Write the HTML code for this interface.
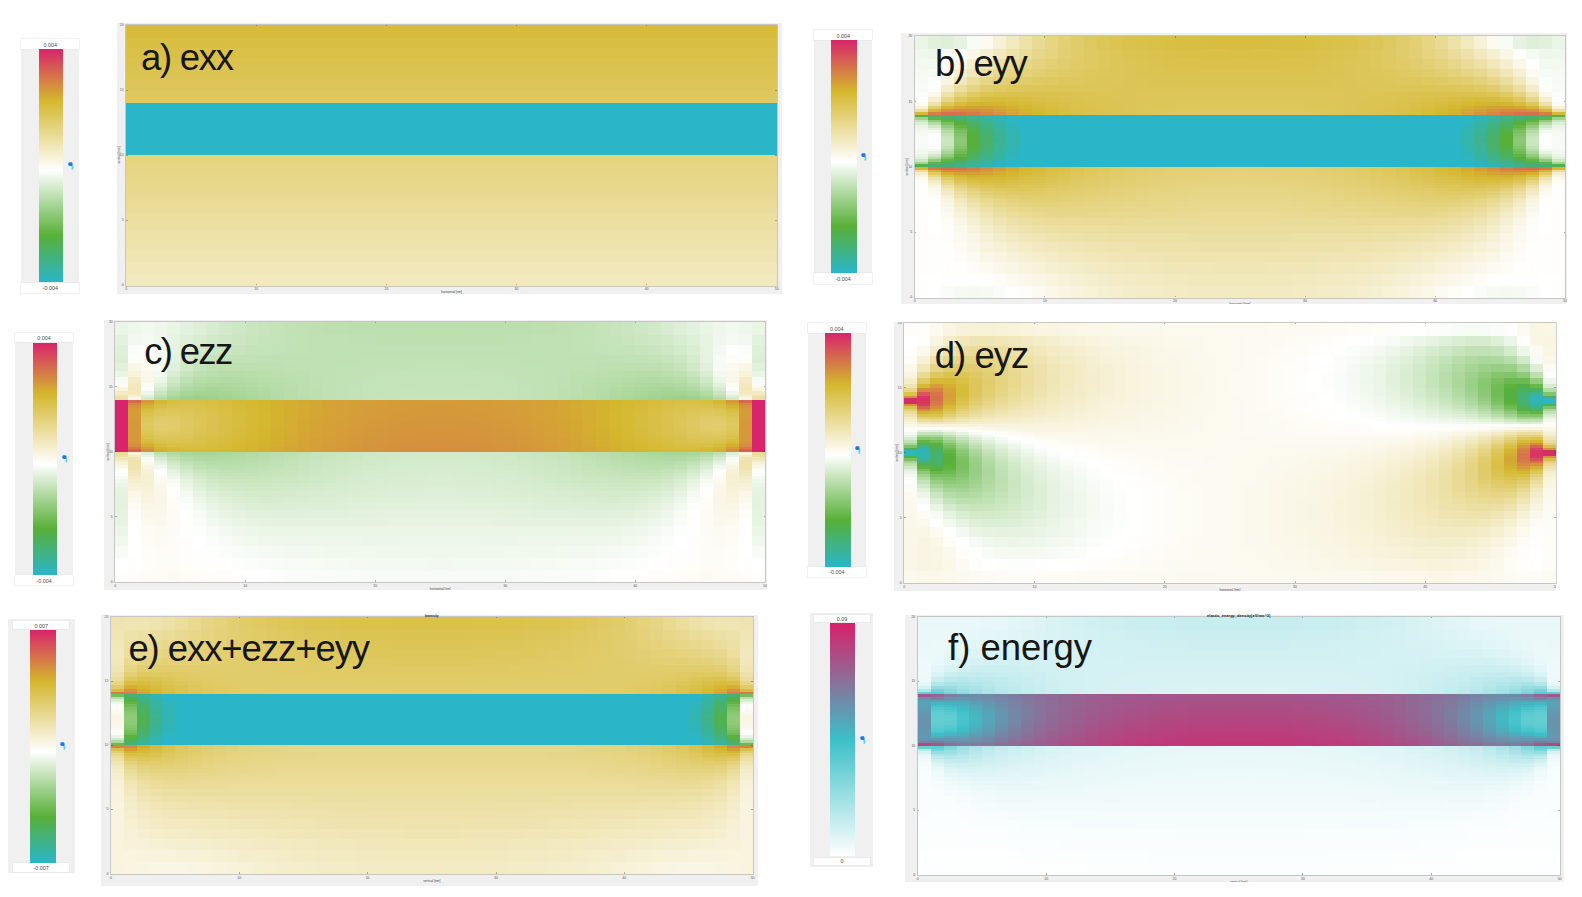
<!DOCTYPE html><html><head><meta charset="utf-8"><title>strain maps</title><style>
html,body{margin:0;padding:0;background:#fff}
body{width:1582px;height:897px;position:relative;overflow:hidden;font-family:"Liberation Sans", sans-serif}
div,i,b,span,svg{position:absolute;display:block}
.fr{background:#f0f0f0}
.plot{overflow:hidden;box-shadow:0 0 0 1px rgba(140,140,132,.42)}
.plot u{position:absolute;display:block;left:-2px;top:0;width:calc(100% + 4px);height:100%;filter:blur(.45px)}
.plot i{top:0;height:100%}
.cbp{background:#f0f0f0}
.cbx{background:#fff;box-shadow:0 0 0 .5px #e4e4e4;text-align:center;font-size:5.4px;color:#4a4a4a;padding-top:.8px;box-sizing:border-box}
.arr{overflow:visible;filter:blur(.35px)}
.tw{overflow:hidden}
.tk{font-size:3.5px;line-height:6px;width:10px;text-align:center;color:#555}
.tx{font-size:3.2px;color:#444}
.tt{font-size:4.2px;line-height:6px;font-weight:bold;text-align:center;color:#222}
.tky{width:10px;text-align:right}
.tv{transform:rotate(-90deg)}
.tm{background:rgba(60,60,60,.4)}
.lb{color:#161616;white-space:nowrap}

</style></head><body>
<div class="cbp" style="left:21.2px;top:39.3px;width:58.2px;height:254.1px"></div><div class="cbx" style="left:21.2px;top:39.3px;width:58.2px;height:10.0px;line-height:10.0px">0.004</div><div class="cbx" style="left:21.2px;top:282.5px;width:58.2px;height:10.9px;line-height:10.9px">-0.004</div><div class="cbs" style="left:38.9px;top:49.4px;width:24.3px;height:232.9px;background:linear-gradient(#d8246c 0%,#d4b72d 22%,#fff 52.2%,#58b038 80%,#2ab5c9 100%)"></div><svg class="arr" style="left:67.6px;top:162.2px" width="6" height="8" viewBox="0 0 6 8"><path d="M3.3 3 Q5.3 4.4 4.3 6.9" stroke="#62d0ec" stroke-width="1.7" fill="none" stroke-linecap="round"/><rect x=".3" y=".3" width="4.2" height="3.7" rx="1.4" fill="#1a78ea"/></svg>
<div class="cbp" style="left:814.0px;top:30.0px;width:58.4px;height:253.7px"></div><div class="cbx" style="left:814.0px;top:30.0px;width:58.4px;height:10.3px;line-height:10.3px">0.004</div><div class="cbx" style="left:814.0px;top:273.4px;width:58.4px;height:10.3px;line-height:10.3px">-0.004</div><div class="cbs" style="left:831.2px;top:40.3px;width:25.6px;height:233.1px;background:linear-gradient(#d8246c 0%,#d4b72d 22%,#fff 52.2%,#58b038 80%,#2ab5c9 100%)"></div><svg class="arr" style="left:861.0px;top:152.5px" width="6" height="8" viewBox="0 0 6 8"><path d="M3.3 3 Q5.3 4.4 4.3 6.9" stroke="#62d0ec" stroke-width="1.7" fill="none" stroke-linecap="round"/><rect x=".3" y=".3" width="4.2" height="3.7" rx="1.4" fill="#1a78ea"/></svg>
<div class="cbp" style="left:15.0px;top:333.1px;width:58.0px;height:252.2px"></div><div class="cbx" style="left:15.0px;top:333.1px;width:58.0px;height:9.4px;line-height:9.4px">0.004</div><div class="cbx" style="left:15.0px;top:575.3px;width:58.0px;height:10.0px;line-height:10.0px">-0.004</div><div class="cbs" style="left:32.5px;top:342.5px;width:24.6px;height:232.8px;background:linear-gradient(#d8246c 0%,#d4b72d 22%,#fff 52.2%,#58b038 80%,#2ab5c9 100%)"></div><svg class="arr" style="left:61.6px;top:455.0px" width="6" height="8" viewBox="0 0 6 8"><path d="M3.3 3 Q5.3 4.4 4.3 6.9" stroke="#62d0ec" stroke-width="1.7" fill="none" stroke-linecap="round"/><rect x=".3" y=".3" width="4.2" height="3.7" rx="1.4" fill="#1a78ea"/></svg>
<div class="cbp" style="left:807.5px;top:323.1px;width:58.7px;height:253.8px"></div><div class="cbx" style="left:807.5px;top:323.1px;width:58.7px;height:10.3px;line-height:10.3px">0.004</div><div class="cbx" style="left:807.5px;top:566.6px;width:58.7px;height:10.3px;line-height:10.3px">-0.004</div><div class="cbs" style="left:825.0px;top:333.4px;width:25.6px;height:233.2px;background:linear-gradient(#d8246c 0%,#d4b72d 22%,#fff 52.2%,#58b038 80%,#2ab5c9 100%)"></div><svg class="arr" style="left:854.7px;top:445.6px" width="6" height="8" viewBox="0 0 6 8"><path d="M3.3 3 Q5.3 4.4 4.3 6.9" stroke="#62d0ec" stroke-width="1.7" fill="none" stroke-linecap="round"/><rect x=".3" y=".3" width="4.2" height="3.7" rx="1.4" fill="#1a78ea"/></svg>
<div class="cbp" style="left:7.8px;top:619.0px;width:67.2px;height:254.4px"></div><div class="cbx" style="left:13.1px;top:621.2px;width:56.2px;height:8.1px;line-height:8.1px">0.007</div><div class="cbx" style="left:13.1px;top:863.4px;width:56.2px;height:8.5px;line-height:8.5px">-0.007</div><div class="cbs" style="left:30.0px;top:629.5px;width:25.6px;height:233.0px;background:linear-gradient(#d8246c 0%,#d4b72d 22%,#fff 52.2%,#58b038 80%,#2ab5c9 100%)"></div><svg class="arr" style="left:59.7px;top:742.1px" width="6" height="8" viewBox="0 0 6 8"><path d="M3.3 3 Q5.3 4.4 4.3 6.9" stroke="#62d0ec" stroke-width="1.7" fill="none" stroke-linecap="round"/><rect x=".3" y=".3" width="4.2" height="3.7" rx="1.4" fill="#1a78ea"/></svg>
<div class="cbp" style="left:810.1px;top:613.3px;width:63.0px;height:253.6px"></div><div class="cbx" style="left:813.7px;top:614.9px;width:56.8px;height:7.6px;line-height:7.6px">0.09</div><div class="cbx" style="left:813.7px;top:857.5px;width:56.8px;height:7.8px;line-height:7.8px">0</div><div class="cbs" style="left:830.3px;top:623.4px;width:24.9px;height:232.6px;background:linear-gradient(#d8206a 0%,#3cc0c8 50%,#fff 100%)"></div><svg class="arr" style="left:860.0px;top:735.6px" width="6" height="8" viewBox="0 0 6 8"><path d="M3.3 3 Q5.3 4.4 4.3 6.9" stroke="#62d0ec" stroke-width="1.7" fill="none" stroke-linecap="round"/><rect x=".3" y=".3" width="4.2" height="3.7" rx="1.4" fill="#1a78ea"/></svg>
<div class="fr" style="left:117.0px;top:22.6px;width:664.9px;height:271.2px"></div>
<div class="fr" style="left:901.4px;top:33.2px;width:666.1px;height:270.4px"></div>
<div class="fr" style="left:104.3px;top:319.6px;width:662.6px;height:270.9px"></div>
<div class="fr" style="left:893.8px;top:322.0px;width:662.7px;height:268.7px"></div>
<div class="fr" style="left:101.1px;top:614.9px;width:656.9px;height:270.9px"></div>
<div class="fr" style="left:904.9px;top:614.9px;width:659.3px;height:267.1px"></div>
<div class="plot" style="left:126px;top:24.9px;width:651px;height:260.8px"><u><i style="left:0px;width:15px;background:linear-gradient(#d7bc3c 5.02%,#d8be42 0 8.88%,#d9c047 0 12.54%,#dac24c 0 15.8%,#dbc350 0 18.71%,#dcc454 0 21.22%,#ddc557 0 23.33%,#ddc659 0 25.08%,#dec75c 0 26.64%,#dec85e 0 27.99%,#dec85f 0 29%,#dfc961 0 30%,#2ab5c9 0 50%,#e5d37e 0 51%,#e5d37f 0 52%,#e5d480 0 53%,#e5d482 0 54%,#e6d583 0 55.01%,#e6d585 0 56.01%,#e6d686 0 57.06%,#e7d687 0 58.16%,#e7d789 0 59.31%,#e7d78b 0 60.56%,#e8d88c 0 61.91%,#e8d88e 0 63.41%,#e8d991 0 65.12%,#e9da93 0 67.12%,#eadb96 0 69.47%,#eadc9a 0 72.17%,#ebde9e 0 75.23%,#ecdfa2 0 78.63%,#ede1a7 0 82.33%,#eee3ac 0 86.34%,#efe5b2 0 90.69%,#f1e7b8 0 95.35%,#f2e9bf 0)"></i><i style="left:15px;width:13px;background:linear-gradient(#d7bc3c 5.02%,#d8be42 0 8.88%,#d9c047 0 12.54%,#dac24c 0 15.8%,#dbc350 0 18.71%,#dcc454 0 21.22%,#ddc557 0 23.33%,#ddc659 0 25.08%,#dec75c 0 26.64%,#dec85e 0 27.99%,#dec85f 0 29%,#dfc961 0 30%,#2ab5c9 0 50%,#e5d37e 0 51%,#e5d37f 0 52%,#e5d480 0 53%,#e5d482 0 54%,#e6d583 0 55.01%,#e6d585 0 56.01%,#e6d686 0 57.06%,#e7d687 0 58.16%,#e7d789 0 59.31%,#e7d78b 0 60.56%,#e8d88c 0 61.91%,#e8d88e 0 63.41%,#e8d991 0 65.12%,#e9da93 0 67.12%,#eadb96 0 69.47%,#eadc9a 0 72.17%,#ebde9e 0 75.23%,#ecdfa2 0 78.63%,#ede1a7 0 82.33%,#eee3ac 0 86.34%,#efe5b2 0 90.69%,#f1e7b8 0 95.35%,#f2e9bf 0)"></i><i style="left:28px;width:13px;background:linear-gradient(#d7bc3c 5.02%,#d8be42 0 8.88%,#d9c047 0 12.54%,#dac24c 0 15.8%,#dbc350 0 18.71%,#dcc454 0 21.22%,#ddc557 0 23.33%,#ddc659 0 25.08%,#dec75c 0 26.64%,#dec85e 0 27.99%,#dec85f 0 29%,#dfc961 0 30%,#2ab5c9 0 50%,#e5d37e 0 51%,#e5d37f 0 52%,#e5d480 0 53%,#e5d482 0 54%,#e6d583 0 55.01%,#e6d585 0 56.01%,#e6d686 0 57.06%,#e7d687 0 58.16%,#e7d789 0 59.31%,#e7d78b 0 60.56%,#e8d88c 0 61.91%,#e8d88e 0 63.41%,#e8d991 0 65.12%,#e9da93 0 67.12%,#eadb96 0 69.47%,#eadc9a 0 72.17%,#ebde9e 0 75.23%,#ecdfa2 0 78.63%,#ede1a7 0 82.33%,#eee3ac 0 86.34%,#efe5b2 0 90.69%,#f1e7b8 0 95.35%,#f2e9bf 0)"></i><i style="left:41px;width:13px;background:linear-gradient(#d7bc3c 5.02%,#d8be42 0 8.88%,#d9c047 0 12.54%,#dac24c 0 15.8%,#dbc350 0 18.71%,#dcc454 0 21.22%,#ddc557 0 23.33%,#ddc659 0 25.08%,#dec75c 0 26.64%,#dec85e 0 27.99%,#dec85f 0 29%,#dfc961 0 30%,#2ab5c9 0 50%,#e5d37e 0 51%,#e5d37f 0 52%,#e5d480 0 53%,#e5d482 0 54%,#e6d583 0 55.01%,#e6d585 0 56.01%,#e6d686 0 57.06%,#e7d687 0 58.16%,#e7d789 0 59.31%,#e7d78b 0 60.56%,#e8d88c 0 61.91%,#e8d88e 0 63.41%,#e8d991 0 65.12%,#e9da93 0 67.12%,#eadb96 0 69.47%,#eadc9a 0 72.17%,#ebde9e 0 75.23%,#ecdfa2 0 78.63%,#ede1a7 0 82.33%,#eee3ac 0 86.34%,#efe5b2 0 90.69%,#f1e7b8 0 95.35%,#f2e9bf 0)"></i><i style="left:54px;width:13px;background:linear-gradient(#d7bc3c 5.02%,#d8be42 0 8.88%,#d9c047 0 12.54%,#dac24c 0 15.8%,#dbc350 0 18.71%,#dcc454 0 21.22%,#ddc557 0 23.33%,#ddc659 0 25.08%,#dec75c 0 26.64%,#dec85e 0 27.99%,#dec85f 0 29%,#dfc961 0 30%,#2ab5c9 0 50%,#e5d37e 0 51%,#e5d37f 0 52%,#e5d480 0 53%,#e5d482 0 54%,#e6d583 0 55.01%,#e6d585 0 56.01%,#e6d686 0 57.06%,#e7d687 0 58.16%,#e7d789 0 59.31%,#e7d78b 0 60.56%,#e8d88c 0 61.91%,#e8d88e 0 63.41%,#e8d991 0 65.12%,#e9da93 0 67.12%,#eadb96 0 69.47%,#eadc9a 0 72.17%,#ebde9e 0 75.23%,#ecdfa2 0 78.63%,#ede1a7 0 82.33%,#eee3ac 0 86.34%,#efe5b2 0 90.69%,#f1e7b8 0 95.35%,#f2e9bf 0)"></i><i style="left:67px;width:13px;background:linear-gradient(#d7bc3c 5.02%,#d8be42 0 8.88%,#d9c047 0 12.54%,#dac24c 0 15.8%,#dbc350 0 18.71%,#dcc454 0 21.22%,#ddc557 0 23.33%,#ddc659 0 25.08%,#dec75c 0 26.64%,#dec85e 0 27.99%,#dec85f 0 29%,#dfc961 0 30%,#2ab5c9 0 50%,#e5d37e 0 51%,#e5d37f 0 52%,#e5d480 0 53%,#e5d482 0 54%,#e6d583 0 55.01%,#e6d585 0 56.01%,#e6d686 0 57.06%,#e7d687 0 58.16%,#e7d789 0 59.31%,#e7d78b 0 60.56%,#e8d88c 0 61.91%,#e8d88e 0 63.41%,#e8d991 0 65.12%,#e9da93 0 67.12%,#eadb96 0 69.47%,#eadc9a 0 72.17%,#ebde9e 0 75.23%,#ecdfa2 0 78.63%,#ede1a7 0 82.33%,#eee3ac 0 86.34%,#efe5b2 0 90.69%,#f1e7b8 0 95.35%,#f2e9bf 0)"></i><i style="left:80px;width:13px;background:linear-gradient(#d7bc3c 5.02%,#d8be42 0 8.88%,#d9c047 0 12.54%,#dac24c 0 15.8%,#dbc350 0 18.71%,#dcc454 0 21.22%,#ddc557 0 23.33%,#ddc659 0 25.08%,#dec75c 0 26.64%,#dec85e 0 27.99%,#dec85f 0 29%,#dfc961 0 30%,#2ab5c9 0 50%,#e5d37e 0 51%,#e5d37f 0 52%,#e5d480 0 53%,#e5d482 0 54%,#e6d583 0 55.01%,#e6d585 0 56.01%,#e6d686 0 57.06%,#e7d687 0 58.16%,#e7d789 0 59.31%,#e7d78b 0 60.56%,#e8d88c 0 61.91%,#e8d88e 0 63.41%,#e8d991 0 65.12%,#e9da93 0 67.12%,#eadb96 0 69.47%,#eadc9a 0 72.17%,#ebde9e 0 75.23%,#ecdfa2 0 78.63%,#ede1a7 0 82.33%,#eee3ac 0 86.34%,#efe5b2 0 90.69%,#f1e7b8 0 95.35%,#f2e9bf 0)"></i><i style="left:93px;width:13px;background:linear-gradient(#d7bc3c 5.02%,#d8be42 0 8.88%,#d9c047 0 12.54%,#dac24c 0 15.8%,#dbc350 0 18.71%,#dcc454 0 21.22%,#ddc557 0 23.33%,#ddc659 0 25.08%,#dec75c 0 26.64%,#dec85e 0 27.99%,#dec85f 0 29%,#dfc961 0 30%,#2ab5c9 0 50%,#e5d37e 0 51%,#e5d37f 0 52%,#e5d480 0 53%,#e5d482 0 54%,#e6d583 0 55.01%,#e6d585 0 56.01%,#e6d686 0 57.06%,#e7d687 0 58.16%,#e7d789 0 59.31%,#e7d78b 0 60.56%,#e8d88c 0 61.91%,#e8d88e 0 63.41%,#e8d991 0 65.12%,#e9da93 0 67.12%,#eadb96 0 69.47%,#eadc9a 0 72.17%,#ebde9e 0 75.23%,#ecdfa2 0 78.63%,#ede1a7 0 82.33%,#eee3ac 0 86.34%,#efe5b2 0 90.69%,#f1e7b8 0 95.35%,#f2e9bf 0)"></i><i style="left:106px;width:13px;background:linear-gradient(#d7bc3c 5.02%,#d8be42 0 8.88%,#d9c047 0 12.54%,#dac24c 0 15.8%,#dbc350 0 18.71%,#dcc454 0 21.22%,#ddc557 0 23.33%,#ddc659 0 25.08%,#dec75c 0 26.64%,#dec85e 0 27.99%,#dec85f 0 29%,#dfc961 0 30%,#2ab5c9 0 50%,#e5d37e 0 51%,#e5d37f 0 52%,#e5d480 0 53%,#e5d482 0 54%,#e6d583 0 55.01%,#e6d585 0 56.01%,#e6d686 0 57.06%,#e7d687 0 58.16%,#e7d789 0 59.31%,#e7d78b 0 60.56%,#e8d88c 0 61.91%,#e8d88e 0 63.41%,#e8d991 0 65.12%,#e9da93 0 67.12%,#eadb96 0 69.47%,#eadc9a 0 72.17%,#ebde9e 0 75.23%,#ecdfa2 0 78.63%,#ede1a7 0 82.33%,#eee3ac 0 86.34%,#efe5b2 0 90.69%,#f1e7b8 0 95.35%,#f2e9bf 0)"></i><i style="left:119px;width:13px;background:linear-gradient(#d7bc3c 5.02%,#d8be42 0 8.88%,#d9c047 0 12.54%,#dac24c 0 15.8%,#dbc350 0 18.71%,#dcc454 0 21.22%,#ddc557 0 23.33%,#ddc659 0 25.08%,#dec75c 0 26.64%,#dec85e 0 27.99%,#dec85f 0 29%,#dfc961 0 30%,#2ab5c9 0 50%,#e5d37e 0 51%,#e5d37f 0 52%,#e5d480 0 53%,#e5d482 0 54%,#e6d583 0 55.01%,#e6d585 0 56.01%,#e6d686 0 57.06%,#e7d687 0 58.16%,#e7d789 0 59.31%,#e7d78b 0 60.56%,#e8d88c 0 61.91%,#e8d88e 0 63.41%,#e8d991 0 65.12%,#e9da93 0 67.12%,#eadb96 0 69.47%,#eadc9a 0 72.17%,#ebde9e 0 75.23%,#ecdfa2 0 78.63%,#ede1a7 0 82.33%,#eee3ac 0 86.34%,#efe5b2 0 90.69%,#f1e7b8 0 95.35%,#f2e9bf 0)"></i><i style="left:132px;width:13px;background:linear-gradient(#d7bc3c 5.02%,#d8be42 0 8.88%,#d9c047 0 12.54%,#dac24c 0 15.8%,#dbc350 0 18.71%,#dcc454 0 21.22%,#ddc557 0 23.33%,#ddc659 0 25.08%,#dec75c 0 26.64%,#dec85e 0 27.99%,#dec85f 0 29%,#dfc961 0 30%,#2ab5c9 0 50%,#e5d37e 0 51%,#e5d37f 0 52%,#e5d480 0 53%,#e5d482 0 54%,#e6d583 0 55.01%,#e6d585 0 56.01%,#e6d686 0 57.06%,#e7d687 0 58.16%,#e7d789 0 59.31%,#e7d78b 0 60.56%,#e8d88c 0 61.91%,#e8d88e 0 63.41%,#e8d991 0 65.12%,#e9da93 0 67.12%,#eadb96 0 69.47%,#eadc9a 0 72.17%,#ebde9e 0 75.23%,#ecdfa2 0 78.63%,#ede1a7 0 82.33%,#eee3ac 0 86.34%,#efe5b2 0 90.69%,#f1e7b8 0 95.35%,#f2e9bf 0)"></i><i style="left:145px;width:13px;background:linear-gradient(#d7bc3c 5.02%,#d8be42 0 8.88%,#d9c047 0 12.54%,#dac24c 0 15.8%,#dbc350 0 18.71%,#dcc454 0 21.22%,#ddc557 0 23.33%,#ddc659 0 25.08%,#dec75c 0 26.64%,#dec85e 0 27.99%,#dec85f 0 29%,#dfc961 0 30%,#2ab5c9 0 50%,#e5d37e 0 51%,#e5d37f 0 52%,#e5d480 0 53%,#e5d482 0 54%,#e6d583 0 55.01%,#e6d585 0 56.01%,#e6d686 0 57.06%,#e7d687 0 58.16%,#e7d789 0 59.31%,#e7d78b 0 60.56%,#e8d88c 0 61.91%,#e8d88e 0 63.41%,#e8d991 0 65.12%,#e9da93 0 67.12%,#eadb96 0 69.47%,#eadc9a 0 72.17%,#ebde9e 0 75.23%,#ecdfa2 0 78.63%,#ede1a7 0 82.33%,#eee3ac 0 86.34%,#efe5b2 0 90.69%,#f1e7b8 0 95.35%,#f2e9bf 0)"></i><i style="left:158px;width:13px;background:linear-gradient(#d7bc3c 5.02%,#d8be42 0 8.88%,#d9c047 0 12.54%,#dac24c 0 15.8%,#dbc350 0 18.71%,#dcc454 0 21.22%,#ddc557 0 23.33%,#ddc659 0 25.08%,#dec75c 0 26.64%,#dec85e 0 27.99%,#dec85f 0 29%,#dfc961 0 30%,#2ab5c9 0 50%,#e5d37e 0 51%,#e5d37f 0 52%,#e5d480 0 53%,#e5d482 0 54%,#e6d583 0 55.01%,#e6d585 0 56.01%,#e6d686 0 57.06%,#e7d687 0 58.16%,#e7d789 0 59.31%,#e7d78b 0 60.56%,#e8d88c 0 61.91%,#e8d88e 0 63.41%,#e8d991 0 65.12%,#e9da93 0 67.12%,#eadb96 0 69.47%,#eadc9a 0 72.17%,#ebde9e 0 75.23%,#ecdfa2 0 78.63%,#ede1a7 0 82.33%,#eee3ac 0 86.34%,#efe5b2 0 90.69%,#f1e7b8 0 95.35%,#f2e9bf 0)"></i><i style="left:171px;width:13px;background:linear-gradient(#d7bc3c 5.02%,#d8be42 0 8.88%,#d9c047 0 12.54%,#dac24c 0 15.8%,#dbc350 0 18.71%,#dcc454 0 21.22%,#ddc557 0 23.33%,#ddc659 0 25.08%,#dec75c 0 26.64%,#dec85e 0 27.99%,#dec85f 0 29%,#dfc961 0 30%,#2ab5c9 0 50%,#e5d37e 0 51%,#e5d37f 0 52%,#e5d480 0 53%,#e5d482 0 54%,#e6d583 0 55.01%,#e6d585 0 56.01%,#e6d686 0 57.06%,#e7d687 0 58.16%,#e7d789 0 59.31%,#e7d78b 0 60.56%,#e8d88c 0 61.91%,#e8d88e 0 63.41%,#e8d991 0 65.12%,#e9da93 0 67.12%,#eadb96 0 69.47%,#eadc9a 0 72.17%,#ebde9e 0 75.23%,#ecdfa2 0 78.63%,#ede1a7 0 82.33%,#eee3ac 0 86.34%,#efe5b2 0 90.69%,#f1e7b8 0 95.35%,#f2e9bf 0)"></i><i style="left:184px;width:13px;background:linear-gradient(#d7bc3c 5.02%,#d8be42 0 8.88%,#d9c047 0 12.54%,#dac24c 0 15.8%,#dbc350 0 18.71%,#dcc454 0 21.22%,#ddc557 0 23.33%,#ddc659 0 25.08%,#dec75c 0 26.64%,#dec85e 0 27.99%,#dec85f 0 29%,#dfc961 0 30%,#2ab5c9 0 50%,#e5d37e 0 51%,#e5d37f 0 52%,#e5d480 0 53%,#e5d482 0 54%,#e6d583 0 55.01%,#e6d585 0 56.01%,#e6d686 0 57.06%,#e7d687 0 58.16%,#e7d789 0 59.31%,#e7d78b 0 60.56%,#e8d88c 0 61.91%,#e8d88e 0 63.41%,#e8d991 0 65.12%,#e9da93 0 67.12%,#eadb96 0 69.47%,#eadc9a 0 72.17%,#ebde9e 0 75.23%,#ecdfa2 0 78.63%,#ede1a7 0 82.33%,#eee3ac 0 86.34%,#efe5b2 0 90.69%,#f1e7b8 0 95.35%,#f2e9bf 0)"></i><i style="left:197px;width:13px;background:linear-gradient(#d7bc3c 5.02%,#d8be42 0 8.88%,#d9c047 0 12.54%,#dac24c 0 15.8%,#dbc350 0 18.71%,#dcc454 0 21.22%,#ddc557 0 23.33%,#ddc659 0 25.08%,#dec75c 0 26.64%,#dec85e 0 27.99%,#dec85f 0 29%,#dfc961 0 30%,#2ab5c9 0 50%,#e5d37e 0 51%,#e5d37f 0 52%,#e5d480 0 53%,#e5d482 0 54%,#e6d583 0 55.01%,#e6d585 0 56.01%,#e6d686 0 57.06%,#e7d687 0 58.16%,#e7d789 0 59.31%,#e7d78b 0 60.56%,#e8d88c 0 61.91%,#e8d88e 0 63.41%,#e8d991 0 65.12%,#e9da93 0 67.12%,#eadb96 0 69.47%,#eadc9a 0 72.17%,#ebde9e 0 75.23%,#ecdfa2 0 78.63%,#ede1a7 0 82.33%,#eee3ac 0 86.34%,#efe5b2 0 90.69%,#f1e7b8 0 95.35%,#f2e9bf 0)"></i><i style="left:210px;width:13px;background:linear-gradient(#d7bc3c 5.02%,#d8be42 0 8.88%,#d9c047 0 12.54%,#dac24c 0 15.8%,#dbc350 0 18.71%,#dcc454 0 21.22%,#ddc557 0 23.33%,#ddc659 0 25.08%,#dec75c 0 26.64%,#dec85e 0 27.99%,#dec85f 0 29%,#dfc961 0 30%,#2ab5c9 0 50%,#e5d37e 0 51%,#e5d37f 0 52%,#e5d480 0 53%,#e5d482 0 54%,#e6d583 0 55.01%,#e6d585 0 56.01%,#e6d686 0 57.06%,#e7d687 0 58.16%,#e7d789 0 59.31%,#e7d78b 0 60.56%,#e8d88c 0 61.91%,#e8d88e 0 63.41%,#e8d991 0 65.12%,#e9da93 0 67.12%,#eadb96 0 69.47%,#eadc9a 0 72.17%,#ebde9e 0 75.23%,#ecdfa2 0 78.63%,#ede1a7 0 82.33%,#eee3ac 0 86.34%,#efe5b2 0 90.69%,#f1e7b8 0 95.35%,#f2e9bf 0)"></i><i style="left:223px;width:13px;background:linear-gradient(#d7bc3c 5.02%,#d8be42 0 8.88%,#d9c047 0 12.54%,#dac24c 0 15.8%,#dbc350 0 18.71%,#dcc454 0 21.22%,#ddc557 0 23.33%,#ddc659 0 25.08%,#dec75c 0 26.64%,#dec85e 0 27.99%,#dec85f 0 29%,#dfc961 0 30%,#2ab5c9 0 50%,#e5d37e 0 51%,#e5d37f 0 52%,#e5d480 0 53%,#e5d482 0 54%,#e6d583 0 55.01%,#e6d585 0 56.01%,#e6d686 0 57.06%,#e7d687 0 58.16%,#e7d789 0 59.31%,#e7d78b 0 60.56%,#e8d88c 0 61.91%,#e8d88e 0 63.41%,#e8d991 0 65.12%,#e9da93 0 67.12%,#eadb96 0 69.47%,#eadc9a 0 72.17%,#ebde9e 0 75.23%,#ecdfa2 0 78.63%,#ede1a7 0 82.33%,#eee3ac 0 86.34%,#efe5b2 0 90.69%,#f1e7b8 0 95.35%,#f2e9bf 0)"></i><i style="left:236px;width:13px;background:linear-gradient(#d7bc3c 5.02%,#d8be42 0 8.88%,#d9c047 0 12.54%,#dac24c 0 15.8%,#dbc350 0 18.71%,#dcc454 0 21.22%,#ddc557 0 23.33%,#ddc659 0 25.08%,#dec75c 0 26.64%,#dec85e 0 27.99%,#dec85f 0 29%,#dfc961 0 30%,#2ab5c9 0 50%,#e5d37e 0 51%,#e5d37f 0 52%,#e5d480 0 53%,#e5d482 0 54%,#e6d583 0 55.01%,#e6d585 0 56.01%,#e6d686 0 57.06%,#e7d687 0 58.16%,#e7d789 0 59.31%,#e7d78b 0 60.56%,#e8d88c 0 61.91%,#e8d88e 0 63.41%,#e8d991 0 65.12%,#e9da93 0 67.12%,#eadb96 0 69.47%,#eadc9a 0 72.17%,#ebde9e 0 75.23%,#ecdfa2 0 78.63%,#ede1a7 0 82.33%,#eee3ac 0 86.34%,#efe5b2 0 90.69%,#f1e7b8 0 95.35%,#f2e9bf 0)"></i><i style="left:249px;width:13px;background:linear-gradient(#d7bc3c 5.02%,#d8be42 0 8.88%,#d9c047 0 12.54%,#dac24c 0 15.8%,#dbc350 0 18.71%,#dcc454 0 21.22%,#ddc557 0 23.33%,#ddc659 0 25.08%,#dec75c 0 26.64%,#dec85e 0 27.99%,#dec85f 0 29%,#dfc961 0 30%,#2ab5c9 0 50%,#e5d37e 0 51%,#e5d37f 0 52%,#e5d480 0 53%,#e5d482 0 54%,#e6d583 0 55.01%,#e6d585 0 56.01%,#e6d686 0 57.06%,#e7d687 0 58.16%,#e7d789 0 59.31%,#e7d78b 0 60.56%,#e8d88c 0 61.91%,#e8d88e 0 63.41%,#e8d991 0 65.12%,#e9da93 0 67.12%,#eadb96 0 69.47%,#eadc9a 0 72.17%,#ebde9e 0 75.23%,#ecdfa2 0 78.63%,#ede1a7 0 82.33%,#eee3ac 0 86.34%,#efe5b2 0 90.69%,#f1e7b8 0 95.35%,#f2e9bf 0)"></i><i style="left:262px;width:13px;background:linear-gradient(#d7bc3c 5.02%,#d8be42 0 8.88%,#d9c047 0 12.54%,#dac24c 0 15.8%,#dbc350 0 18.71%,#dcc454 0 21.22%,#ddc557 0 23.33%,#ddc659 0 25.08%,#dec75c 0 26.64%,#dec85e 0 27.99%,#dec85f 0 29%,#dfc961 0 30%,#2ab5c9 0 50%,#e5d37e 0 51%,#e5d37f 0 52%,#e5d480 0 53%,#e5d482 0 54%,#e6d583 0 55.01%,#e6d585 0 56.01%,#e6d686 0 57.06%,#e7d687 0 58.16%,#e7d789 0 59.31%,#e7d78b 0 60.56%,#e8d88c 0 61.91%,#e8d88e 0 63.41%,#e8d991 0 65.12%,#e9da93 0 67.12%,#eadb96 0 69.47%,#eadc9a 0 72.17%,#ebde9e 0 75.23%,#ecdfa2 0 78.63%,#ede1a7 0 82.33%,#eee3ac 0 86.34%,#efe5b2 0 90.69%,#f1e7b8 0 95.35%,#f2e9bf 0)"></i><i style="left:275px;width:13px;background:linear-gradient(#d7bc3c 5.02%,#d8be42 0 8.88%,#d9c047 0 12.54%,#dac24c 0 15.8%,#dbc350 0 18.71%,#dcc454 0 21.22%,#ddc557 0 23.33%,#ddc659 0 25.08%,#dec75c 0 26.64%,#dec85e 0 27.99%,#dec85f 0 29%,#dfc961 0 30%,#2ab5c9 0 50%,#e5d37e 0 51%,#e5d37f 0 52%,#e5d480 0 53%,#e5d482 0 54%,#e6d583 0 55.01%,#e6d585 0 56.01%,#e6d686 0 57.06%,#e7d687 0 58.16%,#e7d789 0 59.31%,#e7d78b 0 60.56%,#e8d88c 0 61.91%,#e8d88e 0 63.41%,#e8d991 0 65.12%,#e9da93 0 67.12%,#eadb96 0 69.47%,#eadc9a 0 72.17%,#ebde9e 0 75.23%,#ecdfa2 0 78.63%,#ede1a7 0 82.33%,#eee3ac 0 86.34%,#efe5b2 0 90.69%,#f1e7b8 0 95.35%,#f2e9bf 0)"></i><i style="left:288px;width:13px;background:linear-gradient(#d7bc3c 5.02%,#d8be42 0 8.88%,#d9c047 0 12.54%,#dac24c 0 15.8%,#dbc350 0 18.71%,#dcc454 0 21.22%,#ddc557 0 23.33%,#ddc659 0 25.08%,#dec75c 0 26.64%,#dec85e 0 27.99%,#dec85f 0 29%,#dfc961 0 30%,#2ab5c9 0 50%,#e5d37e 0 51%,#e5d37f 0 52%,#e5d480 0 53%,#e5d482 0 54%,#e6d583 0 55.01%,#e6d585 0 56.01%,#e6d686 0 57.06%,#e7d687 0 58.16%,#e7d789 0 59.31%,#e7d78b 0 60.56%,#e8d88c 0 61.91%,#e8d88e 0 63.41%,#e8d991 0 65.12%,#e9da93 0 67.12%,#eadb96 0 69.47%,#eadc9a 0 72.17%,#ebde9e 0 75.23%,#ecdfa2 0 78.63%,#ede1a7 0 82.33%,#eee3ac 0 86.34%,#efe5b2 0 90.69%,#f1e7b8 0 95.35%,#f2e9bf 0)"></i><i style="left:301px;width:13px;background:linear-gradient(#d7bc3c 5.02%,#d8be42 0 8.88%,#d9c047 0 12.54%,#dac24c 0 15.8%,#dbc350 0 18.71%,#dcc454 0 21.22%,#ddc557 0 23.33%,#ddc659 0 25.08%,#dec75c 0 26.64%,#dec85e 0 27.99%,#dec85f 0 29%,#dfc961 0 30%,#2ab5c9 0 50%,#e5d37e 0 51%,#e5d37f 0 52%,#e5d480 0 53%,#e5d482 0 54%,#e6d583 0 55.01%,#e6d585 0 56.01%,#e6d686 0 57.06%,#e7d687 0 58.16%,#e7d789 0 59.31%,#e7d78b 0 60.56%,#e8d88c 0 61.91%,#e8d88e 0 63.41%,#e8d991 0 65.12%,#e9da93 0 67.12%,#eadb96 0 69.47%,#eadc9a 0 72.17%,#ebde9e 0 75.23%,#ecdfa2 0 78.63%,#ede1a7 0 82.33%,#eee3ac 0 86.34%,#efe5b2 0 90.69%,#f1e7b8 0 95.35%,#f2e9bf 0)"></i><i style="left:314px;width:14px;background:linear-gradient(#d7bc3c 5.02%,#d8be42 0 8.88%,#d9c047 0 12.54%,#dac24c 0 15.8%,#dbc350 0 18.71%,#dcc454 0 21.22%,#ddc557 0 23.33%,#ddc659 0 25.08%,#dec75c 0 26.64%,#dec85e 0 27.99%,#dec85f 0 29%,#dfc961 0 30%,#2ab5c9 0 50%,#e5d37e 0 51%,#e5d37f 0 52%,#e5d480 0 53%,#e5d482 0 54%,#e6d583 0 55.01%,#e6d585 0 56.01%,#e6d686 0 57.06%,#e7d687 0 58.16%,#e7d789 0 59.31%,#e7d78b 0 60.56%,#e8d88c 0 61.91%,#e8d88e 0 63.41%,#e8d991 0 65.12%,#e9da93 0 67.12%,#eadb96 0 69.47%,#eadc9a 0 72.17%,#ebde9e 0 75.23%,#ecdfa2 0 78.63%,#ede1a7 0 82.33%,#eee3ac 0 86.34%,#efe5b2 0 90.69%,#f1e7b8 0 95.35%,#f2e9bf 0)"></i><i style="left:328px;width:13px;background:linear-gradient(#d7bc3c 5.02%,#d8be42 0 8.88%,#d9c047 0 12.54%,#dac24c 0 15.8%,#dbc350 0 18.71%,#dcc454 0 21.22%,#ddc557 0 23.33%,#ddc659 0 25.08%,#dec75c 0 26.64%,#dec85e 0 27.99%,#dec85f 0 29%,#dfc961 0 30%,#2ab5c9 0 50%,#e5d37e 0 51%,#e5d37f 0 52%,#e5d480 0 53%,#e5d482 0 54%,#e6d583 0 55.01%,#e6d585 0 56.01%,#e6d686 0 57.06%,#e7d687 0 58.16%,#e7d789 0 59.31%,#e7d78b 0 60.56%,#e8d88c 0 61.91%,#e8d88e 0 63.41%,#e8d991 0 65.12%,#e9da93 0 67.12%,#eadb96 0 69.47%,#eadc9a 0 72.17%,#ebde9e 0 75.23%,#ecdfa2 0 78.63%,#ede1a7 0 82.33%,#eee3ac 0 86.34%,#efe5b2 0 90.69%,#f1e7b8 0 95.35%,#f2e9bf 0)"></i><i style="left:341px;width:13px;background:linear-gradient(#d7bc3c 5.02%,#d8be42 0 8.88%,#d9c047 0 12.54%,#dac24c 0 15.8%,#dbc350 0 18.71%,#dcc454 0 21.22%,#ddc557 0 23.33%,#ddc659 0 25.08%,#dec75c 0 26.64%,#dec85e 0 27.99%,#dec85f 0 29%,#dfc961 0 30%,#2ab5c9 0 50%,#e5d37e 0 51%,#e5d37f 0 52%,#e5d480 0 53%,#e5d482 0 54%,#e6d583 0 55.01%,#e6d585 0 56.01%,#e6d686 0 57.06%,#e7d687 0 58.16%,#e7d789 0 59.31%,#e7d78b 0 60.56%,#e8d88c 0 61.91%,#e8d88e 0 63.41%,#e8d991 0 65.12%,#e9da93 0 67.12%,#eadb96 0 69.47%,#eadc9a 0 72.17%,#ebde9e 0 75.23%,#ecdfa2 0 78.63%,#ede1a7 0 82.33%,#eee3ac 0 86.34%,#efe5b2 0 90.69%,#f1e7b8 0 95.35%,#f2e9bf 0)"></i><i style="left:354px;width:13px;background:linear-gradient(#d7bc3c 5.02%,#d8be42 0 8.88%,#d9c047 0 12.54%,#dac24c 0 15.8%,#dbc350 0 18.71%,#dcc454 0 21.22%,#ddc557 0 23.33%,#ddc659 0 25.08%,#dec75c 0 26.64%,#dec85e 0 27.99%,#dec85f 0 29%,#dfc961 0 30%,#2ab5c9 0 50%,#e5d37e 0 51%,#e5d37f 0 52%,#e5d480 0 53%,#e5d482 0 54%,#e6d583 0 55.01%,#e6d585 0 56.01%,#e6d686 0 57.06%,#e7d687 0 58.16%,#e7d789 0 59.31%,#e7d78b 0 60.56%,#e8d88c 0 61.91%,#e8d88e 0 63.41%,#e8d991 0 65.12%,#e9da93 0 67.12%,#eadb96 0 69.47%,#eadc9a 0 72.17%,#ebde9e 0 75.23%,#ecdfa2 0 78.63%,#ede1a7 0 82.33%,#eee3ac 0 86.34%,#efe5b2 0 90.69%,#f1e7b8 0 95.35%,#f2e9bf 0)"></i><i style="left:367px;width:13px;background:linear-gradient(#d7bc3c 5.02%,#d8be42 0 8.88%,#d9c047 0 12.54%,#dac24c 0 15.8%,#dbc350 0 18.71%,#dcc454 0 21.22%,#ddc557 0 23.33%,#ddc659 0 25.08%,#dec75c 0 26.64%,#dec85e 0 27.99%,#dec85f 0 29%,#dfc961 0 30%,#2ab5c9 0 50%,#e5d37e 0 51%,#e5d37f 0 52%,#e5d480 0 53%,#e5d482 0 54%,#e6d583 0 55.01%,#e6d585 0 56.01%,#e6d686 0 57.06%,#e7d687 0 58.16%,#e7d789 0 59.31%,#e7d78b 0 60.56%,#e8d88c 0 61.91%,#e8d88e 0 63.41%,#e8d991 0 65.12%,#e9da93 0 67.12%,#eadb96 0 69.47%,#eadc9a 0 72.17%,#ebde9e 0 75.23%,#ecdfa2 0 78.63%,#ede1a7 0 82.33%,#eee3ac 0 86.34%,#efe5b2 0 90.69%,#f1e7b8 0 95.35%,#f2e9bf 0)"></i><i style="left:380px;width:13px;background:linear-gradient(#d7bc3c 5.02%,#d8be42 0 8.88%,#d9c047 0 12.54%,#dac24c 0 15.8%,#dbc350 0 18.71%,#dcc454 0 21.22%,#ddc557 0 23.33%,#ddc659 0 25.08%,#dec75c 0 26.64%,#dec85e 0 27.99%,#dec85f 0 29%,#dfc961 0 30%,#2ab5c9 0 50%,#e5d37e 0 51%,#e5d37f 0 52%,#e5d480 0 53%,#e5d482 0 54%,#e6d583 0 55.01%,#e6d585 0 56.01%,#e6d686 0 57.06%,#e7d687 0 58.16%,#e7d789 0 59.31%,#e7d78b 0 60.56%,#e8d88c 0 61.91%,#e8d88e 0 63.41%,#e8d991 0 65.12%,#e9da93 0 67.12%,#eadb96 0 69.47%,#eadc9a 0 72.17%,#ebde9e 0 75.23%,#ecdfa2 0 78.63%,#ede1a7 0 82.33%,#eee3ac 0 86.34%,#efe5b2 0 90.69%,#f1e7b8 0 95.35%,#f2e9bf 0)"></i><i style="left:393px;width:13px;background:linear-gradient(#d7bc3c 5.02%,#d8be42 0 8.88%,#d9c047 0 12.54%,#dac24c 0 15.8%,#dbc350 0 18.71%,#dcc454 0 21.22%,#ddc557 0 23.33%,#ddc659 0 25.08%,#dec75c 0 26.64%,#dec85e 0 27.99%,#dec85f 0 29%,#dfc961 0 30%,#2ab5c9 0 50%,#e5d37e 0 51%,#e5d37f 0 52%,#e5d480 0 53%,#e5d482 0 54%,#e6d583 0 55.01%,#e6d585 0 56.01%,#e6d686 0 57.06%,#e7d687 0 58.16%,#e7d789 0 59.31%,#e7d78b 0 60.56%,#e8d88c 0 61.91%,#e8d88e 0 63.41%,#e8d991 0 65.12%,#e9da93 0 67.12%,#eadb96 0 69.47%,#eadc9a 0 72.17%,#ebde9e 0 75.23%,#ecdfa2 0 78.63%,#ede1a7 0 82.33%,#eee3ac 0 86.34%,#efe5b2 0 90.69%,#f1e7b8 0 95.35%,#f2e9bf 0)"></i><i style="left:406px;width:13px;background:linear-gradient(#d7bc3c 5.02%,#d8be42 0 8.88%,#d9c047 0 12.54%,#dac24c 0 15.8%,#dbc350 0 18.71%,#dcc454 0 21.22%,#ddc557 0 23.33%,#ddc659 0 25.08%,#dec75c 0 26.64%,#dec85e 0 27.99%,#dec85f 0 29%,#dfc961 0 30%,#2ab5c9 0 50%,#e5d37e 0 51%,#e5d37f 0 52%,#e5d480 0 53%,#e5d482 0 54%,#e6d583 0 55.01%,#e6d585 0 56.01%,#e6d686 0 57.06%,#e7d687 0 58.16%,#e7d789 0 59.31%,#e7d78b 0 60.56%,#e8d88c 0 61.91%,#e8d88e 0 63.41%,#e8d991 0 65.12%,#e9da93 0 67.12%,#eadb96 0 69.47%,#eadc9a 0 72.17%,#ebde9e 0 75.23%,#ecdfa2 0 78.63%,#ede1a7 0 82.33%,#eee3ac 0 86.34%,#efe5b2 0 90.69%,#f1e7b8 0 95.35%,#f2e9bf 0)"></i><i style="left:419px;width:13px;background:linear-gradient(#d7bc3c 5.02%,#d8be42 0 8.88%,#d9c047 0 12.54%,#dac24c 0 15.8%,#dbc350 0 18.71%,#dcc454 0 21.22%,#ddc557 0 23.33%,#ddc659 0 25.08%,#dec75c 0 26.64%,#dec85e 0 27.99%,#dec85f 0 29%,#dfc961 0 30%,#2ab5c9 0 50%,#e5d37e 0 51%,#e5d37f 0 52%,#e5d480 0 53%,#e5d482 0 54%,#e6d583 0 55.01%,#e6d585 0 56.01%,#e6d686 0 57.06%,#e7d687 0 58.16%,#e7d789 0 59.31%,#e7d78b 0 60.56%,#e8d88c 0 61.91%,#e8d88e 0 63.41%,#e8d991 0 65.12%,#e9da93 0 67.12%,#eadb96 0 69.47%,#eadc9a 0 72.17%,#ebde9e 0 75.23%,#ecdfa2 0 78.63%,#ede1a7 0 82.33%,#eee3ac 0 86.34%,#efe5b2 0 90.69%,#f1e7b8 0 95.35%,#f2e9bf 0)"></i><i style="left:432px;width:13px;background:linear-gradient(#d7bc3c 5.02%,#d8be42 0 8.88%,#d9c047 0 12.54%,#dac24c 0 15.8%,#dbc350 0 18.71%,#dcc454 0 21.22%,#ddc557 0 23.33%,#ddc659 0 25.08%,#dec75c 0 26.64%,#dec85e 0 27.99%,#dec85f 0 29%,#dfc961 0 30%,#2ab5c9 0 50%,#e5d37e 0 51%,#e5d37f 0 52%,#e5d480 0 53%,#e5d482 0 54%,#e6d583 0 55.01%,#e6d585 0 56.01%,#e6d686 0 57.06%,#e7d687 0 58.16%,#e7d789 0 59.31%,#e7d78b 0 60.56%,#e8d88c 0 61.91%,#e8d88e 0 63.41%,#e8d991 0 65.12%,#e9da93 0 67.12%,#eadb96 0 69.47%,#eadc9a 0 72.17%,#ebde9e 0 75.23%,#ecdfa2 0 78.63%,#ede1a7 0 82.33%,#eee3ac 0 86.34%,#efe5b2 0 90.69%,#f1e7b8 0 95.35%,#f2e9bf 0)"></i><i style="left:445px;width:13px;background:linear-gradient(#d7bc3c 5.02%,#d8be42 0 8.88%,#d9c047 0 12.54%,#dac24c 0 15.8%,#dbc350 0 18.71%,#dcc454 0 21.22%,#ddc557 0 23.33%,#ddc659 0 25.08%,#dec75c 0 26.64%,#dec85e 0 27.99%,#dec85f 0 29%,#dfc961 0 30%,#2ab5c9 0 50%,#e5d37e 0 51%,#e5d37f 0 52%,#e5d480 0 53%,#e5d482 0 54%,#e6d583 0 55.01%,#e6d585 0 56.01%,#e6d686 0 57.06%,#e7d687 0 58.16%,#e7d789 0 59.31%,#e7d78b 0 60.56%,#e8d88c 0 61.91%,#e8d88e 0 63.41%,#e8d991 0 65.12%,#e9da93 0 67.12%,#eadb96 0 69.47%,#eadc9a 0 72.17%,#ebde9e 0 75.23%,#ecdfa2 0 78.63%,#ede1a7 0 82.33%,#eee3ac 0 86.34%,#efe5b2 0 90.69%,#f1e7b8 0 95.35%,#f2e9bf 0)"></i><i style="left:458px;width:13px;background:linear-gradient(#d7bc3c 5.02%,#d8be42 0 8.88%,#d9c047 0 12.54%,#dac24c 0 15.8%,#dbc350 0 18.71%,#dcc454 0 21.22%,#ddc557 0 23.33%,#ddc659 0 25.08%,#dec75c 0 26.64%,#dec85e 0 27.99%,#dec85f 0 29%,#dfc961 0 30%,#2ab5c9 0 50%,#e5d37e 0 51%,#e5d37f 0 52%,#e5d480 0 53%,#e5d482 0 54%,#e6d583 0 55.01%,#e6d585 0 56.01%,#e6d686 0 57.06%,#e7d687 0 58.16%,#e7d789 0 59.31%,#e7d78b 0 60.56%,#e8d88c 0 61.91%,#e8d88e 0 63.41%,#e8d991 0 65.12%,#e9da93 0 67.12%,#eadb96 0 69.47%,#eadc9a 0 72.17%,#ebde9e 0 75.23%,#ecdfa2 0 78.63%,#ede1a7 0 82.33%,#eee3ac 0 86.34%,#efe5b2 0 90.69%,#f1e7b8 0 95.35%,#f2e9bf 0)"></i><i style="left:471px;width:13px;background:linear-gradient(#d7bc3c 5.02%,#d8be42 0 8.88%,#d9c047 0 12.54%,#dac24c 0 15.8%,#dbc350 0 18.71%,#dcc454 0 21.22%,#ddc557 0 23.33%,#ddc659 0 25.08%,#dec75c 0 26.64%,#dec85e 0 27.99%,#dec85f 0 29%,#dfc961 0 30%,#2ab5c9 0 50%,#e5d37e 0 51%,#e5d37f 0 52%,#e5d480 0 53%,#e5d482 0 54%,#e6d583 0 55.01%,#e6d585 0 56.01%,#e6d686 0 57.06%,#e7d687 0 58.16%,#e7d789 0 59.31%,#e7d78b 0 60.56%,#e8d88c 0 61.91%,#e8d88e 0 63.41%,#e8d991 0 65.12%,#e9da93 0 67.12%,#eadb96 0 69.47%,#eadc9a 0 72.17%,#ebde9e 0 75.23%,#ecdfa2 0 78.63%,#ede1a7 0 82.33%,#eee3ac 0 86.34%,#efe5b2 0 90.69%,#f1e7b8 0 95.35%,#f2e9bf 0)"></i><i style="left:484px;width:13px;background:linear-gradient(#d7bc3c 5.02%,#d8be42 0 8.88%,#d9c047 0 12.54%,#dac24c 0 15.8%,#dbc350 0 18.71%,#dcc454 0 21.22%,#ddc557 0 23.33%,#ddc659 0 25.08%,#dec75c 0 26.64%,#dec85e 0 27.99%,#dec85f 0 29%,#dfc961 0 30%,#2ab5c9 0 50%,#e5d37e 0 51%,#e5d37f 0 52%,#e5d480 0 53%,#e5d482 0 54%,#e6d583 0 55.01%,#e6d585 0 56.01%,#e6d686 0 57.06%,#e7d687 0 58.16%,#e7d789 0 59.31%,#e7d78b 0 60.56%,#e8d88c 0 61.91%,#e8d88e 0 63.41%,#e8d991 0 65.12%,#e9da93 0 67.12%,#eadb96 0 69.47%,#eadc9a 0 72.17%,#ebde9e 0 75.23%,#ecdfa2 0 78.63%,#ede1a7 0 82.33%,#eee3ac 0 86.34%,#efe5b2 0 90.69%,#f1e7b8 0 95.35%,#f2e9bf 0)"></i><i style="left:497px;width:13px;background:linear-gradient(#d7bc3c 5.02%,#d8be42 0 8.88%,#d9c047 0 12.54%,#dac24c 0 15.8%,#dbc350 0 18.71%,#dcc454 0 21.22%,#ddc557 0 23.33%,#ddc659 0 25.08%,#dec75c 0 26.64%,#dec85e 0 27.99%,#dec85f 0 29%,#dfc961 0 30%,#2ab5c9 0 50%,#e5d37e 0 51%,#e5d37f 0 52%,#e5d480 0 53%,#e5d482 0 54%,#e6d583 0 55.01%,#e6d585 0 56.01%,#e6d686 0 57.06%,#e7d687 0 58.16%,#e7d789 0 59.31%,#e7d78b 0 60.56%,#e8d88c 0 61.91%,#e8d88e 0 63.41%,#e8d991 0 65.12%,#e9da93 0 67.12%,#eadb96 0 69.47%,#eadc9a 0 72.17%,#ebde9e 0 75.23%,#ecdfa2 0 78.63%,#ede1a7 0 82.33%,#eee3ac 0 86.34%,#efe5b2 0 90.69%,#f1e7b8 0 95.35%,#f2e9bf 0)"></i><i style="left:510px;width:13px;background:linear-gradient(#d7bc3c 5.02%,#d8be42 0 8.88%,#d9c047 0 12.54%,#dac24c 0 15.8%,#dbc350 0 18.71%,#dcc454 0 21.22%,#ddc557 0 23.33%,#ddc659 0 25.08%,#dec75c 0 26.64%,#dec85e 0 27.99%,#dec85f 0 29%,#dfc961 0 30%,#2ab5c9 0 50%,#e5d37e 0 51%,#e5d37f 0 52%,#e5d480 0 53%,#e5d482 0 54%,#e6d583 0 55.01%,#e6d585 0 56.01%,#e6d686 0 57.06%,#e7d687 0 58.16%,#e7d789 0 59.31%,#e7d78b 0 60.56%,#e8d88c 0 61.91%,#e8d88e 0 63.41%,#e8d991 0 65.12%,#e9da93 0 67.12%,#eadb96 0 69.47%,#eadc9a 0 72.17%,#ebde9e 0 75.23%,#ecdfa2 0 78.63%,#ede1a7 0 82.33%,#eee3ac 0 86.34%,#efe5b2 0 90.69%,#f1e7b8 0 95.35%,#f2e9bf 0)"></i><i style="left:523px;width:13px;background:linear-gradient(#d7bc3c 5.02%,#d8be42 0 8.88%,#d9c047 0 12.54%,#dac24c 0 15.8%,#dbc350 0 18.71%,#dcc454 0 21.22%,#ddc557 0 23.33%,#ddc659 0 25.08%,#dec75c 0 26.64%,#dec85e 0 27.99%,#dec85f 0 29%,#dfc961 0 30%,#2ab5c9 0 50%,#e5d37e 0 51%,#e5d37f 0 52%,#e5d480 0 53%,#e5d482 0 54%,#e6d583 0 55.01%,#e6d585 0 56.01%,#e6d686 0 57.06%,#e7d687 0 58.16%,#e7d789 0 59.31%,#e7d78b 0 60.56%,#e8d88c 0 61.91%,#e8d88e 0 63.41%,#e8d991 0 65.12%,#e9da93 0 67.12%,#eadb96 0 69.47%,#eadc9a 0 72.17%,#ebde9e 0 75.23%,#ecdfa2 0 78.63%,#ede1a7 0 82.33%,#eee3ac 0 86.34%,#efe5b2 0 90.69%,#f1e7b8 0 95.35%,#f2e9bf 0)"></i><i style="left:536px;width:13px;background:linear-gradient(#d7bc3c 5.02%,#d8be42 0 8.88%,#d9c047 0 12.54%,#dac24c 0 15.8%,#dbc350 0 18.71%,#dcc454 0 21.22%,#ddc557 0 23.33%,#ddc659 0 25.08%,#dec75c 0 26.64%,#dec85e 0 27.99%,#dec85f 0 29%,#dfc961 0 30%,#2ab5c9 0 50%,#e5d37e 0 51%,#e5d37f 0 52%,#e5d480 0 53%,#e5d482 0 54%,#e6d583 0 55.01%,#e6d585 0 56.01%,#e6d686 0 57.06%,#e7d687 0 58.16%,#e7d789 0 59.31%,#e7d78b 0 60.56%,#e8d88c 0 61.91%,#e8d88e 0 63.41%,#e8d991 0 65.12%,#e9da93 0 67.12%,#eadb96 0 69.47%,#eadc9a 0 72.17%,#ebde9e 0 75.23%,#ecdfa2 0 78.63%,#ede1a7 0 82.33%,#eee3ac 0 86.34%,#efe5b2 0 90.69%,#f1e7b8 0 95.35%,#f2e9bf 0)"></i><i style="left:549px;width:13px;background:linear-gradient(#d7bc3c 5.02%,#d8be42 0 8.88%,#d9c047 0 12.54%,#dac24c 0 15.8%,#dbc350 0 18.71%,#dcc454 0 21.22%,#ddc557 0 23.33%,#ddc659 0 25.08%,#dec75c 0 26.64%,#dec85e 0 27.99%,#dec85f 0 29%,#dfc961 0 30%,#2ab5c9 0 50%,#e5d37e 0 51%,#e5d37f 0 52%,#e5d480 0 53%,#e5d482 0 54%,#e6d583 0 55.01%,#e6d585 0 56.01%,#e6d686 0 57.06%,#e7d687 0 58.16%,#e7d789 0 59.31%,#e7d78b 0 60.56%,#e8d88c 0 61.91%,#e8d88e 0 63.41%,#e8d991 0 65.12%,#e9da93 0 67.12%,#eadb96 0 69.47%,#eadc9a 0 72.17%,#ebde9e 0 75.23%,#ecdfa2 0 78.63%,#ede1a7 0 82.33%,#eee3ac 0 86.34%,#efe5b2 0 90.69%,#f1e7b8 0 95.35%,#f2e9bf 0)"></i><i style="left:562px;width:13px;background:linear-gradient(#d7bc3c 5.02%,#d8be42 0 8.88%,#d9c047 0 12.54%,#dac24c 0 15.8%,#dbc350 0 18.71%,#dcc454 0 21.22%,#ddc557 0 23.33%,#ddc659 0 25.08%,#dec75c 0 26.64%,#dec85e 0 27.99%,#dec85f 0 29%,#dfc961 0 30%,#2ab5c9 0 50%,#e5d37e 0 51%,#e5d37f 0 52%,#e5d480 0 53%,#e5d482 0 54%,#e6d583 0 55.01%,#e6d585 0 56.01%,#e6d686 0 57.06%,#e7d687 0 58.16%,#e7d789 0 59.31%,#e7d78b 0 60.56%,#e8d88c 0 61.91%,#e8d88e 0 63.41%,#e8d991 0 65.12%,#e9da93 0 67.12%,#eadb96 0 69.47%,#eadc9a 0 72.17%,#ebde9e 0 75.23%,#ecdfa2 0 78.63%,#ede1a7 0 82.33%,#eee3ac 0 86.34%,#efe5b2 0 90.69%,#f1e7b8 0 95.35%,#f2e9bf 0)"></i><i style="left:575px;width:13px;background:linear-gradient(#d7bc3c 5.02%,#d8be42 0 8.88%,#d9c047 0 12.54%,#dac24c 0 15.8%,#dbc350 0 18.71%,#dcc454 0 21.22%,#ddc557 0 23.33%,#ddc659 0 25.08%,#dec75c 0 26.64%,#dec85e 0 27.99%,#dec85f 0 29%,#dfc961 0 30%,#2ab5c9 0 50%,#e5d37e 0 51%,#e5d37f 0 52%,#e5d480 0 53%,#e5d482 0 54%,#e6d583 0 55.01%,#e6d585 0 56.01%,#e6d686 0 57.06%,#e7d687 0 58.16%,#e7d789 0 59.31%,#e7d78b 0 60.56%,#e8d88c 0 61.91%,#e8d88e 0 63.41%,#e8d991 0 65.12%,#e9da93 0 67.12%,#eadb96 0 69.47%,#eadc9a 0 72.17%,#ebde9e 0 75.23%,#ecdfa2 0 78.63%,#ede1a7 0 82.33%,#eee3ac 0 86.34%,#efe5b2 0 90.69%,#f1e7b8 0 95.35%,#f2e9bf 0)"></i><i style="left:588px;width:13px;background:linear-gradient(#d7bc3c 5.02%,#d8be42 0 8.88%,#d9c047 0 12.54%,#dac24c 0 15.8%,#dbc350 0 18.71%,#dcc454 0 21.22%,#ddc557 0 23.33%,#ddc659 0 25.08%,#dec75c 0 26.64%,#dec85e 0 27.99%,#dec85f 0 29%,#dfc961 0 30%,#2ab5c9 0 50%,#e5d37e 0 51%,#e5d37f 0 52%,#e5d480 0 53%,#e5d482 0 54%,#e6d583 0 55.01%,#e6d585 0 56.01%,#e6d686 0 57.06%,#e7d687 0 58.16%,#e7d789 0 59.31%,#e7d78b 0 60.56%,#e8d88c 0 61.91%,#e8d88e 0 63.41%,#e8d991 0 65.12%,#e9da93 0 67.12%,#eadb96 0 69.47%,#eadc9a 0 72.17%,#ebde9e 0 75.23%,#ecdfa2 0 78.63%,#ede1a7 0 82.33%,#eee3ac 0 86.34%,#efe5b2 0 90.69%,#f1e7b8 0 95.35%,#f2e9bf 0)"></i><i style="left:601px;width:13px;background:linear-gradient(#d7bc3c 5.02%,#d8be42 0 8.88%,#d9c047 0 12.54%,#dac24c 0 15.8%,#dbc350 0 18.71%,#dcc454 0 21.22%,#ddc557 0 23.33%,#ddc659 0 25.08%,#dec75c 0 26.64%,#dec85e 0 27.99%,#dec85f 0 29%,#dfc961 0 30%,#2ab5c9 0 50%,#e5d37e 0 51%,#e5d37f 0 52%,#e5d480 0 53%,#e5d482 0 54%,#e6d583 0 55.01%,#e6d585 0 56.01%,#e6d686 0 57.06%,#e7d687 0 58.16%,#e7d789 0 59.31%,#e7d78b 0 60.56%,#e8d88c 0 61.91%,#e8d88e 0 63.41%,#e8d991 0 65.12%,#e9da93 0 67.12%,#eadb96 0 69.47%,#eadc9a 0 72.17%,#ebde9e 0 75.23%,#ecdfa2 0 78.63%,#ede1a7 0 82.33%,#eee3ac 0 86.34%,#efe5b2 0 90.69%,#f1e7b8 0 95.35%,#f2e9bf 0)"></i><i style="left:614px;width:13px;background:linear-gradient(#d7bc3c 5.02%,#d8be42 0 8.88%,#d9c047 0 12.54%,#dac24c 0 15.8%,#dbc350 0 18.71%,#dcc454 0 21.22%,#ddc557 0 23.33%,#ddc659 0 25.08%,#dec75c 0 26.64%,#dec85e 0 27.99%,#dec85f 0 29%,#dfc961 0 30%,#2ab5c9 0 50%,#e5d37e 0 51%,#e5d37f 0 52%,#e5d480 0 53%,#e5d482 0 54%,#e6d583 0 55.01%,#e6d585 0 56.01%,#e6d686 0 57.06%,#e7d687 0 58.16%,#e7d789 0 59.31%,#e7d78b 0 60.56%,#e8d88c 0 61.91%,#e8d88e 0 63.41%,#e8d991 0 65.12%,#e9da93 0 67.12%,#eadb96 0 69.47%,#eadc9a 0 72.17%,#ebde9e 0 75.23%,#ecdfa2 0 78.63%,#ede1a7 0 82.33%,#eee3ac 0 86.34%,#efe5b2 0 90.69%,#f1e7b8 0 95.35%,#f2e9bf 0)"></i><i style="left:627px;width:13px;background:linear-gradient(#d7bc3c 5.02%,#d8be42 0 8.88%,#d9c047 0 12.54%,#dac24c 0 15.8%,#dbc350 0 18.71%,#dcc454 0 21.22%,#ddc557 0 23.33%,#ddc659 0 25.08%,#dec75c 0 26.64%,#dec85e 0 27.99%,#dec85f 0 29%,#dfc961 0 30%,#2ab5c9 0 50%,#e5d37e 0 51%,#e5d37f 0 52%,#e5d480 0 53%,#e5d482 0 54%,#e6d583 0 55.01%,#e6d585 0 56.01%,#e6d686 0 57.06%,#e7d687 0 58.16%,#e7d789 0 59.31%,#e7d78b 0 60.56%,#e8d88c 0 61.91%,#e8d88e 0 63.41%,#e8d991 0 65.12%,#e9da93 0 67.12%,#eadb96 0 69.47%,#eadc9a 0 72.17%,#ebde9e 0 75.23%,#ecdfa2 0 78.63%,#ede1a7 0 82.33%,#eee3ac 0 86.34%,#efe5b2 0 90.69%,#f1e7b8 0 95.35%,#f2e9bf 0)"></i><i style="left:640px;width:15px;background:linear-gradient(#d7bc3c 5.02%,#d8be42 0 8.88%,#d9c047 0 12.54%,#dac24c 0 15.8%,#dbc350 0 18.71%,#dcc454 0 21.22%,#ddc557 0 23.33%,#ddc659 0 25.08%,#dec75c 0 26.64%,#dec85e 0 27.99%,#dec85f 0 29%,#dfc961 0 30%,#2ab5c9 0 50%,#e5d37e 0 51%,#e5d37f 0 52%,#e5d480 0 53%,#e5d482 0 54%,#e6d583 0 55.01%,#e6d585 0 56.01%,#e6d686 0 57.06%,#e7d687 0 58.16%,#e7d789 0 59.31%,#e7d78b 0 60.56%,#e8d88c 0 61.91%,#e8d88e 0 63.41%,#e8d991 0 65.12%,#e9da93 0 67.12%,#eadb96 0 69.47%,#eadc9a 0 72.17%,#ebde9e 0 75.23%,#ecdfa2 0 78.63%,#ede1a7 0 82.33%,#eee3ac 0 86.34%,#efe5b2 0 90.69%,#f1e7b8 0 95.35%,#f2e9bf 0)"></i></u></div>
<div class="plot" style="left:915px;top:36.4px;width:650px;height:261.3px"><u><i style="left:0px;width:15px;background:linear-gradient(#e9f5e5 5.02%,#eff8ec 0 8.88%,#f3f9f1 0 12.54%,#f5faf3 0 15.8%,#f7fbf5 0 18.71%,#f8fcf7 0 21.22%,#fbfdfa 0 23.33%,#fffffe 0 25.08%,#fcfaf1 0 26.64%,#f7f1d6 0 27.99%,#ecdfa3 0 29%,#d6ba35 0 30%,#50b152 0 31%,#a0d28e 0 32%,#c9e6bf 0 33%,#deefd7 0 34%,#e9f4e5 0 35%,#eff7ec 0 36%,#f3f9f0 0 37%,#f5faf3 0 38%,#f6fbf5 0 39%,#f7fbf5 0 40%,#f7fbf6 0 41%,#f7fbf5 0 42%,#f6fbf4 0 43%,#f4faf2 0 44%,#f1f8ee 0 45%,#ebf5e7 0 46%,#e0f1db 0 47%,#cce7c3 0 48%,#a4d492 0 49%,#51b14e 0 50%,#d5b830 0 51%,#ebdd9d 0 52%,#f5edcc 0 53%,#f9f5e3 0 54%,#fcf9ef 0 55.01%,#fdfcf5 0 56.01%,#fefdf9 0 57.06%,#fefefb 0 58.16%,#fefefc 0 63.41%,#fefefb 0 65.12%,#fefdfa 0 69.47%,#fefdf9 0 86.34%,#fefdfa 0 90.69%,#fefefb 0)"></i><i style="left:15px;width:13px;background:linear-gradient(#e1f1dc 5.02%,#eef7eb 0 8.88%,#f3f9f1 0 12.54%,#f6fbf5 0 15.8%,#fbfdfa 0 18.71%,#fefdfa 0 21.22%,#fbf8e9 0 23.33%,#f5efcf 0 25.08%,#ede1a7 0 26.64%,#e2ce70 0 27.99%,#d5b830 0 29%,#d67f45 0 30%,#47b26f 0 31%,#5fb340 0 32%,#8fca7a 0 33%,#b5dca6 0 34%,#d0e9c7 0 35%,#e3f2de 0 36%,#f1f8ee 0 37%,#fafdf9 0 38%,#fffffe 0 39%,#fefefb 0 41%,#fffffe 0 42%,#fbfdfa 0 43%,#f2f9ef 0 44%,#e5f3e0 0 45%,#d2e9c9 0 46%,#b7dda9 0 47%,#92cb7d 0 48%,#62b544 0 49%,#48b26b 0 50%,#d67b47 0 51%,#d4b52e 0 52%,#dfca63 0 53%,#e8d88e 0 54%,#eee3ae 0 55.01%,#f3ebc5 0 56.01%,#f7f1d6 0 57.06%,#f9f5e3 0 58.16%,#fbf8ec 0 59.31%,#fcfbf3 0 60.56%,#fdfcf8 0 61.91%,#fefefb 0 63.41%,#fffefd 0 65.12%,#fffffe 0 67.12%,#fff 0 69.47%,#fffffe 0 75.23%,#fffefd 0 78.63%,#fefefc 0 90.69%,#fffffe 0 95.35%,#fefffe 0)"></i><i style="left:28px;width:13px;background:linear-gradient(#dff0d9 5.02%,#f5faf3 0 8.88%,#fffffe 0 12.54%,#fcfaf2 0 15.8%,#f9f5e2 0 18.71%,#f4edcb 0 21.22%,#eee3ad 0 23.33%,#e6d687 0 25.08%,#dec75c 0 26.64%,#d4b72e 0 27.99%,#d5913d 0 29%,#d66f4c 0 30%,#44b276 0 31%,#50b152 0 32%,#5fb340 0 33%,#7ac061 0 34%,#92cb7d 0 35%,#a6d594 0 36%,#b5dca7 0 37%,#c0e1b4 0 38%,#c8e5bd 0 39%,#cbe7c1 0 40%,#cbe7c2 0 41%,#c8e5bd 0 42%,#c1e1b5 0 43%,#b5dca7 0 44%,#a6d595 0 45%,#93cc7e 0 46%,#7bc162 0 47%,#60b442 0 48%,#50b151 0 49%,#45b275 0 50%,#d66e4c 0 51%,#d58f3e 0 52%,#d4b030 0 53%,#d9c047 0 54%,#dfca65 0 55.01%,#e5d37f 0 56.01%,#e9db95 0 57.06%,#ede2a9 0 58.16%,#f1e7ba 0 59.31%,#f4ecc8 0 60.56%,#f6f0d4 0 61.91%,#f8f4de 0 63.41%,#faf6e6 0 65.12%,#fbf9ed 0 67.12%,#fcfbf2 0 69.47%,#fdfcf6 0 72.17%,#fefdf9 0 75.23%,#fefdfa 0 78.63%,#fefefb 0 82.33%,#fefefc 0 86.34%,#fffefd 0 90.69%,#fefefe 0 95.35%,#f9fcf8 0)"></i><i style="left:41px;width:13px;background:linear-gradient(#e7f3e2 5.02%,#fefefb 0 8.88%,#faf7e7 0 12.54%,#f6f0d3 0 15.8%,#f1e8bc 0 18.71%,#ebde9f 0 21.22%,#e5d37e 0 23.33%,#dec75c 0 25.08%,#d7bb3a 0 26.64%,#d5a435 0 27.99%,#d58941 0 29%,#d6714b 0 30%,#40b384 0 31%,#48b26c 0 32%,#4fb155 0 33%,#56b03f 0 34%,#62b543 0 35%,#6fbb54 0 36%,#7ac061 0 37%,#83c46b 0 38%,#89c772 0 39%,#8cc875 0 41%,#89c772 0 42%,#83c46b 0 43%,#7ac061 0 44%,#6fbb53 0 45%,#61b443 0 46%,#56b040 0 47%,#4fb155 0 48%,#47b26c 0 49%,#40b385 0 50%,#d6724b 0 51%,#d58941 0 52%,#d5a037 0 53%,#d4b72d 0 54%,#d8be43 0 55.01%,#ddc658 0 56.01%,#e1cc6b 0 57.06%,#e5d37e 0 58.16%,#e8d98f 0 59.31%,#ebde9f 0 60.56%,#eee3ae 0 61.91%,#f1e8bb 0 63.41%,#f4ecc8 0 65.12%,#f6f0d3 0 67.12%,#f8f3dd 0 69.47%,#faf6e5 0 72.17%,#fbf8ec 0 75.23%,#fcfaf0 0 78.63%,#fdfbf4 0 82.33%,#fdfcf8 0 86.34%,#fefefb 0 90.69%,#fdfefd 0 95.35%,#f5faf3 0)"></i><i style="left:54px;width:13px;background:linear-gradient(#f7fbf5 5.02%,#faf7e7 0 8.88%,#f5efcf 0 12.54%,#f0e6b7 0 15.8%,#ebdd9d 0 18.71%,#e5d481 0 21.22%,#dfca63 0 23.33%,#d9c047 0 25.08%,#d4b62d 0 26.64%,#d59f37 0 27.99%,#d58b40 0 29%,#d67b47 0 30%,#3ab397 0 31%,#3fb386 0 32%,#44b276 0 33%,#49b268 0 34%,#4db15b 0 35%,#50b150 0 36%,#53b147 0 37%,#56b040 0 38%,#57b03b 0 39%,#58b039 0 41%,#57b03c 0 42%,#55b041 0 43%,#53b148 0 44%,#50b151 0 45%,#4cb15c 0 46%,#48b26a 0 47%,#44b278 0 48%,#3fb388 0 49%,#39b399 0 50%,#d67d46 0 51%,#d58e3f 0 52%,#d59f37 0 53%,#d4af30 0 54%,#d6ba36 0 55.01%,#d9c046 0 56.01%,#dcc556 0 57.06%,#e0ca65 0 58.16%,#e3d074 0 59.31%,#e6d583 0 60.56%,#e9da92 0 61.91%,#ebdea0 0 63.41%,#eee3ad 0 65.12%,#f1e7ba 0 67.12%,#f3ecc7 0 69.47%,#f6f0d2 0 72.17%,#f8f3dc 0 75.23%,#f9f6e4 0 78.63%,#fbf8eb 0 82.33%,#fcfaf1 0 86.34%,#fdfcf7 0 90.69%,#fff 0 95.35%,#f4faf1 0)"></i><i style="left:67px;width:13px;background:linear-gradient(#fcfaf0 5.02%,#f6f0d2 0 8.88%,#f1e7ba 0 12.54%,#ecdfa1 0 15.8%,#e7d688 0 18.71%,#e1cd6e 0 21.22%,#dcc555 0 23.33%,#d7bd3e 0 25.08%,#d4b42e 0 26.64%,#d5a236 0 27.99%,#d5943c 0 29%,#d58841 0 30%,#34b4aa 0 31%,#37b49f 0 32%,#3bb394 0 33%,#3eb38a 0 34%,#41b381 0 35%,#43b279 0 36%,#45b273 0 37%,#47b26e 0 38%,#48b26b 0 39%,#48b26a 0 41%,#48b26c 0 42%,#46b26f 0 43%,#45b274 0 44%,#43b27b 0 45%,#40b383 0 46%,#3db38c 0 47%,#3ab397 0 48%,#36b4a2 0 49%,#33b4ae 0 50%,#d58c40 0 51%,#d5983a 0 52%,#d5a435 0 53%,#d4b030 0 54%,#d5b933 0 55.01%,#d8bd40 0 56.01%,#dac24c 0 57.06%,#ddc659 0 58.16%,#e0ca66 0 59.31%,#e2cf73 0 60.56%,#e5d37f 0 61.91%,#e8d88c 0 63.41%,#eadc99 0 65.12%,#ede1a7 0 67.12%,#f0e5b4 0 69.47%,#f2eac1 0 72.17%,#f5eecd 0 75.23%,#f7f1d7 0 78.63%,#f9f4e0 0 82.33%,#faf7e9 0 86.34%,#fcfaf1 0 90.69%,#fefefc 0 95.35%,#f5faf3 0)"></i><i style="left:80px;width:13px;background:linear-gradient(#f7f1d7 5.02%,#f2e9be 0 8.88%,#ede1a7 0 12.54%,#e8d990 0 15.8%,#e4d179 0 18.71%,#dfca63 0 21.22%,#dbc24e 0 23.33%,#d7bc3c 0 25.08%,#d4b62d 0 26.64%,#d4a933 0 27.99%,#d59f37 0 29%,#d5963b 0 30%,#2eb5bd 0 31%,#31b4b4 0 32%,#33b4ad 0 33%,#35b4a6 0 34%,#37b49f 0 35%,#39b39a 0 36%,#3ab396 0 37%,#3bb393 0 38%,#3cb391 0 39%,#3cb390 0 41%,#3cb391 0 42%,#3bb394 0 43%,#3ab398 0 44%,#38b39c 0 45%,#36b4a2 0 46%,#34b4a9 0 47%,#32b4b0 0 48%,#2fb4b8 0 49%,#2cb5c1 0 50%,#d59a39 0 51%,#d5a435 0 52%,#d4ad31 0 53%,#d4b62d 0 54%,#d6ba36 0 55.01%,#d8bd40 0 56.01%,#dac14a 0 57.06%,#dcc454 0 58.16%,#dec85f 0 59.31%,#e0cc6a 0 60.56%,#e3d075 0 61.91%,#e5d480 0 63.41%,#e7d88c 0 65.12%,#eadc99 0 67.12%,#ede0a6 0 69.47%,#efe5b3 0 72.17%,#f2e9c0 0 75.23%,#f4edcc 0 78.63%,#f7f1d6 0 82.33%,#f9f5e1 0 86.34%,#fbf8eb 0 90.69%,#fdfcf7 0 95.35%,#f9fcf8 0)"></i><i style="left:93px;width:13px;background:linear-gradient(#f2e9be 5.02%,#eee2ab 0 8.88%,#eadc98 0 12.54%,#e6d584 0 15.8%,#e2ce70 0 18.71%,#dec75d 0 21.22%,#dac24c 0 23.33%,#d7bd3e 0 25.08%,#d5b932 0 26.64%,#d4b12f 0 27.99%,#d4a933 0 29%,#d5a336 0 30%,#2ab5c9 0 31%,#2bb5c7 0 32%,#2cb5c2 0 33%,#2eb5bd 0 34%,#2fb4b8 0 35%,#31b4b5 0 36%,#31b4b2 0 37%,#32b4af 0 38%,#33b4ae 0 39%,#33b4ad 0 40%,#33b4ae 0 41%,#32b4af 0 42%,#32b4b1 0 43%,#31b4b4 0 44%,#30b4b7 0 45%,#2eb5bb 0 46%,#2db5c0 0 47%,#2bb5c6 0 48%,#2ab5c9 0 50%,#d4a933 0 51%,#d4af30 0 52%,#d4b72d 0 53%,#d5b934 0 54%,#d7bc3c 0 55.01%,#d9bf44 0 56.01%,#dac24c 0 57.06%,#dcc454 0 58.16%,#dec75d 0 59.31%,#e0ca66 0 60.56%,#e2ce6f 0 61.91%,#e4d179 0 63.41%,#e6d584 0 65.12%,#e8d98f 0 67.12%,#ebdd9c 0 69.47%,#ede1a9 0 72.17%,#f0e6b5 0 75.23%,#f2eac2 0 78.63%,#f5eece 0 82.33%,#f7f2d9 0 86.34%,#faf6e5 0 90.69%,#fcfaf1 0 95.35%,#fefffe 0)"></i><i style="left:106px;width:13px;background:linear-gradient(#ede1a8 5.02%,#eadc9a 0 8.88%,#e7d78a 0 12.54%,#e4d17a 0 15.8%,#e0cc69 0 18.71%,#ddc65a 0 21.22%,#dac24c 0 23.33%,#d8be41 0 25.08%,#d6bb38 0 26.64%,#d5b830 0 27.99%,#d4b42e 0 29%,#d4af30 0 30%,#2ab5c9 0 36%,#2ab5c8 0 37%,#2bb5c6 0 38%,#2bb5c5 0 40%,#2bb5c6 0 41%,#2bb5c7 0 42%,#2ab5c8 0 43%,#2ab5c9 0 50%,#d4b52e 0 51%,#d5b831 0 52%,#d6ba37 0 53%,#d7bc3d 0 54%,#d8bf43 0 55.01%,#dac149 0 56.01%,#dbc350 0 57.06%,#ddc557 0 58.16%,#dec85e 0 59.31%,#e0ca65 0 60.56%,#e1cd6d 0 61.91%,#e3d076 0 63.41%,#e5d37f 0 65.12%,#e7d78a 0 67.12%,#e9db95 0 69.47%,#ecdfa1 0 72.17%,#eee3ae 0 75.23%,#f1e7ba 0 78.63%,#f3ecc6 0 82.33%,#f6f0d2 0 86.34%,#f8f4de 0 90.69%,#fbf8eb 0 95.35%,#fefdf8 0)"></i><i style="left:119px;width:13px;background:linear-gradient(#e9da94 5.02%,#e7d78b 0 8.88%,#e5d37f 0 12.54%,#e2cf72 0 15.8%,#dfca65 0 18.71%,#ddc658 0 21.22%,#dbc24e 0 23.33%,#d9bf45 0 25.08%,#d7bd3e 0 26.64%,#d6bb38 0 27.99%,#d5b933 0 29%,#d4b82f 0 30%,#2ab5c9 0 50%,#d6bb37 0 51%,#d7bc3c 0 52%,#d8be40 0 53%,#d9bf45 0 54%,#dac14a 0 55.01%,#dbc350 0 56.01%,#dcc555 0 57.06%,#ddc75b 0 58.16%,#dfc961 0 59.31%,#e0cb67 0 60.56%,#e1cd6e 0 61.91%,#e3d075 0 63.41%,#e4d37d 0 65.12%,#e6d687 0 67.12%,#e8d991 0 69.47%,#ebdd9c 0 72.17%,#ede1a8 0 75.23%,#f0e5b4 0 78.63%,#f2e9c0 0 82.33%,#f5eecc 0 86.34%,#f7f2d8 0 90.69%,#faf6e5 0 95.35%,#fcfaf1 0)"></i><i style="left:132px;width:13px;background:linear-gradient(#e6d583 5.02%,#e5d37e 0 8.88%,#e3d075 0 12.54%,#e1cc6b 0 15.8%,#dfc961 0 18.71%,#ddc658 0 21.22%,#dbc350 0 23.33%,#dac149 0 25.08%,#d9bf43 0 26.64%,#d8bd3f 0 27.99%,#d7bc3b 0 29%,#d6bb39 0 30%,#2ab5c9 0 50%,#d8be42 0 51%,#d9bf46 0 52%,#dac149 0 53%,#dbc24d 0 54%,#dbc452 0 55.01%,#dcc556 0 56.01%,#ddc75a 0 57.06%,#dec85f 0 58.16%,#dfca64 0 59.31%,#e0cc6a 0 60.56%,#e2ce70 0 61.91%,#e3d076 0 63.41%,#e4d27d 0 65.12%,#e6d585 0 67.12%,#e8d88f 0 69.47%,#eadc99 0 72.17%,#ece0a4 0 75.23%,#efe4b0 0 78.63%,#f1e8bb 0 82.33%,#f4ecc7 0 86.34%,#f6f0d3 0 90.69%,#f8f4df 0 95.35%,#fbf8ea 0)"></i><i style="left:145px;width:13px;background:linear-gradient(#e3d075 5.02%,#e2cf73 0 8.88%,#e1cd6d 0 12.54%,#e0cb66 0 15.8%,#dec85e 0 18.71%,#ddc657 0 21.22%,#dbc351 0 23.33%,#dac24c 0 25.08%,#dac048 0 26.64%,#d9bf45 0 27.99%,#d8be42 0 29%,#d8be40 0 30%,#2ab5c9 0 50%,#dac14b 0 51%,#dbc24e 0 52%,#dbc452 0 53%,#dcc555 0 54%,#ddc658 0 55.01%,#dec75c 0 56.01%,#dec860 0 57.06%,#dfca64 0 58.16%,#e0cb68 0 59.31%,#e1cd6d 0 60.56%,#e2cf72 0 61.91%,#e3d178 0 63.41%,#e5d37e 0 65.12%,#e6d585 0 67.12%,#e8d88e 0 69.47%,#eadb97 0 72.17%,#ecdfa1 0 75.23%,#eee3ac 0 78.63%,#f0e6b7 0 82.33%,#f3eac3 0 86.34%,#f5eece 0 90.69%,#f7f2d9 0 95.35%,#f9f5e3 0)"></i><i style="left:158px;width:13px;background:linear-gradient(#e0cc6a 8.88%,#e0cb66 0 12.54%,#dfc962 0 15.8%,#dec75c 0 18.71%,#ddc557 0 21.22%,#dcc453 0 23.33%,#dbc34f 0 25.08%,#dac24c 0 26.64%,#dac14a 0 27.99%,#dac048 0 29%,#d9c047 0 30%,#2ab5c9 0 50%,#dcc453 0 51%,#dcc556 0 52%,#ddc659 0 53%,#dec75c 0 54%,#dec85f 0 55.01%,#dfc962 0 56.01%,#dfca65 0 57.06%,#e0cb69 0 58.16%,#e1cd6c 0 59.31%,#e2ce70 0 60.56%,#e3d075 0 61.91%,#e4d17a 0 63.41%,#e5d37f 0 65.12%,#e6d586 0 67.12%,#e8d88d 0 69.47%,#eadb96 0 72.17%,#ebde9f 0 75.23%,#eee2aa 0 78.63%,#f0e5b4 0 82.33%,#f2e9bf 0 86.34%,#f4edc9 0 90.69%,#f6f0d4 0 95.35%,#f8f3dd 0)"></i><i style="left:171px;width:13px;background:linear-gradient(#dec960 5.02%,#dfc962 0 8.88%,#dfc961 0 12.54%,#dec85e 0 15.8%,#ddc75a 0 18.71%,#ddc557 0 21.22%,#dcc454 0 23.33%,#dbc451 0 25.08%,#dbc350 0 26.64%,#dbc24e 0 27.99%,#dbc24d 0 29%,#dac24c 0 30%,#2ab5c9 0 50%,#ddc75a 0 51%,#dec75d 0 52%,#dec85f 0 53%,#dfc962 0 54%,#dfca64 0 55.01%,#e0cb67 0 56.01%,#e0cc6a 0 57.06%,#e1cd6d 0 58.16%,#e2ce70 0 59.31%,#e3cf74 0 60.56%,#e3d178 0 61.91%,#e4d27c 0 63.41%,#e5d481 0 65.12%,#e6d687 0 67.12%,#e8d88e 0 69.47%,#e9db96 0 72.17%,#ebde9e 0 75.23%,#ede1a8 0 78.63%,#efe4b2 0 82.33%,#f1e8bc 0 86.34%,#f3ebc6 0 90.69%,#f5efcf 0 95.35%,#f7f1d7 0)"></i><i style="left:184px;width:13px;background:linear-gradient(#ddc659 5.02%,#dec75c 0 12.54%,#ddc75b 0 15.8%,#ddc659 0 18.71%,#ddc557 0 21.22%,#dcc555 0 23.33%,#dcc453 0 25.08%,#dcc452 0 26.64%,#dbc351 0 29%,#dbc350 0 30%,#2ab5c9 0 50%,#dec960 0 51%,#dfc962 0 52%,#dfca64 0 53%,#e0cb67 0 54%,#e0cc69 0 55.01%,#e1cc6c 0 56.01%,#e1cd6e 0 57.06%,#e2ce71 0 58.16%,#e3cf74 0 59.31%,#e3d077 0 60.56%,#e4d27b 0 61.91%,#e5d37f 0 63.41%,#e6d583 0 65.12%,#e7d688 0 67.12%,#e8d88f 0 69.47%,#e9db96 0 72.17%,#ebde9e 0 75.23%,#ede1a6 0 78.63%,#efe4b0 0 82.33%,#f1e7b9 0 86.34%,#f3eac2 0 90.69%,#f4edcb 0 95.35%,#f6f0d3 0)"></i><i style="left:197px;width:13px;background:linear-gradient(#dcc452 5.02%,#ddc557 0 8.88%,#ddc658 0 15.8%,#ddc657 0 18.71%,#dcc556 0 23.33%,#dcc555 0 25.08%,#dcc454 0 30%,#2ab5c9 0 50%,#e0ca65 0 51%,#e0cb67 0 52%,#e0cc69 0 53%,#e1cc6b 0 54%,#e1cd6d 0 55.01%,#e2ce70 0 56.01%,#e2cf72 0 57.06%,#e3cf74 0 58.16%,#e3d077 0 59.31%,#e4d17a 0 60.56%,#e4d27d 0 61.91%,#e5d481 0 63.41%,#e6d585 0 65.12%,#e7d78a 0 67.12%,#e8d98f 0 69.47%,#e9db96 0 72.17%,#ebde9d 0 75.23%,#ede0a5 0 78.63%,#eee3ae 0 82.33%,#f0e6b7 0 86.34%,#f2e9bf 0 90.69%,#f4ecc8 0 95.35%,#f5efcf 0)"></i><i style="left:210px;width:13px;background:linear-gradient(#dbc24d 5.02%,#dcc452 0 8.88%,#dcc555 0 12.54%,#dcc556 0 30%,#2ab5c9 0 50%,#e0cc69 0 51%,#e1cc6b 0 52%,#e1cd6d 0 53%,#e2ce6f 0 54%,#e2ce71 0 55.01%,#e2cf73 0 56.01%,#e3d075 0 57.06%,#e3d177 0 58.16%,#e4d17a 0 59.31%,#e4d27d 0 60.56%,#e5d380 0 61.91%,#e6d483 0 63.41%,#e6d687 0 65.12%,#e7d78b 0 67.12%,#e8d990 0 69.47%,#eadb96 0 72.17%,#ebdd9d 0 75.23%,#ede0a5 0 78.63%,#eee3ad 0 82.33%,#f0e6b5 0 86.34%,#f1e8bd 0 90.69%,#f3ebc5 0 95.35%,#f4edcc 0)"></i><i style="left:223px;width:13px;background:linear-gradient(#dac14a 5.02%,#dbc34f 0 8.88%,#dcc452 0 12.54%,#dcc454 0 15.8%,#dcc555 0 18.71%,#dcc556 0 21.22%,#ddc557 0 25.08%,#ddc657 0 26.64%,#ddc658 0 29%,#ddc659 0 30%,#2ab5c9 0 50%,#e1cd6d 0 51%,#e1ce6f 0 52%,#e2ce70 0 53%,#e2cf72 0 54%,#e3cf74 0 55.01%,#e3d076 0 56.01%,#e3d178 0 57.06%,#e4d17a 0 58.16%,#e4d27c 0 59.31%,#e5d37f 0 60.56%,#e5d482 0 61.91%,#e6d585 0 63.41%,#e7d688 0 65.12%,#e7d88c 0 67.12%,#e8d991 0 69.47%,#eadb97 0 72.17%,#ebdd9d 0 75.23%,#ece0a4 0 78.63%,#eee2ac 0 82.33%,#f0e5b3 0 86.34%,#f1e8bb 0 90.69%,#f3eac3 0 95.35%,#f4ecc9 0)"></i><i style="left:236px;width:13px;background:linear-gradient(#d9c047 5.02%,#dac24c 0 8.88%,#dbc350 0 12.54%,#dcc452 0 15.8%,#dcc454 0 18.71%,#dcc556 0 21.22%,#ddc557 0 23.33%,#ddc658 0 26.64%,#ddc659 0 27.99%,#ddc65a 0 29%,#ddc75a 0 30%,#2ab5c9 0 50%,#e2ce70 0 51%,#e2ce71 0 52%,#e2cf73 0 53%,#e3d075 0 54%,#e3d077 0 55.01%,#e3d178 0 56.01%,#e4d17a 0 57.06%,#e4d27c 0 58.16%,#e5d37e 0 59.31%,#e5d481 0 60.56%,#e6d583 0 61.91%,#e6d686 0 63.41%,#e7d789 0 65.12%,#e8d88d 0 67.12%,#e9da92 0 69.47%,#eadb97 0 72.17%,#ebdd9d 0 75.23%,#ece0a4 0 78.63%,#eee2ab 0 82.33%,#efe5b2 0 86.34%,#f1e7b9 0 90.69%,#f2eac1 0 95.35%,#f4ecc7 0)"></i><i style="left:249px;width:13px;background:linear-gradient(#d9bf44 5.02%,#dac14a 0 8.88%,#dbc24e 0 12.54%,#dbc351 0 15.8%,#dcc454 0 18.71%,#dcc555 0 21.22%,#ddc557 0 23.33%,#ddc658 0 25.08%,#ddc659 0 26.64%,#ddc65a 0 27.99%,#ddc75b 0 29%,#dec75c 0 30%,#2ab5c9 0 50%,#e2cf72 0 51%,#e2cf74 0 52%,#e3d075 0 53%,#e3d077 0 54%,#e3d179 0 55.01%,#e4d27a 0 56.01%,#e4d27c 0 57.06%,#e5d37e 0 58.16%,#e5d380 0 59.31%,#e5d482 0 60.56%,#e6d585 0 61.91%,#e7d687 0 63.41%,#e7d78b 0 65.12%,#e8d88e 0 67.12%,#e9da92 0 69.47%,#eadb97 0 72.17%,#ebdd9d 0 75.23%,#ece0a3 0 78.63%,#eee2aa 0 82.33%,#efe4b1 0 86.34%,#f0e7b8 0 90.69%,#f2e9bf 0 95.35%,#f3ebc5 0)"></i><i style="left:262px;width:13px;background:linear-gradient(#d8be42 5.02%,#dac049 0 8.88%,#dbc24d 0 12.54%,#dbc350 0 15.8%,#dcc453 0 18.71%,#dcc555 0 21.22%,#ddc557 0 23.33%,#ddc659 0 25.08%,#ddc65a 0 26.64%,#ddc75b 0 27.99%,#dec75c 0 29%,#dec75d 0 30%,#2ab5c9 0 50%,#e3cf74 0 51%,#e3d076 0 52%,#e3d077 0 53%,#e4d179 0 54%,#e4d27a 0 55.01%,#e4d27c 0 56.01%,#e5d37e 0 57.06%,#e5d380 0 58.16%,#e5d481 0 59.31%,#e6d584 0 60.56%,#e6d586 0 61.91%,#e7d689 0 63.41%,#e7d78b 0 65.12%,#e8d98f 0 67.12%,#e9da93 0 69.47%,#eadc98 0 72.17%,#ebdd9d 0 75.23%,#ece0a3 0 78.63%,#eee2aa 0 82.33%,#efe4b0 0 86.34%,#f0e6b7 0 90.69%,#f2e9be 0 95.35%,#f3ebc4 0)"></i><i style="left:275px;width:13px;background:linear-gradient(#d8be41 5.02%,#d9c047 0 8.88%,#dac24c 0 12.54%,#dbc350 0 15.8%,#dcc453 0 18.71%,#dcc555 0 21.22%,#ddc557 0 23.33%,#ddc659 0 25.08%,#ddc75a 0 26.64%,#dec75b 0 27.99%,#dec75d 0 29%,#dec85d 0 30%,#2ab5c9 0 50%,#e3d075 0 51%,#e3d077 0 52%,#e3d178 0 53%,#e4d17a 0 54%,#e4d27c 0 55.01%,#e4d27d 0 56.01%,#e5d37f 0 57.06%,#e5d481 0 58.16%,#e6d483 0 59.31%,#e6d585 0 60.56%,#e6d687 0 61.91%,#e7d789 0 63.41%,#e7d88c 0 65.12%,#e8d98f 0 67.12%,#e9da93 0 69.47%,#eadc98 0 72.17%,#ebdd9d 0 75.23%,#ecdfa3 0 78.63%,#ede2a9 0 82.33%,#efe4b0 0 86.34%,#f0e6b6 0 90.69%,#f1e8bd 0 95.35%,#f3eac3 0)"></i><i style="left:288px;width:13px;background:linear-gradient(#d8be40 5.02%,#d9c046 0 8.88%,#dac14b 0 12.54%,#dbc34f 0 15.8%,#dcc452 0 18.71%,#dcc555 0 21.22%,#ddc557 0 23.33%,#ddc659 0 25.08%,#ddc75b 0 26.64%,#dec75c 0 27.99%,#dec75d 0 29%,#dec85e 0 30%,#2ab5c9 0 50%,#e3d076 0 51%,#e3d178 0 52%,#e4d179 0 53%,#e4d27b 0 54%,#e4d27d 0 55.01%,#e5d37e 0 56.01%,#e5d380 0 57.06%,#e5d481 0 58.16%,#e6d583 0 59.31%,#e6d585 0 60.56%,#e7d688 0 61.91%,#e7d78a 0 63.41%,#e8d88d 0 65.12%,#e8d990 0 67.12%,#e9da94 0 69.47%,#eadc98 0 72.17%,#ebdd9d 0 75.23%,#ecdfa3 0 78.63%,#ede1a9 0 82.33%,#efe4af 0 86.34%,#f0e6b6 0 90.69%,#f1e8bc 0 95.35%,#f3eac2 0)"></i><i style="left:301px;width:13px;background:linear-gradient(#d8bd3f 5.02%,#d9c046 0 8.88%,#dac14b 0 12.54%,#dbc34f 0 15.8%,#dcc452 0 18.71%,#dcc555 0 21.22%,#ddc557 0 23.33%,#ddc659 0 25.08%,#ddc75b 0 26.64%,#dec75c 0 27.99%,#dec85d 0 29%,#dec85e 0 30%,#2ab5c9 0 50%,#e3d077 0 51%,#e3d179 0 52%,#e4d17a 0 53%,#e4d27c 0 54%,#e4d27d 0 55.01%,#e5d37f 0 56.01%,#e5d480 0 57.06%,#e5d482 0 58.16%,#e6d584 0 59.31%,#e6d586 0 60.56%,#e7d688 0 61.91%,#e7d78a 0 63.41%,#e8d88d 0 65.12%,#e8d990 0 67.12%,#e9da94 0 69.47%,#eadc98 0 72.17%,#ebde9d 0 75.23%,#ecdfa3 0 78.63%,#ede1a9 0 82.33%,#efe4af 0 86.34%,#f0e6b5 0 90.69%,#f1e8bc 0 95.35%,#f2eac2 0)"></i><i style="left:314px;width:13px;background:linear-gradient(#d8bd3f 5.02%,#d9bf46 0 8.88%,#dac14b 0 12.54%,#dbc34f 0 15.8%,#dcc452 0 18.71%,#dcc555 0 21.22%,#ddc557 0 23.33%,#ddc659 0 25.08%,#ddc75b 0 26.64%,#dec75c 0 27.99%,#dec85d 0 29%,#dec85e 0 30%,#2ab5c9 0 50%,#e3d177 0 51%,#e4d179 0 52%,#e4d27a 0 53%,#e4d27c 0 54%,#e4d37d 0 55.01%,#e5d37f 0 56.01%,#e5d481 0 57.06%,#e5d482 0 58.16%,#e6d584 0 59.31%,#e6d686 0 60.56%,#e7d688 0 61.91%,#e7d78b 0 63.41%,#e8d88d 0 65.12%,#e8d990 0 67.12%,#e9da94 0 69.47%,#eadc98 0 72.17%,#ebde9d 0 75.23%,#ecdfa3 0 78.63%,#ede1a9 0 82.33%,#efe4af 0 86.34%,#f0e6b5 0 90.69%,#f1e8bb 0 95.35%,#f2eac1 0)"></i><i style="left:327px;width:13px;background:linear-gradient(#d8bd3f 5.02%,#d9bf46 0 8.88%,#dac14b 0 12.54%,#dbc34f 0 15.8%,#dcc452 0 18.71%,#dcc555 0 21.22%,#ddc557 0 23.33%,#ddc659 0 25.08%,#ddc75b 0 26.64%,#dec75c 0 27.99%,#dec85d 0 29%,#dec85e 0 30%,#2ab5c9 0 50%,#e3d177 0 51%,#e4d179 0 52%,#e4d27a 0 53%,#e4d27c 0 54%,#e4d37d 0 55.01%,#e5d37f 0 56.01%,#e5d481 0 57.06%,#e5d482 0 58.16%,#e6d584 0 59.31%,#e6d686 0 60.56%,#e7d688 0 61.91%,#e7d78b 0 63.41%,#e8d88d 0 65.12%,#e8d990 0 67.12%,#e9da94 0 69.47%,#eadc98 0 72.17%,#ebde9d 0 75.23%,#ecdfa3 0 78.63%,#ede1a9 0 82.33%,#efe4af 0 86.34%,#f0e6b5 0 90.69%,#f1e8bb 0 95.35%,#f2eac1 0)"></i><i style="left:340px;width:13px;background:linear-gradient(#d8bd3f 5.02%,#d9c046 0 8.88%,#dac14b 0 12.54%,#dbc34f 0 15.8%,#dcc452 0 18.71%,#dcc555 0 21.22%,#ddc557 0 23.33%,#ddc659 0 25.08%,#ddc75b 0 26.64%,#dec75c 0 27.99%,#dec85d 0 29%,#dec85e 0 30%,#2ab5c9 0 50%,#e3d077 0 51%,#e3d179 0 52%,#e4d17a 0 53%,#e4d27c 0 54%,#e4d27d 0 55.01%,#e5d37f 0 56.01%,#e5d480 0 57.06%,#e5d482 0 58.16%,#e6d584 0 59.31%,#e6d586 0 60.56%,#e7d688 0 61.91%,#e7d78a 0 63.41%,#e8d88d 0 65.12%,#e8d990 0 67.12%,#e9da94 0 69.47%,#eadc98 0 72.17%,#ebde9d 0 75.23%,#ecdfa3 0 78.63%,#ede1a9 0 82.33%,#efe4af 0 86.34%,#f0e6b5 0 90.69%,#f1e8bc 0 95.35%,#f2eac2 0)"></i><i style="left:353px;width:13px;background:linear-gradient(#d8be40 5.02%,#d9c046 0 8.88%,#dac14b 0 12.54%,#dbc34f 0 15.8%,#dcc452 0 18.71%,#dcc555 0 21.22%,#ddc557 0 23.33%,#ddc659 0 25.08%,#ddc75b 0 26.64%,#dec75c 0 27.99%,#dec75d 0 29%,#dec85e 0 30%,#2ab5c9 0 50%,#e3d076 0 51%,#e3d178 0 52%,#e4d179 0 53%,#e4d27b 0 54%,#e4d27d 0 55.01%,#e5d37e 0 56.01%,#e5d380 0 57.06%,#e5d481 0 58.16%,#e6d583 0 59.31%,#e6d585 0 60.56%,#e7d688 0 61.91%,#e7d78a 0 63.41%,#e8d88d 0 65.12%,#e8d990 0 67.12%,#e9da94 0 69.47%,#eadc98 0 72.17%,#ebdd9d 0 75.23%,#ecdfa3 0 78.63%,#ede1a9 0 82.33%,#efe4af 0 86.34%,#f0e6b6 0 90.69%,#f1e8bc 0 95.35%,#f3eac2 0)"></i><i style="left:366px;width:13px;background:linear-gradient(#d8be41 5.02%,#d9c047 0 8.88%,#dac24c 0 12.54%,#dbc350 0 15.8%,#dcc453 0 18.71%,#dcc555 0 21.22%,#ddc557 0 23.33%,#ddc659 0 25.08%,#ddc75a 0 26.64%,#dec75b 0 27.99%,#dec75d 0 29%,#dec85d 0 30%,#2ab5c9 0 50%,#e3d075 0 51%,#e3d077 0 52%,#e3d178 0 53%,#e4d17a 0 54%,#e4d27c 0 55.01%,#e4d27d 0 56.01%,#e5d37f 0 57.06%,#e5d481 0 58.16%,#e6d483 0 59.31%,#e6d585 0 60.56%,#e6d687 0 61.91%,#e7d789 0 63.41%,#e7d88c 0 65.12%,#e8d98f 0 67.12%,#e9da93 0 69.47%,#eadc98 0 72.17%,#ebdd9d 0 75.23%,#ecdfa3 0 78.63%,#ede2a9 0 82.33%,#efe4b0 0 86.34%,#f0e6b6 0 90.69%,#f1e8bd 0 95.35%,#f3eac3 0)"></i><i style="left:379px;width:13px;background:linear-gradient(#d8be42 5.02%,#dac049 0 8.88%,#dbc24d 0 12.54%,#dbc350 0 15.8%,#dcc453 0 18.71%,#dcc555 0 21.22%,#ddc557 0 23.33%,#ddc659 0 25.08%,#ddc65a 0 26.64%,#ddc75b 0 27.99%,#dec75c 0 29%,#dec75d 0 30%,#2ab5c9 0 50%,#e3cf74 0 51%,#e3d076 0 52%,#e3d077 0 53%,#e4d179 0 54%,#e4d27a 0 55.01%,#e4d27c 0 56.01%,#e5d37e 0 57.06%,#e5d380 0 58.16%,#e5d481 0 59.31%,#e6d584 0 60.56%,#e6d586 0 61.91%,#e7d689 0 63.41%,#e7d78b 0 65.12%,#e8d98f 0 67.12%,#e9da93 0 69.47%,#eadc98 0 72.17%,#ebdd9d 0 75.23%,#ece0a3 0 78.63%,#eee2aa 0 82.33%,#efe4b0 0 86.34%,#f0e6b7 0 90.69%,#f2e9be 0 95.35%,#f3ebc4 0)"></i><i style="left:392px;width:13px;background:linear-gradient(#d9bf44 5.02%,#dac14a 0 8.88%,#dbc24e 0 12.54%,#dbc351 0 15.8%,#dcc454 0 18.71%,#dcc555 0 21.22%,#ddc557 0 23.33%,#ddc658 0 25.08%,#ddc659 0 26.64%,#ddc65a 0 27.99%,#ddc75b 0 29%,#dec75c 0 30%,#2ab5c9 0 50%,#e2cf72 0 51%,#e2cf74 0 52%,#e3d075 0 53%,#e3d077 0 54%,#e3d179 0 55.01%,#e4d27a 0 56.01%,#e4d27c 0 57.06%,#e5d37e 0 58.16%,#e5d380 0 59.31%,#e5d482 0 60.56%,#e6d585 0 61.91%,#e7d687 0 63.41%,#e7d78b 0 65.12%,#e8d88e 0 67.12%,#e9da92 0 69.47%,#eadb97 0 72.17%,#ebdd9d 0 75.23%,#ece0a3 0 78.63%,#eee2aa 0 82.33%,#efe4b1 0 86.34%,#f0e7b8 0 90.69%,#f2e9bf 0 95.35%,#f3ebc5 0)"></i><i style="left:405px;width:13px;background:linear-gradient(#d9c047 5.02%,#dac24c 0 8.88%,#dbc350 0 12.54%,#dcc452 0 15.8%,#dcc454 0 18.71%,#dcc556 0 21.22%,#ddc557 0 23.33%,#ddc658 0 26.64%,#ddc659 0 27.99%,#ddc65a 0 29%,#ddc75a 0 30%,#2ab5c9 0 50%,#e2ce70 0 51%,#e2ce71 0 52%,#e2cf73 0 53%,#e3d075 0 54%,#e3d077 0 55.01%,#e3d178 0 56.01%,#e4d17a 0 57.06%,#e4d27c 0 58.16%,#e5d37e 0 59.31%,#e5d481 0 60.56%,#e6d583 0 61.91%,#e6d686 0 63.41%,#e7d789 0 65.12%,#e8d88d 0 67.12%,#e9da92 0 69.47%,#eadb97 0 72.17%,#ebdd9d 0 75.23%,#ece0a4 0 78.63%,#eee2ab 0 82.33%,#efe5b2 0 86.34%,#f1e7b9 0 90.69%,#f2eac1 0 95.35%,#f4ecc7 0)"></i><i style="left:418px;width:13px;background:linear-gradient(#dac14a 5.02%,#dbc34f 0 8.88%,#dcc452 0 12.54%,#dcc454 0 15.8%,#dcc555 0 18.71%,#dcc556 0 21.22%,#ddc557 0 25.08%,#ddc657 0 26.64%,#ddc658 0 29%,#ddc659 0 30%,#2ab5c9 0 50%,#e1cd6d 0 51%,#e1ce6f 0 52%,#e2ce70 0 53%,#e2cf72 0 54%,#e3cf74 0 55.01%,#e3d076 0 56.01%,#e3d178 0 57.06%,#e4d17a 0 58.16%,#e4d27c 0 59.31%,#e5d37f 0 60.56%,#e5d482 0 61.91%,#e6d585 0 63.41%,#e7d688 0 65.12%,#e7d88c 0 67.12%,#e8d991 0 69.47%,#eadb97 0 72.17%,#ebdd9d 0 75.23%,#ece0a4 0 78.63%,#eee2ac 0 82.33%,#f0e5b3 0 86.34%,#f1e8bb 0 90.69%,#f3eac3 0 95.35%,#f4ecc9 0)"></i><i style="left:431px;width:13px;background:linear-gradient(#dbc24d 5.02%,#dcc452 0 8.88%,#dcc555 0 12.54%,#dcc556 0 30%,#2ab5c9 0 50%,#e0cc69 0 51%,#e1cc6b 0 52%,#e1cd6d 0 53%,#e2ce6f 0 54%,#e2ce71 0 55.01%,#e2cf73 0 56.01%,#e3d075 0 57.06%,#e3d177 0 58.16%,#e4d17a 0 59.31%,#e4d27d 0 60.56%,#e5d380 0 61.91%,#e6d483 0 63.41%,#e6d687 0 65.12%,#e7d78b 0 67.12%,#e8d990 0 69.47%,#eadb96 0 72.17%,#ebdd9d 0 75.23%,#ede0a5 0 78.63%,#eee3ad 0 82.33%,#f0e6b5 0 86.34%,#f1e8bd 0 90.69%,#f3ebc5 0 95.35%,#f4edcc 0)"></i><i style="left:444px;width:13px;background:linear-gradient(#dcc452 5.02%,#ddc557 0 8.88%,#ddc658 0 15.8%,#ddc657 0 18.71%,#dcc556 0 23.33%,#dcc555 0 25.08%,#dcc454 0 30%,#2ab5c9 0 50%,#e0ca65 0 51%,#e0cb67 0 52%,#e0cc69 0 53%,#e1cc6b 0 54%,#e1cd6d 0 55.01%,#e2ce70 0 56.01%,#e2cf72 0 57.06%,#e3cf74 0 58.16%,#e3d077 0 59.31%,#e4d17a 0 60.56%,#e4d27d 0 61.91%,#e5d481 0 63.41%,#e6d585 0 65.12%,#e7d78a 0 67.12%,#e8d98f 0 69.47%,#e9db96 0 72.17%,#ebde9d 0 75.23%,#ede0a5 0 78.63%,#eee3ae 0 82.33%,#f0e6b7 0 86.34%,#f2e9bf 0 90.69%,#f4ecc8 0 95.35%,#f5efcf 0)"></i><i style="left:457px;width:13px;background:linear-gradient(#ddc659 5.02%,#dec75c 0 12.54%,#ddc75b 0 15.8%,#ddc659 0 18.71%,#ddc557 0 21.22%,#dcc555 0 23.33%,#dcc453 0 25.08%,#dcc452 0 26.64%,#dbc351 0 29%,#dbc350 0 30%,#2ab5c9 0 50%,#dec960 0 51%,#dfc962 0 52%,#dfca64 0 53%,#e0cb67 0 54%,#e0cc69 0 55.01%,#e1cc6c 0 56.01%,#e1cd6e 0 57.06%,#e2ce71 0 58.16%,#e3cf74 0 59.31%,#e3d077 0 60.56%,#e4d27b 0 61.91%,#e5d37f 0 63.41%,#e6d583 0 65.12%,#e7d688 0 67.12%,#e8d88f 0 69.47%,#e9db96 0 72.17%,#ebde9e 0 75.23%,#ede1a6 0 78.63%,#efe4b0 0 82.33%,#f1e7b9 0 86.34%,#f3eac2 0 90.69%,#f4edcb 0 95.35%,#f6f0d3 0)"></i><i style="left:470px;width:13px;background:linear-gradient(#dec960 5.02%,#dfc962 0 8.88%,#dfc961 0 12.54%,#dec85e 0 15.8%,#ddc75a 0 18.71%,#ddc557 0 21.22%,#dcc454 0 23.33%,#dbc451 0 25.08%,#dbc350 0 26.64%,#dbc24e 0 27.99%,#dbc24d 0 29%,#dac24c 0 30%,#2ab5c9 0 50%,#ddc75a 0 51%,#dec75d 0 52%,#dec85f 0 53%,#dfc962 0 54%,#dfca64 0 55.01%,#e0cb67 0 56.01%,#e0cc6a 0 57.06%,#e1cd6d 0 58.16%,#e2ce70 0 59.31%,#e3cf74 0 60.56%,#e3d178 0 61.91%,#e4d27c 0 63.41%,#e5d481 0 65.12%,#e6d687 0 67.12%,#e8d88e 0 69.47%,#e9db96 0 72.17%,#ebde9e 0 75.23%,#ede1a8 0 78.63%,#efe4b2 0 82.33%,#f1e8bc 0 86.34%,#f3ebc6 0 90.69%,#f5efcf 0 95.35%,#f7f1d7 0)"></i><i style="left:483px;width:13px;background:linear-gradient(#e0cc6a 8.88%,#e0cb66 0 12.54%,#dfc962 0 15.8%,#dec75c 0 18.71%,#ddc557 0 21.22%,#dcc453 0 23.33%,#dbc34f 0 25.08%,#dac24c 0 26.64%,#dac14a 0 27.99%,#dac048 0 29%,#d9c047 0 30%,#2ab5c9 0 50%,#dcc453 0 51%,#dcc556 0 52%,#ddc659 0 53%,#dec75c 0 54%,#dec85f 0 55.01%,#dfc962 0 56.01%,#dfca65 0 57.06%,#e0cb69 0 58.16%,#e1cd6c 0 59.31%,#e2ce70 0 60.56%,#e3d075 0 61.91%,#e4d17a 0 63.41%,#e5d37f 0 65.12%,#e6d586 0 67.12%,#e8d88d 0 69.47%,#eadb96 0 72.17%,#ebde9f 0 75.23%,#eee2aa 0 78.63%,#f0e5b4 0 82.33%,#f2e9bf 0 86.34%,#f4edc9 0 90.69%,#f6f0d4 0 95.35%,#f8f3dd 0)"></i><i style="left:496px;width:13px;background:linear-gradient(#e3d075 5.02%,#e2cf73 0 8.88%,#e1cd6d 0 12.54%,#e0cb66 0 15.8%,#dec85e 0 18.71%,#ddc657 0 21.22%,#dbc351 0 23.33%,#dac24c 0 25.08%,#dac048 0 26.64%,#d9bf45 0 27.99%,#d8be42 0 29%,#d8be40 0 30%,#2ab5c9 0 50%,#dac14b 0 51%,#dbc24e 0 52%,#dbc452 0 53%,#dcc555 0 54%,#ddc658 0 55.01%,#dec75c 0 56.01%,#dec860 0 57.06%,#dfca64 0 58.16%,#e0cb68 0 59.31%,#e1cd6d 0 60.56%,#e2cf72 0 61.91%,#e3d178 0 63.41%,#e5d37e 0 65.12%,#e6d585 0 67.12%,#e8d88e 0 69.47%,#eadb97 0 72.17%,#ecdfa1 0 75.23%,#eee3ac 0 78.63%,#f0e6b7 0 82.33%,#f3eac3 0 86.34%,#f5eece 0 90.69%,#f7f2d9 0 95.35%,#f9f5e3 0)"></i><i style="left:509px;width:13px;background:linear-gradient(#e6d583 5.02%,#e5d37e 0 8.88%,#e3d075 0 12.54%,#e1cc6b 0 15.8%,#dfc961 0 18.71%,#ddc658 0 21.22%,#dbc350 0 23.33%,#dac149 0 25.08%,#d9bf43 0 26.64%,#d8bd3f 0 27.99%,#d7bc3b 0 29%,#d6bb39 0 30%,#2ab5c9 0 50%,#d8be42 0 51%,#d9bf46 0 52%,#dac149 0 53%,#dbc24d 0 54%,#dbc452 0 55.01%,#dcc556 0 56.01%,#ddc75a 0 57.06%,#dec85f 0 58.16%,#dfca64 0 59.31%,#e0cc6a 0 60.56%,#e2ce70 0 61.91%,#e3d076 0 63.41%,#e4d27d 0 65.12%,#e6d585 0 67.12%,#e8d88f 0 69.47%,#eadc99 0 72.17%,#ece0a4 0 75.23%,#efe4b0 0 78.63%,#f1e8bb 0 82.33%,#f4ecc7 0 86.34%,#f6f0d3 0 90.69%,#f8f4df 0 95.35%,#fbf8ea 0)"></i><i style="left:522px;width:13px;background:linear-gradient(#e9da94 5.02%,#e7d78b 0 8.88%,#e5d37f 0 12.54%,#e2cf72 0 15.8%,#dfca65 0 18.71%,#ddc658 0 21.22%,#dbc24e 0 23.33%,#d9bf45 0 25.08%,#d7bd3e 0 26.64%,#d6bb38 0 27.99%,#d5b933 0 29%,#d4b82f 0 30%,#2ab5c9 0 50%,#d6bb37 0 51%,#d7bc3c 0 52%,#d8be40 0 53%,#d9bf45 0 54%,#dac14a 0 55.01%,#dbc350 0 56.01%,#dcc555 0 57.06%,#ddc75b 0 58.16%,#dfc961 0 59.31%,#e0cb67 0 60.56%,#e1cd6e 0 61.91%,#e3d075 0 63.41%,#e4d37d 0 65.12%,#e6d687 0 67.12%,#e8d991 0 69.47%,#ebdd9c 0 72.17%,#ede1a8 0 75.23%,#f0e5b4 0 78.63%,#f2e9c0 0 82.33%,#f5eecc 0 86.34%,#f7f2d8 0 90.69%,#faf6e5 0 95.35%,#fcfaf1 0)"></i><i style="left:535px;width:13px;background:linear-gradient(#ede1a8 5.02%,#eadc9a 0 8.88%,#e7d78a 0 12.54%,#e4d17a 0 15.8%,#e0cc69 0 18.71%,#ddc65a 0 21.22%,#dac24c 0 23.33%,#d8be41 0 25.08%,#d6bb38 0 26.64%,#d5b830 0 27.99%,#d4b42e 0 29%,#d4af30 0 30%,#2ab5c9 0 36%,#2ab5c8 0 37%,#2bb5c6 0 38%,#2bb5c5 0 40%,#2bb5c6 0 41%,#2bb5c7 0 42%,#2ab5c8 0 43%,#2ab5c9 0 50%,#d4b52e 0 51%,#d5b831 0 52%,#d6ba37 0 53%,#d7bc3d 0 54%,#d8bf43 0 55.01%,#dac149 0 56.01%,#dbc350 0 57.06%,#ddc557 0 58.16%,#dec85e 0 59.31%,#e0ca65 0 60.56%,#e1cd6d 0 61.91%,#e3d076 0 63.41%,#e5d37f 0 65.12%,#e7d78a 0 67.12%,#e9db95 0 69.47%,#ecdfa1 0 72.17%,#eee3ae 0 75.23%,#f1e7ba 0 78.63%,#f3ecc6 0 82.33%,#f6f0d2 0 86.34%,#f8f4de 0 90.69%,#fbf8eb 0 95.35%,#fefdf8 0)"></i><i style="left:548px;width:13px;background:linear-gradient(#f2e9be 5.02%,#eee2ab 0 8.88%,#eadc98 0 12.54%,#e6d584 0 15.8%,#e2ce70 0 18.71%,#dec75d 0 21.22%,#dac24c 0 23.33%,#d7bd3e 0 25.08%,#d5b932 0 26.64%,#d4b12f 0 27.99%,#d4a933 0 29%,#d5a336 0 30%,#2ab5c9 0 31%,#2bb5c7 0 32%,#2cb5c2 0 33%,#2eb5bd 0 34%,#2fb4b8 0 35%,#31b4b5 0 36%,#31b4b2 0 37%,#32b4af 0 38%,#33b4ae 0 39%,#33b4ad 0 40%,#33b4ae 0 41%,#32b4af 0 42%,#32b4b1 0 43%,#31b4b4 0 44%,#30b4b7 0 45%,#2eb5bb 0 46%,#2db5c0 0 47%,#2bb5c6 0 48%,#2ab5c9 0 50%,#d4a933 0 51%,#d4af30 0 52%,#d4b72d 0 53%,#d5b934 0 54%,#d7bc3c 0 55.01%,#d9bf44 0 56.01%,#dac24c 0 57.06%,#dcc454 0 58.16%,#dec75d 0 59.31%,#e0ca66 0 60.56%,#e2ce6f 0 61.91%,#e4d179 0 63.41%,#e6d584 0 65.12%,#e8d98f 0 67.12%,#ebdd9c 0 69.47%,#ede1a9 0 72.17%,#f0e6b5 0 75.23%,#f2eac2 0 78.63%,#f5eece 0 82.33%,#f7f2d9 0 86.34%,#faf6e5 0 90.69%,#fcfaf1 0 95.35%,#fefffe 0)"></i><i style="left:561px;width:13px;background:linear-gradient(#f7f1d7 5.02%,#f2e9be 0 8.88%,#ede1a7 0 12.54%,#e8d990 0 15.8%,#e4d179 0 18.71%,#dfca63 0 21.22%,#dbc24e 0 23.33%,#d7bc3c 0 25.08%,#d4b62d 0 26.64%,#d4a933 0 27.99%,#d59f37 0 29%,#d5963b 0 30%,#2eb5bd 0 31%,#31b4b4 0 32%,#33b4ad 0 33%,#35b4a6 0 34%,#37b49f 0 35%,#39b39a 0 36%,#3ab396 0 37%,#3bb393 0 38%,#3cb391 0 39%,#3cb390 0 41%,#3cb391 0 42%,#3bb394 0 43%,#3ab398 0 44%,#38b39c 0 45%,#36b4a2 0 46%,#34b4a9 0 47%,#32b4b0 0 48%,#2fb4b8 0 49%,#2cb5c1 0 50%,#d59a39 0 51%,#d5a435 0 52%,#d4ad31 0 53%,#d4b62d 0 54%,#d6ba36 0 55.01%,#d8bd40 0 56.01%,#dac14a 0 57.06%,#dcc454 0 58.16%,#dec85f 0 59.31%,#e0cc6a 0 60.56%,#e3d075 0 61.91%,#e5d480 0 63.41%,#e7d88c 0 65.12%,#eadc99 0 67.12%,#ede0a6 0 69.47%,#efe5b3 0 72.17%,#f2e9c0 0 75.23%,#f4edcc 0 78.63%,#f7f1d6 0 82.33%,#f9f5e1 0 86.34%,#fbf8eb 0 90.69%,#fdfcf7 0 95.35%,#f9fcf8 0)"></i><i style="left:574px;width:13px;background:linear-gradient(#fcfaf0 5.02%,#f6f0d2 0 8.88%,#f1e7ba 0 12.54%,#ecdfa1 0 15.8%,#e7d688 0 18.71%,#e1cd6e 0 21.22%,#dcc555 0 23.33%,#d7bd3e 0 25.08%,#d4b42e 0 26.64%,#d5a236 0 27.99%,#d5943c 0 29%,#d58841 0 30%,#34b4aa 0 31%,#37b49f 0 32%,#3bb394 0 33%,#3eb38a 0 34%,#41b381 0 35%,#43b279 0 36%,#45b273 0 37%,#47b26e 0 38%,#48b26b 0 39%,#48b26a 0 41%,#48b26c 0 42%,#46b26f 0 43%,#45b274 0 44%,#43b27b 0 45%,#40b383 0 46%,#3db38c 0 47%,#3ab397 0 48%,#36b4a2 0 49%,#33b4ae 0 50%,#d58c40 0 51%,#d5983a 0 52%,#d5a435 0 53%,#d4b030 0 54%,#d5b933 0 55.01%,#d8bd40 0 56.01%,#dac24c 0 57.06%,#ddc659 0 58.16%,#e0ca66 0 59.31%,#e2cf73 0 60.56%,#e5d37f 0 61.91%,#e8d88c 0 63.41%,#eadc99 0 65.12%,#ede1a7 0 67.12%,#f0e5b4 0 69.47%,#f2eac1 0 72.17%,#f5eecd 0 75.23%,#f7f1d7 0 78.63%,#f9f4e0 0 82.33%,#faf7e9 0 86.34%,#fcfaf1 0 90.69%,#fefefc 0 95.35%,#f5faf3 0)"></i><i style="left:587px;width:13px;background:linear-gradient(#f7fbf5 5.02%,#faf7e7 0 8.88%,#f5efcf 0 12.54%,#f0e6b7 0 15.8%,#ebdd9d 0 18.71%,#e5d481 0 21.22%,#dfca63 0 23.33%,#d9c047 0 25.08%,#d4b62d 0 26.64%,#d59f37 0 27.99%,#d58b40 0 29%,#d67b47 0 30%,#3ab397 0 31%,#3fb386 0 32%,#44b276 0 33%,#49b268 0 34%,#4db15b 0 35%,#50b150 0 36%,#53b147 0 37%,#56b040 0 38%,#57b03b 0 39%,#58b039 0 41%,#57b03c 0 42%,#55b041 0 43%,#53b148 0 44%,#50b151 0 45%,#4cb15c 0 46%,#48b26a 0 47%,#44b278 0 48%,#3fb388 0 49%,#39b399 0 50%,#d67d46 0 51%,#d58e3f 0 52%,#d59f37 0 53%,#d4af30 0 54%,#d6ba36 0 55.01%,#d9c046 0 56.01%,#dcc556 0 57.06%,#e0ca65 0 58.16%,#e3d074 0 59.31%,#e6d583 0 60.56%,#e9da92 0 61.91%,#ebdea0 0 63.41%,#eee3ad 0 65.12%,#f1e7ba 0 67.12%,#f3ecc7 0 69.47%,#f6f0d2 0 72.17%,#f8f3dc 0 75.23%,#f9f6e4 0 78.63%,#fbf8eb 0 82.33%,#fcfaf1 0 86.34%,#fdfcf7 0 90.69%,#fff 0 95.35%,#f4faf1 0)"></i><i style="left:600px;width:13px;background:linear-gradient(#e7f3e2 5.02%,#fefefb 0 8.88%,#faf7e7 0 12.54%,#f6f0d3 0 15.8%,#f1e8bc 0 18.71%,#ebde9f 0 21.22%,#e5d37e 0 23.33%,#dec75c 0 25.08%,#d7bb3a 0 26.64%,#d5a435 0 27.99%,#d58941 0 29%,#d6714b 0 30%,#40b384 0 31%,#48b26c 0 32%,#4fb155 0 33%,#56b03f 0 34%,#62b543 0 35%,#6fbb54 0 36%,#7ac061 0 37%,#83c46b 0 38%,#89c772 0 39%,#8cc875 0 41%,#89c772 0 42%,#83c46b 0 43%,#7ac061 0 44%,#6fbb53 0 45%,#61b443 0 46%,#56b040 0 47%,#4fb155 0 48%,#47b26c 0 49%,#40b385 0 50%,#d6724b 0 51%,#d58941 0 52%,#d5a037 0 53%,#d4b72d 0 54%,#d8be43 0 55.01%,#ddc658 0 56.01%,#e1cc6b 0 57.06%,#e5d37e 0 58.16%,#e8d98f 0 59.31%,#ebde9f 0 60.56%,#eee3ae 0 61.91%,#f1e8bb 0 63.41%,#f4ecc8 0 65.12%,#f6f0d3 0 67.12%,#f8f3dd 0 69.47%,#faf6e5 0 72.17%,#fbf8ec 0 75.23%,#fcfaf0 0 78.63%,#fdfbf4 0 82.33%,#fdfcf8 0 86.34%,#fefefb 0 90.69%,#fdfefd 0 95.35%,#f5faf3 0)"></i><i style="left:613px;width:13px;background:linear-gradient(#dff0d9 5.02%,#f5faf3 0 8.88%,#fffffe 0 12.54%,#fcfaf2 0 15.8%,#f9f5e2 0 18.71%,#f4edcb 0 21.22%,#eee3ad 0 23.33%,#e6d687 0 25.08%,#dec75c 0 26.64%,#d4b72e 0 27.99%,#d5913d 0 29%,#d66f4c 0 30%,#44b276 0 31%,#50b152 0 32%,#5fb340 0 33%,#7ac061 0 34%,#92cb7d 0 35%,#a6d594 0 36%,#b5dca7 0 37%,#c0e1b4 0 38%,#c8e5bd 0 39%,#cbe7c1 0 40%,#cbe7c2 0 41%,#c8e5bd 0 42%,#c1e1b5 0 43%,#b5dca7 0 44%,#a6d595 0 45%,#93cc7e 0 46%,#7bc162 0 47%,#60b442 0 48%,#50b151 0 49%,#45b275 0 50%,#d66e4c 0 51%,#d58f3e 0 52%,#d4b030 0 53%,#d9c047 0 54%,#dfca65 0 55.01%,#e5d37f 0 56.01%,#e9db95 0 57.06%,#ede2a9 0 58.16%,#f1e7ba 0 59.31%,#f4ecc8 0 60.56%,#f6f0d4 0 61.91%,#f8f4de 0 63.41%,#faf6e6 0 65.12%,#fbf9ed 0 67.12%,#fcfbf2 0 69.47%,#fdfcf6 0 72.17%,#fefdf9 0 75.23%,#fefdfa 0 78.63%,#fefefb 0 82.33%,#fefefc 0 86.34%,#fffefd 0 90.69%,#fefefe 0 95.35%,#f9fcf8 0)"></i><i style="left:626px;width:13px;background:linear-gradient(#e1f1dc 5.02%,#eef7eb 0 8.88%,#f3f9f1 0 12.54%,#f6fbf5 0 15.8%,#fbfdfa 0 18.71%,#fefdfa 0 21.22%,#fbf8e9 0 23.33%,#f5efcf 0 25.08%,#ede1a7 0 26.64%,#e2ce70 0 27.99%,#d5b830 0 29%,#d67f45 0 30%,#47b26f 0 31%,#5fb340 0 32%,#8fca7a 0 33%,#b5dca6 0 34%,#d0e9c7 0 35%,#e3f2de 0 36%,#f1f8ee 0 37%,#fafdf9 0 38%,#fffffe 0 39%,#fefefb 0 41%,#fffffe 0 42%,#fbfdfa 0 43%,#f2f9ef 0 44%,#e5f3e0 0 45%,#d2e9c9 0 46%,#b7dda9 0 47%,#92cb7d 0 48%,#62b544 0 49%,#48b26b 0 50%,#d67b47 0 51%,#d4b52e 0 52%,#dfca63 0 53%,#e8d88e 0 54%,#eee3ae 0 55.01%,#f3ebc5 0 56.01%,#f7f1d6 0 57.06%,#f9f5e3 0 58.16%,#fbf8ec 0 59.31%,#fcfbf3 0 60.56%,#fdfcf8 0 61.91%,#fefefb 0 63.41%,#fffefd 0 65.12%,#fffffe 0 67.12%,#fff 0 69.47%,#fffffe 0 75.23%,#fffefd 0 78.63%,#fefefc 0 90.69%,#fffffe 0 95.35%,#fefffe 0)"></i><i style="left:639px;width:15px;background:linear-gradient(#e9f5e5 5.02%,#eff8ec 0 8.88%,#f3f9f1 0 12.54%,#f5faf3 0 15.8%,#f7fbf5 0 18.71%,#f8fcf7 0 21.22%,#fbfdfa 0 23.33%,#fffffe 0 25.08%,#fcfaf1 0 26.64%,#f7f1d6 0 27.99%,#ecdfa3 0 29%,#d6ba35 0 30%,#50b152 0 31%,#a0d28e 0 32%,#c9e6bf 0 33%,#deefd7 0 34%,#e9f4e5 0 35%,#eff7ec 0 36%,#f3f9f0 0 37%,#f5faf3 0 38%,#f6fbf5 0 39%,#f7fbf5 0 40%,#f7fbf6 0 41%,#f7fbf5 0 42%,#f6fbf4 0 43%,#f4faf2 0 44%,#f1f8ee 0 45%,#ebf5e7 0 46%,#e0f1db 0 47%,#cce7c3 0 48%,#a4d492 0 49%,#51b14e 0 50%,#d5b830 0 51%,#ebdd9d 0 52%,#f5edcc 0 53%,#f9f5e3 0 54%,#fcf9ef 0 55.01%,#fdfcf5 0 56.01%,#fefdf9 0 57.06%,#fefefb 0 58.16%,#fefefc 0 63.41%,#fefefb 0 65.12%,#fefdfa 0 69.47%,#fefdf9 0 86.34%,#fefdfa 0 90.69%,#fefefb 0)"></i></u></div>
<div class="plot" style="left:115px;top:321.7px;width:650px;height:260.8px"><u><i style="left:0px;width:15px;background:linear-gradient(#eaf5e6 5.02%,#e3f2de 0 8.88%,#dff0d8 0 12.54%,#deefd7 0 15.8%,#e2f1dc 0 18.71%,#eaf5e6 0 21.22%,#f7fbf6 0 23.33%,#fdfbf5 0 25.08%,#f8f4de 0 26.64%,#f3ebc4 0 27.99%,#efe3af 0 29%,#ecdfa3 0 30%,#d8246c 0 50%,#eadc99 0 51%,#ece0a5 0 52%,#f0e6b7 0 53%,#f4ecc8 0 54%,#f7f2d8 0 55.01%,#faf6e6 0 56.01%,#fcfaf1 0 57.06%,#fefefb 0 58.16%,#fbfdfa 0 59.31%,#f5faf3 0 60.56%,#f0f8ed 0 61.91%,#ebf6e7 0 63.41%,#e8f4e3 0 65.12%,#e5f3e0 0 67.12%,#e4f2df 0 69.47%,#e4f2de 0 72.17%,#e5f3e0 0 75.23%,#e8f4e3 0 78.63%,#ecf6e8 0 82.33%,#f1f8ee 0 86.34%,#f7fbf6 0 90.69%,#fefffe 0 95.35%,#fefefb 0)"></i><i style="left:15px;width:13px;background:linear-gradient(#eff8ed 5.02%,#f2f9f0 0 8.88%,#fafcf9 0 12.54%,#fefdf8 0 15.8%,#faf7e9 0 18.71%,#f7f2d8 0 21.22%,#f4ecc8 0 23.33%,#f2e8bd 0 25.08%,#f1e7b9 0 26.64%,#f2e9be 0 27.99%,#f5eece 0 29%,#faf7e9 0 30%,#d6684f 0 31%,#d58343 0 32%,#d5923d 0 33%,#d59a39 0 34%,#d59d38 0 36%,#d59c38 0 37%,#d59b39 0 38%,#d59a3a 0 39%,#d5993a 0 40%,#d5983a 0 42%,#d5993a 0 45%,#d5983a 0 46%,#d5943c 0 47%,#d58c40 0 48%,#d67b47 0 49%,#d66052 0 50%,#f9f4e0 0 51%,#f3ebc4 0 52%,#f0e5b5 0 53%,#eee3ae 0 54%,#eee3ac 0 55.01%,#efe3ae 0 56.01%,#efe5b3 0 57.06%,#f1e7b9 0 58.16%,#f2e9c0 0 59.31%,#f4ecc7 0 60.56%,#f5efcf 0 61.91%,#f7f1d7 0 63.41%,#f8f4df 0 65.12%,#faf7e7 0 67.12%,#fcf9ee 0 69.47%,#fdfbf5 0 72.17%,#fefdfa 0 75.23%,#fffffe 0 78.63%,#fefffe 0 86.34%,#fff 0 90.69%,#fefefc 0 95.35%,#fefdf9 0)"></i><i style="left:28px;width:13px;background:linear-gradient(#f2f9ef 5.02%,#f5faf3 0 8.88%,#fdfefd 0 12.54%,#fdfcf7 0 15.8%,#fcf9ee 0 18.71%,#fbf8e9 0 21.22%,#fbf8eb 0 23.33%,#fcfbf2 0 25.08%,#fefffe 0 26.64%,#eff7ec 0 27.99%,#e0f0da 0 29%,#d4eacb 0 30%,#d5993a 0 31%,#d4a734 0 32%,#d4b62e 0 33%,#d7bb3a 0 34%,#d9c046 0 35%,#dbc34f 0 36%,#dcc556 0 37%,#ddc75b 0 38%,#dec85e 0 39%,#dec85f 0 40%,#dec85e 0 41%,#dec75c 0 42%,#ddc658 0 43%,#dcc452 0 44%,#dac14a 0 45%,#d8be40 0 46%,#d5b933 0 47%,#d4ae31 0 48%,#d59e38 0 49%,#d58f3e 0 50%,#ddefd7 0 51%,#eaf5e6 0 52%,#f8fcf7 0 53%,#fefdf8 0 54%,#fbf9ec 0 55.01%,#f9f5e3 0 56.01%,#f8f3dc 0 57.06%,#f7f1d8 0 58.16%,#f6f1d5 0 59.31%,#f6f0d3 0 60.56%,#f6f0d4 0 61.91%,#f6f1d5 0 63.41%,#f7f2d8 0 65.12%,#f8f3db 0 67.12%,#f9f4e0 0 69.47%,#faf6e5 0 72.17%,#fbf8eb 0 75.23%,#fcfaef 0 78.63%,#fdfbf4 0 82.33%,#fdfcf7 0 86.34%,#fefdf8 0 95.35%,#fdfcf6 0)"></i><i style="left:41px;width:13px;background:linear-gradient(#eff7ec 5.02%,#eff8ec 0 8.88%,#f3f9f1 0 12.54%,#f6fbf5 0 18.71%,#f3f9f0 0 21.22%,#ebf6e7 0 23.33%,#e1f1db 0 25.08%,#d5ebcd 0 26.64%,#c9e6bf 0 27.99%,#bfe1b3 0 29%,#b5dca7 0 30%,#d5b830 0 31%,#d7bc3b 0 32%,#d9bf45 0 33%,#dbc24e 0 34%,#ddc557 0 35%,#dec85e 0 36%,#dfca64 0 37%,#e0cb68 0 38%,#e1cc6b 0 39%,#e1cd6c 0 40%,#e1cc6c 0 41%,#e0cc69 0 42%,#e0ca65 0 43%,#dec860 0 44%,#ddc659 0 45%,#dbc350 0 46%,#d9c046 0 47%,#d7bc3c 0 48%,#d5b831 0 49%,#d4af31 0 50%,#c1e1b5 0 51%,#cbe7c1 0 52%,#d5ebcd 0 53%,#dff0d9 0 54%,#e8f4e3 0 55.01%,#f0f8ed 0 56.01%,#f7fbf6 0 57.06%,#fefffe 0 58.16%,#fefdf9 0 59.31%,#fdfbf4 0 60.56%,#fcfaef 0 61.91%,#fbf8ec 0 63.41%,#fbf8e9 0 65.12%,#faf7e8 0 69.47%,#faf7e9 0 72.17%,#fbf8eb 0 75.23%,#fbf9ee 0 78.63%,#fcfaf1 0 82.33%,#fdfbf4 0 86.34%,#fdfcf6 0 90.69%,#fdfcf7 0 95.35%,#fdfcf5 0)"></i><i style="left:54px;width:13px;background:linear-gradient(#eaf5e6 5.02%,#e7f4e2 0 8.88%,#e6f3e1 0 12.54%,#e4f2df 0 15.8%,#e0f0da 0 18.71%,#d9edd2 0 21.22%,#d0e9c7 0 23.33%,#c7e4bc 0 25.08%,#bde0b0 0 26.64%,#b4dba5 0 27.99%,#acd89c 0 29%,#a5d493 0 30%,#d8bd3f 0 31%,#d9c047 0 32%,#dbc24e 0 33%,#dcc555 0 34%,#ddc75a 0 35%,#dec85f 0 36%,#dfca63 0 37%,#e0cb66 0 38%,#e0cb68 0 39%,#e0cb69 0 40%,#e0cb68 0 41%,#e0cb66 0 42%,#dfc963 0 43%,#dec85f 0 44%,#ddc659 0 45%,#dcc453 0 46%,#dac24c 0 47%,#d9bf44 0 48%,#d7bc3b 0 49%,#d5b932 0 50%,#b1daa2 0 51%,#b9deab 0 52%,#c1e2b5 0 53%,#c9e5be 0 54%,#d0e9c7 0 55.01%,#d7ecd0 0 56.01%,#deefd8 0 57.06%,#e4f2df 0 58.16%,#ebf5e7 0 59.31%,#f0f8ee 0 60.56%,#f6fbf4 0 61.91%,#fbfdfa 0 63.41%,#fff 0 65.12%,#fefefb 0 67.12%,#fdfcf7 0 69.47%,#fdfcf5 0 72.17%,#fdfbf4 0 78.63%,#fdfbf5 0 82.33%,#fdfcf6 0 86.34%,#fdfcf7 0 95.35%,#fdfbf4 0)"></i><i style="left:67px;width:13px;background:linear-gradient(#e3f2de 5.02%,#dff0d9 0 8.88%,#dbeed4 0 12.54%,#d7eccf 0 15.8%,#d0e9c7 0 18.71%,#c8e5be 0 21.22%,#c0e1b4 0 23.33%,#b8ddaa 0 25.08%,#b0daa1 0 26.64%,#a9d698 0 27.99%,#a3d391 0 29%,#9ed18b 0 30%,#d9bf45 0 31%,#dac14a 0 32%,#dbc34f 0 33%,#dcc454 0 34%,#ddc657 0 35%,#ddc75b 0 36%,#dec85d 0 37%,#dec85f 0 38%,#dec960 0 39%,#dfc960 0 40%,#dec860 0 41%,#dec85e 0 42%,#dec75c 0 43%,#ddc659 0 44%,#dcc555 0 45%,#dbc350 0 46%,#dac14b 0 47%,#d9bf45 0 48%,#d8bd3f 0 49%,#d6bb38 0 50%,#aad79a 0 51%,#b0daa1 0 52%,#b6dda8 0 53%,#bcdfb0 0 54%,#c2e2b7 0 55.01%,#c8e5be 0 56.01%,#cee8c5 0 57.06%,#d4ebcb 0 58.16%,#d9edd2 0 59.31%,#dff0d9 0 60.56%,#e4f2df 0 61.91%,#eaf5e5 0 63.41%,#eff7ec 0 65.12%,#f4faf1 0 67.12%,#f8fcf7 0 69.47%,#fcfefb 0 72.17%,#fff 0 75.23%,#fffefd 0 78.63%,#fefefb 0 82.33%,#fefdfb 0 86.34%,#fefdfa 0 90.69%,#fefdf9 0 95.35%,#fdfcf5 0)"></i><i style="left:80px;width:13px;background:linear-gradient(#ddefd7 5.02%,#d8edd1 0 8.88%,#d3eacb 0 12.54%,#cde7c3 0 15.8%,#c6e4bb 0 18.71%,#bfe1b2 0 21.22%,#b7dda9 0 23.33%,#b0daa1 0 25.08%,#aad79a 0 26.64%,#a5d493 0 27.99%,#a0d28e 0 29%,#9dd18a 0 30%,#d9bf45 0 31%,#dac048 0 32%,#dac24c 0 33%,#dbc34f 0 34%,#dcc452 0 35%,#dcc454 0 36%,#dcc556 0 37%,#ddc557 0 38%,#ddc657 0 40%,#ddc557 0 41%,#dcc556 0 42%,#dcc454 0 43%,#dbc351 0 44%,#dbc24e 0 45%,#dac14b 0 46%,#d9c047 0 47%,#d8be43 0 48%,#d7bd3e 0 49%,#d6bb39 0 50%,#a8d697 0 51%,#add89d 0 52%,#b1daa3 0 53%,#b6dda8 0 54%,#bbdfae 0 55.01%,#c0e1b4 0 56.01%,#c5e3b9 0 57.06%,#c9e6bf 0 58.16%,#cee8c5 0 59.31%,#d3eacb 0 60.56%,#d8edd1 0 61.91%,#ddefd7 0 63.41%,#e2f1dd 0 65.12%,#e8f4e3 0 67.12%,#edf6e9 0 69.47%,#f2f9ef 0 72.17%,#f6fbf4 0 75.23%,#f9fcf8 0 78.63%,#fcfefc 0 82.33%,#fefffe 0 86.34%,#fffefe 0 90.69%,#fefefb 0 95.35%,#fdfcf6 0)"></i><i style="left:93px;width:13px;background:linear-gradient(#d7ecd0 5.02%,#d3eaca 0 8.88%,#cde8c4 0 12.54%,#c7e5bc 0 15.8%,#c0e1b4 0 18.71%,#badeac 0 21.22%,#b3dba5 0 23.33%,#aed99e 0 25.08%,#a9d698 0 26.64%,#a5d493 0 27.99%,#a1d38f 0 29%,#9fd18c 0 30%,#d8be41 0 31%,#d9bf44 0 32%,#d9c047 0 33%,#dac149 0 34%,#dac14b 0 35%,#dac24c 0 36%,#dbc24d 0 37%,#dbc24e 0 41%,#dac24d 0 42%,#dac14b 0 43%,#dac149 0 44%,#d9c047 0 45%,#d9bf44 0 46%,#d8be41 0 47%,#d8bd3e 0 48%,#d7bc3b 0 49%,#d6ba37 0 50%,#a9d698 0 51%,#acd89d 0 52%,#b0daa1 0 53%,#b4dca6 0 54%,#b8ddaa 0 55.01%,#bcdfaf 0 56.01%,#c0e1b3 0 57.06%,#c4e3b8 0 58.16%,#c8e5bd 0 59.31%,#cce7c2 0 60.56%,#d1e9c8 0 61.91%,#d5ebcd 0 63.41%,#daedd3 0 65.12%,#dff0d9 0 67.12%,#e4f2df 0 69.47%,#e9f5e5 0 72.17%,#eef7eb 0 75.23%,#f3f9f1 0 78.63%,#f7fbf5 0 82.33%,#fafdf9 0 86.34%,#fdfefd 0 90.69%,#fffefd 0 95.35%,#fefdf8 0)"></i><i style="left:106px;width:13px;background:linear-gradient(#d2eac9 5.02%,#cee8c5 0 8.88%,#c9e6bf 0 12.54%,#c4e3b8 0 15.8%,#bee0b1 0 18.71%,#b8ddaa 0 21.22%,#b2dba4 0 23.33%,#aed99e 0 25.08%,#aad79a 0 26.64%,#a7d596 0 27.99%,#a4d493 0 29%,#a2d390 0 30%,#d7bc3d 0 31%,#d8bd3f 0 32%,#d8be40 0 33%,#d8be42 0 34%,#d9bf43 0 35%,#d9bf44 0 36%,#d9bf45 0 37%,#d9bf46 0 40%,#d9bf45 0 41%,#d9bf44 0 42%,#d9bf43 0 43%,#d8be42 0 44%,#d8bd40 0 45%,#d7bd3e 0 46%,#d7bc3b 0 47%,#d6bb39 0 48%,#d6ba36 0 49%,#d5b933 0 50%,#abd79b 0 51%,#aed99f 0 52%,#b1daa2 0 53%,#b4dca6 0 54%,#b7ddaa 0 55.01%,#badfad 0 56.01%,#bee0b1 0 57.06%,#c1e2b5 0 58.16%,#c5e3b9 0 59.31%,#c8e5be 0 60.56%,#cce7c2 0 61.91%,#d0e9c7 0 63.41%,#d5ebcc 0 65.12%,#d9edd2 0 67.12%,#def0d8 0 69.47%,#e4f2de 0 72.17%,#e9f4e5 0 75.23%,#eef7ea 0 78.63%,#f2f9f0 0 82.33%,#f7fbf5 0 86.34%,#fbfdfa 0 90.69%,#fff 0 95.35%,#fefdfa 0)"></i><i style="left:119px;width:13px;background:linear-gradient(#cde8c4 5.02%,#cbe6c1 0 8.88%,#c7e4bc 0 12.54%,#c2e2b6 0 15.8%,#bde0b0 0 18.71%,#b8ddaa 0 21.22%,#b3dba5 0 23.33%,#b0d9a0 0 25.08%,#add89d 0 26.64%,#aad79a 0 27.99%,#a8d697 0 29%,#a6d596 0 30%,#d6ba37 0 31%,#d6bb39 0 32%,#d7bb3a 0 33%,#d7bc3b 0 34%,#d7bc3c 0 35%,#d7bc3d 0 36%,#d7bd3d 0 37%,#d7bd3e 0 39%,#d7bd3d 0 40%,#d7bc3d 0 41%,#d7bc3c 0 42%,#d7bc3b 0 43%,#d7bb3a 0 44%,#d6bb39 0 45%,#d6ba37 0 46%,#d6ba35 0 47%,#d5b933 0 48%,#d5b831 0 49%,#d4b72e 0 50%,#afd99f 0 51%,#b1daa2 0 52%,#b3dba5 0 53%,#b6dca8 0 54%,#b9deab 0 55.01%,#bbdfae 0 56.01%,#bee0b1 0 57.06%,#c1e1b5 0 58.16%,#c4e3b8 0 59.31%,#c7e4bc 0 60.56%,#cae6c0 0 61.91%,#cee8c4 0 63.41%,#d2e9c9 0 65.12%,#d6ecce 0 67.12%,#dbeed4 0 69.47%,#e0f0da 0 72.17%,#e5f3e0 0 75.23%,#eaf5e6 0 78.63%,#eff7ec 0 82.33%,#f4faf2 0 86.34%,#f8fcf7 0 90.69%,#fdfefc 0 95.35%,#fefefc 0)"></i><i style="left:132px;width:13px;background:linear-gradient(#cae6bf 5.02%,#c8e5be 0 8.88%,#c5e3ba 0 12.54%,#c1e2b5 0 15.8%,#bce0b0 0 18.71%,#b8deab 0 21.22%,#b5dca7 0 23.33%,#b2dba3 0 25.08%,#b0d9a0 0 26.64%,#aed99e 0 27.99%,#acd89c 0 29%,#abd79b 0 30%,#d5b931 0 31%,#d5b933 0 32%,#d5b934 0 33%,#d6ba34 0 34%,#d6ba35 0 35%,#d6ba36 0 40%,#d6ba35 0 42%,#d5b934 0 43%,#d5b933 0 44%,#d5b932 0 45%,#d5b830 0 46%,#d4b82f 0 47%,#d4b72d 0 48%,#d4b52e 0 49%,#d4b42e 0 50%,#b3dba4 0 51%,#b5dca6 0 52%,#b7dda9 0 53%,#b9deab 0 54%,#bbdfae 0 55.01%,#bde0b0 0 56.01%,#bfe1b3 0 57.06%,#c1e2b6 0 58.16%,#c4e3b9 0 59.31%,#c7e4bc 0 60.56%,#cae6bf 0 61.91%,#cde7c3 0 63.41%,#d0e9c7 0 65.12%,#d4ebcc 0 67.12%,#d9edd1 0 69.47%,#ddefd7 0 72.17%,#e2f1dd 0 75.23%,#e8f4e3 0 78.63%,#edf6e9 0 82.33%,#f2f9ef 0 86.34%,#f6fbf5 0 90.69%,#fbfdfa 0 95.35%,#fffffe 0)"></i><i style="left:145px;width:13px;background:linear-gradient(#c7e4bc 5.02%,#c6e4bb 0 8.88%,#c3e3b8 0 12.54%,#c0e1b4 0 15.8%,#bde0b0 0 18.71%,#badeac 0 21.22%,#b7dda9 0 23.33%,#b5dca6 0 25.08%,#b3dba4 0 26.64%,#b1daa3 0 27.99%,#b0daa1 0 29%,#afd9a0 0 30%,#d4b62d 0 31%,#d4b72d 0 32%,#d4b72e 0 34%,#d4b82f 0 40%,#d4b72e 0 42%,#d4b72d 0 43%,#d4b62d 0 44%,#d4b52e 0 45%,#d4b42e 0 46%,#d4b32f 0 47%,#d4b22f 0 48%,#d4b030 0 49%,#d4af31 0 50%,#b7dda9 0 51%,#b8deab 0 52%,#badead 0 53%,#bcdfaf 0 54%,#bde0b1 0 55.01%,#bfe1b3 0 56.01%,#c1e2b5 0 57.06%,#c3e3b8 0 58.16%,#c5e4ba 0 59.31%,#c8e5bd 0 60.56%,#cae6c0 0 61.91%,#cde7c3 0 63.41%,#d0e9c7 0 65.12%,#d4eacb 0 67.12%,#d8ecd0 0 69.47%,#dcefd5 0 72.17%,#e1f1db 0 75.23%,#e6f3e1 0 78.63%,#ebf6e7 0 82.33%,#f0f8ed 0 86.34%,#f5faf3 0 90.69%,#fafcf9 0 95.35%,#fefffe 0)"></i><i style="left:158px;width:13px;background:linear-gradient(#c4e3b9 8.88%,#c2e2b7 0 12.54%,#c0e1b4 0 15.8%,#bee0b1 0 18.71%,#bbdfae 0 21.22%,#b9deac 0 23.33%,#b7ddaa 0 25.08%,#b6dca8 0 26.64%,#b5dca7 0 27.99%,#b4dca6 0 29%,#b3dba5 0 30%,#d4b12f 0 31%,#d4b22f 0 33%,#d4b32f 0 40%,#d4b22f 0 42%,#d4b12f 0 43%,#d4b130 0 44%,#d4b030 0 45%,#d4af31 0 46%,#d4ae31 0 47%,#d4ad31 0 48%,#d4ab32 0 49%,#d4aa33 0 50%,#bbdfae 0 51%,#bcdfaf 0 52%,#bde0b1 0 53%,#bfe1b3 0 54%,#c0e1b4 0 55.01%,#c2e2b6 0 56.01%,#c4e3b8 0 57.06%,#c5e4ba 0 58.16%,#c7e5bd 0 59.31%,#c9e6bf 0 60.56%,#cce7c2 0 61.91%,#cee8c5 0 63.41%,#d1e9c8 0 65.12%,#d4ebcc 0 67.12%,#d8ecd0 0 69.47%,#dceed5 0 72.17%,#e0f0da 0 75.23%,#e5f3e0 0 78.63%,#eaf5e6 0 82.33%,#eff7ec 0 86.34%,#f4faf2 0 90.69%,#f8fcf7 0 95.35%,#fdfefc 0)"></i><i style="left:171px;width:13px;background:linear-gradient(#c2e2b6 5.02%,#c2e2b7 0 8.88%,#c2e2b6 0 12.54%,#c0e1b4 0 15.8%,#bee0b2 0 18.71%,#bde0b0 0 21.22%,#bbdfae 0 23.33%,#badead 0 25.08%,#b9deab 0 26.64%,#b8ddab 0 27.99%,#b8ddaa 0 29%,#b7dda9 0 30%,#d4ad31 0 32%,#d4ae31 0 39%,#d4ad31 0 42%,#d4ac32 0 43%,#d4ab32 0 45%,#d4aa33 0 46%,#d4a933 0 47%,#d4a834 0 48%,#d4a734 0 49%,#d4a634 0 50%,#bfe1b2 0 51%,#c0e1b4 0 52%,#c1e2b5 0 53%,#c2e2b7 0 54%,#c4e3b8 0 55.01%,#c5e4ba 0 56.01%,#c6e4bb 0 57.06%,#c8e5bd 0 58.16%,#cae6bf 0 59.31%,#cbe7c1 0 60.56%,#cde7c4 0 61.91%,#cfe9c6 0 63.41%,#d2eac9 0 65.12%,#d5ebcd 0 67.12%,#d8edd1 0 69.47%,#dceed5 0 72.17%,#e0f0da 0 75.23%,#e5f3e0 0 78.63%,#e9f5e5 0 82.33%,#eef7eb 0 86.34%,#f3f9f1 0 90.69%,#f7fbf6 0 95.35%,#fbfdfb 0)"></i><i style="left:184px;width:13px;background:linear-gradient(#c0e1b4 5.02%,#c1e2b5 0 12.54%,#c0e1b4 0 15.8%,#bfe1b3 0 18.71%,#bee0b1 0 21.22%,#bde0b0 0 23.33%,#bcdfaf 0 25.08%,#bbdfae 0 27.99%,#bbdfad 0 29%,#badead 0 30%,#d4a933 0 31%,#d4aa33 0 37%,#d4a933 0 40%,#d4a833 0 42%,#d4a734 0 44%,#d4a634 0 45%,#d4a535 0 46%,#d5a435 0 48%,#d5a336 0 49%,#d5a236 0 50%,#c2e2b6 0 51%,#c3e3b8 0 52%,#c4e3b9 0 53%,#c5e4ba 0 54%,#c6e4bc 0 55.01%,#c8e5bd 0 56.01%,#c9e5bf 0 57.06%,#cae6c0 0 58.16%,#cce7c2 0 59.31%,#cde8c4 0 60.56%,#cfe8c6 0 61.91%,#d1e9c8 0 63.41%,#d3eacb 0 65.12%,#d6ecce 0 67.12%,#d9edd2 0 69.47%,#ddefd6 0 72.17%,#e0f1db 0 75.23%,#e5f3e0 0 78.63%,#e9f5e5 0 82.33%,#eef7ea 0 86.34%,#f2f9f0 0 90.69%,#f7fbf5 0 95.35%,#fafdf9 0)"></i><i style="left:197px;width:13px;background:linear-gradient(#bfe1b2 5.02%,#c0e1b4 0 8.88%,#c1e1b5 0 12.54%,#c0e1b4 0 18.71%,#bfe1b3 0 21.22%,#bee0b2 0 25.08%,#bee0b1 0 26.64%,#bde0b1 0 29%,#bde0b0 0 30%,#d4a634 0 37%,#d4a535 0 40%,#d5a435 0 42%,#d5a335 0 43%,#d5a336 0 44%,#d5a236 0 45%,#d5a136 0 46%,#d5a137 0 47%,#d5a037 0 48%,#d59f37 0 49%,#d59e38 0 50%,#c5e4ba 0 51%,#c6e4bb 0 52%,#c7e5bc 0 53%,#c8e5be 0 54%,#c9e6bf 0 55.01%,#cae6c0 0 56.01%,#cbe7c2 0 57.06%,#cde7c3 0 58.16%,#cee8c5 0 59.31%,#cfe8c6 0 60.56%,#d1e9c8 0 61.91%,#d3eaca 0 63.41%,#d5ebcd 0 65.12%,#d7ecd0 0 67.12%,#daeed3 0 69.47%,#ddefd7 0 72.17%,#e1f1db 0 75.23%,#e5f3e0 0 78.63%,#e9f5e5 0 82.33%,#edf7ea 0 86.34%,#f2f9ef 0 90.69%,#f6fbf4 0 95.35%,#f9fcf8 0)"></i><i style="left:210px;width:13px;background:linear-gradient(#bee0b1 5.02%,#c0e1b3 0 8.88%,#c0e1b4 0 23.33%,#c0e1b3 0 25.08%,#bfe1b3 0 30%,#d5a335 0 33%,#d5a336 0 36%,#d5a236 0 39%,#d5a136 0 41%,#d5a037 0 43%,#d59f37 0 45%,#d59e38 0 46%,#d59d38 0 47%,#d59c38 0 48%,#d59c39 0 49%,#d59b39 0 50%,#c8e5bd 0 51%,#c9e5be 0 52%,#cae6c0 0 53%,#cbe6c1 0 54%,#cce7c2 0 55.01%,#cde7c3 0 56.01%,#cee8c4 0 57.06%,#cfe8c6 0 58.16%,#d0e9c7 0 59.31%,#d1e9c9 0 60.56%,#d3eaca 0 61.91%,#d4ebcc 0 63.41%,#d6ecce 0 65.12%,#d8edd1 0 67.12%,#dbeed4 0 69.47%,#deefd8 0 72.17%,#e1f1dc 0 75.23%,#e5f3e0 0 78.63%,#e9f5e5 0 82.33%,#edf7ea 0 86.34%,#f1f9ef 0 90.69%,#f5faf3 0 95.35%,#f9fcf7 0)"></i><i style="left:223px;width:13px;background:linear-gradient(#bde0b0 5.02%,#bfe1b3 0 8.88%,#c0e1b4 0 12.54%,#c1e1b5 0 15.8%,#c1e2b5 0 29%,#c1e2b6 0 30%,#d5a136 0 32%,#d5a137 0 34%,#d5a037 0 37%,#d59f37 0 40%,#d59e38 0 42%,#d59d38 0 43%,#d59c38 0 44%,#d59c39 0 45%,#d59b39 0 46%,#d59a39 0 47%,#d59a3a 0 48%,#d5993a 0 49%,#d5983a 0 50%,#cae6c0 0 51%,#cbe7c1 0 52%,#cce7c2 0 53%,#cde7c3 0 54%,#cee8c4 0 55.01%,#cfe8c5 0 56.01%,#d0e9c7 0 57.06%,#d1e9c8 0 58.16%,#d2eac9 0 59.31%,#d3eacb 0 60.56%,#d4ebcc 0 61.91%,#d6ecce 0 63.41%,#d8ecd0 0 65.12%,#daedd3 0 67.12%,#dceed5 0 69.47%,#dff0d9 0 72.17%,#e2f1dc 0 75.23%,#e6f3e1 0 78.63%,#e9f5e5 0 82.33%,#edf7ea 0 86.34%,#f1f8ee 0 90.69%,#f5faf3 0 95.35%,#f8fcf7 0)"></i><i style="left:236px;width:13px;background:linear-gradient(#bcdfaf 5.02%,#bee0b2 0 8.88%,#c0e1b4 0 12.54%,#c1e1b5 0 15.8%,#c1e2b5 0 18.71%,#c2e2b6 0 25.08%,#c2e2b7 0 26.64%,#c3e2b7 0 27.99%,#c3e3b7 0 30%,#d59f37 0 33%,#d59e38 0 36%,#d59d38 0 39%,#d59c39 0 41%,#d59b39 0 43%,#d59a39 0 44%,#d5993a 0 46%,#d5983a 0 47%,#d5973b 0 48%,#d5963b 0 50%,#cce7c3 0 51%,#cde7c4 0 52%,#cee8c5 0 53%,#cfe8c6 0 54%,#d0e9c7 0 55.01%,#d1e9c8 0 56.01%,#d1e9c9 0 57.06%,#d2eaca 0 58.16%,#d3eacb 0 59.31%,#d5ebcc 0 60.56%,#d6ecce 0 61.91%,#d7ecd0 0 63.41%,#d9edd2 0 65.12%,#dbeed4 0 67.12%,#ddefd6 0 69.47%,#e0f0da 0 72.17%,#e3f2dd 0 75.23%,#e6f3e1 0 78.63%,#e9f5e5 0 82.33%,#edf7ea 0 86.34%,#f1f8ee 0 90.69%,#f4faf2 0 95.35%,#f8fbf6 0)"></i><i style="left:249px;width:13px;background:linear-gradient(#bcdfaf 5.02%,#bee0b2 0 8.88%,#c0e1b3 0 12.54%,#c1e2b5 0 15.8%,#c2e2b6 0 21.22%,#c3e2b7 0 23.33%,#c3e3b8 0 26.64%,#c4e3b8 0 27.99%,#c4e3b9 0 30%,#d59e38 0 31%,#d59d38 0 34%,#d59c38 0 35%,#d59c39 0 37%,#d59b39 0 39%,#d59a39 0 40%,#d59a3a 0 41%,#d5993a 0 43%,#d5983a 0 44%,#d5973b 0 46%,#d5963b 0 47%,#d5953b 0 48%,#d5943c 0 50%,#cee8c5 0 51%,#cfe8c6 0 52%,#d0e9c7 0 53%,#d0e9c8 0 54%,#d1e9c8 0 55.01%,#d2eac9 0 56.01%,#d3eaca 0 57.06%,#d4ebcc 0 58.16%,#d5ebcd 0 59.31%,#d6ecce 0 60.56%,#d7eccf 0 61.91%,#d8edd1 0 63.41%,#daedd3 0 65.12%,#dceed5 0 67.12%,#deefd7 0 69.47%,#e0f0da 0 72.17%,#e3f2de 0 75.23%,#e6f3e1 0 78.63%,#eaf5e5 0 82.33%,#edf6ea 0 86.34%,#f1f8ee 0 90.69%,#f4faf2 0 95.35%,#f7fbf6 0)"></i><i style="left:262px;width:13px;background:linear-gradient(#bbdfae 5.02%,#bee0b1 0 8.88%,#bfe1b3 0 12.54%,#c1e2b5 0 15.8%,#c2e2b6 0 18.71%,#c3e2b7 0 21.22%,#c3e3b8 0 23.33%,#c4e3b8 0 25.08%,#c4e3b9 0 26.64%,#c5e3b9 0 27.99%,#c5e4ba 0 30%,#d59c38 0 31%,#d59c39 0 33%,#d59b39 0 35%,#d59a39 0 37%,#d59a3a 0 38%,#d5993a 0 40%,#d5983a 0 41%,#d5973b 0 43%,#d5963b 0 45%,#d5953c 0 46%,#d5943c 0 48%,#d5933c 0 49%,#d5923d 0 50%,#d0e9c6 0 51%,#d0e9c7 0 52%,#d1e9c8 0 53%,#d2eac9 0 54%,#d3eaca 0 55.01%,#d3eacb 0 56.01%,#d4ebcc 0 57.06%,#d5ebcd 0 58.16%,#d6ecce 0 59.31%,#d7eccf 0 60.56%,#d8edd1 0 61.91%,#d9edd2 0 63.41%,#dbeed4 0 65.12%,#dcefd6 0 67.12%,#def0d8 0 69.47%,#e1f1db 0 72.17%,#e4f2de 0 75.23%,#e6f3e2 0 78.63%,#eaf5e6 0 82.33%,#edf6ea 0 86.34%,#f0f8ee 0 90.69%,#f4faf2 0 95.35%,#f7fbf5 0)"></i><i style="left:275px;width:13px;background:linear-gradient(#bbdfae 5.02%,#bee0b1 0 8.88%,#bfe1b3 0 12.54%,#c1e2b5 0 15.8%,#c2e2b6 0 18.71%,#c3e3b7 0 21.22%,#c4e3b8 0 23.33%,#c4e3b9 0 25.08%,#c5e3ba 0 26.64%,#c5e4ba 0 27.99%,#c6e4bb 0 30%,#d59c39 0 31%,#d59b39 0 33%,#d59a39 0 35%,#d5993a 0 37%,#d5983a 0 39%,#d5973b 0 41%,#d5963b 0 43%,#d5953c 0 44%,#d5943c 0 46%,#d5933c 0 47%,#d5923d 0 49%,#d5913d 0 50%,#d1e9c8 0 51%,#d1e9c9 0 52%,#d2eac9 0 53%,#d3eaca 0 54%,#d4eacb 0 55.01%,#d4ebcc 0 56.01%,#d5ebcd 0 57.06%,#d6ecce 0 58.16%,#d7eccf 0 59.31%,#d8ecd0 0 60.56%,#d9edd2 0 61.91%,#daeed3 0 63.41%,#dceed5 0 65.12%,#ddefd7 0 67.12%,#dff0d9 0 69.47%,#e1f1dc 0 72.17%,#e4f2df 0 75.23%,#e7f4e2 0 78.63%,#eaf5e6 0 82.33%,#edf6ea 0 86.34%,#f0f8ee 0 90.69%,#f4faf1 0 95.35%,#f7fbf5 0)"></i><i style="left:288px;width:13px;background:linear-gradient(#bbdfae 5.02%,#bde0b1 0 8.88%,#bfe1b3 0 12.54%,#c1e2b5 0 15.8%,#c2e2b6 0 18.71%,#c3e3b8 0 21.22%,#c4e3b9 0 23.33%,#c5e3ba 0 25.08%,#c5e4ba 0 26.64%,#c6e4bb 0 29%,#c7e4bc 0 30%,#d59b39 0 31%,#d59a39 0 33%,#d59a3a 0 34%,#d5993a 0 36%,#d5983a 0 38%,#d5973b 0 39%,#d5963b 0 41%,#d5953b 0 42%,#d5953c 0 43%,#d5943c 0 44%,#d5933c 0 46%,#d5923d 0 47%,#d5913d 0 49%,#d5903e 0 50%,#d1e9c9 0 51%,#d2eaca 0 52%,#d3eaca 0 53%,#d4eacb 0 54%,#d4ebcc 0 55.01%,#d5ebcd 0 56.01%,#d6ecce 0 57.06%,#d7eccf 0 58.16%,#d8ecd0 0 59.31%,#d8edd1 0 60.56%,#daedd2 0 61.91%,#dbeed4 0 63.41%,#dceed5 0 65.12%,#deefd7 0 67.12%,#dff0d9 0 69.47%,#e2f1dc 0 72.17%,#e4f2df 0 75.23%,#e7f4e2 0 78.63%,#eaf5e6 0 82.33%,#edf7ea 0 86.34%,#f0f8ed 0 90.69%,#f3faf1 0 95.35%,#f6fbf5 0)"></i><i style="left:301px;width:13px;background:linear-gradient(#bbdfad 5.02%,#bde0b1 0 8.88%,#bfe1b3 0 12.54%,#c1e2b5 0 15.8%,#c2e2b7 0 18.71%,#c3e3b8 0 21.22%,#c4e3b9 0 23.33%,#c5e4ba 0 25.08%,#c6e4bb 0 27.99%,#c7e4bc 0 29%,#c7e5bc 0 30%,#d59a39 0 32%,#d59a3a 0 33%,#d5993a 0 35%,#d5983a 0 37%,#d5973b 0 38%,#d5963b 0 40%,#d5953b 0 41%,#d5953c 0 42%,#d5943c 0 44%,#d5933c 0 45%,#d5923d 0 47%,#d5913d 0 48%,#d5903e 0 49%,#d58f3e 0 50%,#d2eac9 0 51%,#d3eaca 0 52%,#d3eacb 0 53%,#d4ebcc 0 54%,#d5ebcd 0 55.01%,#d5ebce 0 56.01%,#d6ecce 0 57.06%,#d7eccf 0 58.16%,#d8edd0 0 59.31%,#d9edd2 0 60.56%,#daedd3 0 61.91%,#dbeed4 0 63.41%,#dcefd6 0 65.12%,#deefd8 0 67.12%,#e0f0da 0 69.47%,#e2f1dc 0 72.17%,#e4f2df 0 75.23%,#e7f4e2 0 78.63%,#eaf5e6 0 82.33%,#edf7ea 0 86.34%,#f0f8ed 0 90.69%,#f3faf1 0 95.35%,#f6fbf5 0)"></i><i style="left:314px;width:13px;background:linear-gradient(#bbdfad 5.02%,#bde0b1 0 8.88%,#bfe1b3 0 12.54%,#c1e2b5 0 15.8%,#c2e2b7 0 18.71%,#c3e3b8 0 21.22%,#c4e3b9 0 23.33%,#c5e4ba 0 25.08%,#c6e4bb 0 27.99%,#c7e4bc 0 29%,#c7e5bd 0 30%,#d59a39 0 31%,#d59a3a 0 32%,#d5993a 0 34%,#d5983a 0 36%,#d5973b 0 38%,#d5963b 0 40%,#d5953c 0 41%,#d5943c 0 43%,#d5933c 0 44%,#d5933d 0 45%,#d5923d 0 46%,#d5913d 0 48%,#d5903e 0 49%,#d58f3e 0 50%,#d2eaca 0 51%,#d3eaca 0 52%,#d4eacb 0 53%,#d4ebcc 0 54%,#d5ebcd 0 55.01%,#d6ebce 0 56.01%,#d6eccf 0 57.06%,#d7ecd0 0 58.16%,#d8edd1 0 59.31%,#d9edd2 0 60.56%,#daeed3 0 61.91%,#dbeed4 0 63.41%,#ddefd6 0 65.12%,#deefd8 0 67.12%,#e0f0da 0 69.47%,#e2f1dc 0 72.17%,#e4f2df 0 75.23%,#e7f4e3 0 78.63%,#eaf5e6 0 82.33%,#edf7ea 0 86.34%,#f0f8ed 0 90.69%,#f3f9f1 0 95.35%,#f6fbf5 0)"></i><i style="left:327px;width:13px;background:linear-gradient(#bbdfad 5.02%,#bde0b1 0 8.88%,#bfe1b3 0 12.54%,#c1e2b5 0 15.8%,#c2e2b7 0 18.71%,#c3e3b8 0 21.22%,#c4e3b9 0 23.33%,#c5e4ba 0 25.08%,#c6e4bb 0 27.99%,#c7e4bc 0 29%,#c7e5bd 0 30%,#d59a39 0 31%,#d59a3a 0 32%,#d5993a 0 34%,#d5983a 0 36%,#d5973b 0 38%,#d5963b 0 40%,#d5953c 0 41%,#d5943c 0 43%,#d5933c 0 44%,#d5933d 0 45%,#d5923d 0 46%,#d5913d 0 48%,#d5903e 0 49%,#d58f3e 0 50%,#d2eaca 0 51%,#d3eaca 0 52%,#d4eacb 0 53%,#d4ebcc 0 54%,#d5ebcd 0 55.01%,#d6ebce 0 56.01%,#d6eccf 0 57.06%,#d7ecd0 0 58.16%,#d8edd1 0 59.31%,#d9edd2 0 60.56%,#daeed3 0 61.91%,#dbeed4 0 63.41%,#ddefd6 0 65.12%,#deefd8 0 67.12%,#e0f0da 0 69.47%,#e2f1dc 0 72.17%,#e4f2df 0 75.23%,#e7f4e3 0 78.63%,#eaf5e6 0 82.33%,#edf7ea 0 86.34%,#f0f8ed 0 90.69%,#f3f9f1 0 95.35%,#f6fbf5 0)"></i><i style="left:340px;width:13px;background:linear-gradient(#bbdfad 5.02%,#bde0b1 0 8.88%,#bfe1b3 0 12.54%,#c1e2b5 0 15.8%,#c2e2b7 0 18.71%,#c3e3b8 0 21.22%,#c4e3b9 0 23.33%,#c5e4ba 0 25.08%,#c6e4bb 0 27.99%,#c7e4bc 0 29%,#c7e5bc 0 30%,#d59a39 0 32%,#d59a3a 0 33%,#d5993a 0 35%,#d5983a 0 37%,#d5973b 0 38%,#d5963b 0 40%,#d5953b 0 41%,#d5953c 0 42%,#d5943c 0 44%,#d5933c 0 45%,#d5923d 0 47%,#d5913d 0 48%,#d5903e 0 49%,#d58f3e 0 50%,#d2eac9 0 51%,#d3eaca 0 52%,#d3eacb 0 53%,#d4ebcc 0 54%,#d5ebcd 0 55.01%,#d5ebce 0 56.01%,#d6ecce 0 57.06%,#d7eccf 0 58.16%,#d8edd0 0 59.31%,#d9edd2 0 60.56%,#daedd3 0 61.91%,#dbeed4 0 63.41%,#dcefd6 0 65.12%,#deefd8 0 67.12%,#e0f0da 0 69.47%,#e2f1dc 0 72.17%,#e4f2df 0 75.23%,#e7f4e2 0 78.63%,#eaf5e6 0 82.33%,#edf7ea 0 86.34%,#f0f8ed 0 90.69%,#f3faf1 0 95.35%,#f6fbf5 0)"></i><i style="left:353px;width:13px;background:linear-gradient(#bbdfae 5.02%,#bde0b1 0 8.88%,#bfe1b3 0 12.54%,#c1e2b5 0 15.8%,#c2e2b6 0 18.71%,#c3e3b8 0 21.22%,#c4e3b9 0 23.33%,#c5e3ba 0 25.08%,#c5e4ba 0 26.64%,#c6e4bb 0 29%,#c7e4bc 0 30%,#d59b39 0 31%,#d59a39 0 33%,#d59a3a 0 34%,#d5993a 0 36%,#d5983a 0 38%,#d5973b 0 39%,#d5963b 0 41%,#d5953b 0 42%,#d5953c 0 43%,#d5943c 0 44%,#d5933c 0 46%,#d5923d 0 47%,#d5913d 0 49%,#d5903e 0 50%,#d1e9c9 0 51%,#d2eaca 0 52%,#d3eaca 0 53%,#d4eacb 0 54%,#d4ebcc 0 55.01%,#d5ebcd 0 56.01%,#d6ecce 0 57.06%,#d7eccf 0 58.16%,#d8ecd0 0 59.31%,#d8edd1 0 60.56%,#daedd2 0 61.91%,#dbeed4 0 63.41%,#dceed5 0 65.12%,#deefd7 0 67.12%,#dff0d9 0 69.47%,#e2f1dc 0 72.17%,#e4f2df 0 75.23%,#e7f4e2 0 78.63%,#eaf5e6 0 82.33%,#edf7ea 0 86.34%,#f0f8ed 0 90.69%,#f3faf1 0 95.35%,#f6fbf5 0)"></i><i style="left:366px;width:13px;background:linear-gradient(#bbdfae 5.02%,#bee0b1 0 8.88%,#bfe1b3 0 12.54%,#c1e2b5 0 15.8%,#c2e2b6 0 18.71%,#c3e3b7 0 21.22%,#c4e3b8 0 23.33%,#c4e3b9 0 25.08%,#c5e3ba 0 26.64%,#c5e4ba 0 27.99%,#c6e4bb 0 30%,#d59c39 0 31%,#d59b39 0 33%,#d59a39 0 35%,#d5993a 0 37%,#d5983a 0 39%,#d5973b 0 41%,#d5963b 0 43%,#d5953c 0 44%,#d5943c 0 46%,#d5933c 0 47%,#d5923d 0 49%,#d5913d 0 50%,#d1e9c8 0 51%,#d1e9c9 0 52%,#d2eac9 0 53%,#d3eaca 0 54%,#d4eacb 0 55.01%,#d4ebcc 0 56.01%,#d5ebcd 0 57.06%,#d6ecce 0 58.16%,#d7eccf 0 59.31%,#d8ecd0 0 60.56%,#d9edd2 0 61.91%,#daeed3 0 63.41%,#dceed5 0 65.12%,#ddefd7 0 67.12%,#dff0d9 0 69.47%,#e1f1dc 0 72.17%,#e4f2df 0 75.23%,#e7f4e2 0 78.63%,#eaf5e6 0 82.33%,#edf6ea 0 86.34%,#f0f8ee 0 90.69%,#f4faf1 0 95.35%,#f7fbf5 0)"></i><i style="left:379px;width:13px;background:linear-gradient(#bbdfae 5.02%,#bee0b1 0 8.88%,#bfe1b3 0 12.54%,#c1e2b5 0 15.8%,#c2e2b6 0 18.71%,#c3e2b7 0 21.22%,#c3e3b8 0 23.33%,#c4e3b8 0 25.08%,#c4e3b9 0 26.64%,#c5e3b9 0 27.99%,#c5e4ba 0 30%,#d59c38 0 31%,#d59c39 0 33%,#d59b39 0 35%,#d59a39 0 37%,#d59a3a 0 38%,#d5993a 0 40%,#d5983a 0 41%,#d5973b 0 43%,#d5963b 0 45%,#d5953c 0 46%,#d5943c 0 48%,#d5933c 0 49%,#d5923d 0 50%,#d0e9c6 0 51%,#d0e9c7 0 52%,#d1e9c8 0 53%,#d2eac9 0 54%,#d3eaca 0 55.01%,#d3eacb 0 56.01%,#d4ebcc 0 57.06%,#d5ebcd 0 58.16%,#d6ecce 0 59.31%,#d7eccf 0 60.56%,#d8edd1 0 61.91%,#d9edd2 0 63.41%,#dbeed4 0 65.12%,#dcefd6 0 67.12%,#def0d8 0 69.47%,#e1f1db 0 72.17%,#e4f2de 0 75.23%,#e6f3e2 0 78.63%,#eaf5e6 0 82.33%,#edf6ea 0 86.34%,#f0f8ee 0 90.69%,#f4faf2 0 95.35%,#f7fbf5 0)"></i><i style="left:392px;width:13px;background:linear-gradient(#bcdfaf 5.02%,#bee0b2 0 8.88%,#c0e1b3 0 12.54%,#c1e2b5 0 15.8%,#c2e2b6 0 21.22%,#c3e2b7 0 23.33%,#c3e3b8 0 26.64%,#c4e3b8 0 27.99%,#c4e3b9 0 30%,#d59e38 0 31%,#d59d38 0 34%,#d59c38 0 35%,#d59c39 0 37%,#d59b39 0 39%,#d59a39 0 40%,#d59a3a 0 41%,#d5993a 0 43%,#d5983a 0 44%,#d5973b 0 46%,#d5963b 0 47%,#d5953b 0 48%,#d5943c 0 50%,#cee8c5 0 51%,#cfe8c6 0 52%,#d0e9c7 0 53%,#d0e9c8 0 54%,#d1e9c8 0 55.01%,#d2eac9 0 56.01%,#d3eaca 0 57.06%,#d4ebcc 0 58.16%,#d5ebcd 0 59.31%,#d6ecce 0 60.56%,#d7eccf 0 61.91%,#d8edd1 0 63.41%,#daedd3 0 65.12%,#dceed5 0 67.12%,#deefd7 0 69.47%,#e0f0da 0 72.17%,#e3f2de 0 75.23%,#e6f3e1 0 78.63%,#eaf5e5 0 82.33%,#edf6ea 0 86.34%,#f1f8ee 0 90.69%,#f4faf2 0 95.35%,#f7fbf6 0)"></i><i style="left:405px;width:13px;background:linear-gradient(#bcdfaf 5.02%,#bee0b2 0 8.88%,#c0e1b4 0 12.54%,#c1e1b5 0 15.8%,#c1e2b5 0 18.71%,#c2e2b6 0 25.08%,#c2e2b7 0 26.64%,#c3e2b7 0 27.99%,#c3e3b7 0 30%,#d59f37 0 33%,#d59e38 0 36%,#d59d38 0 39%,#d59c39 0 41%,#d59b39 0 43%,#d59a39 0 44%,#d5993a 0 46%,#d5983a 0 47%,#d5973b 0 48%,#d5963b 0 50%,#cce7c3 0 51%,#cde7c4 0 52%,#cee8c5 0 53%,#cfe8c6 0 54%,#d0e9c7 0 55.01%,#d1e9c8 0 56.01%,#d1e9c9 0 57.06%,#d2eaca 0 58.16%,#d3eacb 0 59.31%,#d5ebcc 0 60.56%,#d6ecce 0 61.91%,#d7ecd0 0 63.41%,#d9edd2 0 65.12%,#dbeed4 0 67.12%,#ddefd6 0 69.47%,#e0f0da 0 72.17%,#e3f2dd 0 75.23%,#e6f3e1 0 78.63%,#e9f5e5 0 82.33%,#edf7ea 0 86.34%,#f1f8ee 0 90.69%,#f4faf2 0 95.35%,#f8fbf6 0)"></i><i style="left:418px;width:13px;background:linear-gradient(#bde0b0 5.02%,#bfe1b3 0 8.88%,#c0e1b4 0 12.54%,#c1e1b5 0 15.8%,#c1e2b5 0 29%,#c1e2b6 0 30%,#d5a136 0 32%,#d5a137 0 34%,#d5a037 0 37%,#d59f37 0 40%,#d59e38 0 42%,#d59d38 0 43%,#d59c38 0 44%,#d59c39 0 45%,#d59b39 0 46%,#d59a39 0 47%,#d59a3a 0 48%,#d5993a 0 49%,#d5983a 0 50%,#cae6c0 0 51%,#cbe7c1 0 52%,#cce7c2 0 53%,#cde7c3 0 54%,#cee8c4 0 55.01%,#cfe8c5 0 56.01%,#d0e9c7 0 57.06%,#d1e9c8 0 58.16%,#d2eac9 0 59.31%,#d3eacb 0 60.56%,#d4ebcc 0 61.91%,#d6ecce 0 63.41%,#d8ecd0 0 65.12%,#daedd3 0 67.12%,#dceed5 0 69.47%,#dff0d9 0 72.17%,#e2f1dc 0 75.23%,#e6f3e1 0 78.63%,#e9f5e5 0 82.33%,#edf7ea 0 86.34%,#f1f8ee 0 90.69%,#f5faf3 0 95.35%,#f8fcf7 0)"></i><i style="left:431px;width:13px;background:linear-gradient(#bee0b1 5.02%,#c0e1b3 0 8.88%,#c0e1b4 0 23.33%,#c0e1b3 0 25.08%,#bfe1b3 0 30%,#d5a335 0 33%,#d5a336 0 36%,#d5a236 0 39%,#d5a136 0 41%,#d5a037 0 43%,#d59f37 0 45%,#d59e38 0 46%,#d59d38 0 47%,#d59c38 0 48%,#d59c39 0 49%,#d59b39 0 50%,#c8e5bd 0 51%,#c9e5be 0 52%,#cae6c0 0 53%,#cbe6c1 0 54%,#cce7c2 0 55.01%,#cde7c3 0 56.01%,#cee8c4 0 57.06%,#cfe8c6 0 58.16%,#d0e9c7 0 59.31%,#d1e9c9 0 60.56%,#d3eaca 0 61.91%,#d4ebcc 0 63.41%,#d6ecce 0 65.12%,#d8edd1 0 67.12%,#dbeed4 0 69.47%,#deefd8 0 72.17%,#e1f1dc 0 75.23%,#e5f3e0 0 78.63%,#e9f5e5 0 82.33%,#edf7ea 0 86.34%,#f1f9ef 0 90.69%,#f5faf3 0 95.35%,#f9fcf7 0)"></i><i style="left:444px;width:13px;background:linear-gradient(#bfe1b2 5.02%,#c0e1b4 0 8.88%,#c1e1b5 0 12.54%,#c0e1b4 0 18.71%,#bfe1b3 0 21.22%,#bee0b2 0 25.08%,#bee0b1 0 26.64%,#bde0b1 0 29%,#bde0b0 0 30%,#d4a634 0 37%,#d4a535 0 40%,#d5a435 0 42%,#d5a335 0 43%,#d5a336 0 44%,#d5a236 0 45%,#d5a136 0 46%,#d5a137 0 47%,#d5a037 0 48%,#d59f37 0 49%,#d59e38 0 50%,#c5e4ba 0 51%,#c6e4bb 0 52%,#c7e5bc 0 53%,#c8e5be 0 54%,#c9e6bf 0 55.01%,#cae6c0 0 56.01%,#cbe7c2 0 57.06%,#cde7c3 0 58.16%,#cee8c5 0 59.31%,#cfe8c6 0 60.56%,#d1e9c8 0 61.91%,#d3eaca 0 63.41%,#d5ebcd 0 65.12%,#d7ecd0 0 67.12%,#daeed3 0 69.47%,#ddefd7 0 72.17%,#e1f1db 0 75.23%,#e5f3e0 0 78.63%,#e9f5e5 0 82.33%,#edf7ea 0 86.34%,#f2f9ef 0 90.69%,#f6fbf4 0 95.35%,#f9fcf8 0)"></i><i style="left:457px;width:13px;background:linear-gradient(#c0e1b4 5.02%,#c1e2b5 0 12.54%,#c0e1b4 0 15.8%,#bfe1b3 0 18.71%,#bee0b1 0 21.22%,#bde0b0 0 23.33%,#bcdfaf 0 25.08%,#bbdfae 0 27.99%,#bbdfad 0 29%,#badead 0 30%,#d4a933 0 31%,#d4aa33 0 37%,#d4a933 0 40%,#d4a833 0 42%,#d4a734 0 44%,#d4a634 0 45%,#d4a535 0 46%,#d5a435 0 48%,#d5a336 0 49%,#d5a236 0 50%,#c2e2b6 0 51%,#c3e3b8 0 52%,#c4e3b9 0 53%,#c5e4ba 0 54%,#c6e4bc 0 55.01%,#c8e5bd 0 56.01%,#c9e5bf 0 57.06%,#cae6c0 0 58.16%,#cce7c2 0 59.31%,#cde8c4 0 60.56%,#cfe8c6 0 61.91%,#d1e9c8 0 63.41%,#d3eacb 0 65.12%,#d6ecce 0 67.12%,#d9edd2 0 69.47%,#ddefd6 0 72.17%,#e0f1db 0 75.23%,#e5f3e0 0 78.63%,#e9f5e5 0 82.33%,#eef7ea 0 86.34%,#f2f9f0 0 90.69%,#f7fbf5 0 95.35%,#fafdf9 0)"></i><i style="left:470px;width:13px;background:linear-gradient(#c2e2b6 5.02%,#c2e2b7 0 8.88%,#c2e2b6 0 12.54%,#c0e1b4 0 15.8%,#bee0b2 0 18.71%,#bde0b0 0 21.22%,#bbdfae 0 23.33%,#badead 0 25.08%,#b9deab 0 26.64%,#b8ddab 0 27.99%,#b8ddaa 0 29%,#b7dda9 0 30%,#d4ad31 0 32%,#d4ae31 0 39%,#d4ad31 0 42%,#d4ac32 0 43%,#d4ab32 0 45%,#d4aa33 0 46%,#d4a933 0 47%,#d4a834 0 48%,#d4a734 0 49%,#d4a634 0 50%,#bfe1b2 0 51%,#c0e1b4 0 52%,#c1e2b5 0 53%,#c2e2b7 0 54%,#c4e3b8 0 55.01%,#c5e4ba 0 56.01%,#c6e4bb 0 57.06%,#c8e5bd 0 58.16%,#cae6bf 0 59.31%,#cbe7c1 0 60.56%,#cde7c4 0 61.91%,#cfe9c6 0 63.41%,#d2eac9 0 65.12%,#d5ebcd 0 67.12%,#d8edd1 0 69.47%,#dceed5 0 72.17%,#e0f0da 0 75.23%,#e5f3e0 0 78.63%,#e9f5e5 0 82.33%,#eef7eb 0 86.34%,#f3f9f1 0 90.69%,#f7fbf6 0 95.35%,#fbfdfb 0)"></i><i style="left:483px;width:13px;background:linear-gradient(#c4e3b9 8.88%,#c2e2b7 0 12.54%,#c0e1b4 0 15.8%,#bee0b1 0 18.71%,#bbdfae 0 21.22%,#b9deac 0 23.33%,#b7ddaa 0 25.08%,#b6dca8 0 26.64%,#b5dca7 0 27.99%,#b4dca6 0 29%,#b3dba5 0 30%,#d4b12f 0 31%,#d4b22f 0 33%,#d4b32f 0 40%,#d4b22f 0 42%,#d4b12f 0 43%,#d4b130 0 44%,#d4b030 0 45%,#d4af31 0 46%,#d4ae31 0 47%,#d4ad31 0 48%,#d4ab32 0 49%,#d4aa33 0 50%,#bbdfae 0 51%,#bcdfaf 0 52%,#bde0b1 0 53%,#bfe1b3 0 54%,#c0e1b4 0 55.01%,#c2e2b6 0 56.01%,#c4e3b8 0 57.06%,#c5e4ba 0 58.16%,#c7e5bd 0 59.31%,#c9e6bf 0 60.56%,#cce7c2 0 61.91%,#cee8c5 0 63.41%,#d1e9c8 0 65.12%,#d4ebcc 0 67.12%,#d8ecd0 0 69.47%,#dceed5 0 72.17%,#e0f0da 0 75.23%,#e5f3e0 0 78.63%,#eaf5e6 0 82.33%,#eff7ec 0 86.34%,#f4faf2 0 90.69%,#f8fcf7 0 95.35%,#fdfefc 0)"></i><i style="left:496px;width:13px;background:linear-gradient(#c7e4bc 5.02%,#c6e4bb 0 8.88%,#c3e3b8 0 12.54%,#c0e1b4 0 15.8%,#bde0b0 0 18.71%,#badeac 0 21.22%,#b7dda9 0 23.33%,#b5dca6 0 25.08%,#b3dba4 0 26.64%,#b1daa3 0 27.99%,#b0daa1 0 29%,#afd9a0 0 30%,#d4b62d 0 31%,#d4b72d 0 32%,#d4b72e 0 34%,#d4b82f 0 40%,#d4b72e 0 42%,#d4b72d 0 43%,#d4b62d 0 44%,#d4b52e 0 45%,#d4b42e 0 46%,#d4b32f 0 47%,#d4b22f 0 48%,#d4b030 0 49%,#d4af31 0 50%,#b7dda9 0 51%,#b8deab 0 52%,#badead 0 53%,#bcdfaf 0 54%,#bde0b1 0 55.01%,#bfe1b3 0 56.01%,#c1e2b5 0 57.06%,#c3e3b8 0 58.16%,#c5e4ba 0 59.31%,#c8e5bd 0 60.56%,#cae6c0 0 61.91%,#cde7c3 0 63.41%,#d0e9c7 0 65.12%,#d4eacb 0 67.12%,#d8ecd0 0 69.47%,#dcefd5 0 72.17%,#e1f1db 0 75.23%,#e6f3e1 0 78.63%,#ebf6e7 0 82.33%,#f0f8ed 0 86.34%,#f5faf3 0 90.69%,#fafcf9 0 95.35%,#fefffe 0)"></i><i style="left:509px;width:13px;background:linear-gradient(#cae6bf 5.02%,#c8e5be 0 8.88%,#c5e3ba 0 12.54%,#c1e2b5 0 15.8%,#bce0b0 0 18.71%,#b8deab 0 21.22%,#b5dca7 0 23.33%,#b2dba3 0 25.08%,#b0d9a0 0 26.64%,#aed99e 0 27.99%,#acd89c 0 29%,#abd79b 0 30%,#d5b931 0 31%,#d5b933 0 32%,#d5b934 0 33%,#d6ba34 0 34%,#d6ba35 0 35%,#d6ba36 0 40%,#d6ba35 0 42%,#d5b934 0 43%,#d5b933 0 44%,#d5b932 0 45%,#d5b830 0 46%,#d4b82f 0 47%,#d4b72d 0 48%,#d4b52e 0 49%,#d4b42e 0 50%,#b3dba4 0 51%,#b5dca6 0 52%,#b7dda9 0 53%,#b9deab 0 54%,#bbdfae 0 55.01%,#bde0b0 0 56.01%,#bfe1b3 0 57.06%,#c1e2b6 0 58.16%,#c4e3b9 0 59.31%,#c7e4bc 0 60.56%,#cae6bf 0 61.91%,#cde7c3 0 63.41%,#d0e9c7 0 65.12%,#d4ebcc 0 67.12%,#d9edd1 0 69.47%,#ddefd7 0 72.17%,#e2f1dd 0 75.23%,#e8f4e3 0 78.63%,#edf6e9 0 82.33%,#f2f9ef 0 86.34%,#f6fbf5 0 90.69%,#fbfdfa 0 95.35%,#fffffe 0)"></i><i style="left:522px;width:13px;background:linear-gradient(#cde8c4 5.02%,#cbe6c1 0 8.88%,#c7e4bc 0 12.54%,#c2e2b6 0 15.8%,#bde0b0 0 18.71%,#b8ddaa 0 21.22%,#b3dba5 0 23.33%,#b0d9a0 0 25.08%,#add89d 0 26.64%,#aad79a 0 27.99%,#a8d697 0 29%,#a6d596 0 30%,#d6ba37 0 31%,#d6bb39 0 32%,#d7bb3a 0 33%,#d7bc3b 0 34%,#d7bc3c 0 35%,#d7bc3d 0 36%,#d7bd3d 0 37%,#d7bd3e 0 39%,#d7bd3d 0 40%,#d7bc3d 0 41%,#d7bc3c 0 42%,#d7bc3b 0 43%,#d7bb3a 0 44%,#d6bb39 0 45%,#d6ba37 0 46%,#d6ba35 0 47%,#d5b933 0 48%,#d5b831 0 49%,#d4b72e 0 50%,#afd99f 0 51%,#b1daa2 0 52%,#b3dba5 0 53%,#b6dca8 0 54%,#b9deab 0 55.01%,#bbdfae 0 56.01%,#bee0b1 0 57.06%,#c1e1b5 0 58.16%,#c4e3b8 0 59.31%,#c7e4bc 0 60.56%,#cae6c0 0 61.91%,#cee8c4 0 63.41%,#d2e9c9 0 65.12%,#d6ecce 0 67.12%,#dbeed4 0 69.47%,#e0f0da 0 72.17%,#e5f3e0 0 75.23%,#eaf5e6 0 78.63%,#eff7ec 0 82.33%,#f4faf2 0 86.34%,#f8fcf7 0 90.69%,#fdfefc 0 95.35%,#fefefc 0)"></i><i style="left:535px;width:13px;background:linear-gradient(#d2eac9 5.02%,#cee8c5 0 8.88%,#c9e6bf 0 12.54%,#c4e3b8 0 15.8%,#bee0b1 0 18.71%,#b8ddaa 0 21.22%,#b2dba4 0 23.33%,#aed99e 0 25.08%,#aad79a 0 26.64%,#a7d596 0 27.99%,#a4d493 0 29%,#a2d390 0 30%,#d7bc3d 0 31%,#d8bd3f 0 32%,#d8be40 0 33%,#d8be42 0 34%,#d9bf43 0 35%,#d9bf44 0 36%,#d9bf45 0 37%,#d9bf46 0 40%,#d9bf45 0 41%,#d9bf44 0 42%,#d9bf43 0 43%,#d8be42 0 44%,#d8bd40 0 45%,#d7bd3e 0 46%,#d7bc3b 0 47%,#d6bb39 0 48%,#d6ba36 0 49%,#d5b933 0 50%,#abd79b 0 51%,#aed99f 0 52%,#b1daa2 0 53%,#b4dca6 0 54%,#b7ddaa 0 55.01%,#badfad 0 56.01%,#bee0b1 0 57.06%,#c1e2b5 0 58.16%,#c5e3b9 0 59.31%,#c8e5be 0 60.56%,#cce7c2 0 61.91%,#d0e9c7 0 63.41%,#d5ebcc 0 65.12%,#d9edd2 0 67.12%,#def0d8 0 69.47%,#e4f2de 0 72.17%,#e9f4e5 0 75.23%,#eef7ea 0 78.63%,#f2f9f0 0 82.33%,#f7fbf5 0 86.34%,#fbfdfa 0 90.69%,#fff 0 95.35%,#fefdfa 0)"></i><i style="left:548px;width:13px;background:linear-gradient(#d7ecd0 5.02%,#d3eaca 0 8.88%,#cde8c4 0 12.54%,#c7e5bc 0 15.8%,#c0e1b4 0 18.71%,#badeac 0 21.22%,#b3dba5 0 23.33%,#aed99e 0 25.08%,#a9d698 0 26.64%,#a5d493 0 27.99%,#a1d38f 0 29%,#9fd18c 0 30%,#d8be41 0 31%,#d9bf44 0 32%,#d9c047 0 33%,#dac149 0 34%,#dac14b 0 35%,#dac24c 0 36%,#dbc24d 0 37%,#dbc24e 0 41%,#dac24d 0 42%,#dac14b 0 43%,#dac149 0 44%,#d9c047 0 45%,#d9bf44 0 46%,#d8be41 0 47%,#d8bd3e 0 48%,#d7bc3b 0 49%,#d6ba37 0 50%,#a9d698 0 51%,#acd89d 0 52%,#b0daa1 0 53%,#b4dca6 0 54%,#b8ddaa 0 55.01%,#bcdfaf 0 56.01%,#c0e1b3 0 57.06%,#c4e3b8 0 58.16%,#c8e5bd 0 59.31%,#cce7c2 0 60.56%,#d1e9c8 0 61.91%,#d5ebcd 0 63.41%,#daedd3 0 65.12%,#dff0d9 0 67.12%,#e4f2df 0 69.47%,#e9f5e5 0 72.17%,#eef7eb 0 75.23%,#f3f9f1 0 78.63%,#f7fbf5 0 82.33%,#fafdf9 0 86.34%,#fdfefd 0 90.69%,#fffefd 0 95.35%,#fefdf8 0)"></i><i style="left:561px;width:13px;background:linear-gradient(#ddefd7 5.02%,#d8edd1 0 8.88%,#d3eacb 0 12.54%,#cde7c3 0 15.8%,#c6e4bb 0 18.71%,#bfe1b2 0 21.22%,#b7dda9 0 23.33%,#b0daa1 0 25.08%,#aad79a 0 26.64%,#a5d493 0 27.99%,#a0d28e 0 29%,#9dd18a 0 30%,#d9bf45 0 31%,#dac048 0 32%,#dac24c 0 33%,#dbc34f 0 34%,#dcc452 0 35%,#dcc454 0 36%,#dcc556 0 37%,#ddc557 0 38%,#ddc657 0 40%,#ddc557 0 41%,#dcc556 0 42%,#dcc454 0 43%,#dbc351 0 44%,#dbc24e 0 45%,#dac14b 0 46%,#d9c047 0 47%,#d8be43 0 48%,#d7bd3e 0 49%,#d6bb39 0 50%,#a8d697 0 51%,#add89d 0 52%,#b1daa3 0 53%,#b6dda8 0 54%,#bbdfae 0 55.01%,#c0e1b4 0 56.01%,#c5e3b9 0 57.06%,#c9e6bf 0 58.16%,#cee8c5 0 59.31%,#d3eacb 0 60.56%,#d8edd1 0 61.91%,#ddefd7 0 63.41%,#e2f1dd 0 65.12%,#e8f4e3 0 67.12%,#edf6e9 0 69.47%,#f2f9ef 0 72.17%,#f6fbf4 0 75.23%,#f9fcf8 0 78.63%,#fcfefc 0 82.33%,#fefffe 0 86.34%,#fffefe 0 90.69%,#fefefb 0 95.35%,#fdfcf6 0)"></i><i style="left:574px;width:13px;background:linear-gradient(#e3f2de 5.02%,#dff0d9 0 8.88%,#dbeed4 0 12.54%,#d7eccf 0 15.8%,#d0e9c7 0 18.71%,#c8e5be 0 21.22%,#c0e1b4 0 23.33%,#b8ddaa 0 25.08%,#b0daa1 0 26.64%,#a9d698 0 27.99%,#a3d391 0 29%,#9ed18b 0 30%,#d9bf45 0 31%,#dac14a 0 32%,#dbc34f 0 33%,#dcc454 0 34%,#ddc657 0 35%,#ddc75b 0 36%,#dec85d 0 37%,#dec85f 0 38%,#dec960 0 39%,#dfc960 0 40%,#dec860 0 41%,#dec85e 0 42%,#dec75c 0 43%,#ddc659 0 44%,#dcc555 0 45%,#dbc350 0 46%,#dac14b 0 47%,#d9bf45 0 48%,#d8bd3f 0 49%,#d6bb38 0 50%,#aad79a 0 51%,#b0daa1 0 52%,#b6dda8 0 53%,#bcdfb0 0 54%,#c2e2b7 0 55.01%,#c8e5be 0 56.01%,#cee8c5 0 57.06%,#d4ebcb 0 58.16%,#d9edd2 0 59.31%,#dff0d9 0 60.56%,#e4f2df 0 61.91%,#eaf5e5 0 63.41%,#eff7ec 0 65.12%,#f4faf1 0 67.12%,#f8fcf7 0 69.47%,#fcfefb 0 72.17%,#fff 0 75.23%,#fffefd 0 78.63%,#fefefb 0 82.33%,#fefdfb 0 86.34%,#fefdfa 0 90.69%,#fefdf9 0 95.35%,#fdfcf5 0)"></i><i style="left:587px;width:13px;background:linear-gradient(#eaf5e6 5.02%,#e7f4e2 0 8.88%,#e6f3e1 0 12.54%,#e4f2df 0 15.8%,#e0f0da 0 18.71%,#d9edd2 0 21.22%,#d0e9c7 0 23.33%,#c7e4bc 0 25.08%,#bde0b0 0 26.64%,#b4dba5 0 27.99%,#acd89c 0 29%,#a5d493 0 30%,#d8bd3f 0 31%,#d9c047 0 32%,#dbc24e 0 33%,#dcc555 0 34%,#ddc75a 0 35%,#dec85f 0 36%,#dfca63 0 37%,#e0cb66 0 38%,#e0cb68 0 39%,#e0cb69 0 40%,#e0cb68 0 41%,#e0cb66 0 42%,#dfc963 0 43%,#dec85f 0 44%,#ddc659 0 45%,#dcc453 0 46%,#dac24c 0 47%,#d9bf44 0 48%,#d7bc3b 0 49%,#d5b932 0 50%,#b1daa2 0 51%,#b9deab 0 52%,#c1e2b5 0 53%,#c9e5be 0 54%,#d0e9c7 0 55.01%,#d7ecd0 0 56.01%,#deefd8 0 57.06%,#e4f2df 0 58.16%,#ebf5e7 0 59.31%,#f0f8ee 0 60.56%,#f6fbf4 0 61.91%,#fbfdfa 0 63.41%,#fff 0 65.12%,#fefefb 0 67.12%,#fdfcf7 0 69.47%,#fdfcf5 0 72.17%,#fdfbf4 0 78.63%,#fdfbf5 0 82.33%,#fdfcf6 0 86.34%,#fdfcf7 0 95.35%,#fdfbf4 0)"></i><i style="left:600px;width:13px;background:linear-gradient(#eff7ec 5.02%,#eff8ec 0 8.88%,#f3f9f1 0 12.54%,#f6fbf5 0 18.71%,#f3f9f0 0 21.22%,#ebf6e7 0 23.33%,#e1f1db 0 25.08%,#d5ebcd 0 26.64%,#c9e6bf 0 27.99%,#bfe1b3 0 29%,#b5dca7 0 30%,#d5b830 0 31%,#d7bc3b 0 32%,#d9bf45 0 33%,#dbc24e 0 34%,#ddc557 0 35%,#dec85e 0 36%,#dfca64 0 37%,#e0cb68 0 38%,#e1cc6b 0 39%,#e1cd6c 0 40%,#e1cc6c 0 41%,#e0cc69 0 42%,#e0ca65 0 43%,#dec860 0 44%,#ddc659 0 45%,#dbc350 0 46%,#d9c046 0 47%,#d7bc3c 0 48%,#d5b831 0 49%,#d4af31 0 50%,#c1e1b5 0 51%,#cbe7c1 0 52%,#d5ebcd 0 53%,#dff0d9 0 54%,#e8f4e3 0 55.01%,#f0f8ed 0 56.01%,#f7fbf6 0 57.06%,#fefffe 0 58.16%,#fefdf9 0 59.31%,#fdfbf4 0 60.56%,#fcfaef 0 61.91%,#fbf8ec 0 63.41%,#fbf8e9 0 65.12%,#faf7e8 0 69.47%,#faf7e9 0 72.17%,#fbf8eb 0 75.23%,#fbf9ee 0 78.63%,#fcfaf1 0 82.33%,#fdfbf4 0 86.34%,#fdfcf6 0 90.69%,#fdfcf7 0 95.35%,#fdfcf5 0)"></i><i style="left:613px;width:13px;background:linear-gradient(#f2f9ef 5.02%,#f5faf3 0 8.88%,#fdfefd 0 12.54%,#fdfcf7 0 15.8%,#fcf9ee 0 18.71%,#fbf8e9 0 21.22%,#fbf8eb 0 23.33%,#fcfbf2 0 25.08%,#fefffe 0 26.64%,#eff7ec 0 27.99%,#e0f0da 0 29%,#d4eacb 0 30%,#d5993a 0 31%,#d4a734 0 32%,#d4b62e 0 33%,#d7bb3a 0 34%,#d9c046 0 35%,#dbc34f 0 36%,#dcc556 0 37%,#ddc75b 0 38%,#dec85e 0 39%,#dec85f 0 40%,#dec85e 0 41%,#dec75c 0 42%,#ddc658 0 43%,#dcc452 0 44%,#dac14a 0 45%,#d8be40 0 46%,#d5b933 0 47%,#d4ae31 0 48%,#d59e38 0 49%,#d58f3e 0 50%,#ddefd7 0 51%,#eaf5e6 0 52%,#f8fcf7 0 53%,#fefdf8 0 54%,#fbf9ec 0 55.01%,#f9f5e3 0 56.01%,#f8f3dc 0 57.06%,#f7f1d8 0 58.16%,#f6f1d5 0 59.31%,#f6f0d3 0 60.56%,#f6f0d4 0 61.91%,#f6f1d5 0 63.41%,#f7f2d8 0 65.12%,#f8f3db 0 67.12%,#f9f4e0 0 69.47%,#faf6e5 0 72.17%,#fbf8eb 0 75.23%,#fcfaef 0 78.63%,#fdfbf4 0 82.33%,#fdfcf7 0 86.34%,#fefdf8 0 95.35%,#fdfcf6 0)"></i><i style="left:626px;width:13px;background:linear-gradient(#eff8ed 5.02%,#f2f9f0 0 8.88%,#fafcf9 0 12.54%,#fefdf8 0 15.8%,#faf7e9 0 18.71%,#f7f2d8 0 21.22%,#f4ecc8 0 23.33%,#f2e8bd 0 25.08%,#f1e7b9 0 26.64%,#f2e9be 0 27.99%,#f5eece 0 29%,#faf7e9 0 30%,#d6684f 0 31%,#d58343 0 32%,#d5923d 0 33%,#d59a39 0 34%,#d59d38 0 36%,#d59c38 0 37%,#d59b39 0 38%,#d59a3a 0 39%,#d5993a 0 40%,#d5983a 0 42%,#d5993a 0 45%,#d5983a 0 46%,#d5943c 0 47%,#d58c40 0 48%,#d67b47 0 49%,#d66052 0 50%,#f9f4e0 0 51%,#f3ebc4 0 52%,#f0e5b5 0 53%,#eee3ae 0 54%,#eee3ac 0 55.01%,#efe3ae 0 56.01%,#efe5b3 0 57.06%,#f1e7b9 0 58.16%,#f2e9c0 0 59.31%,#f4ecc7 0 60.56%,#f5efcf 0 61.91%,#f7f1d7 0 63.41%,#f8f4df 0 65.12%,#faf7e7 0 67.12%,#fcf9ee 0 69.47%,#fdfbf5 0 72.17%,#fefdfa 0 75.23%,#fffffe 0 78.63%,#fefffe 0 86.34%,#fff 0 90.69%,#fefefc 0 95.35%,#fefdf9 0)"></i><i style="left:639px;width:15px;background:linear-gradient(#eaf5e6 5.02%,#e3f2de 0 8.88%,#dff0d8 0 12.54%,#deefd7 0 15.8%,#e2f1dc 0 18.71%,#eaf5e6 0 21.22%,#f7fbf6 0 23.33%,#fdfbf5 0 25.08%,#f8f4de 0 26.64%,#f3ebc4 0 27.99%,#efe3af 0 29%,#ecdfa3 0 30%,#d8246c 0 50%,#eadc99 0 51%,#ece0a5 0 52%,#f0e6b7 0 53%,#f4ecc8 0 54%,#f7f2d8 0 55.01%,#faf6e6 0 56.01%,#fcfaf1 0 57.06%,#fefefb 0 58.16%,#fbfdfa 0 59.31%,#f5faf3 0 60.56%,#f0f8ed 0 61.91%,#ebf6e7 0 63.41%,#e8f4e3 0 65.12%,#e5f3e0 0 67.12%,#e4f2df 0 69.47%,#e4f2de 0 72.17%,#e5f3e0 0 75.23%,#e8f4e3 0 78.63%,#ecf6e8 0 82.33%,#f1f8ee 0 86.34%,#f7fbf6 0 90.69%,#fefffe 0 95.35%,#fefefb 0)"></i></u></div>
<div class="plot" style="left:904px;top:322.5px;width:652px;height:260.6px"><u><i style="left:0px;width:15px;background:linear-gradient(#fefdf9 5.02%,#fffffe 0 8.88%,#fefefb 0 12.54%,#fdfcf5 0 15.8%,#fbf8ec 0 18.71%,#f8f4df 0 21.22%,#f5eecd 0 23.33%,#efe5b2 0 25.08%,#e7d78b 0 26.64%,#dbc350 0 27.99%,#d58f3e 0 29%,#d82a6a 0 31%,#d5903e 0 32%,#dac149 0 33%,#e3d178 0 34%,#eadc99 0 35%,#efe4b1 0 36%,#f3ebc4 0 37%,#f6f0d2 0 38%,#f8f4de 0 39%,#fbf8e9 0 40%,#fdfbf4 0 41%,#fff 0 42%,#f4faf2 0 43%,#e8f4e3 0 44%,#d8ecd0 0 45%,#c3e2b7 0 46%,#a6d595 0 47%,#7dc265 0 48%,#50b153 0 49%,#2cb5c2 0 51%,#4fb154 0 52%,#7bc162 0 53%,#a3d391 0 54%,#bee0b1 0 55.01%,#d1e9c9 0 56.01%,#e0f0da 0 57.06%,#ebf6e7 0 58.16%,#f4faf1 0 59.31%,#fafdf9 0 60.56%,#fffffe 0 61.91%,#fefdfa 0 63.41%,#fdfcf6 0 65.12%,#fcfbf2 0 67.12%,#fcfaef 0 69.47%,#fbf9ed 0 72.17%,#fbf8eb 0 75.23%,#fbf8e9 0 78.63%,#faf7e8 0 82.33%,#faf7e7 0 90.69%,#faf7e9 0 95.35%,#fbf9ed 0)"></i><i style="left:15px;width:13px;background:linear-gradient(#fefefb 8.88%,#fbf9ed 0 12.54%,#f7f1d7 0 15.8%,#f1e7b8 0 18.71%,#e9da92 0 21.22%,#dfca64 0 23.33%,#d5b931 0 25.08%,#d58841 0 26.64%,#d75856 0 27.99%,#d73764 0 29%,#d83366 0 30%,#d83565 0 31%,#d74060 0 32%,#d66152 0 33%,#d58941 0 34%,#d4b12f 0 35%,#dbc350 0 36%,#e3d076 0 37%,#eadc9a 0 38%,#f1e8bc 0 39%,#f8f3dd 0 40%,#fffffe 0 41%,#e4f2de 0 42%,#c6e4bb 0 43%,#a7d596 0 44%,#86c66f 0 45%,#63b545 0 46%,#4eb158 0 47%,#40b384 0 48%,#34b4a8 0 49%,#31b4b4 0 50%,#30b4b8 0 51%,#31b4b4 0 52%,#3ab397 0 53%,#45b274 0 54%,#50b151 0 55.01%,#5fb340 0 56.01%,#77bf5d 0 57.06%,#8ec978 0 58.16%,#a2d390 0 59.31%,#b4dca6 0 60.56%,#c4e3b9 0 61.91%,#d3eaca 0 63.41%,#e0f0da 0 65.12%,#ecf6e9 0 67.12%,#f7fbf6 0 69.47%,#fffefd 0 72.17%,#fdfbf4 0 75.23%,#fbf9ec 0 78.63%,#faf7e6 0 82.33%,#f9f5e3 0 86.34%,#f9f5e1 0 90.69%,#f9f5e3 0 95.35%,#fbf8e9 0)"></i><i style="left:28px;width:13px;background:linear-gradient(#fcfaef 5.02%,#f9f5e2 0 8.88%,#f4edcb 0 12.54%,#eee2ab 0 15.8%,#e6d586 0 18.71%,#dec75d 0 21.22%,#d6ba35 0 23.33%,#d59d38 0 25.08%,#d58443 0 26.64%,#d67549 0 27.99%,#d6714b 0 30%,#d67749 0 31%,#d58244 0 32%,#d5913d 0 33%,#d4a535 0 34%,#d6ba35 0 35%,#dcc453 0 36%,#e2cf74 0 37%,#e9db95 0 38%,#f0e6b8 0 39%,#f7f2da 0 40%,#fffefd 0 41%,#e3f2dd 0 42%,#c5e4ba 0 43%,#a8d697 0 44%,#8cc875 0 45%,#71bc56 0 46%,#5ab13a 0 47%,#51b14d 0 48%,#4cb15d 0 49%,#48b26a 0 50%,#46b271 0 51%,#45b272 0 52%,#46b270 0 53%,#49b268 0 54%,#4db15b 0 55.01%,#52b14b 0 56.01%,#58b039 0 57.06%,#67b74a 0 58.16%,#78bf5e 0 59.31%,#88c772 0 60.56%,#99cf85 0 61.91%,#a9d699 0 63.41%,#badeac 0 65.12%,#cae6c0 0 67.12%,#daedd3 0 69.47%,#e9f5e5 0 72.17%,#f6fbf4 0 75.23%,#fefefc 0 78.63%,#fcfaf1 0 82.33%,#fbf8ea 0 86.34%,#faf6e5 0 90.69%,#f9f6e4 0 95.35%,#fbf8e9 0)"></i><i style="left:41px;width:13px;background:linear-gradient(#f9f5e2 5.02%,#f4edc9 0 8.88%,#eee3ae 0 12.54%,#e8d88e 0 15.8%,#e1cd6e 0 18.71%,#dbc34f 0 21.22%,#d6ba36 0 23.33%,#d4ae31 0 25.08%,#d5a435 0 26.64%,#d5a037 0 29%,#d5a435 0 30%,#d4ab32 0 31%,#d4b62e 0 32%,#d7bb3a 0 33%,#dac14b 0 34%,#dec85e 0 35%,#e3cf74 0 36%,#e7d88c 0 37%,#ede0a6 0 38%,#f2e9c0 0 39%,#f8f3dc 0 40%,#fdfcf7 0 41%,#eef7eb 0 42%,#d7eccf 0 43%,#c1e1b5 0 44%,#acd89c 0 45%,#98ce85 0 46%,#87c670 0 47%,#78bf5e 0 48%,#6bb94f 0 49%,#62b543 0 50%,#5bb13b 0 51%,#57b03a 0 52%,#57b03b 0 53%,#57b03a 0 54%,#59b13a 0 55.01%,#5eb33f 0 56.01%,#65b647 0 57.06%,#6dba51 0 58.16%,#77be5c 0 59.31%,#81c469 0 60.56%,#8dc977 0 61.91%,#9acf87 0 63.41%,#a8d697 0 65.12%,#b6dda8 0 67.12%,#c6e4bb 0 69.47%,#d6ebce 0 72.17%,#e5f3e0 0 75.23%,#f2f9f0 0 78.63%,#fefffe 0 82.33%,#fdfcf5 0 86.34%,#fbf9ee 0 90.69%,#fbf8ea 0 95.35%,#fbf8ec 0)"></i><i style="left:54px;width:13px;background:linear-gradient(#f7f2da 5.02%,#f1e7b9 0 8.88%,#ebdd9d 0 12.54%,#e5d482 0 15.8%,#e0cc69 0 18.71%,#dcc554 0 21.22%,#d9c046 0 23.33%,#d7bd3e 0 25.08%,#d7bc3a 0 26.64%,#d7bc3b 0 27.99%,#d8bd3f 0 29%,#d9bf45 0 30%,#dac24c 0 31%,#dcc556 0 32%,#dfc961 0 33%,#e1ce6f 0 34%,#e5d37e 0 35%,#e8d98f 0 36%,#ecdfa1 0 37%,#f0e5b4 0 38%,#f4ecc8 0 39%,#f8f3dd 0 40%,#fcfaf1 0 41%,#f9fcf8 0 42%,#e8f4e3 0 43%,#d7eccf 0 44%,#c7e5bd 0 45%,#b8deab 0 46%,#abd79b 0 47%,#9fd28d 0 48%,#95cd80 0 49%,#8cc976 0 50%,#85c56e 0 51%,#80c367 0 52%,#7cc163 0 53%,#7ac061 0 55.01%,#7bc162 0 56.01%,#7ec265 0 57.06%,#81c369 0 58.16%,#86c66f 0 59.31%,#8cc976 0 60.56%,#93cc7f 0 61.91%,#9cd089 0 63.41%,#a5d594 0 65.12%,#b1daa2 0 67.12%,#bde0b1 0 69.47%,#cbe7c1 0 72.17%,#d9edd2 0 75.23%,#e7f3e2 0 78.63%,#f3f9f0 0 82.33%,#fdfefd 0 86.34%,#fefdf8 0 90.69%,#fcfaf2 0 95.35%,#fcfaef 0)"></i><i style="left:67px;width:13px;background:linear-gradient(#f7f1d6 5.02%,#efe5b2 0 8.88%,#eadb97 0 12.54%,#e5d481 0 15.8%,#e1cd6e 0 18.71%,#dfc961 0 21.22%,#ddc65a 0 23.33%,#ddc557 0 25.08%,#ddc657 0 26.64%,#ddc75b 0 27.99%,#dec85f 0 29%,#dfca65 0 30%,#e1cd6c 0 31%,#e3cf74 0 32%,#e5d37e 0 33%,#e7d689 0 34%,#e9db95 0 35%,#ecdfa2 0 36%,#efe4b0 0 37%,#f2e9be 0 38%,#f5eecd 0 39%,#f8f3dd 0 40%,#fbf9ec 0 41%,#fefefc 0 42%,#f5faf3 0 43%,#e8f4e4 0 44%,#dceed5 0 45%,#d1e9c8 0 46%,#c6e4bb 0 47%,#bcdfb0 0 48%,#b4dba5 0 49%,#acd89c 0 50%,#a6d595 0 51%,#a0d28e 0 52%,#9cd089 0 53%,#99cf86 0 54%,#97ce84 0 55.01%,#97ce83 0 57.06%,#98ce84 0 58.16%,#9acf86 0 59.31%,#9cd08a 0 60.56%,#a0d28e 0 61.91%,#a5d594 0 63.41%,#acd89c 0 65.12%,#b4dba5 0 67.12%,#bde0b0 0 69.47%,#c8e5bd 0 72.17%,#d4eacb 0 75.23%,#dff0d9 0 78.63%,#ebf5e7 0 82.33%,#f5faf3 0 86.34%,#fefefd 0 90.69%,#fefdf9 0 95.35%,#fcfbf3 0)"></i><i style="left:80px;width:13px;background:linear-gradient(#f7f1d6 5.02%,#efe5b2 0 8.88%,#eadc99 0 12.54%,#e6d686 0 15.8%,#e4d179 0 18.71%,#e2ce71 0 21.22%,#e1cd6d 0 25.08%,#e2ce6f 0 26.64%,#e2cf73 0 27.99%,#e3d178 0 29%,#e4d37d 0 30%,#e6d583 0 31%,#e7d78b 0 32%,#e9da92 0 33%,#ebdd9b 0 34%,#ede0a5 0 35%,#efe4af 0 36%,#f1e7ba 0 37%,#f3ebc5 0 38%,#f5efd0 0 39%,#f8f3dc 0 40%,#faf7e8 0 41%,#fdfbf4 0 42%,#fffffe 0 43%,#f5faf3 0 44%,#ebf6e7 0 45%,#e2f1dd 0 46%,#daedd3 0 47%,#d2eac9 0 48%,#cbe6c1 0 49%,#c4e3b9 0 50%,#bfe1b2 0 51%,#badead 0 52%,#b6dca8 0 53%,#b2dba4 0 54%,#b0daa1 0 55.01%,#aed99e 0 56.01%,#add89d 0 57.06%,#acd89c 0 58.16%,#add89d 0 59.31%,#add89e 0 60.56%,#afd9a0 0 61.91%,#b2dba3 0 63.41%,#b6dca8 0 65.12%,#bbdfae 0 67.12%,#c1e2b5 0 69.47%,#c9e6bf 0 72.17%,#d2eaca 0 75.23%,#dcefd6 0 78.63%,#e6f3e1 0 82.33%,#f0f8ed 0 86.34%,#f8fcf7 0 90.69%,#fffffe 0 95.35%,#fdfbf5 0)"></i><i style="left:93px;width:13px;background:linear-gradient(#f7f2d8 5.02%,#f0e6b6 0 8.88%,#ebdea0 0 12.54%,#e8d990 0 15.8%,#e6d586 0 18.71%,#e5d480 0 21.22%,#e5d37f 0 23.33%,#e5d380 0 25.08%,#e6d483 0 26.64%,#e6d687 0 27.99%,#e7d78c 0 29%,#e8d990 0 30%,#e9db95 0 31%,#ebdd9b 0 32%,#ecdfa2 0 33%,#ede1a9 0 34%,#efe4b0 0 35%,#f1e7b8 0 36%,#f2eac1 0 37%,#f4edca 0 38%,#f6f0d3 0 39%,#f8f3dc 0 40%,#faf6e5 0 41%,#fcf9ee 0 42%,#fdfcf7 0 43%,#fefefe 0 44%,#f6fbf5 0 45%,#eff8ec 0 46%,#e8f4e4 0 47%,#e2f1dc 0 48%,#dceed5 0 49%,#d7eccf 0 50%,#d2eac9 0 51%,#cde7c4 0 52%,#c9e6bf 0 53%,#c6e4bb 0 54%,#c3e3b8 0 55.01%,#c1e2b5 0 56.01%,#bfe1b3 0 57.06%,#bee0b2 0 58.16%,#bde0b1 0 60.56%,#bee0b1 0 61.91%,#bfe1b2 0 63.41%,#c1e1b5 0 65.12%,#c4e3b8 0 67.12%,#c8e5bd 0 69.47%,#cde8c4 0 72.17%,#d4ebcc 0 75.23%,#dceed5 0 78.63%,#e4f2df 0 82.33%,#edf6e9 0 86.34%,#f5faf3 0 90.69%,#fefefd 0 95.35%,#fdfcf6 0)"></i><i style="left:106px;width:13px;background:linear-gradient(#f8f3db 5.02%,#f1e8bc 0 8.88%,#ede1a8 0 12.54%,#ebdd9b 0 15.8%,#e9da93 0 18.71%,#e8d98f 0 23.33%,#e8d991 0 25.08%,#e9da94 0 26.64%,#eadb97 0 27.99%,#ebdd9b 0 29%,#ebde9f 0 30%,#ece0a4 0 31%,#ede1a8 0 32%,#eee3ae 0 33%,#f0e5b3 0 34%,#f1e7ba 0 35%,#f2e9c0 0 36%,#f3ecc7 0 37%,#f5eece 0 38%,#f6f1d5 0 39%,#f8f3dc 0 40%,#f9f5e3 0 41%,#fbf8eb 0 42%,#fcfaf2 0 43%,#fefdf9 0 44%,#fefffe 0 45%,#f9fcf7 0 46%,#f3f9f1 0 47%,#eef7ea 0 48%,#e9f5e5 0 49%,#e4f2df 0 50%,#e0f0da 0 51%,#dceed5 0 52%,#d9edd1 0 53%,#d6ebce 0 54%,#d3eaca 0 55.01%,#d1e9c8 0 56.01%,#cfe8c5 0 57.06%,#cde7c3 0 58.16%,#cce7c2 0 59.31%,#cbe6c1 0 60.56%,#cae6c0 0 63.41%,#cbe6c1 0 65.12%,#cde7c3 0 67.12%,#cfe8c6 0 69.47%,#d3eacb 0 72.17%,#d8edd0 0 75.23%,#deefd8 0 78.63%,#e5f3e0 0 82.33%,#ecf6e8 0 86.34%,#f4faf2 0 90.69%,#fcfefc 0 95.35%,#fdfcf6 0)"></i><i style="left:119px;width:13px;background:linear-gradient(#f8f4de 5.02%,#f3eac3 0 8.88%,#efe5b2 0 12.54%,#ede1a6 0 15.8%,#ecdea0 0 18.71%,#ebdd9d 0 23.33%,#ebde9f 0 25.08%,#ecdfa2 0 26.64%,#ede0a5 0 27.99%,#ede1a8 0 29%,#eee2ab 0 30%,#efe4af 0 31%,#efe5b3 0 32%,#f0e6b7 0 33%,#f1e8bc 0 34%,#f2eac1 0 35%,#f3ebc6 0 36%,#f4edcb 0 37%,#f6efd1 0 38%,#f7f1d7 0 39%,#f8f3dc 0 40%,#f9f5e2 0 41%,#faf7e8 0 42%,#fbf9ee 0 43%,#fdfbf4 0 44%,#fefdf9 0 45%,#fff 0 46%,#fbfdfa 0 47%,#f6fbf5 0 48%,#f2f9f0 0 49%,#eef7eb 0 50%,#ebf5e7 0 51%,#e7f4e3 0 52%,#e4f2df 0 53%,#e2f1dc 0 54%,#dff0d9 0 55.01%,#ddefd6 0 56.01%,#dbeed4 0 57.06%,#d9edd2 0 58.16%,#d8ecd0 0 59.31%,#d6eccf 0 60.56%,#d5ebce 0 61.91%,#d5ebcd 0 67.12%,#d7eccf 0 69.47%,#d9edd2 0 72.17%,#ddefd6 0 75.23%,#e1f1db 0 78.63%,#e7f3e2 0 82.33%,#edf6e9 0 86.34%,#f4faf2 0 90.69%,#fcfefc 0 95.35%,#fdfcf6 0)"></i><i style="left:132px;width:13px;background:linear-gradient(#f9f5e1 5.02%,#f4edca 0 8.88%,#f1e8bb 0 12.54%,#efe4b1 0 15.8%,#eee2ac 0 18.71%,#eee2aa 0 23.33%,#eee2ab 0 25.08%,#eee3ae 0 26.64%,#efe4b0 0 27.99%,#efe5b3 0 29%,#f0e6b6 0 30%,#f1e7b9 0 31%,#f1e8bc 0 32%,#f2e9c0 0 33%,#f3ebc3 0 34%,#f4ecc7 0 35%,#f4edcb 0 36%,#f5efd0 0 37%,#f6f0d4 0 38%,#f7f2d9 0 39%,#f8f3dd 0 40%,#f9f5e2 0 41%,#faf7e7 0 42%,#fbf8eb 0 43%,#fcfaf0 0 44%,#fdfbf5 0 45%,#fefdf9 0 46%,#fffefd 0 47%,#fdfefc 0 48%,#f9fcf8 0 49%,#f6fbf4 0 50%,#f3f9f1 0 51%,#f0f8ed 0 52%,#edf7ea 0 53%,#ebf6e7 0 54%,#e9f4e4 0 55.01%,#e7f3e2 0 56.01%,#e5f3e0 0 57.06%,#e3f2de 0 58.16%,#e1f1dc 0 59.31%,#e0f0da 0 60.56%,#dff0d9 0 61.91%,#deefd8 0 63.41%,#deefd7 0 65.12%,#ddefd7 0 67.12%,#deefd8 0 69.47%,#dff0d9 0 72.17%,#e2f1dc 0 75.23%,#e5f3e0 0 78.63%,#e9f5e5 0 82.33%,#eff7ec 0 86.34%,#f5faf3 0 90.69%,#fdfefd 0 95.35%,#fdfcf6 0)"></i><i style="left:145px;width:13px;background:linear-gradient(#f9f5e3 5.02%,#f5efd0 0 8.88%,#f3ebc4 0 12.54%,#f1e8bb 0 15.8%,#f0e6b7 0 18.71%,#f0e6b5 0 23.33%,#f0e6b6 0 25.08%,#f0e7b8 0 26.64%,#f1e7ba 0 27.99%,#f1e8bd 0 29%,#f2e9bf 0 30%,#f2eac1 0 31%,#f3ebc4 0 32%,#f3ecc7 0 33%,#f4edca 0 34%,#f5eecd 0 35%,#f5efd0 0 36%,#f6f0d4 0 37%,#f7f1d7 0 38%,#f8f3db 0 39%,#f8f4df 0 40%,#f9f5e2 0 41%,#faf6e6 0 42%,#fbf8ea 0 43%,#fbf9ee 0 44%,#fcfaf1 0 45%,#fdfcf5 0 46%,#fefdf9 0 47%,#fefefc 0 48%,#fff 0 49%,#fcfefb 0 50%,#f9fcf8 0 51%,#f7fbf5 0 52%,#f4faf2 0 53%,#f2f9f0 0 54%,#f0f8ed 0 55.01%,#eef7eb 0 56.01%,#edf6e9 0 57.06%,#ebf6e7 0 58.16%,#e9f5e5 0 59.31%,#e8f4e4 0 60.56%,#e7f4e2 0 61.91%,#e6f3e1 0 63.41%,#e5f3e0 0 72.17%,#e7f4e2 0 75.23%,#e9f5e5 0 78.63%,#edf6e9 0 82.33%,#f1f9ef 0 86.34%,#f7fbf6 0 90.69%,#fefffe 0 95.35%,#fdfcf6 0)"></i><i style="left:158px;width:14px;background:linear-gradient(#faf6e6 5.02%,#f7f1d6 0 8.88%,#f4edcb 0 12.54%,#f3ebc4 0 15.8%,#f2e9c0 0 18.71%,#f2e9be 0 21.22%,#f2e9bf 0 25.08%,#f2eac1 0 26.64%,#f3eac3 0 27.99%,#f3ebc5 0 29%,#f3ecc6 0 30%,#f4ecc8 0 31%,#f4edca 0 32%,#f5eecd 0 33%,#f5efcf 0 34%,#f6efd2 0 35%,#f6f0d4 0 36%,#f7f1d7 0 37%,#f7f2da 0 38%,#f8f3dd 0 39%,#f9f4e0 0 40%,#f9f5e3 0 41%,#faf6e6 0 42%,#fbf8e9 0 43%,#fbf9ec 0 44%,#fcfaef 0 45%,#fcfbf2 0 46%,#fdfcf5 0 47%,#fefdf8 0 48%,#fefefb 0 49%,#fffffe 0 50%,#fefffe 0 51%,#fcfefb 0 52%,#fafdf9 0 53%,#f8fcf7 0 54%,#f6fbf4 0 55.01%,#f4faf2 0 56.01%,#f3f9f1 0 57.06%,#f1f9ef 0 58.16%,#f0f8ed 0 59.31%,#eff7ec 0 60.56%,#eef7ea 0 61.91%,#ecf6e9 0 63.41%,#ecf6e8 0 65.12%,#ebf5e7 0 72.17%,#ecf6e8 0 75.23%,#eef7ea 0 78.63%,#f0f8ee 0 82.33%,#f4faf2 0 86.34%,#f9fcf8 0 90.69%,#fffffe 0 95.35%,#fdfcf5 0)"></i><i style="left:172px;width:13px;background:linear-gradient(#faf7e7 5.02%,#f8f2da 0 8.88%,#f6efd2 0 12.54%,#f4edcc 0 15.8%,#f4ecc8 0 18.71%,#f4ecc7 0 21.22%,#f3ecc7 0 23.33%,#f4ecc8 0 25.08%,#f4ecc9 0 26.64%,#f4edca 0 27.99%,#f4edcc 0 29%,#f5eecd 0 30%,#f5eecf 0 31%,#f5efd0 0 32%,#f6f0d2 0 33%,#f6f0d4 0 34%,#f7f1d6 0 35%,#f7f2d8 0 36%,#f8f2db 0 37%,#f8f3dd 0 38%,#f8f4df 0 39%,#f9f5e2 0 40%,#f9f6e4 0 41%,#faf7e7 0 42%,#fbf7e9 0 43%,#fbf8ec 0 44%,#fcf9ee 0 45%,#fcfaf1 0 46%,#fdfbf3 0 47%,#fdfcf5 0 48%,#fefcf8 0 49%,#fefdfa 0 50%,#fefefc 0 51%,#fffffe 0 52%,#fefffe 0 53%,#fcfefc 0 54%,#fbfdfa 0 55.01%,#f9fcf8 0 56.01%,#f8fcf7 0 57.06%,#f7fbf5 0 58.16%,#f5faf4 0 59.31%,#f4faf2 0 60.56%,#f3f9f1 0 61.91%,#f2f9f0 0 63.41%,#f1f8ee 0 65.12%,#f0f8ee 0 67.12%,#f0f8ed 0 72.17%,#f0f8ee 0 75.23%,#f2f9ef 0 78.63%,#f4faf2 0 82.33%,#f7fbf6 0 86.34%,#fcfdfb 0 90.69%,#fefefc 0 95.35%,#fdfbf4 0)"></i><i style="left:185px;width:13px;background:linear-gradient(#fbf7e9 5.02%,#f8f4de 0 8.88%,#f7f1d7 0 12.54%,#f6f0d2 0 15.8%,#f5efcf 0 18.71%,#f5eece 0 25.08%,#f5efcf 0 26.64%,#f5efd1 0 27.99%,#f6efd2 0 29%,#f6f0d3 0 30%,#f6f0d4 0 31%,#f6f1d5 0 32%,#f7f1d7 0 33%,#f7f2d8 0 34%,#f7f2da 0 35%,#f8f3dc 0 36%,#f8f4de 0 37%,#f9f4df 0 38%,#f9f5e1 0 39%,#f9f6e3 0 40%,#faf6e5 0 41%,#faf7e7 0 42%,#fbf8e9 0 43%,#fbf8eb 0 44%,#fbf9ed 0 45%,#fcfaef 0 46%,#fcfaf1 0 47%,#fdfbf3 0 48%,#fdfcf5 0 49%,#fdfcf7 0 50%,#fefdf9 0 51%,#fefefb 0 52%,#fefefc 0 53%,#fffffe 0 55.01%,#fdfefd 0 56.01%,#fcfefc 0 57.06%,#fbfdfa 0 58.16%,#fafdf9 0 59.31%,#f9fcf8 0 60.56%,#f8fcf6 0 61.91%,#f7fbf5 0 63.41%,#f6fbf4 0 65.12%,#f5faf3 0 69.47%,#f4faf2 0 72.17%,#f5faf3 0 75.23%,#f6fbf4 0 78.63%,#f8fbf6 0 82.33%,#fafdf9 0 86.34%,#fefffe 0 90.69%,#fefdfa 0 95.35%,#fdfbf3 0)"></i><i style="left:198px;width:13px;background:linear-gradient(#fbf8ea 5.02%,#f9f5e2 0 8.88%,#f8f3dc 0 12.54%,#f7f2d8 0 15.8%,#f6f1d5 0 18.71%,#f6f0d4 0 25.08%,#f6f1d5 0 26.64%,#f7f1d6 0 27.99%,#f7f1d7 0 29%,#f7f2d8 0 30%,#f7f2d9 0 31%,#f7f2da 0 32%,#f8f3db 0 33%,#f8f3dc 0 34%,#f8f4dd 0 35%,#f8f4df 0 36%,#f9f4e0 0 37%,#f9f5e2 0 38%,#f9f6e3 0 39%,#faf6e5 0 40%,#faf7e7 0 41%,#faf7e8 0 42%,#fbf8ea 0 43%,#fbf8eb 0 44%,#fbf9ed 0 45%,#fcf9ef 0 46%,#fcfaf0 0 47%,#fcfbf2 0 48%,#fdfbf4 0 49%,#fdfcf5 0 50%,#fdfcf7 0 51%,#fefdf8 0 52%,#fefdfa 0 53%,#fefefb 0 54%,#fefefc 0 55.01%,#fffefd 0 56.01%,#fff 0 57.06%,#fefffe 0 58.16%,#fdfefd 0 59.31%,#fcfefc 0 60.56%,#fcfdfb 0 61.91%,#fbfdfa 0 63.41%,#fafdf9 0 65.12%,#f9fcf8 0 67.12%,#f9fcf7 0 69.47%,#f8fcf7 0 75.23%,#f9fcf8 0 78.63%,#fbfdfa 0 82.33%,#fdfefd 0 86.34%,#fffffe 0 90.69%,#fefdf9 0 95.35%,#fdfbf3 0)"></i><i style="left:211px;width:13px;background:linear-gradient(#fbf8ec 5.02%,#faf6e5 0 8.88%,#f9f4e0 0 12.54%,#f8f3dc 0 15.8%,#f8f2da 0 18.71%,#f7f2d9 0 25.08%,#f7f2da 0 26.64%,#f8f3db 0 29%,#f8f3dc 0 30%,#f8f3dd 0 31%,#f8f4de 0 32%,#f8f4df 0 33%,#f9f4df 0 34%,#f9f5e1 0 35%,#f9f5e2 0 36%,#f9f5e3 0 37%,#f9f6e4 0 38%,#faf6e5 0 39%,#faf7e6 0 40%,#faf7e8 0 41%,#fbf7e9 0 42%,#fbf8ea 0 43%,#fbf8ec 0 44%,#fbf9ed 0 45%,#fcf9ee 0 46%,#fcfaf0 0 47%,#fcfaf1 0 48%,#fcfbf2 0 49%,#fdfbf4 0 50%,#fdfcf5 0 51%,#fdfcf6 0 52%,#fdfcf7 0 53%,#fefdf8 0 54%,#fefdf9 0 55.01%,#fefdfb 0 56.01%,#fefefc 0 58.16%,#fffefd 0 59.31%,#fffffe 0 60.56%,#fff 0 61.91%,#fefffe 0 63.41%,#fdfefd 0 65.12%,#fdfefc 0 67.12%,#fcfefb 0 69.47%,#fcfdfb 0 72.17%,#fcfefb 0 75.23%,#fcfefc 0 78.63%,#fefefd 0 82.33%,#fffffe 0 86.34%,#fefefb 0 90.69%,#fdfcf7 0 95.35%,#fcfbf2 0)"></i><i style="left:224px;width:13px;background:linear-gradient(#fbf9ec 5.02%,#faf7e7 0 8.88%,#f9f5e3 0 12.54%,#f9f4e0 0 15.8%,#f8f4df 0 18.71%,#f8f4de 0 26.64%,#f8f4df 0 29%,#f9f4e0 0 31%,#f9f5e1 0 32%,#f9f5e2 0 34%,#f9f5e3 0 35%,#f9f6e4 0 36%,#faf6e5 0 37%,#faf6e6 0 38%,#faf7e7 0 39%,#faf7e8 0 40%,#faf7e9 0 41%,#fbf8ea 0 42%,#fbf8eb 0 43%,#fbf9ec 0 44%,#fbf9ed 0 45%,#fcf9ee 0 46%,#fcfaef 0 47%,#fcfaf0 0 48%,#fcfaf2 0 49%,#fcfbf3 0 50%,#fdfbf4 0 51%,#fdfbf5 0 52%,#fdfcf6 0 54%,#fdfcf7 0 55.01%,#fefdf8 0 56.01%,#fefdf9 0 57.06%,#fefdfa 0 58.16%,#fefefb 0 60.56%,#fefefc 0 61.91%,#fffefd 0 63.41%,#fffffe 0 67.12%,#fff 0 78.63%,#fffffe 0 82.33%,#fefefc 0 86.34%,#fefdf9 0 90.69%,#fdfcf6 0 95.35%,#fcfaf2 0)"></i><i style="left:237px;width:13px;background:linear-gradient(#fbf9ed 5.02%,#faf7e9 0 8.88%,#faf6e6 0 12.54%,#f9f6e4 0 15.8%,#f9f5e2 0 18.71%,#f9f5e1 0 25.08%,#f9f5e2 0 29%,#f9f5e3 0 31%,#f9f6e4 0 32%,#faf6e4 0 33%,#faf6e5 0 34%,#faf6e6 0 35%,#faf7e6 0 36%,#faf7e7 0 37%,#faf7e8 0 39%,#fbf8e9 0 40%,#fbf8ea 0 41%,#fbf8eb 0 42%,#fbf8ec 0 43%,#fbf9ed 0 44%,#fbf9ee 0 45%,#fcf9ee 0 46%,#fcfaef 0 47%,#fcfaf0 0 48%,#fcfaf1 0 49%,#fcfaf2 0 50%,#fcfbf3 0 51%,#fdfbf3 0 52%,#fdfbf4 0 53%,#fdfcf5 0 54%,#fdfcf6 0 56.01%,#fdfcf7 0 57.06%,#fefcf8 0 58.16%,#fefdf8 0 59.31%,#fefdf9 0 60.56%,#fefdfa 0 63.41%,#fefefb 0 67.12%,#fefefc 0 78.63%,#fefefb 0 82.33%,#fefdfa 0 86.34%,#fdfcf7 0 90.69%,#fdfbf5 0 95.35%,#fcfaf1 0)"></i><i style="left:250px;width:13px;background:linear-gradient(#fbf9ee 5.02%,#fbf8ea 0 8.88%,#faf7e8 0 12.54%,#faf7e6 0 15.8%,#faf6e5 0 21.22%,#faf6e4 0 25.08%,#faf6e5 0 30%,#faf6e6 0 31%,#faf7e6 0 32%,#faf7e7 0 34%,#faf7e8 0 36%,#faf7e9 0 37%,#fbf8e9 0 38%,#fbf8ea 0 39%,#fbf8eb 0 41%,#fbf8ec 0 42%,#fbf9ec 0 43%,#fbf9ed 0 44%,#fbf9ee 0 45%,#fcf9ee 0 46%,#fcfaef 0 47%,#fcfaf0 0 48%,#fcfaf1 0 50%,#fcfaf2 0 51%,#fcfbf2 0 52%,#fdfbf3 0 53%,#fdfbf4 0 55.01%,#fdfcf5 0 57.06%,#fdfcf6 0 59.31%,#fdfcf7 0 61.91%,#fefdf8 0 63.41%,#fefdf9 0 69.47%,#fefdfa 0 75.23%,#fefdf9 0 82.33%,#fdfcf8 0 86.34%,#fdfcf6 0 90.69%,#fdfbf4 0 95.35%,#fcfaf1 0)"></i><i style="left:263px;width:13px;background:linear-gradient(#fcf9ee 5.02%,#fbf8ec 0 8.88%,#fbf8ea 0 12.54%,#faf7e9 0 15.8%,#faf7e8 0 18.71%,#faf7e7 0 27.99%,#faf7e8 0 32%,#faf7e9 0 33%,#fbf7e9 0 34%,#fbf8e9 0 35%,#fbf8ea 0 37%,#fbf8eb 0 39%,#fbf8ec 0 40%,#fbf9ec 0 41%,#fbf9ed 0 43%,#fbf9ee 0 44%,#fcf9ee 0 45%,#fcf9ef 0 46%,#fcfaef 0 47%,#fcfaf0 0 49%,#fcfaf1 0 51%,#fcfaf2 0 52%,#fcfbf2 0 53%,#fcfbf3 0 54%,#fdfbf3 0 55.01%,#fdfbf4 0 58.16%,#fdfcf5 0 60.56%,#fdfcf6 0 65.12%,#fdfcf7 0 82.33%,#fdfcf6 0 86.34%,#fdfbf4 0 90.69%,#fcfbf3 0 95.35%,#fcfaf1 0)"></i><i style="left:276px;width:13px;background:linear-gradient(#fcf9ef 5.02%,#fbf9ed 0 8.88%,#fbf8eb 0 12.54%,#fbf8ea 0 18.71%,#fbf8e9 0 26.64%,#fbf8ea 0 32%,#fbf8eb 0 36%,#fbf8ec 0 38%,#fbf9ec 0 39%,#fbf9ed 0 42%,#fbf9ee 0 43%,#fcf9ee 0 45%,#fcf9ef 0 46%,#fcfaef 0 47%,#fcfaf0 0 50%,#fcfaf1 0 52%,#fcfaf2 0 54%,#fcfbf2 0 55.01%,#fcfbf3 0 56.01%,#fdfbf3 0 59.31%,#fdfbf4 0 63.41%,#fdfbf5 0 65.12%,#fdfcf5 0 82.33%,#fdfbf4 0 86.34%,#fdfbf3 0 90.69%,#fcfbf2 0 95.35%,#fcfaf0 0)"></i><i style="left:289px;width:13px;background:linear-gradient(#fcfaef 5.02%,#fbf9ee 0 8.88%,#fbf9ed 0 12.54%,#fbf9ec 0 15.8%,#fbf8ec 0 18.71%,#fbf8eb 0 27.99%,#fbf8ec 0 32%,#fbf9ec 0 35%,#fbf9ed 0 39%,#fbf9ee 0 41%,#fcf9ee 0 43%,#fcf9ef 0 45%,#fcfaef 0 47%,#fcfaf0 0 51%,#fcfaf1 0 55.01%,#fcfaf2 0 57.06%,#fcfbf2 0 60.56%,#fcfbf3 0 61.91%,#fdfbf3 0 67.12%,#fdfbf4 0 78.63%,#fdfbf3 0 82.33%,#fcfbf3 0 86.34%,#fcfbf2 0 90.69%,#fcfaf1 0 95.35%,#fcfaf0 0)"></i><i style="left:302px;width:13px;background:linear-gradient(#fcfaef 5.02%,#fcf9ef 0 8.88%,#fcf9ee 0 12.54%,#fbf9ee 0 15.8%,#fbf9ed 0 31%,#fbf9ee 0 35%,#fcf9ee 0 40%,#fcf9ef 0 43%,#fcfaef 0 47%,#fcfaf0 0 53%,#fcfaf1 0 61.91%,#fcfaf2 0 67.12%,#fcfbf2 0 78.63%,#fcfaf2 0 86.34%,#fcfaf1 0 95.35%,#fcfaf0 0)"></i><i style="left:315px;width:13px;background:linear-gradient(#fcfaf0 5.02%,#fcfaef 0 15.8%,#fcf9ef 0 31%,#fcfaef 0 44%,#fcfaf0 0)"></i><i style="left:328px;width:13px;background:linear-gradient(#fcfaf0 18.71%,#fcfaf1 0 27.99%,#fcfaf0 0 52%,#fcfaef 0 69.47%,#fcf9ef 0 75.23%,#fcfaef 0 95.35%,#fcfaf0 0)"></i><i style="left:341px;width:13px;background:linear-gradient(#fcfaf0 5.02%,#fcfaf1 0 12.54%,#fcfaf2 0 15.8%,#fcfbf2 0 32%,#fcfaf2 0 35%,#fcfaf1 0 43%,#fcfaf0 0 49%,#fcfaef 0 53%,#fcf9ef 0 56.01%,#fcf9ee 0 61.91%,#fbf9ee 0 67.12%,#fbf9ed 0 78.63%,#fbf9ee 0 86.34%,#fcf9ee 0 90.69%,#fcf9ef 0 95.35%,#fcfaef 0)"></i><i style="left:354px;width:13px;background:linear-gradient(#fcfaf0 5.02%,#fcfaf2 0 8.88%,#fcfbf3 0 12.54%,#fdfbf3 0 15.8%,#fdfbf4 0 31%,#fdfbf3 0 35%,#fcfbf3 0 37%,#fcfbf2 0 39%,#fcfaf2 0 41%,#fcfaf1 0 45%,#fcfaf0 0 49%,#fcfaef 0 51%,#fcf9ef 0 52%,#fcf9ee 0 55.01%,#fbf9ee 0 57.06%,#fbf9ed 0 61.91%,#fbf9ec 0 67.12%,#fbf8ec 0 78.63%,#fbf9ec 0 82.33%,#fbf9ed 0 90.69%,#fcf9ee 0 95.35%,#fcfaef 0)"></i><i style="left:367px;width:13px;background:linear-gradient(#fcfaf1 5.02%,#fcfbf3 0 8.88%,#fdfbf4 0 12.54%,#fdfcf5 0 15.8%,#fdfcf6 0 30%,#fdfcf5 0 33%,#fdfbf5 0 34%,#fdfbf4 0 37%,#fdfbf3 0 39%,#fcfbf3 0 40%,#fcfbf2 0 42%,#fcfaf2 0 43%,#fcfaf1 0 46%,#fcfaf0 0 48%,#fcfaef 0 50%,#fcf9ef 0 51%,#fcf9ee 0 52%,#fbf9ee 0 54%,#fbf9ed 0 57.06%,#fbf9ec 0 58.16%,#fbf8ec 0 60.56%,#fbf8eb 0 65.12%,#fbf8ea 0 78.63%,#fbf8eb 0 86.34%,#fbf9ec 0 90.69%,#fbf9ed 0 95.35%,#fcfaef 0)"></i><i style="left:380px;width:13px;background:linear-gradient(#fcfaf1 5.02%,#fdfbf4 0 8.88%,#fdfcf6 0 12.54%,#fdfcf7 0 15.8%,#fefdf8 0 29%,#fdfcf8 0 30%,#fdfcf7 0 33%,#fdfcf6 0 36%,#fdfcf5 0 37%,#fdfbf5 0 38%,#fdfbf4 0 40%,#fdfbf3 0 42%,#fcfbf2 0 43%,#fcfaf2 0 44%,#fcfaf1 0 46%,#fcfaf0 0 48%,#fcfaef 0 49%,#fcf9ef 0 50%,#fcf9ee 0 51%,#fbf9ee 0 52%,#fbf9ed 0 54%,#fbf9ec 0 55.01%,#fbf8ec 0 56.01%,#fbf8eb 0 59.31%,#fbf8ea 0 61.91%,#fbf8e9 0 63.41%,#faf7e9 0 67.12%,#faf7e8 0 78.63%,#faf7e9 0 82.33%,#fbf8ea 0 86.34%,#fbf8eb 0 90.69%,#fbf9ed 0 95.35%,#fcf9ef 0)"></i><i style="left:393px;width:13px;background:linear-gradient(#fcfaf2 5.02%,#fdfcf5 0 8.88%,#fdfcf7 0 12.54%,#fefdf9 0 15.8%,#fefdfa 0 18.71%,#fefefb 0 26.64%,#fefdfb 0 27.99%,#fefdfa 0 31%,#fefdf9 0 33%,#fefdf8 0 35%,#fdfcf7 0 37%,#fdfcf6 0 39%,#fdfcf5 0 40%,#fdfbf4 0 42%,#fdfbf3 0 43%,#fcfbf2 0 44%,#fcfaf2 0 45%,#fcfaf1 0 46%,#fcfaf0 0 48%,#fcf9ef 0 49%,#fcf9ee 0 50%,#fbf9ee 0 51%,#fbf9ed 0 52%,#fbf9ec 0 53%,#fbf8ec 0 54%,#fbf8eb 0 56.01%,#fbf8ea 0 57.06%,#fbf8e9 0 58.16%,#faf7e9 0 59.31%,#faf7e8 0 61.91%,#faf7e7 0 65.12%,#faf7e6 0 67.12%,#faf6e6 0 78.63%,#faf7e7 0 82.33%,#faf7e8 0 86.34%,#fbf8ea 0 90.69%,#fbf8ec 0 95.35%,#fcf9ee 0)"></i><i style="left:406px;width:13px;background:linear-gradient(#fcfbf2 5.02%,#fdfcf7 0 8.88%,#fefdfa 0 12.54%,#fefefc 0 15.8%,#fffefd 0 18.71%,#fffffe 0 26.64%,#fffefd 0 30%,#fefefc 0 32%,#fefefb 0 33%,#fefdfa 0 35%,#fefdf9 0 36%,#fefdf8 0 37%,#fefcf8 0 38%,#fdfcf7 0 39%,#fdfcf6 0 40%,#fdfcf5 0 41%,#fdfbf4 0 43%,#fcfbf3 0 44%,#fcfbf2 0 45%,#fcfaf1 0 46%,#fcfaf0 0 47%,#fcfaef 0 48%,#fcf9ee 0 49%,#fbf9ee 0 50%,#fbf9ed 0 51%,#fbf8ec 0 52%,#fbf8eb 0 53%,#fbf8ea 0 55.01%,#fbf7e9 0 56.01%,#faf7e8 0 58.16%,#faf7e7 0 59.31%,#faf7e6 0 60.56%,#faf6e6 0 61.91%,#faf6e5 0 65.12%,#f9f6e4 0 67.12%,#f9f6e3 0 69.47%,#f9f5e3 0 75.23%,#f9f6e4 0 78.63%,#faf6e4 0 82.33%,#faf6e6 0 86.34%,#faf7e8 0 90.69%,#fbf8eb 0 95.35%,#fcf9ee 0)"></i><i style="left:419px;width:13px;background:linear-gradient(#fdfbf3 5.02%,#fefdf8 0 8.88%,#fefefc 0 12.54%,#fff 0 15.8%,#fdfefd 0 18.71%,#fdfefc 0 25.08%,#fdfefd 0 27.99%,#fefefe 0 29%,#fefffe 0 30%,#fff 0 32%,#fffffe 0 33%,#fffefd 0 34%,#fefefc 0 35%,#fefefb 0 36%,#fefdfa 0 37%,#fefdf9 0 38%,#fefdf8 0 39%,#fdfcf7 0 40%,#fdfcf6 0 41%,#fdfcf5 0 42%,#fdfbf4 0 43%,#fdfbf3 0 44%,#fcfbf2 0 45%,#fcfaf1 0 46%,#fcfaf0 0 47%,#fcf9ef 0 48%,#fbf9ee 0 49%,#fbf9ed 0 50%,#fbf8ec 0 51%,#fbf8eb 0 52%,#fbf8ea 0 53%,#faf7e9 0 54%,#faf7e8 0 55.01%,#faf7e7 0 56.01%,#faf7e6 0 57.06%,#faf6e6 0 58.16%,#faf6e5 0 59.31%,#f9f6e4 0 60.56%,#f9f5e3 0 61.91%,#f9f5e2 0 65.12%,#f9f5e1 0 67.12%,#f9f5e0 0 69.47%,#f9f4e0 0 75.23%,#f9f5e1 0 78.63%,#f9f5e2 0 82.33%,#f9f6e4 0 86.34%,#faf6e6 0 90.69%,#fbf8ea 0 95.35%,#fbf9ee 0)"></i><i style="left:432px;width:13px;background:linear-gradient(#fdfbf4 5.02%,#fefefb 0 8.88%,#fefffe 0 12.54%,#fcfdfb 0 15.8%,#fafdf9 0 18.71%,#f9fcf8 0 26.64%,#fafdf9 0 27.99%,#fbfdfa 0 30%,#fcfefb 0 31%,#fdfefc 0 32%,#fdfefd 0 33%,#fefffe 0 34%,#fff 0 35%,#fffffe 0 36%,#fffefd 0 37%,#fefefb 0 38%,#fefdfa 0 39%,#fefdf9 0 40%,#fdfcf8 0 41%,#fdfcf6 0 42%,#fdfcf5 0 43%,#fdfbf4 0 44%,#fcfbf2 0 45%,#fcfaf1 0 46%,#fcfaf0 0 47%,#fcf9ee 0 48%,#fbf9ed 0 49%,#fbf8ec 0 50%,#fbf8ea 0 51%,#fbf8e9 0 52%,#faf7e8 0 53%,#faf7e7 0 54%,#faf6e6 0 55.01%,#faf6e5 0 56.01%,#f9f6e4 0 57.06%,#f9f5e3 0 58.16%,#f9f5e2 0 59.31%,#f9f5e1 0 60.56%,#f9f4e0 0 61.91%,#f8f4df 0 63.41%,#f8f4de 0 67.12%,#f8f3dd 0 78.63%,#f8f4df 0 82.33%,#f9f5e1 0 86.34%,#f9f6e4 0 90.69%,#faf7e8 0 95.35%,#fbf9ed 0)"></i><i style="left:445px;width:13px;background:linear-gradient(#fdfcf5 5.02%,#fffffe 0 8.88%,#fbfdfa 0 12.54%,#f8fbf6 0 15.8%,#f5faf4 0 18.71%,#f4faf2 0 23.33%,#f5faf3 0 26.64%,#f6fbf4 0 27.99%,#f7fbf5 0 29%,#f8fbf6 0 30%,#f8fcf7 0 31%,#f9fcf8 0 32%,#fafdf9 0 33%,#fbfdfb 0 34%,#fcfefc 0 35%,#fefefd 0 36%,#fff 0 37%,#fffffe 0 38%,#fefefc 0 39%,#fefdfa 0 40%,#fefdf9 0 41%,#fdfcf7 0 42%,#fdfcf6 0 43%,#fdfbf4 0 44%,#fcfbf2 0 45%,#fcfaf1 0 46%,#fcfaef 0 47%,#fbf9ed 0 48%,#fbf8ec 0 49%,#fbf8ea 0 50%,#faf7e9 0 51%,#faf7e7 0 52%,#faf6e6 0 53%,#faf6e5 0 54%,#f9f5e3 0 55.01%,#f9f5e2 0 56.01%,#f9f5e1 0 57.06%,#f9f4e0 0 58.16%,#f8f4df 0 59.31%,#f8f4dd 0 60.56%,#f8f3dc 0 61.91%,#f8f3db 0 63.41%,#f8f2da 0 65.12%,#f7f2da 0 67.12%,#f7f2d9 0 75.23%,#f7f2da 0 78.63%,#f8f3db 0 82.33%,#f8f4de 0 86.34%,#f9f5e2 0 90.69%,#faf7e7 0 95.35%,#fbf9ed 0)"></i><i style="left:458px;width:13px;background:linear-gradient(#fdfcf6 5.02%,#fdfefd 0 8.88%,#f7fbf6 0 12.54%,#f3f9f0 0 15.8%,#f0f8ed 0 18.71%,#eff8ec 0 21.22%,#eff7ec 0 23.33%,#f0f8ed 0 25.08%,#f0f8ee 0 26.64%,#f1f9ef 0 27.99%,#f2f9f0 0 29%,#f3f9f1 0 30%,#f4faf2 0 31%,#f5faf4 0 32%,#f7fbf5 0 33%,#f8fcf7 0 34%,#f9fcf8 0 35%,#fbfdfa 0 36%,#fdfefc 0 37%,#fefffe 0 38%,#fffffe 0 39%,#fefefc 0 40%,#fefdfa 0 41%,#fefdf8 0 42%,#fdfcf6 0 43%,#fdfbf4 0 44%,#fcfbf2 0 45%,#fcfaf0 0 46%,#fcf9ee 0 47%,#fbf8ec 0 48%,#fbf8ea 0 49%,#faf7e8 0 50%,#faf7e6 0 51%,#faf6e5 0 52%,#f9f5e3 0 53%,#f9f5e1 0 54%,#f9f4e0 0 55.01%,#f8f4de 0 56.01%,#f8f3dd 0 57.06%,#f8f3dc 0 58.16%,#f8f2da 0 59.31%,#f7f2d9 0 60.56%,#f7f2d8 0 61.91%,#f7f1d7 0 63.41%,#f7f1d6 0 65.12%,#f6f1d5 0 67.12%,#f6f0d4 0 75.23%,#f7f1d6 0 78.63%,#f7f2d8 0 82.33%,#f8f3db 0 86.34%,#f9f4df 0 90.69%,#faf6e5 0 95.35%,#fbf8ec 0)"></i><i style="left:471px;width:13px;background:linear-gradient(#fefdf8 5.02%,#fafdf9 0 8.88%,#f2f9f0 0 12.54%,#edf7ea 0 15.8%,#eaf5e6 0 18.71%,#e9f5e5 0 23.33%,#eaf5e5 0 25.08%,#ebf5e7 0 26.64%,#ecf6e8 0 27.99%,#edf7ea 0 29%,#eef7eb 0 30%,#f0f8ed 0 31%,#f1f8ee 0 32%,#f3f9f0 0 33%,#f4faf2 0 34%,#f6fbf4 0 35%,#f8fcf7 0 36%,#fafdf9 0 37%,#fcfefb 0 38%,#fefffe 0 39%,#fffffe 0 40%,#fefefb 0 41%,#fefdf9 0 42%,#fdfcf6 0 43%,#fdfbf4 0 44%,#fcfaf1 0 45%,#fcf9ef 0 46%,#fbf9ec 0 47%,#fbf8ea 0 48%,#faf7e8 0 49%,#faf6e5 0 50%,#f9f6e3 0 51%,#f9f5e1 0 52%,#f8f4df 0 53%,#f8f3dd 0 54%,#f8f3dc 0 55.01%,#f7f2da 0 56.01%,#f7f2d8 0 57.06%,#f7f1d7 0 58.16%,#f6f1d5 0 59.31%,#f6f0d4 0 60.56%,#f6f0d3 0 61.91%,#f6efd1 0 63.41%,#f5efd0 0 65.12%,#f5efcf 0 72.17%,#f5efd0 0 75.23%,#f6efd1 0 78.63%,#f6f0d4 0 82.33%,#f7f1d8 0 86.34%,#f8f3dd 0 90.69%,#f9f5e3 0 95.35%,#fbf8eb 0)"></i><i style="left:484px;width:14px;background:linear-gradient(#fefdfa 5.02%,#f6fbf4 0 8.88%,#edf6e9 0 12.54%,#e6f3e2 0 15.8%,#e3f2de 0 18.71%,#e2f1dc 0 23.33%,#e3f2dd 0 25.08%,#e4f2df 0 26.64%,#e5f3e1 0 27.99%,#e7f4e2 0 29%,#e9f4e4 0 30%,#eaf5e6 0 31%,#ecf6e8 0 32%,#eef7eb 0 33%,#f0f8ed 0 34%,#f2f9f0 0 35%,#f5faf3 0 36%,#f7fbf6 0 37%,#fafcf8 0 38%,#fcfefc 0 39%,#fff 0 40%,#fefefc 0 41%,#fefdf9 0 42%,#fdfcf6 0 43%,#fdfbf3 0 44%,#fcfaf0 0 45%,#fbf9ed 0 46%,#fbf8ea 0 47%,#faf7e7 0 48%,#faf6e4 0 49%,#f9f5e2 0 50%,#f8f4df 0 51%,#f8f3dd 0 52%,#f8f2da 0 53%,#f7f2d8 0 54%,#f7f1d6 0 55.01%,#f6f0d4 0 56.01%,#f6f0d2 0 57.06%,#f6efd1 0 58.16%,#f5efcf 0 59.31%,#f5eece 0 60.56%,#f5eecc 0 61.91%,#f4edcb 0 63.41%,#f4edca 0 65.12%,#f4edc9 0 67.12%,#f4ecc9 0 69.47%,#f4edc9 0 72.17%,#f4edca 0 75.23%,#f5eecc 0 78.63%,#f5efd0 0 82.33%,#f6f0d4 0 86.34%,#f7f2da 0 90.69%,#f9f5e1 0 95.35%,#fbf8eb 0)"></i><i style="left:498px;width:13px;background:linear-gradient(#fefefc 5.02%,#f1f8ee 0 8.88%,#e6f3e1 0 12.54%,#dff0d9 0 15.8%,#dbeed4 0 18.71%,#d9edd2 0 23.33%,#daeed3 0 25.08%,#dceed5 0 26.64%,#deefd8 0 27.99%,#e0f0da 0 29%,#e2f1dc 0 30%,#e4f2df 0 31%,#e6f3e2 0 32%,#e9f4e4 0 33%,#ebf6e8 0 34%,#eef7eb 0 35%,#f1f8ee 0 36%,#f4faf2 0 37%,#f7fbf6 0 38%,#fafdf9 0 39%,#fdfefd 0 40%,#fffefd 0 41%,#fefdf9 0 42%,#fdfcf5 0 43%,#fcfaf2 0 44%,#fcf9ee 0 45%,#fbf8ea 0 46%,#faf7e7 0 47%,#f9f6e3 0 48%,#f9f4e0 0 49%,#f8f3dd 0 50%,#f7f2da 0 51%,#f7f1d7 0 52%,#f6f0d4 0 53%,#f6efd2 0 54%,#f5efcf 0 55.01%,#f5eecd 0 56.01%,#f4edcb 0 57.06%,#f4edc9 0 58.16%,#f4ecc7 0 59.31%,#f3ebc6 0 60.56%,#f3ebc4 0 61.91%,#f3ebc3 0 63.41%,#f3eac2 0 65.12%,#f2eac2 0 69.47%,#f3eac3 0 72.17%,#f3ebc4 0 75.23%,#f4ecc7 0 78.63%,#f4edcb 0 82.33%,#f6efd1 0 86.34%,#f7f1d7 0 90.69%,#f9f4e0 0 95.35%,#fbf8ea 0)"></i><i style="left:511px;width:13px;background:linear-gradient(#fff 5.02%,#ebf6e8 0 8.88%,#dff0d9 0 12.54%,#d6eccf 0 15.8%,#d2eac9 0 18.71%,#d0e9c7 0 23.33%,#d1e9c8 0 25.08%,#d3eacb 0 26.64%,#d6ebce 0 27.99%,#d8edd0 0 29%,#daeed3 0 30%,#ddefd6 0 31%,#e0f0da 0 32%,#e3f2dd 0 33%,#e6f3e1 0 34%,#e9f5e5 0 35%,#edf6e9 0 36%,#f1f8ee 0 37%,#f4faf2 0 38%,#f8fcf7 0 39%,#fcfefc 0 40%,#fffefd 0 41%,#fefdf9 0 42%,#fdfbf4 0 43%,#fcfaef 0 44%,#fbf8eb 0 45%,#faf7e6 0 46%,#f9f5e2 0 47%,#f8f4de 0 48%,#f7f2da 0 49%,#f7f1d6 0 50%,#f6f0d3 0 51%,#f5efcf 0 52%,#f5eecc 0 53%,#f4edc9 0 54%,#f3ecc7 0 55.01%,#f3ebc4 0 56.01%,#f2eac2 0 57.06%,#f2e9c0 0 58.16%,#f2e9be 0 59.31%,#f1e8bd 0 60.56%,#f1e8bb 0 61.91%,#f1e7ba 0 69.47%,#f1e8bc 0 72.17%,#f2e9be 0 75.23%,#f3eac2 0 78.63%,#f4ecc7 0 82.33%,#f5eece 0 86.34%,#f6f1d5 0 90.69%,#f8f4de 0 95.35%,#fbf8e9 0)"></i><i style="left:524px;width:13px;background:linear-gradient(#fdfefc 5.02%,#e6f3e1 0 8.88%,#d7eccf 0 12.54%,#cde7c3 0 15.8%,#c7e5bd 0 18.71%,#c5e4ba 0 23.33%,#c6e4bc 0 25.08%,#c9e5be 0 26.64%,#cce7c2 0 27.99%,#cee8c5 0 29%,#d1e9c8 0 30%,#d4ebcc 0 31%,#d8ecd0 0 32%,#dceed5 0 33%,#e0f0da 0 34%,#e4f2df 0 35%,#e8f4e4 0 36%,#edf6e9 0 37%,#f2f9ef 0 38%,#f7fbf5 0 39%,#fcfdfb 0 40%,#fffefd 0 41%,#fdfcf7 0 42%,#fcfaf2 0 43%,#fbf8ec 0 44%,#faf7e6 0 45%,#f9f5e1 0 46%,#f8f3dc 0 47%,#f7f1d7 0 48%,#f6efd2 0 49%,#f5eecd 0 50%,#f4edc9 0 51%,#f3ebc5 0 52%,#f2eac2 0 53%,#f2e9be 0 54%,#f1e8bb 0 55.01%,#f1e7b9 0 56.01%,#f0e6b7 0 57.06%,#f0e5b5 0 58.16%,#efe5b3 0 59.31%,#efe4b1 0 60.56%,#efe4b0 0 67.12%,#efe5b2 0 69.47%,#f0e5b5 0 72.17%,#f1e7b9 0 75.23%,#f2e9be 0 78.63%,#f3ebc4 0 82.33%,#f4edcb 0 86.34%,#f6f0d4 0 90.69%,#f8f3dd 0 95.35%,#faf7e9 0)"></i><i style="left:537px;width:13px;background:linear-gradient(#fafdf9 5.02%,#e0f0da 0 8.88%,#cfe8c5 0 12.54%,#c3e3b8 0 15.8%,#bcdfaf 0 18.71%,#b9deac 0 21.22%,#b9deab 0 23.33%,#badead 0 25.08%,#bde0b0 0 26.64%,#c0e1b4 0 27.99%,#c3e3b8 0 29%,#c7e4bc 0 30%,#cae6c0 0 31%,#cfe8c5 0 32%,#d3eacb 0 33%,#d8edd1 0 34%,#ddefd7 0 35%,#e3f2de 0 36%,#e9f4e4 0 37%,#eff7ec 0 38%,#f5faf3 0 39%,#fbfdfa 0 40%,#fefefc 0 41%,#fdfcf5 0 42%,#fbf9ee 0 43%,#faf7e7 0 44%,#f9f4e0 0 45%,#f7f2d9 0 46%,#f6f0d3 0 47%,#f5eecc 0 48%,#f3ecc7 0 49%,#f2eac1 0 50%,#f1e8bc 0 51%,#f0e7b8 0 52%,#f0e5b4 0 53%,#efe4b0 0 54%,#eee3ad 0 55.01%,#eee2ab 0 56.01%,#ede1a8 0 57.06%,#ede1a6 0 58.16%,#ede0a5 0 59.31%,#ece0a4 0 60.56%,#ece0a3 0 61.91%,#ece0a4 0 65.12%,#ede1a6 0 67.12%,#ede2a9 0 69.47%,#eee3ad 0 72.17%,#efe5b3 0 75.23%,#f1e7ba 0 78.63%,#f2eac2 0 82.33%,#f4edca 0 86.34%,#f6f0d3 0 90.69%,#f8f3dd 0 95.35%,#faf7e9 0)"></i><i style="left:550px;width:13px;background:linear-gradient(#f8fcf6 5.02%,#daeed3 0 8.88%,#c7e5bc 0 12.54%,#b9deac 0 15.8%,#b1daa2 0 18.71%,#acd89c 0 21.22%,#abd79b 0 23.33%,#acd89c 0 25.08%,#aed99f 0 26.64%,#b2dba3 0 27.99%,#b6dca8 0 29%,#badeac 0 30%,#bee0b2 0 31%,#c3e3b8 0 32%,#c9e5bf 0 33%,#cfe8c6 0 34%,#d6ebce 0 35%,#ddefd6 0 36%,#e4f2df 0 37%,#ebf6e8 0 38%,#f3f9f1 0 39%,#fbfdfa 0 40%,#fefdfa 0 41%,#fcfaf1 0 42%,#faf7e8 0 43%,#f8f4df 0 44%,#f7f1d6 0 45%,#f5eece 0 46%,#f3ecc6 0 47%,#f2e9bf 0 48%,#f0e7b8 0 49%,#efe4b2 0 50%,#eee2ac 0 51%,#ede1a7 0 52%,#ecdfa2 0 53%,#ebde9e 0 54%,#ebdd9b 0 55.01%,#eadc99 0 56.01%,#eadb97 0 57.06%,#e9db95 0 58.16%,#e9da94 0 60.56%,#e9db95 0 61.91%,#e9db96 0 63.41%,#eadc98 0 65.12%,#ebdd9c 0 67.12%,#ecdfa1 0 69.47%,#ede1a7 0 72.17%,#efe4af 0 75.23%,#f0e7b8 0 78.63%,#f2eac1 0 82.33%,#f4edcb 0 86.34%,#f6f1d5 0 90.69%,#f8f4df 0 95.35%,#fbf8e9 0)"></i><i style="left:563px;width:13px;background:linear-gradient(#f6fbf4 5.02%,#d7eccf 0 8.88%,#c2e2b6 0 12.54%,#b1daa2 0 15.8%,#a6d595 0 18.71%,#9fd18c 0 21.22%,#9bd088 0 25.08%,#9dd18b 0 26.64%,#a1d28f 0 27.99%,#a5d494 0 29%,#a9d799 0 30%,#afd99f 0 31%,#b5dca7 0 32%,#bcdfaf 0 33%,#c3e3b8 0 34%,#cbe7c2 0 35%,#d4ebcc 0 36%,#ddefd7 0 37%,#e7f4e3 0 38%,#f1f8ef 0 39%,#fbfdfb 0 40%,#fdfcf7 0 41%,#fbf8ec 0 42%,#f9f4e0 0 43%,#f6f0d4 0 44%,#f4edca 0 45%,#f2e9bf 0 46%,#f0e6b5 0 47%,#eee3ac 0 48%,#ece0a4 0 49%,#ebdd9d 0 50%,#e9db96 0 51%,#e8d990 0 52%,#e7d78c 0 53%,#e7d688 0 54%,#e6d585 0 55.01%,#e6d483 0 56.01%,#e5d481 0 59.31%,#e5d482 0 60.56%,#e6d584 0 61.91%,#e6d687 0 63.41%,#e7d78c 0 65.12%,#e9d991 0 67.12%,#eadc99 0 69.47%,#ecdfa2 0 72.17%,#eee3ad 0 75.23%,#f0e7b8 0 78.63%,#f3ebc4 0 82.33%,#f5eecf 0 86.34%,#f7f2d9 0 90.69%,#f9f5e2 0 95.35%,#fbf8eb 0)"></i><i style="left:576px;width:13px;background:linear-gradient(#f6fbf5 5.02%,#d7eccf 0 8.88%,#c0e1b4 0 12.54%,#acd89c 0 15.8%,#9dd08a 0 18.71%,#91cb7c 0 21.22%,#8bc874 0 23.33%,#88c771 0 25.08%,#89c772 0 26.64%,#8cc875 0 27.99%,#90ca7a 0 29%,#94cd80 0 30%,#9acf87 0 31%,#a2d390 0 32%,#aad79a 0 33%,#b3dba5 0 34%,#bee0b1 0 35%,#c9e5be 0 36%,#d5ebcd 0 37%,#e1f1dc 0 38%,#eef7eb 0 39%,#fcfdfb 0 40%,#fdfbf3 0 41%,#f9f6e4 0 42%,#f6f0d5 0 43%,#f3ebc6 0 44%,#f0e7b8 0 45%,#eee2ab 0 46%,#ebde9e 0 47%,#e9da93 0 48%,#e7d789 0 49%,#e5d480 0 50%,#e4d179 0 51%,#e2cf73 0 52%,#e1cd6e 0 53%,#e1cc6b 0 54%,#e0cb69 0 55.01%,#e0cb68 0 57.06%,#e0cb69 0 58.16%,#e1cc6b 0 59.31%,#e1cd6e 0 60.56%,#e2cf73 0 61.91%,#e4d179 0 63.41%,#e5d380 0 65.12%,#e7d789 0 67.12%,#e9da94 0 69.47%,#ecdfa1 0 72.17%,#eee3ae 0 75.23%,#f1e8bc 0 78.63%,#f4ecc9 0 82.33%,#f6f1d5 0 86.34%,#f8f4df 0 90.69%,#faf7e7 0 95.35%,#fbf9ed 0)"></i><i style="left:589px;width:13px;background:linear-gradient(#f9fcf8 5.02%,#ddefd6 0 8.88%,#c5e3ba 0 12.54%,#add89e 0 15.8%,#98ce84 0 18.71%,#86c66f 0 21.22%,#7ac060 0 23.33%,#72bc57 0 25.08%,#70bb54 0 26.64%,#70bc55 0 27.99%,#74bd59 0 29%,#78bf5f 0 30%,#7fc266 0 31%,#87c670 0 32%,#91cb7c 0 33%,#9dd18a 0 34%,#aad79a 0 35%,#b8deab 0 36%,#c8e5be 0 37%,#d9edd1 0 38%,#eaf5e6 0 39%,#fcfdfb 0 40%,#fcf9ee 0 41%,#f7f2da 0 42%,#f3ebc6 0 43%,#efe5b2 0 44%,#ecdea0 0 45%,#e8d98f 0 46%,#e5d37f 0 47%,#e2ce71 0 48%,#e0ca65 0 49%,#ddc75b 0 50%,#dcc453 0 51%,#dbc24d 0 52%,#dac149 0 53%,#d9c047 0 55.01%,#dac048 0 56.01%,#dac14b 0 57.06%,#dbc34f 0 58.16%,#dcc454 0 59.31%,#ddc75b 0 60.56%,#dfca64 0 61.91%,#e1cd6d 0 63.41%,#e4d179 0 65.12%,#e6d586 0 67.12%,#e9db95 0 69.47%,#ece0a4 0 72.17%,#f0e6b5 0 75.23%,#f3ebc4 0 78.63%,#f6f0d2 0 82.33%,#f8f4de 0 86.34%,#faf7e8 0 90.69%,#fbf9ee 0 95.35%,#fcfaf0 0)"></i><i style="left:602px;width:13px;background:linear-gradient(#fffefd 5.02%,#ebf5e7 0 8.88%,#d3eacb 0 12.54%,#b8ddab 0 15.8%,#9cd089 0 18.71%,#81c469 0 21.22%,#6bb94f 0 23.33%,#5cb23d 0 25.08%,#56b03e 0 26.64%,#55b043 0 27.99%,#55b042 0 29%,#56b03e 0 30%,#59b13a 0 31%,#63b545 0 32%,#6fbb53 0 33%,#7ec265 0 34%,#8eca79 0 35%,#a1d38f 0 36%,#b6dda8 0 37%,#cce7c2 0 38%,#e3f2de 0 39%,#fbfdfa 0 40%,#faf7e8 0 41%,#f5eecd 0 42%,#efe5b2 0 43%,#eadc98 0 44%,#e5d380 0 45%,#e0cc6a 0 46%,#dcc556 0 47%,#d9bf44 0 48%,#d6ba36 0 49%,#d4b42e 0 50%,#d4ad31 0 51%,#d4a833 0 52%,#d4a734 0 53%,#d4a834 0 54%,#d4ab32 0 55.01%,#d4b130 0 56.01%,#d4b72e 0 57.06%,#d6bb37 0 58.16%,#d8be42 0 59.31%,#dbc34f 0 60.56%,#dec75d 0 61.91%,#e1cc6b 0 63.41%,#e4d27b 0 65.12%,#e8d88c 0 67.12%,#ebde9e 0 69.47%,#efe4b1 0 72.17%,#f3eac2 0 75.23%,#f6f0d2 0 78.63%,#f9f4df 0 82.33%,#fbf8ea 0 86.34%,#fcfaf2 0 90.69%,#fdfcf5 0 95.35%,#fdfbf3 0)"></i><i style="left:615px;width:13px;background:linear-gradient(#fcfaf0 5.02%,#fffefd 0 8.88%,#ecf6e9 0 12.54%,#d1e9c8 0 15.8%,#b1daa2 0 18.71%,#8ec978 0 21.22%,#6bb94f 0 23.33%,#54b046 0 25.08%,#4bb161 0 26.64%,#46b272 0 27.99%,#44b276 0 30%,#46b26f 0 31%,#4ab163 0 32%,#4fb153 0 33%,#56b03d 0 34%,#6bb94f 0 35%,#85c56e 0 36%,#a1d38f 0 37%,#bee0b2 0 38%,#dceed5 0 39%,#fafcf9 0 40%,#f9f5e2 0 41%,#f2e9c0 0 42%,#ebdd9d 0 43%,#e4d27b 0 44%,#ddc75b 0 45%,#d7bc3c 0 46%,#d4ac32 0 47%,#d5973b 0 48%,#d58741 0 49%,#d67b47 0 50%,#d67549 0 51%,#d6744a 0 52%,#d67649 0 53%,#d67d46 0 54%,#d58941 0 55.01%,#d5983a 0 56.01%,#d4a933 0 57.06%,#d5b831 0 58.16%,#d9bf44 0 59.31%,#ddc557 0 60.56%,#e1cc6a 0 61.91%,#e4d37d 0 63.41%,#e8d990 0 65.12%,#ecdfa3 0 67.12%,#f0e6b5 0 69.47%,#f3ecc7 0 72.17%,#f7f1d6 0 75.23%,#f9f6e3 0 78.63%,#fcf9ee 0 82.33%,#fdfcf6 0 86.34%,#fefdfa 0 90.69%,#fefefb 0 95.35%,#fdfcf6 0)"></i><i style="left:628px;width:13px;background:linear-gradient(#f9f6e4 5.02%,#faf6e5 0 8.88%,#fcfbf3 0 12.54%,#f6fbf5 0 15.8%,#dcefd6 0 18.71%,#bbdfae 0 21.22%,#94cc7f 0 23.33%,#68b84b 0 25.08%,#4cb15c 0 26.64%,#3cb391 0 27.99%,#30b4b5 0 29%,#2fb4b9 0 30%,#30b4b6 0 31%,#33b4ab 0 32%,#3fb387 0 33%,#4db15c 0 34%,#5fb340 0 35%,#82c46a 0 36%,#a3d391 0 37%,#c2e2b6 0 38%,#dff0d9 0 39%,#fcfefb 0 40%,#f9f5e2 0 41%,#f2eac1 0 42%,#ebde9e 0 43%,#e4d27a 0 44%,#dcc454 0 45%,#d4b52e 0 46%,#d58c3f 0 47%,#d66451 0 48%,#d7425f 0 49%,#d73864 0 50%,#d83465 0 51%,#d73764 0 52%,#d75258 0 53%,#d6724a 0 54%,#d5933c 0 55.01%,#d4b130 0 56.01%,#d9bf43 0 57.06%,#dec85d 0 58.16%,#e3d075 0 59.31%,#e7d78a 0 60.56%,#ebdd9c 0 61.91%,#eee3ad 0 63.41%,#f1e8bd 0 65.12%,#f4edcb 0 67.12%,#f7f1d7 0 69.47%,#f9f5e2 0 72.17%,#fbf8ec 0 75.23%,#fdfbf3 0 78.63%,#fefdf9 0 82.33%,#fffefd 0 86.34%,#fffffe 0 90.69%,#fffefd 0 95.35%,#fdfcf6 0)"></i><i style="left:641px;width:15px;background:linear-gradient(#faf7e7 5.02%,#f9f5e1 0 8.88%,#f9f6e4 0 12.54%,#fbf8ea 0 15.8%,#fdfbf3 0 18.71%,#fefffe 0 21.22%,#eef7eb 0 23.33%,#d7eccf 0 25.08%,#b5dca7 0 26.64%,#82c46b 0 27.99%,#4fb155 0 29%,#2cb5c3 0 31%,#4fb154 0 32%,#7cc163 0 33%,#a5d493 0 34%,#c1e2b5 0 35%,#d6ecce 0 36%,#e6f3e1 0 37%,#f3f9f0 0 38%,#fdfefd 0 39%,#fdfcf6 0 40%,#fbf8eb 0 41%,#f9f5e0 0 42%,#f6f0d4 0 43%,#f3ebc5 0 44%,#efe5b3 0 45%,#eadd9b 0 46%,#e4d179 0 47%,#dac14a 0 48%,#d5913d 0 49%,#d82b69 0 50%,#d82a69 0 51%,#d58f3e 0 52%,#d9c048 0 53%,#e3d075 0 54%,#e9db95 0 55.01%,#eee2ac 0 56.01%,#f1e8bc 0 57.06%,#f4edc9 0 58.16%,#f6f0d3 0 59.31%,#f8f3db 0 60.56%,#f9f5e1 0 61.91%,#faf6e6 0 63.41%,#fbf8ea 0 65.12%,#fbf9ed 0 67.12%,#fcfaf0 0 69.47%,#fcfbf3 0 72.17%,#fdfbf5 0 75.23%,#fdfcf6 0 78.63%,#fdfcf7 0 82.33%,#fefdf8 0 90.69%,#fdfcf7 0 95.35%,#fcfbf2 0)"></i></u></div>
<div class="plot" style="left:111px;top:616.8px;width:642px;height:257.5px"><u><i style="left:0px;width:15px;background:linear-gradient(#efe4b1 5.02%,#f0e6b5 0 8.88%,#f1e7b9 0 12.54%,#f1e8bb 0 15.8%,#f1e7ba 0 18.71%,#f0e6b5 0 21.22%,#eee2ac 0 23.33%,#ebde9d 0 25.08%,#e7d688 0 26.64%,#e0cb69 0 27.99%,#d7bc3c 0 29%,#d67d46 0 30%,#75be5b 0 31%,#b6dca8 0 32%,#d9edd1 0 33%,#eef7eb 0 34%,#fdfefc 0 35%,#fdfcf6 0 36%,#fcf9ef 0 37%,#fbf8e9 0 38%,#faf6e6 0 39%,#faf6e5 0 41%,#faf7e7 0 42%,#fbf8eb 0 43%,#fcfaf1 0 44%,#fefdfa 0 45%,#f9fcf7 0 46%,#eaf5e5 0 47%,#d3eacb 0 48%,#b0d9a0 0 49%,#6eba52 0 50%,#d58542 0 51%,#d9bf46 0 52%,#e2ce6f 0 53%,#e7d78a 0 54%,#ebdd9c 0 55.01%,#eee2aa 0 56.01%,#f0e5b4 0 57.06%,#f1e8bc 0 58.16%,#f3ebc3 0 59.31%,#f4edc9 0 60.56%,#f5eece 0 61.91%,#f6f0d2 0 63.41%,#f7f1d6 0 65.12%,#f7f2d9 0 67.12%,#f8f3db 0 69.47%,#f8f3dd 0 72.17%,#f8f4de 0 75.23%,#f8f4df 0 78.63%,#f9f4df 0 82.33%,#f8f4df 0 86.34%,#f8f4de 0 95.35%,#f8f4df 0)"></i><i style="left:15px;width:13px;background:linear-gradient(#efe5b3 5.02%,#eee2ab 0 8.88%,#ede0a5 0 12.54%,#ebde9e 0 15.8%,#e9da93 0 18.71%,#e6d585 0 21.22%,#e2cf73 0 23.33%,#dec75d 0 25.08%,#d8be43 0 26.64%,#d4af31 0 27.99%,#d5933d 0 29%,#d67f45 0 30%,#46b270 0 31%,#4db15b 0 32%,#55b041 0 33%,#62b544 0 34%,#71bc56 0 35%,#7cc163 0 36%,#85c56d 0 37%,#8ac874 0 38%,#8eca78 0 39%,#90ca7a 0 40%,#8fca7a 0 41%,#8dc977 0 42%,#88c772 0 43%,#82c46a 0 44%,#79bf5f 0 45%,#6dba51 0 46%,#5db23e 0 47%,#53b149 0 48%,#4ab163 0 49%,#43b279 0 50%,#d58841 0 51%,#d59d38 0 52%,#d4b62d 0 53%,#d9bf44 0 54%,#ddc658 0 55.01%,#e0cb69 0 56.01%,#e3d077 0 57.06%,#e6d583 0 58.16%,#e8d88f 0 59.31%,#eadc99 0 60.56%,#ecdfa2 0 61.91%,#eee2aa 0 63.41%,#efe5b2 0 65.12%,#f1e7b9 0 67.12%,#f2e9c0 0 69.47%,#f3ebc6 0 72.17%,#f4edcb 0 75.23%,#f5efd0 0 78.63%,#f6f0d4 0 82.33%,#f7f1d7 0 86.34%,#f7f2da 0 90.69%,#f8f4de 0 95.35%,#f9f5e1 0)"></i><i style="left:28px;width:13px;background:linear-gradient(#efe5b3 5.02%,#ece0a4 0 8.88%,#eadc9a 0 12.54%,#e8d88e 0 15.8%,#e5d481 0 18.71%,#e2cf73 0 21.22%,#dfc962 0 23.33%,#dbc351 0 25.08%,#d8bd40 0 26.64%,#d4b82f 0 27.99%,#d4ad31 0 29%,#d5a137 0 30%,#3ab395 0 31%,#3eb389 0 32%,#42b27e 0 33%,#45b274 0 34%,#48b26b 0 35%,#4ab163 0 36%,#4cb15d 0 37%,#4eb158 0 38%,#4fb155 0 39%,#4fb154 0 41%,#4eb157 0 42%,#4db15a 0 43%,#4bb160 0 44%,#49b267 0 45%,#46b270 0 46%,#43b27b 0 47%,#3fb386 0 48%,#3cb391 0 49%,#37b49f 0 50%,#d4aa32 0 51%,#d4b72d 0 52%,#d7bb39 0 53%,#d9c046 0 54%,#dcc452 0 55.01%,#dec85e 0 56.01%,#e0cb68 0 57.06%,#e2cf73 0 58.16%,#e4d27c 0 59.31%,#e6d585 0 60.56%,#e8d88e 0 61.91%,#eadb97 0 63.41%,#ebde9f 0 65.12%,#ede1a7 0 67.12%,#efe4af 0 69.47%,#f0e6b7 0 72.17%,#f2e9be 0 75.23%,#f3ebc5 0 78.63%,#f4edcb 0 82.33%,#f6efd1 0 86.34%,#f7f1d7 0 90.69%,#f8f3dd 0 95.35%,#f9f5e3 0)"></i><i style="left:41px;width:12px;background:linear-gradient(#efe4af 5.02%,#ebde9e 0 8.88%,#e9da92 0 12.54%,#e6d687 0 15.8%,#e4d27a 0 18.71%,#e1cd6e 0 21.22%,#dfc961 0 23.33%,#dcc454 0 25.08%,#dac048 0 26.64%,#d7bd3e 0 27.99%,#d6ba34 0 29%,#d4b72d 0 30%,#30b4b5 0 31%,#33b4ad 0 32%,#35b4a6 0 33%,#37b4a0 0 34%,#39b39b 0 35%,#3ab396 0 36%,#3bb392 0 37%,#3cb38f 0 38%,#3db38e 0 39%,#3db38d 0 40%,#3db38e 0 41%,#3cb38f 0 42%,#3bb392 0 43%,#3ab396 0 44%,#39b39b 0 45%,#37b4a0 0 46%,#35b4a7 0 47%,#33b4ae 0 48%,#30b4b6 0 49%,#2db5bf 0 50%,#d6bb37 0 51%,#d8bd40 0 52%,#dac049 0 53%,#dbc351 0 54%,#ddc659 0 55.01%,#dfc961 0 56.01%,#e0cc69 0 57.06%,#e2ce71 0 58.16%,#e3d179 0 59.31%,#e5d380 0 60.56%,#e7d688 0 61.91%,#e8d98f 0 63.41%,#eadb97 0 65.12%,#ebde9e 0 67.12%,#ede1a6 0 69.47%,#efe3af 0 72.17%,#f0e6b7 0 75.23%,#f2e9be 0 78.63%,#f3ebc6 0 82.33%,#f5eecd 0 86.34%,#f6f0d4 0 90.69%,#f8f3dc 0 95.35%,#faf6e5 0)"></i><i style="left:53px;width:13px;background:linear-gradient(#ede1a7 5.02%,#eadc98 0 8.88%,#e8d88d 0 12.54%,#e5d482 0 15.8%,#e3d177 0 18.71%,#e1cd6d 0 21.22%,#dfc963 0 23.33%,#ddc65a 0 25.08%,#dbc451 0 26.64%,#dac14a 0 27.99%,#d9bf44 0 29%,#d8bd3f 0 30%,#2ab5c9 0 31%,#2bb5c6 0 32%,#2cb5c1 0 33%,#2eb5be 0 34%,#2fb4ba 0 35%,#30b4b7 0 36%,#30b4b5 0 37%,#31b4b4 0 38%,#31b4b3 0 39%,#31b4b2 0 40%,#31b4b3 0 41%,#31b4b4 0 42%,#30b4b6 0 43%,#2fb4b9 0 44%,#2eb5bc 0 45%,#2db5c0 0 46%,#2bb5c5 0 47%,#2ab5c9 0 50%,#dac14a 0 51%,#dbc350 0 52%,#dcc556 0 53%,#dec75c 0 54%,#dfc962 0 55.01%,#e0cb68 0 56.01%,#e1cd6e 0 57.06%,#e3cf74 0 58.16%,#e4d17a 0 59.31%,#e5d480 0 60.56%,#e6d687 0 61.91%,#e8d88d 0 63.41%,#e9da94 0 65.12%,#eadd9b 0 67.12%,#ecdfa2 0 69.47%,#eee2aa 0 72.17%,#efe5b2 0 75.23%,#f1e7ba 0 78.63%,#f3eac2 0 82.33%,#f4edca 0 86.34%,#f6f0d2 0 90.69%,#f8f3db 0 95.35%,#faf6e6 0)"></i><i style="left:66px;width:13px;background:linear-gradient(#ebdd9d 5.02%,#e8d991 0 8.88%,#e7d687 0 12.54%,#e5d37e 0 15.8%,#e3d076 0 18.71%,#e1cd6d 0 21.22%,#e0ca66 0 23.33%,#dec85f 0 25.08%,#ddc659 0 26.64%,#dcc454 0 27.99%,#dbc350 0 29%,#dbc24d 0 30%,#2ab5c9 0 50%,#ddc659 0 51%,#dec75d 0 52%,#dfc962 0 53%,#e0cb66 0 54%,#e1cc6b 0 55.01%,#e2ce6f 0 56.01%,#e2cf74 0 57.06%,#e3d179 0 58.16%,#e4d37d 0 59.31%,#e6d483 0 60.56%,#e7d688 0 61.91%,#e8d88d 0 63.41%,#e9da93 0 65.12%,#eadc9a 0 67.12%,#ecdfa1 0 69.47%,#ede1a8 0 72.17%,#efe4b0 0 75.23%,#f0e6b8 0 78.63%,#f2e9c0 0 82.33%,#f4ecc8 0 86.34%,#f5efd0 0 90.69%,#f7f2da 0 95.35%,#faf6e5 0)"></i><i style="left:79px;width:13px;background:linear-gradient(#e9d991 5.02%,#e7d789 0 8.88%,#e5d482 0 12.54%,#e4d27b 0 15.8%,#e3cf74 0 18.71%,#e1cd6e 0 21.22%,#e0cb68 0 23.33%,#dfca63 0 25.08%,#dec85f 0 26.64%,#dec75c 0 27.99%,#ddc659 0 29%,#ddc557 0 30%,#2ab5c9 0 50%,#dfca64 0 51%,#e0cb67 0 52%,#e1cc6b 0 53%,#e1cd6e 0 54%,#e2cf72 0 55.01%,#e3d075 0 56.01%,#e4d179 0 57.06%,#e4d27d 0 58.16%,#e5d481 0 59.31%,#e6d585 0 60.56%,#e7d78a 0 61.91%,#e8d88f 0 63.41%,#e9da94 0 65.12%,#eadc9a 0 67.12%,#ecdea0 0 69.47%,#ede1a7 0 72.17%,#eee3ae 0 75.23%,#f0e6b6 0 78.63%,#f2e9be 0 82.33%,#f3ebc6 0 86.34%,#f5eecf 0 90.69%,#f7f2d8 0 95.35%,#f9f5e3 0)"></i><i style="left:92px;width:13px;background:linear-gradient(#e6d586 5.02%,#e5d481 0 8.88%,#e4d27c 0 12.54%,#e3d077 0 15.8%,#e2cf72 0 18.71%,#e1cd6d 0 21.22%,#e0cc6a 0 23.33%,#e0cb66 0 25.08%,#dfca64 0 26.64%,#dfc961 0 27.99%,#dec85f 0 29%,#dec85e 0 30%,#2ab5c9 0 50%,#e1cd6d 0 51%,#e2ce6f 0 52%,#e2cf72 0 53%,#e3d075 0 54%,#e3d178 0 55.01%,#e4d27b 0 56.01%,#e5d37e 0 57.06%,#e5d481 0 58.16%,#e6d585 0 59.31%,#e7d688 0 60.56%,#e7d88c 0 61.91%,#e8d990 0 63.41%,#e9db95 0 65.12%,#eadc9a 0 67.12%,#ebdea0 0 69.47%,#ede1a6 0 72.17%,#eee3ad 0 75.23%,#f0e5b4 0 78.63%,#f1e8bc 0 82.33%,#f3ebc4 0 86.34%,#f5eecd 0 90.69%,#f7f1d6 0 95.35%,#f9f4e0 0)"></i><i style="left:105px;width:13px;background:linear-gradient(#e4d27c 5.02%,#e4d179 0 8.88%,#e3d077 0 12.54%,#e2cf73 0 15.8%,#e2ce70 0 18.71%,#e1cd6d 0 21.22%,#e1cc6a 0 23.33%,#e0cb68 0 25.08%,#e0cb67 0 26.64%,#dfca65 0 27.99%,#dfca64 0 29%,#dfca63 0 30%,#2ab5c9 0 50%,#e2cf73 0 51%,#e3d075 0 52%,#e3d178 0 53%,#e4d17a 0 54%,#e4d27d 0 55.01%,#e5d37f 0 56.01%,#e5d482 0 57.06%,#e6d585 0 58.16%,#e7d688 0 59.31%,#e7d78b 0 60.56%,#e8d88e 0 61.91%,#e9da92 0 63.41%,#e9db96 0 65.12%,#eadd9b 0 67.12%,#ecdea0 0 69.47%,#ede0a6 0 72.17%,#eee3ac 0 75.23%,#f0e5b3 0 78.63%,#f1e8bb 0 82.33%,#f3eac3 0 86.34%,#f4edcb 0 90.69%,#f6f0d4 0 95.35%,#f8f3dd 0)"></i><i style="left:118px;width:12px;background:linear-gradient(#e2cf73 8.88%,#e2ce71 0 12.54%,#e2ce70 0 15.8%,#e1cd6e 0 18.71%,#e1cd6c 0 21.22%,#e1cc6b 0 23.33%,#e0cc69 0 25.08%,#e0cb69 0 26.64%,#e0cb68 0 27.99%,#e0cb67 0 30%,#2ab5c9 0 50%,#e3d178 0 51%,#e4d17a 0 52%,#e4d27c 0 53%,#e5d37e 0 54%,#e5d480 0 55.01%,#e6d483 0 56.01%,#e6d585 0 57.06%,#e7d687 0 58.16%,#e7d78a 0 59.31%,#e8d88d 0 60.56%,#e8d990 0 61.91%,#e9da93 0 63.41%,#eadb97 0 65.12%,#ebdd9b 0 67.12%,#ecdea0 0 69.47%,#ede0a5 0 72.17%,#eee2ac 0 75.23%,#efe5b2 0 78.63%,#f1e7b9 0 82.33%,#f2eac1 0 86.34%,#f4ecc9 0 90.69%,#f6efd1 0 95.35%,#f7f2da 0)"></i><i style="left:130px;width:13px;background:linear-gradient(#e1cc6b 5.02%,#e1cd6c 0 8.88%,#e1cd6d 0 12.54%,#e1cd6c 0 15.8%,#e1cc6c 0 18.71%,#e1cc6b 0 21.22%,#e1cc6a 0 23.33%,#e0cc6a 0 27.99%,#e0cc69 0 30%,#2ab5c9 0 50%,#e4d27c 0 51%,#e5d37e 0 52%,#e5d380 0 53%,#e5d481 0 54%,#e6d583 0 55.01%,#e6d585 0 56.01%,#e7d687 0 57.06%,#e7d78a 0 58.16%,#e7d88c 0 59.31%,#e8d88e 0 60.56%,#e9d991 0 61.91%,#e9da94 0 63.41%,#eadc98 0 65.12%,#ebdd9b 0 67.12%,#ecdea0 0 69.47%,#ede0a5 0 72.17%,#eee2ab 0 75.23%,#efe4b1 0 78.63%,#f0e7b8 0 82.33%,#f2e9bf 0 86.34%,#f3ecc7 0 90.69%,#f5eece 0 95.35%,#f7f1d6 0)"></i><i style="left:143px;width:13px;background:linear-gradient(#dfca64 5.02%,#e0cb67 0 8.88%,#e0cb69 0 12.54%,#e0cc69 0 15.8%,#e0cc6a 0 23.33%,#e1cc6a 0 26.64%,#e1cc6b 0 30%,#2ab5c9 0 50%,#e5d37f 0 51%,#e5d480 0 52%,#e5d482 0 53%,#e6d584 0 54%,#e6d586 0 55.01%,#e7d687 0 56.01%,#e7d789 0 57.06%,#e7d78b 0 58.16%,#e8d88e 0 59.31%,#e8d990 0 60.56%,#e9da92 0 61.91%,#e9db95 0 63.41%,#eadc98 0 65.12%,#ebdd9c 0 67.12%,#ecdea0 0 69.47%,#ede0a5 0 72.17%,#eee2aa 0 75.23%,#efe4b0 0 78.63%,#f0e6b7 0 82.33%,#f2e9bd 0 86.34%,#f3ebc5 0 90.69%,#f5edcc 0 95.35%,#f6f0d3 0)"></i><i style="left:156px;width:13px;background:linear-gradient(#dec85f 5.02%,#dfc963 0 8.88%,#dfca65 0 12.54%,#e0cb67 0 15.8%,#e0cb68 0 18.71%,#e0cb69 0 21.22%,#e0cc69 0 23.33%,#e0cc6a 0 25.08%,#e1cc6b 0 27.99%,#e1cc6c 0 29%,#e1cd6c 0 30%,#2ab5c9 0 50%,#e5d481 0 51%,#e6d483 0 52%,#e6d584 0 53%,#e6d586 0 54%,#e7d687 0 55.01%,#e7d789 0 56.01%,#e7d78b 0 57.06%,#e8d88d 0 58.16%,#e8d88f 0 59.31%,#e8d991 0 60.56%,#e9da93 0 61.91%,#e9db96 0 63.41%,#eadc99 0 65.12%,#ebdd9c 0 67.12%,#ecdea0 0 69.47%,#ece0a4 0 72.17%,#eee2aa 0 75.23%,#efe4af 0 78.63%,#f0e6b5 0 82.33%,#f1e8bc 0 86.34%,#f3eac3 0 90.69%,#f4edca 0 95.35%,#f5efd0 0)"></i><i style="left:169px;width:13px;background:linear-gradient(#ddc75a 5.02%,#dec85f 0 8.88%,#dfc962 0 12.54%,#dfca64 0 15.8%,#e0cb66 0 18.71%,#e0cb67 0 21.22%,#e0cb69 0 23.33%,#e0cc6a 0 25.08%,#e1cc6b 0 27.99%,#e1cd6c 0 29%,#e1cd6d 0 30%,#2ab5c9 0 50%,#e6d483 0 51%,#e6d584 0 52%,#e6d586 0 53%,#e6d687 0 54%,#e7d689 0 55.01%,#e7d78a 0 56.01%,#e7d88c 0 57.06%,#e8d88e 0 58.16%,#e8d990 0 59.31%,#e9d992 0 60.56%,#e9da94 0 61.91%,#eadb96 0 63.41%,#eadc99 0 65.12%,#ebdd9c 0 67.12%,#ecdea0 0 69.47%,#ece0a4 0 72.17%,#ede2a9 0 75.23%,#eee3ae 0 78.63%,#f0e5b4 0 82.33%,#f1e7ba 0 86.34%,#f2eac1 0 90.69%,#f4ecc7 0 95.35%,#f5eece 0)"></i><i style="left:182px;width:13px;background:linear-gradient(#ddc557 5.02%,#dec75c 0 8.88%,#dec85f 0 12.54%,#dfc962 0 15.8%,#dfca64 0 18.71%,#e0cb66 0 21.22%,#e0cb68 0 23.33%,#e0cc69 0 25.08%,#e1cc6a 0 26.64%,#e1cc6c 0 27.99%,#e1cd6c 0 29%,#e1cd6d 0 30%,#2ab5c9 0 50%,#e6d584 0 51%,#e6d585 0 52%,#e6d687 0 53%,#e7d688 0 54%,#e7d78a 0 55.01%,#e7d78b 0 56.01%,#e8d88d 0 57.06%,#e8d88e 0 58.16%,#e8d990 0 59.31%,#e9da92 0 60.56%,#e9da94 0 61.91%,#eadb96 0 63.41%,#eadc99 0 65.12%,#ebdd9c 0 67.12%,#ebdea0 0 69.47%,#ece0a4 0 72.17%,#ede1a8 0 75.23%,#eee3ae 0 78.63%,#efe5b3 0 82.33%,#f1e7b9 0 86.34%,#f2e9bf 0 90.69%,#f3ebc6 0 95.35%,#f5edcc 0)"></i><i style="left:195px;width:12px;background:linear-gradient(#dcc454 5.02%,#ddc659 0 8.88%,#dec85d 0 12.54%,#dfc960 0 15.8%,#dfca63 0 18.71%,#e0ca65 0 21.22%,#e0cb67 0 23.33%,#e0cc69 0 25.08%,#e1cc6a 0 26.64%,#e1cc6b 0 27.99%,#e1cd6c 0 29%,#e1cd6d 0 30%,#2ab5c9 0 50%,#e6d585 0 51%,#e6d686 0 52%,#e7d687 0 53%,#e7d689 0 54%,#e7d78a 0 55.01%,#e7d78c 0 56.01%,#e8d88d 0 57.06%,#e8d98f 0 58.16%,#e8d991 0 59.31%,#e9da92 0 60.56%,#e9da94 0 61.91%,#eadb97 0 63.41%,#eadc99 0 65.12%,#ebdd9c 0 67.12%,#ebde9f 0 69.47%,#ece0a3 0 72.17%,#ede1a8 0 75.23%,#eee3ad 0 78.63%,#efe5b2 0 82.33%,#f0e7b8 0 86.34%,#f2e9be 0 90.69%,#f3ebc4 0 95.35%,#f4edca 0)"></i><i style="left:207px;width:13px;background:linear-gradient(#dcc452 5.02%,#ddc557 0 8.88%,#dec75b 0 12.54%,#dec85f 0 15.8%,#dfc962 0 18.71%,#dfca65 0 21.22%,#e0cb67 0 23.33%,#e0cb68 0 25.08%,#e0cc6a 0 26.64%,#e1cc6b 0 27.99%,#e1cd6c 0 29%,#e1cd6d 0 30%,#2ab5c9 0 50%,#e6d585 0 51%,#e6d687 0 52%,#e7d688 0 53%,#e7d789 0 54%,#e7d78b 0 55.01%,#e7d88c 0 56.01%,#e8d88e 0 57.06%,#e8d98f 0 58.16%,#e8d991 0 59.31%,#e9da93 0 60.56%,#e9db95 0 61.91%,#eadb97 0 63.41%,#eadc99 0 65.12%,#ebdd9c 0 67.12%,#ebde9f 0 69.47%,#ecdfa3 0 72.17%,#ede1a7 0 75.23%,#eee3ac 0 78.63%,#efe4b1 0 82.33%,#f0e6b7 0 86.34%,#f1e8bd 0 90.69%,#f3eac3 0 95.35%,#f4ecc8 0)"></i><i style="left:220px;width:13px;background:linear-gradient(#dbc350 5.02%,#dcc556 0 8.88%,#ddc65a 0 12.54%,#dec85e 0 15.8%,#dfc961 0 18.71%,#dfca64 0 21.22%,#e0cb66 0 23.33%,#e0cb68 0 25.08%,#e0cc6a 0 26.64%,#e1cc6b 0 27.99%,#e1cd6c 0 29%,#e1cd6d 0 30%,#2ab5c9 0 50%,#e6d586 0 51%,#e6d687 0 52%,#e7d688 0 53%,#e7d78a 0 54%,#e7d78b 0 55.01%,#e8d88d 0 56.01%,#e8d88e 0 57.06%,#e8d98f 0 58.16%,#e8d991 0 59.31%,#e9da93 0 60.56%,#e9db95 0 61.91%,#eadb97 0 63.41%,#eadc99 0 65.12%,#ebdd9c 0 67.12%,#ebde9f 0 69.47%,#ecdfa3 0 72.17%,#ede1a7 0 75.23%,#eee2ac 0 78.63%,#efe4b1 0 82.33%,#f0e6b6 0 86.34%,#f1e8bc 0 90.69%,#f2eac1 0 95.35%,#f4ecc7 0)"></i><i style="left:233px;width:13px;background:linear-gradient(#dbc24e 5.02%,#dcc454 0 8.88%,#ddc659 0 12.54%,#dec75d 0 15.8%,#dec960 0 18.71%,#dfca63 0 21.22%,#e0ca66 0 23.33%,#e0cb68 0 25.08%,#e0cc69 0 26.64%,#e1cc6b 0 27.99%,#e1cd6c 0 29%,#e1cd6d 0 30%,#2ab5c9 0 50%,#e6d686 0 51%,#e7d687 0 52%,#e7d689 0 53%,#e7d78a 0 54%,#e7d78b 0 55.01%,#e8d88d 0 56.01%,#e8d88e 0 57.06%,#e8d990 0 58.16%,#e9d991 0 59.31%,#e9da93 0 60.56%,#e9db95 0 61.91%,#eadb97 0 63.41%,#eadc99 0 65.12%,#ebdd9c 0 67.12%,#ebde9f 0 69.47%,#ecdfa2 0 72.17%,#ede1a6 0 75.23%,#eee2ab 0 78.63%,#efe4b0 0 82.33%,#f0e6b5 0 86.34%,#f1e8bb 0 90.69%,#f2eac1 0 95.35%,#f3ecc6 0)"></i><i style="left:246px;width:13px;background:linear-gradient(#dbc24d 5.02%,#dcc453 0 8.88%,#ddc658 0 12.54%,#dec75c 0 15.8%,#dec860 0 18.71%,#dfc963 0 21.22%,#dfca65 0 23.33%,#e0cb67 0 25.08%,#e0cc69 0 26.64%,#e1cc6b 0 27.99%,#e1cd6c 0 29%,#e1cd6d 0 30%,#2ab5c9 0 50%,#e6d686 0 51%,#e7d688 0 52%,#e7d789 0 53%,#e7d78a 0 54%,#e7d78c 0 55.01%,#e8d88d 0 56.01%,#e8d88e 0 57.06%,#e8d990 0 58.16%,#e9d991 0 59.31%,#e9da93 0 60.56%,#e9db95 0 61.91%,#eadb97 0 63.41%,#eadc99 0 65.12%,#ebdd9c 0 67.12%,#ebde9f 0 69.47%,#ecdfa2 0 72.17%,#ede1a6 0 75.23%,#eee2ab 0 78.63%,#efe4af 0 82.33%,#f0e5b5 0 86.34%,#f1e7ba 0 90.69%,#f2e9c0 0 95.35%,#f3ebc5 0)"></i><i style="left:259px;width:13px;background:linear-gradient(#dac24c 5.02%,#dcc452 0 8.88%,#ddc557 0 12.54%,#ddc75b 0 15.8%,#dec85f 0 18.71%,#dfc962 0 21.22%,#dfca65 0 23.33%,#e0cb67 0 25.08%,#e0cc69 0 26.64%,#e1cc6b 0 27.99%,#e1cd6c 0 29%,#e1cd6d 0 30%,#2ab5c9 0 50%,#e6d686 0 51%,#e7d688 0 52%,#e7d789 0 53%,#e7d78a 0 54%,#e7d78c 0 55.01%,#e8d88d 0 56.01%,#e8d88e 0 57.06%,#e8d990 0 58.16%,#e9d991 0 59.31%,#e9da93 0 60.56%,#e9db95 0 61.91%,#eadb97 0 63.41%,#eadc99 0 65.12%,#ebdd9b 0 67.12%,#ebde9e 0 69.47%,#ecdfa2 0 72.17%,#ede0a6 0 75.23%,#eee2aa 0 78.63%,#efe4af 0 82.33%,#f0e5b4 0 86.34%,#f1e7ba 0 90.69%,#f2e9bf 0 95.35%,#f3ebc5 0)"></i><i style="left:272px;width:12px;background:linear-gradient(#dac24c 5.02%,#dcc452 0 8.88%,#ddc557 0 12.54%,#ddc75b 0 15.8%,#dec85f 0 18.71%,#dfc962 0 21.22%,#dfca64 0 23.33%,#e0cb67 0 25.08%,#e0cb69 0 26.64%,#e1cc6a 0 27.99%,#e1cd6c 0 29%,#e1cd6d 0 30%,#2ab5c9 0 50%,#e6d687 0 51%,#e7d688 0 52%,#e7d789 0 53%,#e7d78a 0 54%,#e7d78c 0 55.01%,#e8d88d 0 56.01%,#e8d88e 0 57.06%,#e8d990 0 58.16%,#e9d991 0 59.31%,#e9da93 0 60.56%,#e9db95 0 61.91%,#eadb97 0 63.41%,#eadc99 0 65.12%,#ebdd9b 0 67.12%,#ebde9e 0 69.47%,#ecdfa2 0 72.17%,#ede0a6 0 75.23%,#eee2aa 0 78.63%,#efe3af 0 82.33%,#f0e5b4 0 86.34%,#f1e7b9 0 90.69%,#f2e9bf 0 95.35%,#f3ebc4 0)"></i><i style="left:284px;width:13px;background:linear-gradient(#dac14b 5.02%,#dbc351 0 8.88%,#dcc556 0 12.54%,#ddc75a 0 15.8%,#dec85e 0 18.71%,#dfc962 0 21.22%,#dfca64 0 23.33%,#e0cb67 0 25.08%,#e0cb69 0 26.64%,#e1cc6a 0 27.99%,#e1cc6c 0 29%,#e1cd6d 0 30%,#2ab5c9 0 50%,#e6d687 0 51%,#e7d688 0 52%,#e7d789 0 53%,#e7d78a 0 54%,#e7d78c 0 55.01%,#e8d88d 0 56.01%,#e8d88e 0 57.06%,#e8d990 0 58.16%,#e9d991 0 59.31%,#e9da93 0 60.56%,#e9db95 0 61.91%,#eadb97 0 63.41%,#eadc99 0 65.12%,#ebdd9b 0 67.12%,#ebde9e 0 69.47%,#ecdfa2 0 72.17%,#ede0a5 0 75.23%,#eee2aa 0 78.63%,#efe3ae 0 82.33%,#f0e5b3 0 86.34%,#f1e7b9 0 90.69%,#f2e9be 0 95.35%,#f3ebc4 0)"></i><i style="left:297px;width:13px;background:linear-gradient(#dac14b 5.02%,#dbc351 0 8.88%,#dcc556 0 12.54%,#ddc75a 0 15.8%,#dec85e 0 18.71%,#dfc961 0 21.22%,#dfca64 0 23.33%,#e0cb66 0 25.08%,#e0cb68 0 26.64%,#e1cc6a 0 27.99%,#e1cc6c 0 29%,#e1cd6d 0 30%,#2ab5c9 0 50%,#e6d687 0 51%,#e7d688 0 52%,#e7d789 0 53%,#e7d78b 0 54%,#e7d88c 0 55.01%,#e8d88d 0 56.01%,#e8d88e 0 57.06%,#e8d990 0 58.16%,#e9d991 0 59.31%,#e9da93 0 60.56%,#e9db95 0 61.91%,#eadb97 0 63.41%,#eadc99 0 65.12%,#ebdd9b 0 67.12%,#ebde9e 0 69.47%,#ecdfa1 0 72.17%,#ede0a5 0 75.23%,#eee2aa 0 78.63%,#eee3ae 0 82.33%,#efe5b3 0 86.34%,#f1e7b9 0 90.69%,#f2e9be 0 95.35%,#f3ebc4 0)"></i><i style="left:310px;width:13px;background:linear-gradient(#dac14b 5.02%,#dbc351 0 8.88%,#dcc556 0 12.54%,#ddc65a 0 15.8%,#dec85e 0 18.71%,#dfc961 0 21.22%,#dfca64 0 23.33%,#e0cb66 0 25.08%,#e0cb68 0 26.64%,#e1cc6a 0 27.99%,#e1cc6c 0 29%,#e1cd6d 0 30%,#2ab5c9 0 50%,#e6d687 0 51%,#e7d688 0 52%,#e7d789 0 53%,#e7d78b 0 54%,#e7d88c 0 55.01%,#e8d88d 0 56.01%,#e8d88e 0 57.06%,#e8d990 0 58.16%,#e9d991 0 59.31%,#e9da93 0 60.56%,#e9db95 0 61.91%,#eadb97 0 63.41%,#eadc99 0 65.12%,#ebdd9b 0 67.12%,#ebde9e 0 69.47%,#ecdfa1 0 72.17%,#ede0a5 0 75.23%,#eee2aa 0 78.63%,#eee3ae 0 82.33%,#efe5b3 0 86.34%,#f1e7b8 0 90.69%,#f2e9be 0 95.35%,#f3ebc4 0)"></i><i style="left:323px;width:13px;background:linear-gradient(#dac14b 5.02%,#dbc351 0 8.88%,#dcc556 0 12.54%,#ddc65a 0 15.8%,#dec85e 0 18.71%,#dfc961 0 21.22%,#dfca64 0 23.33%,#e0cb66 0 25.08%,#e0cb68 0 26.64%,#e1cc6a 0 27.99%,#e1cc6c 0 29%,#e1cd6d 0 30%,#2ab5c9 0 50%,#e6d687 0 51%,#e7d688 0 52%,#e7d789 0 53%,#e7d78b 0 54%,#e7d88c 0 55.01%,#e8d88d 0 56.01%,#e8d88e 0 57.06%,#e8d990 0 58.16%,#e9d991 0 59.31%,#e9da93 0 60.56%,#e9db95 0 61.91%,#eadb97 0 63.41%,#eadc99 0 65.12%,#ebdd9b 0 67.12%,#ebde9e 0 69.47%,#ecdfa1 0 72.17%,#ede0a5 0 75.23%,#eee2aa 0 78.63%,#eee3ae 0 82.33%,#efe5b3 0 86.34%,#f1e7b8 0 90.69%,#f2e9be 0 95.35%,#f3ebc4 0)"></i><i style="left:336px;width:13px;background:linear-gradient(#dac14b 5.02%,#dbc351 0 8.88%,#dcc556 0 12.54%,#ddc75a 0 15.8%,#dec85e 0 18.71%,#dfc961 0 21.22%,#dfca64 0 23.33%,#e0cb66 0 25.08%,#e0cb68 0 26.64%,#e1cc6a 0 27.99%,#e1cc6c 0 29%,#e1cd6d 0 30%,#2ab5c9 0 50%,#e6d687 0 51%,#e7d688 0 52%,#e7d789 0 53%,#e7d78b 0 54%,#e7d88c 0 55.01%,#e8d88d 0 56.01%,#e8d88e 0 57.06%,#e8d990 0 58.16%,#e9d991 0 59.31%,#e9da93 0 60.56%,#e9db95 0 61.91%,#eadb97 0 63.41%,#eadc99 0 65.12%,#ebdd9b 0 67.12%,#ebde9e 0 69.47%,#ecdfa1 0 72.17%,#ede0a5 0 75.23%,#eee2aa 0 78.63%,#eee3ae 0 82.33%,#efe5b3 0 86.34%,#f1e7b9 0 90.69%,#f2e9be 0 95.35%,#f3ebc4 0)"></i><i style="left:349px;width:13px;background:linear-gradient(#dac14b 5.02%,#dbc351 0 8.88%,#dcc556 0 12.54%,#ddc75a 0 15.8%,#dec85e 0 18.71%,#dfc962 0 21.22%,#dfca64 0 23.33%,#e0cb67 0 25.08%,#e0cb69 0 26.64%,#e1cc6a 0 27.99%,#e1cc6c 0 29%,#e1cd6d 0 30%,#2ab5c9 0 50%,#e6d687 0 51%,#e7d688 0 52%,#e7d789 0 53%,#e7d78a 0 54%,#e7d78c 0 55.01%,#e8d88d 0 56.01%,#e8d88e 0 57.06%,#e8d990 0 58.16%,#e9d991 0 59.31%,#e9da93 0 60.56%,#e9db95 0 61.91%,#eadb97 0 63.41%,#eadc99 0 65.12%,#ebdd9b 0 67.12%,#ebde9e 0 69.47%,#ecdfa2 0 72.17%,#ede0a5 0 75.23%,#eee2aa 0 78.63%,#efe3ae 0 82.33%,#f0e5b3 0 86.34%,#f1e7b9 0 90.69%,#f2e9be 0 95.35%,#f3ebc4 0)"></i><i style="left:362px;width:12px;background:linear-gradient(#dac24c 5.02%,#dcc452 0 8.88%,#ddc557 0 12.54%,#ddc75b 0 15.8%,#dec85f 0 18.71%,#dfc962 0 21.22%,#dfca64 0 23.33%,#e0cb67 0 25.08%,#e0cb69 0 26.64%,#e1cc6a 0 27.99%,#e1cd6c 0 29%,#e1cd6d 0 30%,#2ab5c9 0 50%,#e6d687 0 51%,#e7d688 0 52%,#e7d789 0 53%,#e7d78a 0 54%,#e7d78c 0 55.01%,#e8d88d 0 56.01%,#e8d88e 0 57.06%,#e8d990 0 58.16%,#e9d991 0 59.31%,#e9da93 0 60.56%,#e9db95 0 61.91%,#eadb97 0 63.41%,#eadc99 0 65.12%,#ebdd9b 0 67.12%,#ebde9e 0 69.47%,#ecdfa2 0 72.17%,#ede0a6 0 75.23%,#eee2aa 0 78.63%,#efe3af 0 82.33%,#f0e5b4 0 86.34%,#f1e7b9 0 90.69%,#f2e9bf 0 95.35%,#f3ebc4 0)"></i><i style="left:374px;width:13px;background:linear-gradient(#dac24c 5.02%,#dcc452 0 8.88%,#ddc557 0 12.54%,#ddc75b 0 15.8%,#dec85f 0 18.71%,#dfc962 0 21.22%,#dfca65 0 23.33%,#e0cb67 0 25.08%,#e0cc69 0 26.64%,#e1cc6b 0 27.99%,#e1cd6c 0 29%,#e1cd6d 0 30%,#2ab5c9 0 50%,#e6d686 0 51%,#e7d688 0 52%,#e7d789 0 53%,#e7d78a 0 54%,#e7d78c 0 55.01%,#e8d88d 0 56.01%,#e8d88e 0 57.06%,#e8d990 0 58.16%,#e9d991 0 59.31%,#e9da93 0 60.56%,#e9db95 0 61.91%,#eadb97 0 63.41%,#eadc99 0 65.12%,#ebdd9b 0 67.12%,#ebde9e 0 69.47%,#ecdfa2 0 72.17%,#ede0a6 0 75.23%,#eee2aa 0 78.63%,#efe4af 0 82.33%,#f0e5b4 0 86.34%,#f1e7ba 0 90.69%,#f2e9bf 0 95.35%,#f3ebc5 0)"></i><i style="left:387px;width:13px;background:linear-gradient(#dbc24d 5.02%,#dcc453 0 8.88%,#ddc658 0 12.54%,#dec75c 0 15.8%,#dec860 0 18.71%,#dfc963 0 21.22%,#dfca65 0 23.33%,#e0cb67 0 25.08%,#e0cc69 0 26.64%,#e1cc6b 0 27.99%,#e1cd6c 0 29%,#e1cd6d 0 30%,#2ab5c9 0 50%,#e6d686 0 51%,#e7d688 0 52%,#e7d789 0 53%,#e7d78a 0 54%,#e7d78c 0 55.01%,#e8d88d 0 56.01%,#e8d88e 0 57.06%,#e8d990 0 58.16%,#e9d991 0 59.31%,#e9da93 0 60.56%,#e9db95 0 61.91%,#eadb97 0 63.41%,#eadc99 0 65.12%,#ebdd9c 0 67.12%,#ebde9f 0 69.47%,#ecdfa2 0 72.17%,#ede1a6 0 75.23%,#eee2ab 0 78.63%,#efe4af 0 82.33%,#f0e5b5 0 86.34%,#f1e7ba 0 90.69%,#f2e9c0 0 95.35%,#f3ebc5 0)"></i><i style="left:400px;width:13px;background:linear-gradient(#dbc24e 5.02%,#dcc454 0 8.88%,#ddc659 0 12.54%,#dec75d 0 15.8%,#dec960 0 18.71%,#dfca63 0 21.22%,#e0ca66 0 23.33%,#e0cb68 0 25.08%,#e0cc69 0 26.64%,#e1cc6b 0 27.99%,#e1cd6c 0 29%,#e1cd6d 0 30%,#2ab5c9 0 50%,#e6d686 0 51%,#e7d687 0 52%,#e7d689 0 53%,#e7d78a 0 54%,#e7d78b 0 55.01%,#e8d88d 0 56.01%,#e8d88e 0 57.06%,#e8d990 0 58.16%,#e9d991 0 59.31%,#e9da93 0 60.56%,#e9db95 0 61.91%,#eadb97 0 63.41%,#eadc99 0 65.12%,#ebdd9c 0 67.12%,#ebde9f 0 69.47%,#ecdfa2 0 72.17%,#ede1a6 0 75.23%,#eee2ab 0 78.63%,#efe4b0 0 82.33%,#f0e6b5 0 86.34%,#f1e8bb 0 90.69%,#f2eac1 0 95.35%,#f3ecc6 0)"></i><i style="left:413px;width:13px;background:linear-gradient(#dbc350 5.02%,#dcc556 0 8.88%,#ddc65a 0 12.54%,#dec85e 0 15.8%,#dfc961 0 18.71%,#dfca64 0 21.22%,#e0cb66 0 23.33%,#e0cb68 0 25.08%,#e0cc6a 0 26.64%,#e1cc6b 0 27.99%,#e1cd6c 0 29%,#e1cd6d 0 30%,#2ab5c9 0 50%,#e6d586 0 51%,#e6d687 0 52%,#e7d688 0 53%,#e7d78a 0 54%,#e7d78b 0 55.01%,#e8d88d 0 56.01%,#e8d88e 0 57.06%,#e8d98f 0 58.16%,#e8d991 0 59.31%,#e9da93 0 60.56%,#e9db95 0 61.91%,#eadb97 0 63.41%,#eadc99 0 65.12%,#ebdd9c 0 67.12%,#ebde9f 0 69.47%,#ecdfa3 0 72.17%,#ede1a7 0 75.23%,#eee2ac 0 78.63%,#efe4b1 0 82.33%,#f0e6b6 0 86.34%,#f1e8bc 0 90.69%,#f2eac1 0 95.35%,#f4ecc7 0)"></i><i style="left:426px;width:13px;background:linear-gradient(#dcc452 5.02%,#ddc557 0 8.88%,#dec75b 0 12.54%,#dec85f 0 15.8%,#dfc962 0 18.71%,#dfca65 0 21.22%,#e0cb67 0 23.33%,#e0cb68 0 25.08%,#e0cc6a 0 26.64%,#e1cc6b 0 27.99%,#e1cd6c 0 29%,#e1cd6d 0 30%,#2ab5c9 0 50%,#e6d585 0 51%,#e6d687 0 52%,#e7d688 0 53%,#e7d789 0 54%,#e7d78b 0 55.01%,#e7d88c 0 56.01%,#e8d88e 0 57.06%,#e8d98f 0 58.16%,#e8d991 0 59.31%,#e9da93 0 60.56%,#e9db95 0 61.91%,#eadb97 0 63.41%,#eadc99 0 65.12%,#ebdd9c 0 67.12%,#ebde9f 0 69.47%,#ecdfa3 0 72.17%,#ede1a7 0 75.23%,#eee3ac 0 78.63%,#efe4b1 0 82.33%,#f0e6b7 0 86.34%,#f1e8bd 0 90.69%,#f3eac3 0 95.35%,#f4ecc8 0)"></i><i style="left:439px;width:12px;background:linear-gradient(#dcc454 5.02%,#ddc659 0 8.88%,#dec85d 0 12.54%,#dfc960 0 15.8%,#dfca63 0 18.71%,#e0ca65 0 21.22%,#e0cb67 0 23.33%,#e0cc69 0 25.08%,#e1cc6a 0 26.64%,#e1cc6b 0 27.99%,#e1cd6c 0 29%,#e1cd6d 0 30%,#2ab5c9 0 50%,#e6d585 0 51%,#e6d686 0 52%,#e7d687 0 53%,#e7d689 0 54%,#e7d78a 0 55.01%,#e7d78c 0 56.01%,#e8d88d 0 57.06%,#e8d98f 0 58.16%,#e8d991 0 59.31%,#e9da92 0 60.56%,#e9da94 0 61.91%,#eadb97 0 63.41%,#eadc99 0 65.12%,#ebdd9c 0 67.12%,#ebde9f 0 69.47%,#ece0a3 0 72.17%,#ede1a8 0 75.23%,#eee3ad 0 78.63%,#efe5b2 0 82.33%,#f0e7b8 0 86.34%,#f2e9be 0 90.69%,#f3ebc4 0 95.35%,#f4edca 0)"></i><i style="left:451px;width:13px;background:linear-gradient(#ddc557 5.02%,#dec75c 0 8.88%,#dec85f 0 12.54%,#dfc962 0 15.8%,#dfca64 0 18.71%,#e0cb66 0 21.22%,#e0cb68 0 23.33%,#e0cc69 0 25.08%,#e1cc6a 0 26.64%,#e1cc6c 0 27.99%,#e1cd6c 0 29%,#e1cd6d 0 30%,#2ab5c9 0 50%,#e6d584 0 51%,#e6d585 0 52%,#e6d687 0 53%,#e7d688 0 54%,#e7d78a 0 55.01%,#e7d78b 0 56.01%,#e8d88d 0 57.06%,#e8d88e 0 58.16%,#e8d990 0 59.31%,#e9da92 0 60.56%,#e9da94 0 61.91%,#eadb96 0 63.41%,#eadc99 0 65.12%,#ebdd9c 0 67.12%,#ebdea0 0 69.47%,#ece0a4 0 72.17%,#ede1a8 0 75.23%,#eee3ae 0 78.63%,#efe5b3 0 82.33%,#f1e7b9 0 86.34%,#f2e9bf 0 90.69%,#f3ebc6 0 95.35%,#f5edcc 0)"></i><i style="left:464px;width:13px;background:linear-gradient(#ddc75a 5.02%,#dec85f 0 8.88%,#dfc962 0 12.54%,#dfca64 0 15.8%,#e0cb66 0 18.71%,#e0cb67 0 21.22%,#e0cb69 0 23.33%,#e0cc6a 0 25.08%,#e1cc6b 0 27.99%,#e1cd6c 0 29%,#e1cd6d 0 30%,#2ab5c9 0 50%,#e6d483 0 51%,#e6d584 0 52%,#e6d586 0 53%,#e6d687 0 54%,#e7d689 0 55.01%,#e7d78a 0 56.01%,#e7d88c 0 57.06%,#e8d88e 0 58.16%,#e8d990 0 59.31%,#e9d992 0 60.56%,#e9da94 0 61.91%,#eadb96 0 63.41%,#eadc99 0 65.12%,#ebdd9c 0 67.12%,#ecdea0 0 69.47%,#ece0a4 0 72.17%,#ede2a9 0 75.23%,#eee3ae 0 78.63%,#f0e5b4 0 82.33%,#f1e7ba 0 86.34%,#f2eac1 0 90.69%,#f4ecc7 0 95.35%,#f5eece 0)"></i><i style="left:477px;width:13px;background:linear-gradient(#dec85f 5.02%,#dfc963 0 8.88%,#dfca65 0 12.54%,#e0cb67 0 15.8%,#e0cb68 0 18.71%,#e0cb69 0 21.22%,#e0cc69 0 23.33%,#e0cc6a 0 25.08%,#e1cc6b 0 27.99%,#e1cc6c 0 29%,#e1cd6c 0 30%,#2ab5c9 0 50%,#e5d481 0 51%,#e6d483 0 52%,#e6d584 0 53%,#e6d586 0 54%,#e7d687 0 55.01%,#e7d789 0 56.01%,#e7d78b 0 57.06%,#e8d88d 0 58.16%,#e8d88f 0 59.31%,#e8d991 0 60.56%,#e9da93 0 61.91%,#e9db96 0 63.41%,#eadc99 0 65.12%,#ebdd9c 0 67.12%,#ecdea0 0 69.47%,#ece0a4 0 72.17%,#eee2aa 0 75.23%,#efe4af 0 78.63%,#f0e6b5 0 82.33%,#f1e8bc 0 86.34%,#f3eac3 0 90.69%,#f4edca 0 95.35%,#f5efd0 0)"></i><i style="left:490px;width:13px;background:linear-gradient(#dfca64 5.02%,#e0cb67 0 8.88%,#e0cb69 0 12.54%,#e0cc69 0 15.8%,#e0cc6a 0 23.33%,#e1cc6a 0 26.64%,#e1cc6b 0 30%,#2ab5c9 0 50%,#e5d37f 0 51%,#e5d480 0 52%,#e5d482 0 53%,#e6d584 0 54%,#e6d586 0 55.01%,#e7d687 0 56.01%,#e7d789 0 57.06%,#e7d78b 0 58.16%,#e8d88e 0 59.31%,#e8d990 0 60.56%,#e9da92 0 61.91%,#e9db95 0 63.41%,#eadc98 0 65.12%,#ebdd9c 0 67.12%,#ecdea0 0 69.47%,#ede0a5 0 72.17%,#eee2aa 0 75.23%,#efe4b0 0 78.63%,#f0e6b7 0 82.33%,#f2e9bd 0 86.34%,#f3ebc5 0 90.69%,#f5edcc 0 95.35%,#f6f0d3 0)"></i><i style="left:503px;width:13px;background:linear-gradient(#e1cc6b 5.02%,#e1cd6c 0 8.88%,#e1cd6d 0 12.54%,#e1cd6c 0 15.8%,#e1cc6c 0 18.71%,#e1cc6b 0 21.22%,#e1cc6a 0 23.33%,#e0cc6a 0 27.99%,#e0cc69 0 30%,#2ab5c9 0 50%,#e4d27c 0 51%,#e5d37e 0 52%,#e5d380 0 53%,#e5d481 0 54%,#e6d583 0 55.01%,#e6d585 0 56.01%,#e7d687 0 57.06%,#e7d78a 0 58.16%,#e7d88c 0 59.31%,#e8d88e 0 60.56%,#e9d991 0 61.91%,#e9da94 0 63.41%,#eadc98 0 65.12%,#ebdd9b 0 67.12%,#ecdea0 0 69.47%,#ede0a5 0 72.17%,#eee2ab 0 75.23%,#efe4b1 0 78.63%,#f0e7b8 0 82.33%,#f2e9bf 0 86.34%,#f3ecc7 0 90.69%,#f5eece 0 95.35%,#f7f1d6 0)"></i><i style="left:516px;width:12px;background:linear-gradient(#e2cf73 8.88%,#e2ce71 0 12.54%,#e2ce70 0 15.8%,#e1cd6e 0 18.71%,#e1cd6c 0 21.22%,#e1cc6b 0 23.33%,#e0cc69 0 25.08%,#e0cb69 0 26.64%,#e0cb68 0 27.99%,#e0cb67 0 30%,#2ab5c9 0 50%,#e3d178 0 51%,#e4d17a 0 52%,#e4d27c 0 53%,#e5d37e 0 54%,#e5d480 0 55.01%,#e6d483 0 56.01%,#e6d585 0 57.06%,#e7d687 0 58.16%,#e7d78a 0 59.31%,#e8d88d 0 60.56%,#e8d990 0 61.91%,#e9da93 0 63.41%,#eadb97 0 65.12%,#ebdd9b 0 67.12%,#ecdea0 0 69.47%,#ede0a5 0 72.17%,#eee2ac 0 75.23%,#efe5b2 0 78.63%,#f1e7b9 0 82.33%,#f2eac1 0 86.34%,#f4ecc9 0 90.69%,#f6efd1 0 95.35%,#f7f2da 0)"></i><i style="left:528px;width:13px;background:linear-gradient(#e4d27c 5.02%,#e4d179 0 8.88%,#e3d077 0 12.54%,#e2cf73 0 15.8%,#e2ce70 0 18.71%,#e1cd6d 0 21.22%,#e1cc6a 0 23.33%,#e0cb68 0 25.08%,#e0cb67 0 26.64%,#dfca65 0 27.99%,#dfca64 0 29%,#dfca63 0 30%,#2ab5c9 0 50%,#e2cf73 0 51%,#e3d075 0 52%,#e3d178 0 53%,#e4d17a 0 54%,#e4d27d 0 55.01%,#e5d37f 0 56.01%,#e5d482 0 57.06%,#e6d585 0 58.16%,#e7d688 0 59.31%,#e7d78b 0 60.56%,#e8d88e 0 61.91%,#e9da92 0 63.41%,#e9db96 0 65.12%,#eadd9b 0 67.12%,#ecdea0 0 69.47%,#ede0a6 0 72.17%,#eee3ac 0 75.23%,#f0e5b3 0 78.63%,#f1e8bb 0 82.33%,#f3eac3 0 86.34%,#f4edcb 0 90.69%,#f6f0d4 0 95.35%,#f8f3dd 0)"></i><i style="left:541px;width:13px;background:linear-gradient(#e6d586 5.02%,#e5d481 0 8.88%,#e4d27c 0 12.54%,#e3d077 0 15.8%,#e2cf72 0 18.71%,#e1cd6d 0 21.22%,#e0cc6a 0 23.33%,#e0cb66 0 25.08%,#dfca64 0 26.64%,#dfc961 0 27.99%,#dec85f 0 29%,#dec85e 0 30%,#2ab5c9 0 50%,#e1cd6d 0 51%,#e2ce6f 0 52%,#e2cf72 0 53%,#e3d075 0 54%,#e3d178 0 55.01%,#e4d27b 0 56.01%,#e5d37e 0 57.06%,#e5d481 0 58.16%,#e6d585 0 59.31%,#e7d688 0 60.56%,#e7d88c 0 61.91%,#e8d990 0 63.41%,#e9db95 0 65.12%,#eadc9a 0 67.12%,#ebdea0 0 69.47%,#ede1a6 0 72.17%,#eee3ad 0 75.23%,#f0e5b4 0 78.63%,#f1e8bc 0 82.33%,#f3ebc4 0 86.34%,#f5eecd 0 90.69%,#f7f1d6 0 95.35%,#f9f4e0 0)"></i><i style="left:554px;width:13px;background:linear-gradient(#e9d991 5.02%,#e7d789 0 8.88%,#e5d482 0 12.54%,#e4d27b 0 15.8%,#e3cf74 0 18.71%,#e1cd6e 0 21.22%,#e0cb68 0 23.33%,#dfca63 0 25.08%,#dec85f 0 26.64%,#dec75c 0 27.99%,#ddc659 0 29%,#ddc557 0 30%,#2ab5c9 0 50%,#dfca64 0 51%,#e0cb67 0 52%,#e1cc6b 0 53%,#e1cd6e 0 54%,#e2cf72 0 55.01%,#e3d075 0 56.01%,#e4d179 0 57.06%,#e4d27d 0 58.16%,#e5d481 0 59.31%,#e6d585 0 60.56%,#e7d78a 0 61.91%,#e8d88f 0 63.41%,#e9da94 0 65.12%,#eadc9a 0 67.12%,#ecdea0 0 69.47%,#ede1a7 0 72.17%,#eee3ae 0 75.23%,#f0e6b6 0 78.63%,#f2e9be 0 82.33%,#f3ebc6 0 86.34%,#f5eecf 0 90.69%,#f7f2d8 0 95.35%,#f9f5e3 0)"></i><i style="left:567px;width:13px;background:linear-gradient(#ebdd9d 5.02%,#e8d991 0 8.88%,#e7d687 0 12.54%,#e5d37e 0 15.8%,#e3d076 0 18.71%,#e1cd6d 0 21.22%,#e0ca66 0 23.33%,#dec85f 0 25.08%,#ddc659 0 26.64%,#dcc454 0 27.99%,#dbc350 0 29%,#dbc24d 0 30%,#2ab5c9 0 50%,#ddc659 0 51%,#dec75d 0 52%,#dfc962 0 53%,#e0cb66 0 54%,#e1cc6b 0 55.01%,#e2ce6f 0 56.01%,#e2cf74 0 57.06%,#e3d179 0 58.16%,#e4d37d 0 59.31%,#e6d483 0 60.56%,#e7d688 0 61.91%,#e8d88d 0 63.41%,#e9da93 0 65.12%,#eadc9a 0 67.12%,#ecdfa1 0 69.47%,#ede1a8 0 72.17%,#efe4b0 0 75.23%,#f0e6b8 0 78.63%,#f2e9c0 0 82.33%,#f4ecc8 0 86.34%,#f5efd0 0 90.69%,#f7f2da 0 95.35%,#faf6e5 0)"></i><i style="left:580px;width:13px;background:linear-gradient(#ede1a7 5.02%,#eadc98 0 8.88%,#e8d88d 0 12.54%,#e5d482 0 15.8%,#e3d177 0 18.71%,#e1cd6d 0 21.22%,#dfc963 0 23.33%,#ddc65a 0 25.08%,#dbc451 0 26.64%,#dac14a 0 27.99%,#d9bf44 0 29%,#d8bd3f 0 30%,#2ab5c9 0 31%,#2bb5c6 0 32%,#2cb5c1 0 33%,#2eb5be 0 34%,#2fb4ba 0 35%,#30b4b7 0 36%,#30b4b5 0 37%,#31b4b4 0 38%,#31b4b3 0 39%,#31b4b2 0 40%,#31b4b3 0 41%,#31b4b4 0 42%,#30b4b6 0 43%,#2fb4b9 0 44%,#2eb5bc 0 45%,#2db5c0 0 46%,#2bb5c5 0 47%,#2ab5c9 0 50%,#dac14a 0 51%,#dbc350 0 52%,#dcc556 0 53%,#dec75c 0 54%,#dfc962 0 55.01%,#e0cb68 0 56.01%,#e1cd6e 0 57.06%,#e3cf74 0 58.16%,#e4d17a 0 59.31%,#e5d480 0 60.56%,#e6d687 0 61.91%,#e8d88d 0 63.41%,#e9da94 0 65.12%,#eadd9b 0 67.12%,#ecdfa2 0 69.47%,#eee2aa 0 72.17%,#efe5b2 0 75.23%,#f1e7ba 0 78.63%,#f3eac2 0 82.33%,#f4edca 0 86.34%,#f6f0d2 0 90.69%,#f8f3db 0 95.35%,#faf6e6 0)"></i><i style="left:593px;width:12px;background:linear-gradient(#efe4af 5.02%,#ebde9e 0 8.88%,#e9da92 0 12.54%,#e6d687 0 15.8%,#e4d27a 0 18.71%,#e1cd6e 0 21.22%,#dfc961 0 23.33%,#dcc454 0 25.08%,#dac048 0 26.64%,#d7bd3e 0 27.99%,#d6ba34 0 29%,#d4b72d 0 30%,#30b4b5 0 31%,#33b4ad 0 32%,#35b4a6 0 33%,#37b4a0 0 34%,#39b39b 0 35%,#3ab396 0 36%,#3bb392 0 37%,#3cb38f 0 38%,#3db38e 0 39%,#3db38d 0 40%,#3db38e 0 41%,#3cb38f 0 42%,#3bb392 0 43%,#3ab396 0 44%,#39b39b 0 45%,#37b4a0 0 46%,#35b4a7 0 47%,#33b4ae 0 48%,#30b4b6 0 49%,#2db5bf 0 50%,#d6bb37 0 51%,#d8bd40 0 52%,#dac049 0 53%,#dbc351 0 54%,#ddc659 0 55.01%,#dfc961 0 56.01%,#e0cc69 0 57.06%,#e2ce71 0 58.16%,#e3d179 0 59.31%,#e5d380 0 60.56%,#e7d688 0 61.91%,#e8d98f 0 63.41%,#eadb97 0 65.12%,#ebde9e 0 67.12%,#ede1a6 0 69.47%,#efe3af 0 72.17%,#f0e6b7 0 75.23%,#f2e9be 0 78.63%,#f3ebc6 0 82.33%,#f5eecd 0 86.34%,#f6f0d4 0 90.69%,#f8f3dc 0 95.35%,#faf6e5 0)"></i><i style="left:605px;width:13px;background:linear-gradient(#efe5b3 5.02%,#ece0a4 0 8.88%,#eadc9a 0 12.54%,#e8d88e 0 15.8%,#e5d481 0 18.71%,#e2cf73 0 21.22%,#dfc962 0 23.33%,#dbc351 0 25.08%,#d8bd40 0 26.64%,#d4b82f 0 27.99%,#d4ad31 0 29%,#d5a137 0 30%,#3ab395 0 31%,#3eb389 0 32%,#42b27e 0 33%,#45b274 0 34%,#48b26b 0 35%,#4ab163 0 36%,#4cb15d 0 37%,#4eb158 0 38%,#4fb155 0 39%,#4fb154 0 41%,#4eb157 0 42%,#4db15a 0 43%,#4bb160 0 44%,#49b267 0 45%,#46b270 0 46%,#43b27b 0 47%,#3fb386 0 48%,#3cb391 0 49%,#37b49f 0 50%,#d4aa32 0 51%,#d4b72d 0 52%,#d7bb39 0 53%,#d9c046 0 54%,#dcc452 0 55.01%,#dec85e 0 56.01%,#e0cb68 0 57.06%,#e2cf73 0 58.16%,#e4d27c 0 59.31%,#e6d585 0 60.56%,#e8d88e 0 61.91%,#eadb97 0 63.41%,#ebde9f 0 65.12%,#ede1a7 0 67.12%,#efe4af 0 69.47%,#f0e6b7 0 72.17%,#f2e9be 0 75.23%,#f3ebc5 0 78.63%,#f4edcb 0 82.33%,#f6efd1 0 86.34%,#f7f1d7 0 90.69%,#f8f3dd 0 95.35%,#f9f5e3 0)"></i><i style="left:618px;width:13px;background:linear-gradient(#efe5b3 5.02%,#eee2ab 0 8.88%,#ede0a5 0 12.54%,#ebde9e 0 15.8%,#e9da93 0 18.71%,#e6d585 0 21.22%,#e2cf73 0 23.33%,#dec75d 0 25.08%,#d8be43 0 26.64%,#d4af31 0 27.99%,#d5933d 0 29%,#d67f45 0 30%,#46b270 0 31%,#4db15b 0 32%,#55b041 0 33%,#62b544 0 34%,#71bc56 0 35%,#7cc163 0 36%,#85c56d 0 37%,#8ac874 0 38%,#8eca78 0 39%,#90ca7a 0 40%,#8fca7a 0 41%,#8dc977 0 42%,#88c772 0 43%,#82c46a 0 44%,#79bf5f 0 45%,#6dba51 0 46%,#5db23e 0 47%,#53b149 0 48%,#4ab163 0 49%,#43b279 0 50%,#d58841 0 51%,#d59d38 0 52%,#d4b62d 0 53%,#d9bf44 0 54%,#ddc658 0 55.01%,#e0cb69 0 56.01%,#e3d077 0 57.06%,#e6d583 0 58.16%,#e8d88f 0 59.31%,#eadc99 0 60.56%,#ecdfa2 0 61.91%,#eee2aa 0 63.41%,#efe5b2 0 65.12%,#f1e7b9 0 67.12%,#f2e9c0 0 69.47%,#f3ebc6 0 72.17%,#f4edcb 0 75.23%,#f5efd0 0 78.63%,#f6f0d4 0 82.33%,#f7f1d7 0 86.34%,#f7f2da 0 90.69%,#f8f4de 0 95.35%,#f9f5e1 0)"></i><i style="left:631px;width:15px;background:linear-gradient(#efe4b1 5.02%,#f0e6b5 0 8.88%,#f1e7b9 0 12.54%,#f1e8bb 0 15.8%,#f1e7ba 0 18.71%,#f0e6b5 0 21.22%,#eee2ac 0 23.33%,#ebde9d 0 25.08%,#e7d688 0 26.64%,#e0cb69 0 27.99%,#d7bc3c 0 29%,#d67d46 0 30%,#75be5b 0 31%,#b6dca8 0 32%,#d9edd1 0 33%,#eef7eb 0 34%,#fdfefc 0 35%,#fdfcf6 0 36%,#fcf9ef 0 37%,#fbf8e9 0 38%,#faf6e6 0 39%,#faf6e5 0 41%,#faf7e7 0 42%,#fbf8eb 0 43%,#fcfaf1 0 44%,#fefdfa 0 45%,#f9fcf7 0 46%,#eaf5e5 0 47%,#d3eacb 0 48%,#b0d9a0 0 49%,#6eba52 0 50%,#d58542 0 51%,#d9bf46 0 52%,#e2ce6f 0 53%,#e7d78a 0 54%,#ebdd9c 0 55.01%,#eee2aa 0 56.01%,#f0e5b4 0 57.06%,#f1e8bc 0 58.16%,#f3ebc3 0 59.31%,#f4edc9 0 60.56%,#f5eece 0 61.91%,#f6f0d2 0 63.41%,#f7f1d6 0 65.12%,#f7f2d9 0 67.12%,#f8f3db 0 69.47%,#f8f3dd 0 72.17%,#f8f4de 0 75.23%,#f8f4df 0 78.63%,#f9f4df 0 82.33%,#f8f4df 0 86.34%,#f8f4de 0 95.35%,#f8f4df 0)"></i></u></div>
<div class="plot" style="left:918px;top:616.7px;width:642px;height:258.5px"><u><i style="left:0px;width:15px;background:linear-gradient(#e8f8f9 5.02%,#eaf8f9 0 8.88%,#ebf8f9 0 12.54%,#ecf9fa 0 15.8%,#edf9fa 0 18.71%,#eef9fa 0 23.33%,#ecf9fa 0 25.08%,#e5f7f8 0 26.64%,#d5f2f3 0 27.99%,#b4e7ea 0 29%,#65cdd4 0 30%,#a45589 0 31%,#6b90ac 0 32%,#5ba0b5 0 33%,#58a3b7 0 34%,#5aa1b6 0 35%,#5e9eb4 0 36%,#619ab2 0 37%,#6497b0 0 38%,#6695af 0 39%,#6893ae 0 40%,#6992ad 0 42%,#6893ae 0 43%,#6695af 0 44%,#6497b0 0 45%,#6299b1 0 47%,#6695af 0 48%,#7783a4 0 49%,#b24781 0 50%,#6acfd5 0 51%,#b9e8eb 0 52%,#d8f2f4 0 53%,#e7f7f8 0 54%,#eefafa 0 55.01%,#f2fbfb 0 56.01%,#f5fcfc 0 57.06%,#f6fcfd 0 58.16%,#f7fcfd 0 59.31%,#f8fdfd 0 65.12%,#f9fdfd 0 72.17%,#fafdfe 0 78.63%,#fbfefe 0 82.33%,#fcfefe 0 90.69%,#fdfefe 0 95.35%,#fdfeff 0)"></i><i style="left:15px;width:13px;background:linear-gradient(#e8f8f9 5.02%,#eaf8f9 0 8.88%,#ebf9f9 0 15.8%,#e9f8f9 0 18.71%,#e4f6f7 0 21.22%,#daf3f5 0 23.33%,#caeef0 0 25.08%,#b3e6ea 0 26.64%,#94dce1 0 27.99%,#73d2d7 0 29%,#5dcbd1 0 30%,#946693 0 31%,#7982a3 0 32%,#5c9fb5 0 33%,#46b6c2 0 34%,#44c3ca 0 35%,#52c7ce 0 36%,#5bcad1 0 37%,#61ccd2 0 38%,#64cdd3 0 39%,#65cdd4 0 40%,#64cdd3 0 41%,#61ccd3 0 42%,#5dcbd1 0 43%,#55c8cf 0 44%,#4bc5cc 0 45%,#3dbfc8 0 46%,#4eaebd 0 47%,#6695af 0 48%,#84769c 0 49%,#a1588b 0 50%,#63cdd3 0 51%,#79d4d9 0 52%,#95dde1 0 53%,#ade5e8 0 54%,#c0ebed 0 55.01%,#ceeff1 0 56.01%,#d9f3f4 0 57.06%,#e1f5f7 0 58.16%,#e8f7f8 0 59.31%,#edf9fa 0 60.56%,#f0fafb 0 61.91%,#f3fbfc 0 63.41%,#f6fcfc 0 65.12%,#f7fdfd 0 67.12%,#f9fdfd 0 69.47%,#fafdfd 0 72.17%,#fafdfe 0 75.23%,#fbfefe 0 82.33%,#fcfefe 0 90.69%,#fdfefe 0 95.35%,#fdfeff 0)"></i><i style="left:28px;width:13px;background:linear-gradient(#e8f8f9 5.02%,#eaf8f9 0 8.88%,#e9f8f9 0 12.54%,#e7f7f8 0 15.8%,#e2f6f7 0 18.71%,#d8f3f4 0 21.22%,#cbeef0 0 23.33%,#bbe9ec 0 25.08%,#a9e3e7 0 26.64%,#97dde2 0 27.99%,#88d9dd 0 29%,#7ad4da 0 30%,#7b7fa2 0 31%,#6b90ac 0 32%,#5ba0b5 0 33%,#4cb0be 0 34%,#3ebec7 0 35%,#47c4cb 0 36%,#52c7ce 0 37%,#5acad0 0 38%,#5fcbd2 0 39%,#61ccd2 0 40%,#60ccd2 0 41%,#5dcbd1 0 42%,#56c8cf 0 43%,#4dc5cd 0 44%,#40c1c9 0 45%,#45b7c3 0 46%,#54a7ba 0 47%,#6596b0 0 48%,#7685a5 0 49%,#89719a 0 50%,#83d7dc 0 51%,#90dbe0 0 52%,#9ddfe3 0 53%,#aae3e7 0 54%,#b6e7ea 0 55.01%,#c1ebed 0 56.01%,#caeef0 0 57.06%,#d3f1f3 0 58.16%,#daf3f5 0 59.31%,#e1f5f7 0 60.56%,#e7f7f8 0 61.91%,#ebf9f9 0 63.41%,#effafb 0 65.12%,#f3fbfc 0 67.12%,#f6fcfc 0 69.47%,#f8fdfd 0 72.17%,#f9fdfd 0 75.23%,#fafefe 0 78.63%,#fbfefe 0 82.33%,#fcfefe 0 90.69%,#fdfefe 0)"></i><i style="left:41px;width:12px;background:linear-gradient(#e8f8f9 8.88%,#e6f7f8 0 12.54%,#e2f6f7 0 15.8%,#dbf3f5 0 18.71%,#d1f0f2 0 21.22%,#c6ecef 0 23.33%,#b9e8eb 0 25.08%,#ade5e8 0 26.64%,#a2e1e5 0 27.99%,#98dee2 0 29%,#8fdbdf 0 30%,#7189a8 0 31%,#6695af 0 32%,#5aa1b6 0 33%,#50abbc 0 34%,#47b4c1 0 35%,#40bcc6 0 36%,#3fc1c9 0 37%,#45c3cb 0 38%,#49c4cc 0 39%,#4ac5cc 0 40%,#4ac4cc 0 41%,#47c3cb 0 42%,#41c2ca 0 43%,#3ebec7 0 44%,#45b7c3 0 45%,#4eadbd 0 46%,#59a3b7 0 47%,#6497b0 0 48%,#718aa8 0 49%,#7f7ca0 0 50%,#9adee2 0 51%,#a3e1e5 0 52%,#abe4e7 0 53%,#b3e7ea 0 54%,#bbe9ec 0 55.01%,#c3ebee 0 56.01%,#caeef0 0 57.06%,#d0f0f2 0 58.16%,#d6f2f4 0 59.31%,#dcf4f5 0 60.56%,#e2f5f7 0 61.91%,#e6f7f8 0 63.41%,#ebf9f9 0 65.12%,#effafa 0 67.12%,#f3fbfb 0 69.47%,#f6fcfc 0 72.17%,#f8fdfd 0 75.23%,#fafdfd 0 78.63%,#fbfefe 0 82.33%,#fcfefe 0 90.69%,#fdfefe 0)"></i><i style="left:53px;width:13px;background:linear-gradient(#e8f8f9 5.02%,#e6f7f8 0 8.88%,#e3f6f7 0 12.54%,#ddf4f6 0 15.8%,#d6f2f3 0 18.71%,#ceeff1 0 21.22%,#c4ecee 0 23.33%,#bbe9ec 0 25.08%,#b3e6ea 0 26.64%,#abe4e7 0 27.99%,#a5e2e6 0 29%,#9fe0e4 0 30%,#708ba9 0 31%,#6893ae 0 32%,#609bb2 0 33%,#59a2b6 0 34%,#53a8ba 0 35%,#4eadbd 0 36%,#4ab2c0 0 37%,#47b5c2 0 38%,#45b7c3 0 39%,#44b8c3 0 40%,#45b7c3 0 41%,#47b5c2 0 42%,#4ab2c0 0 43%,#4eadbd 0 44%,#54a8ba 0 45%,#5aa1b6 0 46%,#6299b1 0 47%,#6b90ac 0 48%,#7487a6 0 49%,#7e7da0 0 50%,#ace4e8 0 51%,#b1e6e9 0 52%,#b7e8eb 0 53%,#bdeaec 0 54%,#c2ebee 0 55.01%,#c8edef 0 56.01%,#cdeff1 0 57.06%,#d2f0f2 0 58.16%,#d7f2f4 0 59.31%,#dbf3f5 0 60.56%,#e0f5f6 0 61.91%,#e4f6f7 0 63.41%,#e8f8f9 0 65.12%,#ecf9fa 0 67.12%,#f0fafb 0 69.47%,#f4fbfc 0 72.17%,#f6fcfd 0 75.23%,#f9fdfd 0 78.63%,#fafdfe 0 82.33%,#fbfefe 0 86.34%,#fcfefe 0 90.69%,#fdfefe 0)"></i><i style="left:66px;width:13px;background:linear-gradient(#e7f7f8 5.02%,#e4f6f7 0 8.88%,#e0f5f6 0 12.54%,#daf3f5 0 15.8%,#d3f1f3 0 18.71%,#cceff1 0 21.22%,#c5ecef 0 23.33%,#bfeaed 0 25.08%,#b9e8eb 0 26.64%,#b3e7ea 0 27.99%,#afe5e9 0 29%,#ace4e8 0 30%,#7387a7 0 31%,#6e8daa 0 32%,#6992ad 0 33%,#6497b0 0 34%,#609bb2 0 35%,#5c9fb5 0 36%,#59a2b6 0 37%,#58a4b7 0 38%,#56a5b8 0 40%,#57a5b8 0 41%,#58a3b7 0 42%,#5ba0b5 0 43%,#5e9db3 0 44%,#6299b1 0 45%,#6794ae 0 46%,#6d8eaa 0 47%,#7387a7 0 48%,#7a80a2 0 49%,#82799e 0 50%,#b9e8eb 0 51%,#bdeaec 0 52%,#c1ebee 0 53%,#c5ecef 0 54%,#c9eef0 0 55.01%,#cdeff1 0 56.01%,#d1f0f2 0 57.06%,#d5f1f3 0 58.16%,#d8f3f4 0 59.31%,#dcf4f5 0 60.56%,#e0f5f6 0 61.91%,#e4f6f7 0 63.41%,#e7f7f8 0 65.12%,#ebf9f9 0 67.12%,#effafa 0 69.47%,#f2fbfb 0 72.17%,#f5fcfc 0 75.23%,#f7fdfd 0 78.63%,#f9fdfd 0 82.33%,#fbfefe 0 86.34%,#fcfefe 0 90.69%,#fdfefe 0)"></i><i style="left:79px;width:13px;background:linear-gradient(#e5f7f8 5.02%,#e2f6f7 0 8.88%,#ddf4f6 0 12.54%,#d8f2f4 0 15.8%,#d2f1f2 0 18.71%,#cceff1 0 21.22%,#c7edef 0 23.33%,#c2ebee 0 25.08%,#beeaed 0 26.64%,#bbe9ec 0 27.99%,#b8e8eb 0 29%,#b6e7ea 0 30%,#7982a3 0 31%,#7586a6 0 32%,#7189a8 0 33%,#6e8daa 0 34%,#6b8fab 0 35%,#6992ad 0 36%,#6794ae 0 37%,#6695af 0 40%,#6694ae 0 41%,#6893ae 0 42%,#6a91ac 0 43%,#6d8eab 0 44%,#708ba9 0 45%,#7487a6 0 46%,#7882a4 0 47%,#7d7da1 0 48%,#82789e 0 49%,#88729a 0 50%,#c3ecee 0 51%,#c6edef 0 52%,#c9edf0 0 53%,#cceef1 0 54%,#cfeff1 0 55.01%,#d2f0f2 0 56.01%,#d5f1f3 0 57.06%,#d8f2f4 0 58.16%,#dbf3f5 0 59.31%,#def4f6 0 60.56%,#e1f5f6 0 61.91%,#e4f6f7 0 63.41%,#e7f7f8 0 65.12%,#eaf8f9 0 67.12%,#eef9fa 0 69.47%,#f1fafb 0 72.17%,#f4fbfc 0 75.23%,#f7fcfd 0 78.63%,#f9fdfd 0 82.33%,#fafefe 0 86.34%,#fcfefe 0 90.69%,#fdfefe 0)"></i><i style="left:92px;width:13px;background:linear-gradient(#e3f6f7 5.02%,#e0f5f6 0 8.88%,#dcf4f5 0 12.54%,#d7f2f4 0 15.8%,#d2f0f2 0 18.71%,#ceeff1 0 21.22%,#c9eef0 0 23.33%,#c6edef 0 25.08%,#c3ecee 0 26.64%,#c1ebed 0 27.99%,#bfeaed 0 29%,#beeaed 0 30%,#7f7ba0 0 31%,#7c7ea1 0 32%,#7a81a3 0 33%,#7883a4 0 34%,#7685a5 0 35%,#7486a6 0 36%,#7387a7 0 37%,#7388a7 0 40%,#7487a6 0 41%,#7586a6 0 42%,#7784a5 0 43%,#7981a3 0 44%,#7c7fa2 0 45%,#7f7ca0 0 46%,#82789e 0 47%,#86749b 0 48%,#8a7099 0 49%,#8f6b96 0 50%,#caeef0 0 51%,#cdeff1 0 52%,#cfeff1 0 53%,#d1f0f2 0 54%,#d4f1f3 0 55.01%,#d6f2f3 0 56.01%,#d8f2f4 0 57.06%,#daf3f5 0 58.16%,#ddf4f5 0 59.31%,#dff5f6 0 60.56%,#e2f6f7 0 61.91%,#e5f6f8 0 63.41%,#e7f7f8 0 65.12%,#eaf8f9 0 67.12%,#edf9fa 0 69.47%,#f0fafb 0 72.17%,#f3fbfc 0 75.23%,#f6fcfc 0 78.63%,#f8fdfd 0 82.33%,#fafdfe 0 86.34%,#fbfefe 0 90.69%,#fdfefe 0 95.35%,#fdfeff 0)"></i><i style="left:105px;width:13px;background:linear-gradient(#dff5f6 5.02%,#ddf4f5 0 8.88%,#daf3f5 0 12.54%,#d6f2f3 0 15.8%,#d2f1f2 0 18.71%,#cfeff1 0 21.22%,#cceff1 0 23.33%,#caeef0 0 25.08%,#c8edef 0 26.64%,#c6edef 0 27.99%,#c5ecef 0 29%,#c4ecee 0 30%,#85759c 0 31%,#83779d 0 32%,#81799e 0 33%,#807a9f 0 34%,#7f7ba0 0 35%,#7e7ca0 0 36%,#7e7da0 0 37%,#7d7da1 0 38%,#7e7da0 0 39%,#7e7ca0 0 40%,#7f7ba0 0 41%,#807a9f 0 42%,#82789e 0 43%,#84779d 0 44%,#86749b 0 45%,#89719a 0 46%,#8b6e98 0 47%,#8f6b96 0 48%,#926894 0 49%,#966492 0 50%,#d0f0f2 0 51%,#d2f0f2 0 52%,#d4f1f3 0 53%,#d6f2f3 0 54%,#d7f2f4 0 55.01%,#d9f3f4 0 56.01%,#dbf3f5 0 57.06%,#ddf4f5 0 58.16%,#dff5f6 0 59.31%,#e1f5f7 0 60.56%,#e3f6f7 0 61.91%,#e5f7f8 0 63.41%,#e8f8f8 0 65.12%,#eaf8f9 0 67.12%,#edf9fa 0 69.47%,#f0fafb 0 72.17%,#f3fbfc 0 75.23%,#f5fcfc 0 78.63%,#f7fdfd 0 82.33%,#f9fdfd 0 86.34%,#fbfefe 0 90.69%,#fcfefe 0 95.35%,#fdfeff 0)"></i><i style="left:118px;width:12px;background:linear-gradient(#dcf4f5 5.02%,#dbf3f5 0 8.88%,#d9f3f4 0 12.54%,#d6f2f3 0 15.8%,#d3f1f3 0 18.71%,#d0f0f2 0 21.22%,#ceeff1 0 23.33%,#cdeff1 0 25.08%,#cbeef0 0 26.64%,#caeef0 0 27.99%,#c9eef0 0 30%,#8a7099 0 31%,#89719a 0 32%,#88729a 0 33%,#87739b 0 35%,#86749b 0 38%,#87739b 0 40%,#88729a 0 41%,#8a7099 0 42%,#8b6f98 0 43%,#8d6d97 0 44%,#8f6b96 0 45%,#916995 0 46%,#946693 0 47%,#966392 0 48%,#996090 0 49%,#9d5d8e 0 50%,#d5f1f3 0 51%,#d6f2f3 0 52%,#d8f2f4 0 53%,#d9f3f4 0 54%,#dbf3f5 0 55.01%,#dcf4f5 0 56.01%,#def4f6 0 57.06%,#dff5f6 0 58.16%,#e1f5f7 0 59.31%,#e3f6f7 0 60.56%,#e5f6f8 0 61.91%,#e6f7f8 0 63.41%,#e9f8f9 0 65.12%,#ebf8f9 0 67.12%,#edf9fa 0 69.47%,#f0fafb 0 72.17%,#f2fbfb 0 75.23%,#f5fcfc 0 78.63%,#f7fcfd 0 82.33%,#f9fdfd 0 86.34%,#fbfefe 0 90.69%,#fcfefe 0 95.35%,#fdfeff 0)"></i><i style="left:130px;width:13px;background:linear-gradient(#d9f3f4 8.88%,#d7f2f4 0 12.54%,#d5f2f3 0 15.8%,#d3f1f3 0 18.71%,#d2f0f2 0 21.22%,#d0f0f2 0 23.33%,#cfeff1 0 25.08%,#ceeff1 0 27.99%,#cdeff1 0 30%,#8f6b96 0 31%,#8e6b96 0 32%,#8e6c97 0 34%,#8d6c97 0 36%,#8e6c97 0 38%,#8f6b96 0 39%,#8f6a96 0 40%,#906995 0 41%,#926894 0 42%,#936794 0 43%,#956593 0 44%,#966391 0 45%,#996190 0 46%,#9b5f8f 0 47%,#9d5c8d 0 48%,#a05a8c 0 49%,#a3578a 0 50%,#d8f3f4 0 51%,#daf3f4 0 52%,#dbf3f5 0 53%,#dcf4f5 0 54%,#ddf4f6 0 55.01%,#dff5f6 0 56.01%,#e0f5f6 0 57.06%,#e1f5f7 0 58.16%,#e3f6f7 0 59.31%,#e4f6f7 0 60.56%,#e6f7f8 0 61.91%,#e8f7f8 0 63.41%,#e9f8f9 0 65.12%,#ebf9f9 0 67.12%,#eef9fa 0 69.47%,#f0fafb 0 72.17%,#f2fbfb 0 75.23%,#f5fcfc 0 78.63%,#f7fcfd 0 82.33%,#f9fdfd 0 86.34%,#fbfefe 0 90.69%,#fcfefe 0 95.35%,#fdfefe 0)"></i><i style="left:143px;width:13px;background:linear-gradient(#d6f2f3 5.02%,#d6f2f4 0 8.88%,#d6f2f3 0 12.54%,#d5f1f3 0 15.8%,#d4f1f3 0 18.71%,#d3f1f2 0 21.22%,#d2f0f2 0 23.33%,#d1f0f2 0 26.64%,#d0f0f2 0 30%,#936793 0 31%,#936794 0 35%,#936693 0 36%,#946693 0 37%,#946593 0 38%,#956592 0 39%,#966492 0 40%,#976391 0 41%,#986190 0 42%,#9a6090 0 43%,#9b5e8f 0 44%,#9d5c8e 0 45%,#9f5b8c 0 46%,#a1588b 0 47%,#a3568a 0 48%,#a65488 0 49%,#a85187 0 50%,#dbf3f5 0 51%,#dcf4f5 0 52%,#ddf4f6 0 53%,#dff5f6 0 54%,#e0f5f6 0 55.01%,#e1f5f6 0 56.01%,#e2f6f7 0 57.06%,#e3f6f7 0 58.16%,#e4f6f7 0 59.31%,#e6f7f8 0 60.56%,#e7f7f8 0 61.91%,#e8f8f9 0 63.41%,#eaf8f9 0 65.12%,#ecf9fa 0 67.12%,#eef9fa 0 69.47%,#f0fafb 0 72.17%,#f2fbfb 0 75.23%,#f4fcfc 0 78.63%,#f7fcfd 0 82.33%,#f9fdfd 0 86.34%,#fafdfe 0 90.69%,#fcfefe 0 95.35%,#fdfefe 0)"></i><i style="left:156px;width:13px;background:linear-gradient(#d3f1f3 5.02%,#d4f1f3 0 8.88%,#d5f1f3 0 12.54%,#d4f1f3 0 18.71%,#d3f1f3 0 23.33%,#d3f1f2 0 25.08%,#d2f1f2 0 30%,#976391 0 33%,#976291 0 34%,#986291 0 35%,#986190 0 36%,#996190 0 37%,#9a6090 0 38%,#9b5f8f 0 39%,#9c5e8e 0 40%,#9d5d8e 0 41%,#9e5b8d 0 42%,#9f5a8c 0 43%,#a1588b 0 44%,#a3578a 0 45%,#a45589 0 46%,#a65388 0 47%,#a85187 0 48%,#ab4f85 0 49%,#ad4c84 0 50%,#def4f6 0 51%,#dff5f6 0 52%,#e0f5f6 0 53%,#e1f5f6 0 54%,#e2f5f7 0 55.01%,#e3f6f7 0 56.01%,#e4f6f7 0 57.06%,#e5f6f8 0 58.16%,#e6f7f8 0 59.31%,#e7f7f8 0 60.56%,#e8f8f9 0 61.91%,#e9f8f9 0 63.41%,#ebf8f9 0 65.12%,#ecf9fa 0 67.12%,#eefafa 0 69.47%,#f0fafb 0 72.17%,#f2fbfb 0 75.23%,#f4fcfc 0 78.63%,#f6fcfd 0 82.33%,#f8fdfd 0 86.34%,#fafdfe 0 90.69%,#fcfefe 0 95.35%,#fdfefe 0)"></i><i style="left:169px;width:13px;background:linear-gradient(#d1f0f2 5.02%,#d3f1f2 0 8.88%,#d3f1f3 0 12.54%,#d4f1f3 0 30%,#9a6090 0 31%,#9a5f8f 0 32%,#9b5f8f 0 33%,#9b5e8f 0 34%,#9c5e8e 0 35%,#9c5d8e 0 36%,#9d5c8d 0 37%,#9e5b8d 0 38%,#9f5a8c 0 39%,#a0598c 0 40%,#a1588b 0 41%,#a3578a 0 42%,#a45589 0 43%,#a65488 0 44%,#a75287 0 45%,#a95086 0 46%,#ab4e85 0 47%,#ad4c84 0 48%,#af4a83 0 49%,#b14881 0 50%,#e0f5f6 0 51%,#e1f5f6 0 52%,#e1f5f7 0 53%,#e2f6f7 0 54%,#e3f6f7 0 55.01%,#e4f6f7 0 56.01%,#e5f7f8 0 57.06%,#e6f7f8 0 58.16%,#e7f7f8 0 59.31%,#e8f8f8 0 60.56%,#e9f8f9 0 61.91%,#eaf8f9 0 63.41%,#ecf9fa 0 65.12%,#edf9fa 0 67.12%,#effafa 0 69.47%,#f1fafb 0 72.17%,#f2fbfb 0 75.23%,#f4fcfc 0 78.63%,#f6fcfd 0 82.33%,#f8fdfd 0 86.34%,#fafdfe 0 90.69%,#fbfefe 0 95.35%,#fcfefe 0)"></i><i style="left:182px;width:13px;background:linear-gradient(#cfeff1 5.02%,#d1f0f2 0 8.88%,#d2f1f2 0 12.54%,#d3f1f3 0 15.8%,#d4f1f3 0 23.33%,#d5f1f3 0 26.64%,#d5f2f3 0 27.99%,#d6f2f3 0 30%,#9c5d8e 0 31%,#9d5d8e 0 32%,#9d5c8d 0 33%,#9e5b8d 0 34%,#9f5a8c 0 35%,#a05a8c 0 36%,#a1598b 0 37%,#a2578b 0 38%,#a3568a 0 39%,#a45589 0 40%,#a55488 0 41%,#a75288 0 42%,#a85187 0 43%,#aa4f86 0 44%,#ab4e85 0 45%,#ad4c84 0 46%,#af4a83 0 47%,#b14882 0 48%,#b34680 0 49%,#b5447f 0 50%,#e1f5f7 0 51%,#e2f6f7 0 52%,#e3f6f7 0 53%,#e4f6f7 0 54%,#e4f6f8 0 55.01%,#e5f7f8 0 56.01%,#e6f7f8 0 57.06%,#e7f7f8 0 58.16%,#e8f8f8 0 59.31%,#e9f8f9 0 60.56%,#eaf8f9 0 61.91%,#ebf9f9 0 63.41%,#ecf9fa 0 65.12%,#edf9fa 0 67.12%,#effafa 0 69.47%,#f1fafb 0 72.17%,#f3fbfb 0 75.23%,#f4fcfc 0 78.63%,#f6fcfd 0 82.33%,#f8fdfd 0 86.34%,#fafdfe 0 90.69%,#fbfefe 0 95.35%,#fcfefe 0)"></i><i style="left:195px;width:12px;background:linear-gradient(#cdeff1 5.02%,#d0f0f2 0 8.88%,#d1f0f2 0 12.54%,#d3f1f3 0 15.8%,#d4f1f3 0 21.22%,#d5f1f3 0 23.33%,#d5f2f3 0 25.08%,#d6f2f3 0 26.64%,#d6f2f4 0 27.99%,#d7f2f4 0 30%,#9e5b8d 0 31%,#9f5a8c 0 32%,#a05a8c 0 33%,#a1598b 0 34%,#a2588b 0 35%,#a3578a 0 36%,#a45689 0 37%,#a55489 0 38%,#a65388 0 39%,#a75287 0 40%,#a95086 0 41%,#aa4f86 0 42%,#ac4e85 0 43%,#ad4c84 0 44%,#af4a83 0 45%,#b04982 0 46%,#b24781 0 47%,#b44580 0 48%,#b6437f 0 49%,#b8417d 0 50%,#e3f6f7 0 52%,#e4f6f7 0 53%,#e5f7f8 0 54%,#e6f7f8 0 56.01%,#e7f7f8 0 57.06%,#e8f8f8 0 58.16%,#e9f8f9 0 59.31%,#eaf8f9 0 61.91%,#ebf9f9 0 63.41%,#edf9fa 0 65.12%,#eef9fa 0 67.12%,#effafb 0 69.47%,#f1fafb 0 72.17%,#f3fbfc 0 75.23%,#f4fcfc 0 78.63%,#f6fcfd 0 82.33%,#f8fdfd 0 86.34%,#f9fdfd 0 90.69%,#fbfefe 0 95.35%,#fcfefe 0)"></i><i style="left:207px;width:13px;background:linear-gradient(#cbeef0 5.02%,#cfeff1 0 8.88%,#d1f0f2 0 12.54%,#d2f1f2 0 15.8%,#d3f1f3 0 18.71%,#d4f1f3 0 21.22%,#d5f2f3 0 23.33%,#d6f2f3 0 25.08%,#d7f2f4 0 27.99%,#d8f2f4 0 30%,#a05a8c 0 31%,#a1598b 0 32%,#a2588b 0 33%,#a3568a 0 34%,#a45589 0 35%,#a55489 0 36%,#a65388 0 37%,#a75287 0 38%,#a95086 0 39%,#aa4f86 0 40%,#ab4e85 0 41%,#ad4c84 0 42%,#ae4b83 0 43%,#b04982 0 44%,#b24781 0 45%,#b34680 0 46%,#b5447f 0 47%,#b7427e 0 48%,#b9407d 0 49%,#ba3e7c 0 50%,#e4f6f7 0 52%,#e5f7f8 0 53%,#e6f7f8 0 55.01%,#e7f7f8 0 56.01%,#e8f8f8 0 57.06%,#e9f8f9 0 59.31%,#eaf8f9 0 60.56%,#ebf9f9 0 61.91%,#ecf9fa 0 63.41%,#edf9fa 0 65.12%,#eefafa 0 67.12%,#f0fafb 0 69.47%,#f1fbfb 0 72.17%,#f3fbfc 0 75.23%,#f4fcfc 0 78.63%,#f6fcfd 0 82.33%,#f8fdfd 0 86.34%,#f9fdfd 0 90.69%,#fbfefe 0 95.35%,#fcfefe 0)"></i><i style="left:220px;width:13px;background:linear-gradient(#caeef0 5.02%,#ceeff1 0 8.88%,#d0f0f2 0 12.54%,#d2f0f2 0 15.8%,#d3f1f3 0 18.71%,#d5f1f3 0 21.22%,#d6f2f3 0 23.33%,#d6f2f4 0 25.08%,#d7f2f4 0 26.64%,#d8f2f4 0 29%,#d9f3f4 0 30%,#a1588b 0 31%,#a2578a 0 32%,#a3568a 0 33%,#a55589 0 34%,#a65488 0 35%,#a75288 0 36%,#a85187 0 37%,#aa5086 0 38%,#ab4e85 0 39%,#ac4d84 0 40%,#ae4b83 0 41%,#af4a83 0 42%,#b14882 0 43%,#b24781 0 44%,#b44580 0 45%,#b6437f 0 46%,#b7427e 0 47%,#b9407d 0 48%,#bb3e7c 0 49%,#bd3c7a 0 50%,#e4f6f8 0 51%,#e5f7f8 0 52%,#e6f7f8 0 54%,#e7f7f8 0 55.01%,#e8f7f8 0 56.01%,#e8f8f9 0 57.06%,#e9f8f9 0 58.16%,#eaf8f9 0 59.31%,#ebf8f9 0 60.56%,#ecf9fa 0 63.41%,#edf9fa 0 65.12%,#effafa 0 67.12%,#f0fafb 0 69.47%,#f1fbfb 0 72.17%,#f3fbfc 0 75.23%,#f4fcfc 0 78.63%,#f6fcfc 0 82.33%,#f8fdfd 0 86.34%,#f9fdfd 0 90.69%,#fafefe 0 95.35%,#fcfefe 0)"></i><i style="left:233px;width:13px;background:linear-gradient(#c9eef0 5.02%,#cdeff1 0 8.88%,#cff0f2 0 12.54%,#d2f0f2 0 15.8%,#d3f1f3 0 18.71%,#d5f1f3 0 21.22%,#d6f2f3 0 23.33%,#d7f2f4 0 26.64%,#d8f2f4 0 27.99%,#d9f3f4 0 30%,#a2578a 0 31%,#a3568a 0 32%,#a55589 0 33%,#a65388 0 34%,#a75287 0 35%,#a85187 0 36%,#aa4f86 0 37%,#ab4e85 0 38%,#ad4d84 0 39%,#ae4b83 0 40%,#af4a82 0 41%,#b14882 0 42%,#b34681 0 43%,#b44580 0 44%,#b6437f 0 45%,#b7417e 0 46%,#b9407d 0 47%,#bb3e7c 0 48%,#bd3c7a 0 49%,#be3a79 0 50%,#e5f7f8 0 51%,#e6f7f8 0 53%,#e7f7f8 0 54%,#e8f7f8 0 55.01%,#e8f8f9 0 56.01%,#e9f8f9 0 57.06%,#eaf8f9 0 59.31%,#ebf9f9 0 60.56%,#ecf9fa 0 61.91%,#edf9fa 0 63.41%,#eef9fa 0 65.12%,#effafa 0 67.12%,#f0fafb 0 69.47%,#f1fbfb 0 72.17%,#f3fbfc 0 75.23%,#f5fcfc 0 78.63%,#f6fcfc 0 82.33%,#f8fdfd 0 86.34%,#f9fdfd 0 90.69%,#fafdfe 0 95.35%,#fbfefe 0)"></i><i style="left:246px;width:13px;background:linear-gradient(#c9edf0 5.02%,#cceff1 0 8.88%,#cfeff1 0 12.54%,#d1f0f2 0 15.8%,#d3f1f3 0 18.71%,#d5f1f3 0 21.22%,#d6f2f3 0 23.33%,#d7f2f4 0 25.08%,#d8f2f4 0 26.64%,#d9f3f4 0 29%,#daf3f4 0 30%,#a3568a 0 31%,#a45589 0 32%,#a65488 0 33%,#a75288 0 34%,#a85187 0 35%,#aa4f86 0 36%,#ab4e85 0 37%,#ad4d84 0 38%,#ae4b83 0 39%,#af4a82 0 40%,#b14882 0 41%,#b24681 0 42%,#b44580 0 43%,#b6437f 0 44%,#b7427e 0 45%,#b9407d 0 46%,#bb3e7c 0 47%,#bc3c7b 0 48%,#be3b7a 0 49%,#c03978 0 50%,#e6f7f8 0 52%,#e7f7f8 0 53%,#e8f7f8 0 54%,#e8f8f9 0 55.01%,#e9f8f9 0 57.06%,#eaf8f9 0 58.16%,#ebf8f9 0 59.31%,#ebf9f9 0 60.56%,#ecf9fa 0 61.91%,#edf9fa 0 63.41%,#eefafa 0 65.12%,#effafa 0 67.12%,#f0fafb 0 69.47%,#f2fbfb 0 72.17%,#f3fbfc 0 75.23%,#f5fcfc 0 78.63%,#f6fcfc 0 82.33%,#f8fdfd 0 86.34%,#f9fdfd 0 90.69%,#fafdfe 0 95.35%,#fbfefe 0)"></i><i style="left:259px;width:13px;background:linear-gradient(#c8edf0 5.02%,#cceef1 0 8.88%,#cfeff1 0 12.54%,#d1f0f2 0 15.8%,#d3f1f3 0 18.71%,#d5f1f3 0 21.22%,#d6f2f3 0 23.33%,#d7f2f4 0 25.08%,#d8f2f4 0 26.64%,#d9f3f4 0 29%,#daf3f5 0 30%,#a45689 0 31%,#a55489 0 32%,#a65388 0 33%,#a85187 0 34%,#a95086 0 35%,#ab4f85 0 36%,#ac4d84 0 37%,#ae4c84 0 38%,#af4a83 0 39%,#b14882 0 40%,#b24781 0 41%,#b44580 0 42%,#b5447f 0 43%,#b7427e 0 44%,#b8407d 0 45%,#ba3f7c 0 46%,#bc3d7b 0 47%,#be3b7a 0 48%,#bf3979 0 49%,#c13778 0 50%,#e6f7f8 0 51%,#e7f7f8 0 53%,#e8f8f8 0 54%,#e9f8f9 0 56.01%,#eaf8f9 0 58.16%,#ebf9f9 0 59.31%,#ecf9fa 0 61.91%,#edf9fa 0 63.41%,#eefafa 0 65.12%,#effafb 0 67.12%,#f0fafb 0 69.47%,#f2fbfb 0 72.17%,#f3fbfc 0 75.23%,#f5fcfc 0 78.63%,#f6fcfc 0 82.33%,#f7fdfd 0 86.34%,#f9fdfd 0 90.69%,#fafdfe 0 95.35%,#fbfefe 0)"></i><i style="left:272px;width:12px;background:linear-gradient(#c8edef 5.02%,#cbeef0 0 8.88%,#ceeff1 0 12.54%,#d1f0f2 0 15.8%,#d3f1f3 0 18.71%,#d5f1f3 0 21.22%,#d6f2f3 0 23.33%,#d7f2f4 0 25.08%,#d8f2f4 0 26.64%,#d9f3f4 0 27.99%,#daf3f4 0 29%,#daf3f5 0 30%,#a45589 0 31%,#a65488 0 32%,#a75287 0 33%,#a85187 0 34%,#aa4f86 0 35%,#ab4e85 0 36%,#ad4c84 0 37%,#ae4b83 0 38%,#b04982 0 39%,#b14881 0 40%,#b34680 0 41%,#b4447f 0 42%,#b6437e 0 43%,#b8417d 0 44%,#b93f7c 0 45%,#bb3e7b 0 46%,#bd3c7a 0 47%,#bf3a79 0 48%,#c03878 0 49%,#c23777 0 50%,#e6f7f8 0 51%,#e7f7f8 0 52%,#e8f7f8 0 53%,#e8f8f9 0 54%,#e9f8f9 0 56.01%,#eaf8f9 0 57.06%,#ebf8f9 0 58.16%,#ebf9f9 0 59.31%,#ecf9fa 0 60.56%,#edf9fa 0 63.41%,#eefafa 0 65.12%,#effafb 0 67.12%,#f0fafb 0 69.47%,#f2fbfb 0 72.17%,#f3fbfc 0 75.23%,#f5fcfc 0 78.63%,#f6fcfc 0 82.33%,#f7fdfd 0 86.34%,#f9fdfd 0 90.69%,#fafdfe 0 95.35%,#fbfefe 0)"></i><i style="left:284px;width:13px;background:linear-gradient(#c7edef 5.02%,#cbeef0 0 8.88%,#ceeff1 0 12.54%,#d1f0f2 0 15.8%,#d3f1f3 0 18.71%,#d5f1f3 0 21.22%,#d6f2f3 0 23.33%,#d7f2f4 0 25.08%,#d8f2f4 0 26.64%,#d9f3f4 0 27.99%,#daf3f4 0 29%,#daf3f5 0 30%,#a55589 0 31%,#a65388 0 32%,#a75287 0 33%,#a95086 0 34%,#aa4f85 0 35%,#ac4d85 0 36%,#ad4c84 0 37%,#af4a83 0 38%,#b04982 0 39%,#b24781 0 40%,#b44580 0 41%,#b5447f 0 42%,#b7427e 0 43%,#b8407d 0 44%,#ba3f7c 0 45%,#bc3d7b 0 46%,#bd3b7a 0 47%,#bf3979 0 48%,#c13878 0 49%,#c33677 0 50%,#e7f7f8 0 52%,#e8f8f8 0 53%,#e8f8f9 0 54%,#e9f8f9 0 55.01%,#eaf8f9 0 57.06%,#ebf8f9 0 58.16%,#ebf9f9 0 59.31%,#ecf9fa 0 60.56%,#edf9fa 0 61.91%,#eef9fa 0 63.41%,#eefafa 0 65.12%,#effafb 0 67.12%,#f1fafb 0 69.47%,#f2fbfb 0 72.17%,#f3fbfc 0 75.23%,#f4fcfc 0 78.63%,#f6fcfc 0 82.33%,#f7fdfd 0 86.34%,#f9fdfd 0 90.69%,#fafdfe 0 95.35%,#fbfefe 0)"></i><i style="left:297px;width:13px;background:linear-gradient(#c7edef 5.02%,#cbeef0 0 8.88%,#ceeff1 0 12.54%,#d1f0f2 0 15.8%,#d3f1f3 0 18.71%,#d5f1f3 0 21.22%,#d6f2f3 0 23.33%,#d7f2f4 0 25.08%,#d8f2f4 0 26.64%,#d9f3f4 0 27.99%,#daf3f5 0 30%,#a55489 0 31%,#a65388 0 32%,#a85187 0 33%,#a95086 0 34%,#ab4e85 0 35%,#ac4d84 0 36%,#ae4b83 0 37%,#af4a83 0 38%,#b14882 0 39%,#b24781 0 40%,#b44580 0 41%,#b6437f 0 42%,#b7427e 0 43%,#b9407d 0 44%,#ba3e7c 0 45%,#bc3d7b 0 46%,#be3b7a 0 47%,#c03979 0 48%,#c13778 0 49%,#c33577 0 50%,#e7f7f8 0 52%,#e8f8f8 0 53%,#e9f8f9 0 55.01%,#eaf8f9 0 57.06%,#ebf8f9 0 58.16%,#ebf9f9 0 59.31%,#ecf9fa 0 60.56%,#edf9fa 0 61.91%,#eef9fa 0 63.41%,#eefafa 0 65.12%,#effafb 0 67.12%,#f1fafb 0 69.47%,#f2fbfb 0 72.17%,#f3fbfc 0 75.23%,#f4fcfc 0 78.63%,#f6fcfc 0 82.33%,#f7fdfd 0 86.34%,#f9fdfd 0 90.69%,#fafdfe 0 95.35%,#fbfefe 0)"></i><i style="left:310px;width:13px;background:linear-gradient(#c7edef 5.02%,#cbeef0 0 8.88%,#ceeff1 0 12.54%,#d1f0f2 0 15.8%,#d3f1f3 0 18.71%,#d5f1f3 0 21.22%,#d6f2f3 0 23.33%,#d7f2f4 0 25.08%,#d8f2f4 0 26.64%,#d9f3f4 0 27.99%,#daf3f5 0 30%,#a55489 0 31%,#a65388 0 32%,#a85187 0 33%,#a95086 0 34%,#ab4e85 0 35%,#ac4d84 0 36%,#ae4b83 0 37%,#af4a82 0 38%,#b14882 0 39%,#b34681 0 40%,#b44580 0 41%,#b6437f 0 42%,#b7417e 0 43%,#b9407d 0 44%,#bb3e7c 0 45%,#bc3c7b 0 46%,#be3b7a 0 47%,#c03979 0 48%,#c23778 0 49%,#c33576 0 50%,#e7f7f8 0 52%,#e8f8f9 0 53%,#e9f8f9 0 55.01%,#eaf8f9 0 57.06%,#ebf9f9 0 58.16%,#ecf9fa 0 60.56%,#edf9fa 0 61.91%,#eef9fa 0 63.41%,#effafa 0 65.12%,#effafb 0 67.12%,#f1fafb 0 69.47%,#f2fbfb 0 72.17%,#f3fbfc 0 75.23%,#f4fcfc 0 78.63%,#f6fcfc 0 82.33%,#f7fdfd 0 86.34%,#f9fdfd 0 90.69%,#fafdfe 0 95.35%,#fbfefe 0)"></i><i style="left:323px;width:13px;background:linear-gradient(#c7edef 5.02%,#cbeef0 0 8.88%,#ceeff1 0 12.54%,#d1f0f2 0 15.8%,#d3f1f3 0 18.71%,#d5f1f3 0 21.22%,#d6f2f3 0 23.33%,#d7f2f4 0 25.08%,#d8f2f4 0 26.64%,#d9f3f4 0 27.99%,#daf3f5 0 30%,#a55489 0 31%,#a65388 0 32%,#a85187 0 33%,#a95086 0 34%,#ab4e85 0 35%,#ac4d84 0 36%,#ae4b83 0 37%,#af4a82 0 38%,#b14882 0 39%,#b34681 0 40%,#b44580 0 41%,#b6437f 0 42%,#b7417e 0 43%,#b9407d 0 44%,#bb3e7c 0 45%,#bc3c7b 0 46%,#be3b7a 0 47%,#c03979 0 48%,#c23778 0 49%,#c33576 0 50%,#e7f7f8 0 52%,#e8f8f9 0 53%,#e9f8f9 0 55.01%,#eaf8f9 0 57.06%,#ebf9f9 0 58.16%,#ecf9fa 0 60.56%,#edf9fa 0 61.91%,#eef9fa 0 63.41%,#effafa 0 65.12%,#effafb 0 67.12%,#f1fafb 0 69.47%,#f2fbfb 0 72.17%,#f3fbfc 0 75.23%,#f4fcfc 0 78.63%,#f6fcfc 0 82.33%,#f7fdfd 0 86.34%,#f9fdfd 0 90.69%,#fafdfe 0 95.35%,#fbfefe 0)"></i><i style="left:336px;width:13px;background:linear-gradient(#c7edef 5.02%,#cbeef0 0 8.88%,#ceeff1 0 12.54%,#d1f0f2 0 15.8%,#d3f1f3 0 18.71%,#d5f1f3 0 21.22%,#d6f2f3 0 23.33%,#d7f2f4 0 25.08%,#d8f2f4 0 26.64%,#d9f3f4 0 27.99%,#daf3f5 0 30%,#a55489 0 31%,#a65388 0 32%,#a85187 0 33%,#a95086 0 34%,#ab4e85 0 35%,#ac4d84 0 36%,#ae4b83 0 37%,#af4a83 0 38%,#b14882 0 39%,#b24781 0 40%,#b44580 0 41%,#b6437f 0 42%,#b7427e 0 43%,#b9407d 0 44%,#ba3e7c 0 45%,#bc3d7b 0 46%,#be3b7a 0 47%,#c03979 0 48%,#c13778 0 49%,#c33577 0 50%,#e7f7f8 0 52%,#e8f8f8 0 53%,#e9f8f9 0 55.01%,#eaf8f9 0 57.06%,#ebf8f9 0 58.16%,#ebf9f9 0 59.31%,#ecf9fa 0 60.56%,#edf9fa 0 61.91%,#eef9fa 0 63.41%,#eefafa 0 65.12%,#effafb 0 67.12%,#f1fafb 0 69.47%,#f2fbfb 0 72.17%,#f3fbfc 0 75.23%,#f4fcfc 0 78.63%,#f6fcfc 0 82.33%,#f7fdfd 0 86.34%,#f9fdfd 0 90.69%,#fafdfe 0 95.35%,#fbfefe 0)"></i><i style="left:349px;width:13px;background:linear-gradient(#c7edef 5.02%,#cbeef0 0 8.88%,#ceeff1 0 12.54%,#d1f0f2 0 15.8%,#d3f1f3 0 18.71%,#d5f1f3 0 21.22%,#d6f2f3 0 23.33%,#d7f2f4 0 25.08%,#d8f2f4 0 26.64%,#d9f3f4 0 27.99%,#daf3f4 0 29%,#daf3f5 0 30%,#a55589 0 31%,#a65388 0 32%,#a75287 0 33%,#a95086 0 34%,#aa4f85 0 35%,#ac4d85 0 36%,#ad4c84 0 37%,#af4a83 0 38%,#b04982 0 39%,#b24781 0 40%,#b44580 0 41%,#b5447f 0 42%,#b7427e 0 43%,#b8407d 0 44%,#ba3f7c 0 45%,#bc3d7b 0 46%,#bd3b7a 0 47%,#bf3979 0 48%,#c13878 0 49%,#c33677 0 50%,#e7f7f8 0 52%,#e8f8f8 0 53%,#e8f8f9 0 54%,#e9f8f9 0 55.01%,#eaf8f9 0 57.06%,#ebf8f9 0 58.16%,#ebf9f9 0 59.31%,#ecf9fa 0 60.56%,#edf9fa 0 61.91%,#eef9fa 0 63.41%,#eefafa 0 65.12%,#effafb 0 67.12%,#f1fafb 0 69.47%,#f2fbfb 0 72.17%,#f3fbfc 0 75.23%,#f4fcfc 0 78.63%,#f6fcfc 0 82.33%,#f7fdfd 0 86.34%,#f9fdfd 0 90.69%,#fafdfe 0 95.35%,#fbfefe 0)"></i><i style="left:362px;width:12px;background:linear-gradient(#c8edef 5.02%,#cbeef0 0 8.88%,#ceeff1 0 12.54%,#d1f0f2 0 15.8%,#d3f1f3 0 18.71%,#d5f1f3 0 21.22%,#d6f2f3 0 23.33%,#d7f2f4 0 25.08%,#d8f2f4 0 26.64%,#d9f3f4 0 27.99%,#daf3f4 0 29%,#daf3f5 0 30%,#a45589 0 31%,#a65488 0 32%,#a75287 0 33%,#a85187 0 34%,#aa4f86 0 35%,#ab4e85 0 36%,#ad4c84 0 37%,#ae4b83 0 38%,#b04982 0 39%,#b14881 0 40%,#b34680 0 41%,#b4447f 0 42%,#b6437e 0 43%,#b8417d 0 44%,#b93f7c 0 45%,#bb3e7b 0 46%,#bd3c7a 0 47%,#bf3a79 0 48%,#c03878 0 49%,#c23777 0 50%,#e6f7f8 0 51%,#e7f7f8 0 52%,#e8f7f8 0 53%,#e8f8f9 0 54%,#e9f8f9 0 56.01%,#eaf8f9 0 57.06%,#ebf8f9 0 58.16%,#ebf9f9 0 59.31%,#ecf9fa 0 60.56%,#edf9fa 0 63.41%,#eefafa 0 65.12%,#effafb 0 67.12%,#f0fafb 0 69.47%,#f2fbfb 0 72.17%,#f3fbfc 0 75.23%,#f5fcfc 0 78.63%,#f6fcfc 0 82.33%,#f7fdfd 0 86.34%,#f9fdfd 0 90.69%,#fafdfe 0 95.35%,#fbfefe 0)"></i><i style="left:374px;width:13px;background:linear-gradient(#c8edf0 5.02%,#cceef1 0 8.88%,#cfeff1 0 12.54%,#d1f0f2 0 15.8%,#d3f1f3 0 18.71%,#d5f1f3 0 21.22%,#d6f2f3 0 23.33%,#d7f2f4 0 25.08%,#d8f2f4 0 26.64%,#d9f3f4 0 29%,#daf3f5 0 30%,#a45689 0 31%,#a55489 0 32%,#a65388 0 33%,#a85187 0 34%,#a95086 0 35%,#ab4f85 0 36%,#ac4d84 0 37%,#ae4c84 0 38%,#af4a83 0 39%,#b14882 0 40%,#b24781 0 41%,#b44580 0 42%,#b5447f 0 43%,#b7427e 0 44%,#b8407d 0 45%,#ba3f7c 0 46%,#bc3d7b 0 47%,#be3b7a 0 48%,#bf3979 0 49%,#c13778 0 50%,#e6f7f8 0 51%,#e7f7f8 0 53%,#e8f8f8 0 54%,#e9f8f9 0 56.01%,#eaf8f9 0 58.16%,#ebf9f9 0 59.31%,#ecf9fa 0 61.91%,#edf9fa 0 63.41%,#eefafa 0 65.12%,#effafb 0 67.12%,#f0fafb 0 69.47%,#f2fbfb 0 72.17%,#f3fbfc 0 75.23%,#f5fcfc 0 78.63%,#f6fcfc 0 82.33%,#f7fdfd 0 86.34%,#f9fdfd 0 90.69%,#fafdfe 0 95.35%,#fbfefe 0)"></i><i style="left:387px;width:13px;background:linear-gradient(#c9edf0 5.02%,#cceff1 0 8.88%,#cfeff1 0 12.54%,#d1f0f2 0 15.8%,#d3f1f3 0 18.71%,#d5f1f3 0 21.22%,#d6f2f3 0 23.33%,#d7f2f4 0 25.08%,#d8f2f4 0 26.64%,#d9f3f4 0 29%,#daf3f4 0 30%,#a3568a 0 31%,#a45589 0 32%,#a65488 0 33%,#a75288 0 34%,#a85187 0 35%,#aa4f86 0 36%,#ab4e85 0 37%,#ad4d84 0 38%,#ae4b83 0 39%,#af4a82 0 40%,#b14882 0 41%,#b24681 0 42%,#b44580 0 43%,#b6437f 0 44%,#b7427e 0 45%,#b9407d 0 46%,#bb3e7c 0 47%,#bc3c7b 0 48%,#be3b7a 0 49%,#c03978 0 50%,#e6f7f8 0 52%,#e7f7f8 0 53%,#e8f7f8 0 54%,#e8f8f9 0 55.01%,#e9f8f9 0 57.06%,#eaf8f9 0 58.16%,#ebf8f9 0 59.31%,#ebf9f9 0 60.56%,#ecf9fa 0 61.91%,#edf9fa 0 63.41%,#eefafa 0 65.12%,#effafa 0 67.12%,#f0fafb 0 69.47%,#f2fbfb 0 72.17%,#f3fbfc 0 75.23%,#f5fcfc 0 78.63%,#f6fcfc 0 82.33%,#f8fdfd 0 86.34%,#f9fdfd 0 90.69%,#fafdfe 0 95.35%,#fbfefe 0)"></i><i style="left:400px;width:13px;background:linear-gradient(#c9eef0 5.02%,#cdeff1 0 8.88%,#cff0f2 0 12.54%,#d2f0f2 0 15.8%,#d3f1f3 0 18.71%,#d5f1f3 0 21.22%,#d6f2f3 0 23.33%,#d7f2f4 0 26.64%,#d8f2f4 0 27.99%,#d9f3f4 0 30%,#a2578a 0 31%,#a3568a 0 32%,#a55589 0 33%,#a65388 0 34%,#a75287 0 35%,#a85187 0 36%,#aa4f86 0 37%,#ab4e85 0 38%,#ad4d84 0 39%,#ae4b83 0 40%,#af4a82 0 41%,#b14882 0 42%,#b34681 0 43%,#b44580 0 44%,#b6437f 0 45%,#b7417e 0 46%,#b9407d 0 47%,#bb3e7c 0 48%,#bd3c7a 0 49%,#be3a79 0 50%,#e5f7f8 0 51%,#e6f7f8 0 53%,#e7f7f8 0 54%,#e8f7f8 0 55.01%,#e8f8f9 0 56.01%,#e9f8f9 0 57.06%,#eaf8f9 0 59.31%,#ebf9f9 0 60.56%,#ecf9fa 0 61.91%,#edf9fa 0 63.41%,#eef9fa 0 65.12%,#effafa 0 67.12%,#f0fafb 0 69.47%,#f1fbfb 0 72.17%,#f3fbfc 0 75.23%,#f5fcfc 0 78.63%,#f6fcfc 0 82.33%,#f8fdfd 0 86.34%,#f9fdfd 0 90.69%,#fafdfe 0 95.35%,#fbfefe 0)"></i><i style="left:413px;width:13px;background:linear-gradient(#caeef0 5.02%,#ceeff1 0 8.88%,#d0f0f2 0 12.54%,#d2f0f2 0 15.8%,#d3f1f3 0 18.71%,#d5f1f3 0 21.22%,#d6f2f3 0 23.33%,#d6f2f4 0 25.08%,#d7f2f4 0 26.64%,#d8f2f4 0 29%,#d9f3f4 0 30%,#a1588b 0 31%,#a2578a 0 32%,#a3568a 0 33%,#a55589 0 34%,#a65488 0 35%,#a75288 0 36%,#a85187 0 37%,#aa5086 0 38%,#ab4e85 0 39%,#ac4d84 0 40%,#ae4b83 0 41%,#af4a83 0 42%,#b14882 0 43%,#b24781 0 44%,#b44580 0 45%,#b6437f 0 46%,#b7427e 0 47%,#b9407d 0 48%,#bb3e7c 0 49%,#bd3c7a 0 50%,#e4f6f8 0 51%,#e5f7f8 0 52%,#e6f7f8 0 54%,#e7f7f8 0 55.01%,#e8f7f8 0 56.01%,#e8f8f9 0 57.06%,#e9f8f9 0 58.16%,#eaf8f9 0 59.31%,#ebf8f9 0 60.56%,#ecf9fa 0 63.41%,#edf9fa 0 65.12%,#effafa 0 67.12%,#f0fafb 0 69.47%,#f1fbfb 0 72.17%,#f3fbfc 0 75.23%,#f4fcfc 0 78.63%,#f6fcfc 0 82.33%,#f8fdfd 0 86.34%,#f9fdfd 0 90.69%,#fafefe 0 95.35%,#fcfefe 0)"></i><i style="left:426px;width:13px;background:linear-gradient(#cbeef0 5.02%,#cfeff1 0 8.88%,#d1f0f2 0 12.54%,#d2f1f2 0 15.8%,#d3f1f3 0 18.71%,#d4f1f3 0 21.22%,#d5f2f3 0 23.33%,#d6f2f3 0 25.08%,#d7f2f4 0 27.99%,#d8f2f4 0 30%,#a05a8c 0 31%,#a1598b 0 32%,#a2588b 0 33%,#a3568a 0 34%,#a45589 0 35%,#a55489 0 36%,#a65388 0 37%,#a75287 0 38%,#a95086 0 39%,#aa4f86 0 40%,#ab4e85 0 41%,#ad4c84 0 42%,#ae4b83 0 43%,#b04982 0 44%,#b24781 0 45%,#b34680 0 46%,#b5447f 0 47%,#b7427e 0 48%,#b9407d 0 49%,#ba3e7c 0 50%,#e4f6f7 0 52%,#e5f7f8 0 53%,#e6f7f8 0 55.01%,#e7f7f8 0 56.01%,#e8f8f8 0 57.06%,#e9f8f9 0 59.31%,#eaf8f9 0 60.56%,#ebf9f9 0 61.91%,#ecf9fa 0 63.41%,#edf9fa 0 65.12%,#eefafa 0 67.12%,#f0fafb 0 69.47%,#f1fbfb 0 72.17%,#f3fbfc 0 75.23%,#f4fcfc 0 78.63%,#f6fcfd 0 82.33%,#f8fdfd 0 86.34%,#f9fdfd 0 90.69%,#fbfefe 0 95.35%,#fcfefe 0)"></i><i style="left:439px;width:12px;background:linear-gradient(#cdeff1 5.02%,#d0f0f2 0 8.88%,#d1f0f2 0 12.54%,#d3f1f3 0 15.8%,#d4f1f3 0 21.22%,#d5f1f3 0 23.33%,#d5f2f3 0 25.08%,#d6f2f3 0 26.64%,#d6f2f4 0 27.99%,#d7f2f4 0 30%,#9e5b8d 0 31%,#9f5a8c 0 32%,#a05a8c 0 33%,#a1598b 0 34%,#a2588b 0 35%,#a3578a 0 36%,#a45689 0 37%,#a55489 0 38%,#a65388 0 39%,#a75287 0 40%,#a95086 0 41%,#aa4f86 0 42%,#ac4e85 0 43%,#ad4c84 0 44%,#af4a83 0 45%,#b04982 0 46%,#b24781 0 47%,#b44580 0 48%,#b6437f 0 49%,#b8417d 0 50%,#e3f6f7 0 52%,#e4f6f7 0 53%,#e5f7f8 0 54%,#e6f7f8 0 56.01%,#e7f7f8 0 57.06%,#e8f8f8 0 58.16%,#e9f8f9 0 59.31%,#eaf8f9 0 61.91%,#ebf9f9 0 63.41%,#edf9fa 0 65.12%,#eef9fa 0 67.12%,#effafb 0 69.47%,#f1fafb 0 72.17%,#f3fbfc 0 75.23%,#f4fcfc 0 78.63%,#f6fcfd 0 82.33%,#f8fdfd 0 86.34%,#f9fdfd 0 90.69%,#fbfefe 0 95.35%,#fcfefe 0)"></i><i style="left:451px;width:13px;background:linear-gradient(#cfeff1 5.02%,#d1f0f2 0 8.88%,#d2f1f2 0 12.54%,#d3f1f3 0 15.8%,#d4f1f3 0 23.33%,#d5f1f3 0 26.64%,#d5f2f3 0 27.99%,#d6f2f3 0 30%,#9c5d8e 0 31%,#9d5d8e 0 32%,#9d5c8d 0 33%,#9e5b8d 0 34%,#9f5a8c 0 35%,#a05a8c 0 36%,#a1598b 0 37%,#a2578b 0 38%,#a3568a 0 39%,#a45589 0 40%,#a55488 0 41%,#a75288 0 42%,#a85187 0 43%,#aa4f86 0 44%,#ab4e85 0 45%,#ad4c84 0 46%,#af4a83 0 47%,#b14882 0 48%,#b34680 0 49%,#b5447f 0 50%,#e1f5f7 0 51%,#e2f6f7 0 52%,#e3f6f7 0 53%,#e4f6f7 0 54%,#e4f6f8 0 55.01%,#e5f7f8 0 56.01%,#e6f7f8 0 57.06%,#e7f7f8 0 58.16%,#e8f8f8 0 59.31%,#e9f8f9 0 60.56%,#eaf8f9 0 61.91%,#ebf9f9 0 63.41%,#ecf9fa 0 65.12%,#edf9fa 0 67.12%,#effafa 0 69.47%,#f1fafb 0 72.17%,#f3fbfb 0 75.23%,#f4fcfc 0 78.63%,#f6fcfd 0 82.33%,#f8fdfd 0 86.34%,#fafdfe 0 90.69%,#fbfefe 0 95.35%,#fcfefe 0)"></i><i style="left:464px;width:13px;background:linear-gradient(#d1f0f2 5.02%,#d3f1f2 0 8.88%,#d3f1f3 0 12.54%,#d4f1f3 0 30%,#9a6090 0 31%,#9a5f8f 0 32%,#9b5f8f 0 33%,#9b5e8f 0 34%,#9c5e8e 0 35%,#9c5d8e 0 36%,#9d5c8d 0 37%,#9e5b8d 0 38%,#9f5a8c 0 39%,#a0598c 0 40%,#a1588b 0 41%,#a3578a 0 42%,#a45589 0 43%,#a65488 0 44%,#a75287 0 45%,#a95086 0 46%,#ab4e85 0 47%,#ad4c84 0 48%,#af4a83 0 49%,#b14881 0 50%,#e0f5f6 0 51%,#e1f5f6 0 52%,#e1f5f7 0 53%,#e2f6f7 0 54%,#e3f6f7 0 55.01%,#e4f6f7 0 56.01%,#e5f7f8 0 57.06%,#e6f7f8 0 58.16%,#e7f7f8 0 59.31%,#e8f8f8 0 60.56%,#e9f8f9 0 61.91%,#eaf8f9 0 63.41%,#ecf9fa 0 65.12%,#edf9fa 0 67.12%,#effafa 0 69.47%,#f1fafb 0 72.17%,#f2fbfb 0 75.23%,#f4fcfc 0 78.63%,#f6fcfd 0 82.33%,#f8fdfd 0 86.34%,#fafdfe 0 90.69%,#fbfefe 0 95.35%,#fcfefe 0)"></i><i style="left:477px;width:13px;background:linear-gradient(#d3f1f3 5.02%,#d4f1f3 0 8.88%,#d5f1f3 0 12.54%,#d4f1f3 0 18.71%,#d3f1f3 0 23.33%,#d3f1f2 0 25.08%,#d2f1f2 0 30%,#976391 0 33%,#976291 0 34%,#986291 0 35%,#986190 0 36%,#996190 0 37%,#9a6090 0 38%,#9b5f8f 0 39%,#9c5e8e 0 40%,#9d5d8e 0 41%,#9e5b8d 0 42%,#9f5a8c 0 43%,#a1588b 0 44%,#a3578a 0 45%,#a45589 0 46%,#a65388 0 47%,#a85187 0 48%,#ab4f85 0 49%,#ad4c84 0 50%,#def4f6 0 51%,#dff5f6 0 52%,#e0f5f6 0 53%,#e1f5f6 0 54%,#e2f5f7 0 55.01%,#e3f6f7 0 56.01%,#e4f6f7 0 57.06%,#e5f6f8 0 58.16%,#e6f7f8 0 59.31%,#e7f7f8 0 60.56%,#e8f8f9 0 61.91%,#e9f8f9 0 63.41%,#ebf8f9 0 65.12%,#ecf9fa 0 67.12%,#eefafa 0 69.47%,#f0fafb 0 72.17%,#f2fbfb 0 75.23%,#f4fcfc 0 78.63%,#f6fcfd 0 82.33%,#f8fdfd 0 86.34%,#fafdfe 0 90.69%,#fcfefe 0 95.35%,#fdfefe 0)"></i><i style="left:490px;width:13px;background:linear-gradient(#d6f2f3 5.02%,#d6f2f4 0 8.88%,#d6f2f3 0 12.54%,#d5f1f3 0 15.8%,#d4f1f3 0 18.71%,#d3f1f2 0 21.22%,#d2f0f2 0 23.33%,#d1f0f2 0 26.64%,#d0f0f2 0 30%,#936793 0 31%,#936794 0 35%,#936693 0 36%,#946693 0 37%,#946593 0 38%,#956592 0 39%,#966492 0 40%,#976391 0 41%,#986190 0 42%,#9a6090 0 43%,#9b5e8f 0 44%,#9d5c8e 0 45%,#9f5b8c 0 46%,#a1588b 0 47%,#a3568a 0 48%,#a65488 0 49%,#a85187 0 50%,#dbf3f5 0 51%,#dcf4f5 0 52%,#ddf4f6 0 53%,#dff5f6 0 54%,#e0f5f6 0 55.01%,#e1f5f6 0 56.01%,#e2f6f7 0 57.06%,#e3f6f7 0 58.16%,#e4f6f7 0 59.31%,#e6f7f8 0 60.56%,#e7f7f8 0 61.91%,#e8f8f9 0 63.41%,#eaf8f9 0 65.12%,#ecf9fa 0 67.12%,#eef9fa 0 69.47%,#f0fafb 0 72.17%,#f2fbfb 0 75.23%,#f4fcfc 0 78.63%,#f7fcfd 0 82.33%,#f9fdfd 0 86.34%,#fafdfe 0 90.69%,#fcfefe 0 95.35%,#fdfefe 0)"></i><i style="left:503px;width:13px;background:linear-gradient(#d9f3f4 8.88%,#d7f2f4 0 12.54%,#d5f2f3 0 15.8%,#d3f1f3 0 18.71%,#d2f0f2 0 21.22%,#d0f0f2 0 23.33%,#cfeff1 0 25.08%,#ceeff1 0 27.99%,#cdeff1 0 30%,#8f6b96 0 31%,#8e6b96 0 32%,#8e6c97 0 34%,#8d6c97 0 36%,#8e6c97 0 38%,#8f6b96 0 39%,#8f6a96 0 40%,#906995 0 41%,#926894 0 42%,#936794 0 43%,#956593 0 44%,#966391 0 45%,#996190 0 46%,#9b5f8f 0 47%,#9d5c8d 0 48%,#a05a8c 0 49%,#a3578a 0 50%,#d8f3f4 0 51%,#daf3f4 0 52%,#dbf3f5 0 53%,#dcf4f5 0 54%,#ddf4f6 0 55.01%,#dff5f6 0 56.01%,#e0f5f6 0 57.06%,#e1f5f7 0 58.16%,#e3f6f7 0 59.31%,#e4f6f7 0 60.56%,#e6f7f8 0 61.91%,#e8f7f8 0 63.41%,#e9f8f9 0 65.12%,#ebf9f9 0 67.12%,#eef9fa 0 69.47%,#f0fafb 0 72.17%,#f2fbfb 0 75.23%,#f5fcfc 0 78.63%,#f7fcfd 0 82.33%,#f9fdfd 0 86.34%,#fbfefe 0 90.69%,#fcfefe 0 95.35%,#fdfefe 0)"></i><i style="left:516px;width:12px;background:linear-gradient(#dcf4f5 5.02%,#dbf3f5 0 8.88%,#d9f3f4 0 12.54%,#d6f2f3 0 15.8%,#d3f1f3 0 18.71%,#d0f0f2 0 21.22%,#ceeff1 0 23.33%,#cdeff1 0 25.08%,#cbeef0 0 26.64%,#caeef0 0 27.99%,#c9eef0 0 30%,#8a7099 0 31%,#89719a 0 32%,#88729a 0 33%,#87739b 0 35%,#86749b 0 38%,#87739b 0 40%,#88729a 0 41%,#8a7099 0 42%,#8b6f98 0 43%,#8d6d97 0 44%,#8f6b96 0 45%,#916995 0 46%,#946693 0 47%,#966392 0 48%,#996090 0 49%,#9d5d8e 0 50%,#d5f1f3 0 51%,#d6f2f3 0 52%,#d8f2f4 0 53%,#d9f3f4 0 54%,#dbf3f5 0 55.01%,#dcf4f5 0 56.01%,#def4f6 0 57.06%,#dff5f6 0 58.16%,#e1f5f7 0 59.31%,#e3f6f7 0 60.56%,#e5f6f8 0 61.91%,#e6f7f8 0 63.41%,#e9f8f9 0 65.12%,#ebf8f9 0 67.12%,#edf9fa 0 69.47%,#f0fafb 0 72.17%,#f2fbfb 0 75.23%,#f5fcfc 0 78.63%,#f7fcfd 0 82.33%,#f9fdfd 0 86.34%,#fbfefe 0 90.69%,#fcfefe 0 95.35%,#fdfeff 0)"></i><i style="left:528px;width:13px;background:linear-gradient(#dff5f6 5.02%,#ddf4f5 0 8.88%,#daf3f5 0 12.54%,#d6f2f3 0 15.8%,#d2f1f2 0 18.71%,#cfeff1 0 21.22%,#cceff1 0 23.33%,#caeef0 0 25.08%,#c8edef 0 26.64%,#c6edef 0 27.99%,#c5ecef 0 29%,#c4ecee 0 30%,#85759c 0 31%,#83779d 0 32%,#81799e 0 33%,#807a9f 0 34%,#7f7ba0 0 35%,#7e7ca0 0 36%,#7e7da0 0 37%,#7d7da1 0 38%,#7e7da0 0 39%,#7e7ca0 0 40%,#7f7ba0 0 41%,#807a9f 0 42%,#82789e 0 43%,#84779d 0 44%,#86749b 0 45%,#89719a 0 46%,#8b6e98 0 47%,#8f6b96 0 48%,#926894 0 49%,#966492 0 50%,#d0f0f2 0 51%,#d2f0f2 0 52%,#d4f1f3 0 53%,#d6f2f3 0 54%,#d7f2f4 0 55.01%,#d9f3f4 0 56.01%,#dbf3f5 0 57.06%,#ddf4f5 0 58.16%,#dff5f6 0 59.31%,#e1f5f7 0 60.56%,#e3f6f7 0 61.91%,#e5f7f8 0 63.41%,#e8f8f8 0 65.12%,#eaf8f9 0 67.12%,#edf9fa 0 69.47%,#f0fafb 0 72.17%,#f3fbfc 0 75.23%,#f5fcfc 0 78.63%,#f7fdfd 0 82.33%,#f9fdfd 0 86.34%,#fbfefe 0 90.69%,#fcfefe 0 95.35%,#fdfeff 0)"></i><i style="left:541px;width:13px;background:linear-gradient(#e3f6f7 5.02%,#e0f5f6 0 8.88%,#dcf4f5 0 12.54%,#d7f2f4 0 15.8%,#d2f0f2 0 18.71%,#ceeff1 0 21.22%,#c9eef0 0 23.33%,#c6edef 0 25.08%,#c3ecee 0 26.64%,#c1ebed 0 27.99%,#bfeaed 0 29%,#beeaed 0 30%,#7f7ba0 0 31%,#7c7ea1 0 32%,#7a81a3 0 33%,#7883a4 0 34%,#7685a5 0 35%,#7486a6 0 36%,#7387a7 0 37%,#7388a7 0 40%,#7487a6 0 41%,#7586a6 0 42%,#7784a5 0 43%,#7981a3 0 44%,#7c7fa2 0 45%,#7f7ca0 0 46%,#82789e 0 47%,#86749b 0 48%,#8a7099 0 49%,#8f6b96 0 50%,#caeef0 0 51%,#cdeff1 0 52%,#cfeff1 0 53%,#d1f0f2 0 54%,#d4f1f3 0 55.01%,#d6f2f3 0 56.01%,#d8f2f4 0 57.06%,#daf3f5 0 58.16%,#ddf4f5 0 59.31%,#dff5f6 0 60.56%,#e2f6f7 0 61.91%,#e5f6f8 0 63.41%,#e7f7f8 0 65.12%,#eaf8f9 0 67.12%,#edf9fa 0 69.47%,#f0fafb 0 72.17%,#f3fbfc 0 75.23%,#f6fcfc 0 78.63%,#f8fdfd 0 82.33%,#fafdfe 0 86.34%,#fbfefe 0 90.69%,#fdfefe 0 95.35%,#fdfeff 0)"></i><i style="left:554px;width:13px;background:linear-gradient(#e5f7f8 5.02%,#e2f6f7 0 8.88%,#ddf4f6 0 12.54%,#d8f2f4 0 15.8%,#d2f1f2 0 18.71%,#cceff1 0 21.22%,#c7edef 0 23.33%,#c2ebee 0 25.08%,#beeaed 0 26.64%,#bbe9ec 0 27.99%,#b8e8eb 0 29%,#b6e7ea 0 30%,#7982a3 0 31%,#7586a6 0 32%,#7189a8 0 33%,#6e8daa 0 34%,#6b8fab 0 35%,#6992ad 0 36%,#6794ae 0 37%,#6695af 0 40%,#6694ae 0 41%,#6893ae 0 42%,#6a91ac 0 43%,#6d8eab 0 44%,#708ba9 0 45%,#7487a6 0 46%,#7882a4 0 47%,#7d7da1 0 48%,#82789e 0 49%,#88729a 0 50%,#c3ecee 0 51%,#c6edef 0 52%,#c9edf0 0 53%,#cceef1 0 54%,#cfeff1 0 55.01%,#d2f0f2 0 56.01%,#d5f1f3 0 57.06%,#d8f2f4 0 58.16%,#dbf3f5 0 59.31%,#def4f6 0 60.56%,#e1f5f6 0 61.91%,#e4f6f7 0 63.41%,#e7f7f8 0 65.12%,#eaf8f9 0 67.12%,#eef9fa 0 69.47%,#f1fafb 0 72.17%,#f4fbfc 0 75.23%,#f7fcfd 0 78.63%,#f9fdfd 0 82.33%,#fafefe 0 86.34%,#fcfefe 0 90.69%,#fdfefe 0)"></i><i style="left:567px;width:13px;background:linear-gradient(#e7f7f8 5.02%,#e4f6f7 0 8.88%,#e0f5f6 0 12.54%,#daf3f5 0 15.8%,#d3f1f3 0 18.71%,#cceff1 0 21.22%,#c5ecef 0 23.33%,#bfeaed 0 25.08%,#b9e8eb 0 26.64%,#b3e7ea 0 27.99%,#afe5e9 0 29%,#ace4e8 0 30%,#7387a7 0 31%,#6e8daa 0 32%,#6992ad 0 33%,#6497b0 0 34%,#609bb2 0 35%,#5c9fb5 0 36%,#59a2b6 0 37%,#58a4b7 0 38%,#56a5b8 0 40%,#57a5b8 0 41%,#58a3b7 0 42%,#5ba0b5 0 43%,#5e9db3 0 44%,#6299b1 0 45%,#6794ae 0 46%,#6d8eaa 0 47%,#7387a7 0 48%,#7a80a2 0 49%,#82799e 0 50%,#b9e8eb 0 51%,#bdeaec 0 52%,#c1ebee 0 53%,#c5ecef 0 54%,#c9eef0 0 55.01%,#cdeff1 0 56.01%,#d1f0f2 0 57.06%,#d5f1f3 0 58.16%,#d8f3f4 0 59.31%,#dcf4f5 0 60.56%,#e0f5f6 0 61.91%,#e4f6f7 0 63.41%,#e7f7f8 0 65.12%,#ebf9f9 0 67.12%,#effafa 0 69.47%,#f2fbfb 0 72.17%,#f5fcfc 0 75.23%,#f7fdfd 0 78.63%,#f9fdfd 0 82.33%,#fbfefe 0 86.34%,#fcfefe 0 90.69%,#fdfefe 0)"></i><i style="left:580px;width:13px;background:linear-gradient(#e8f8f9 5.02%,#e6f7f8 0 8.88%,#e3f6f7 0 12.54%,#ddf4f6 0 15.8%,#d6f2f3 0 18.71%,#ceeff1 0 21.22%,#c4ecee 0 23.33%,#bbe9ec 0 25.08%,#b3e6ea 0 26.64%,#abe4e7 0 27.99%,#a5e2e6 0 29%,#9fe0e4 0 30%,#708ba9 0 31%,#6893ae 0 32%,#609bb2 0 33%,#59a2b6 0 34%,#53a8ba 0 35%,#4eadbd 0 36%,#4ab2c0 0 37%,#47b5c2 0 38%,#45b7c3 0 39%,#44b8c3 0 40%,#45b7c3 0 41%,#47b5c2 0 42%,#4ab2c0 0 43%,#4eadbd 0 44%,#54a8ba 0 45%,#5aa1b6 0 46%,#6299b1 0 47%,#6b90ac 0 48%,#7487a6 0 49%,#7e7da0 0 50%,#ace4e8 0 51%,#b1e6e9 0 52%,#b7e8eb 0 53%,#bdeaec 0 54%,#c2ebee 0 55.01%,#c8edef 0 56.01%,#cdeff1 0 57.06%,#d2f0f2 0 58.16%,#d7f2f4 0 59.31%,#dbf3f5 0 60.56%,#e0f5f6 0 61.91%,#e4f6f7 0 63.41%,#e8f8f9 0 65.12%,#ecf9fa 0 67.12%,#f0fafb 0 69.47%,#f4fbfc 0 72.17%,#f6fcfd 0 75.23%,#f9fdfd 0 78.63%,#fafdfe 0 82.33%,#fbfefe 0 86.34%,#fcfefe 0 90.69%,#fdfefe 0)"></i><i style="left:593px;width:12px;background:linear-gradient(#e8f8f9 8.88%,#e6f7f8 0 12.54%,#e2f6f7 0 15.8%,#dbf3f5 0 18.71%,#d1f0f2 0 21.22%,#c6ecef 0 23.33%,#b9e8eb 0 25.08%,#ade5e8 0 26.64%,#a2e1e5 0 27.99%,#98dee2 0 29%,#8fdbdf 0 30%,#7189a8 0 31%,#6695af 0 32%,#5aa1b6 0 33%,#50abbc 0 34%,#47b4c1 0 35%,#40bcc6 0 36%,#3fc1c9 0 37%,#45c3cb 0 38%,#49c4cc 0 39%,#4ac5cc 0 40%,#4ac4cc 0 41%,#47c3cb 0 42%,#41c2ca 0 43%,#3ebec7 0 44%,#45b7c3 0 45%,#4eadbd 0 46%,#59a3b7 0 47%,#6497b0 0 48%,#718aa8 0 49%,#7f7ca0 0 50%,#9adee2 0 51%,#a3e1e5 0 52%,#abe4e7 0 53%,#b3e7ea 0 54%,#bbe9ec 0 55.01%,#c3ebee 0 56.01%,#caeef0 0 57.06%,#d0f0f2 0 58.16%,#d6f2f4 0 59.31%,#dcf4f5 0 60.56%,#e2f5f7 0 61.91%,#e6f7f8 0 63.41%,#ebf9f9 0 65.12%,#effafa 0 67.12%,#f3fbfb 0 69.47%,#f6fcfc 0 72.17%,#f8fdfd 0 75.23%,#fafdfd 0 78.63%,#fbfefe 0 82.33%,#fcfefe 0 90.69%,#fdfefe 0)"></i><i style="left:605px;width:13px;background:linear-gradient(#e8f8f9 5.02%,#eaf8f9 0 8.88%,#e9f8f9 0 12.54%,#e7f7f8 0 15.8%,#e2f6f7 0 18.71%,#d8f3f4 0 21.22%,#cbeef0 0 23.33%,#bbe9ec 0 25.08%,#a9e3e7 0 26.64%,#97dde2 0 27.99%,#88d9dd 0 29%,#7ad4da 0 30%,#7b7fa2 0 31%,#6b90ac 0 32%,#5ba0b5 0 33%,#4cb0be 0 34%,#3ebec7 0 35%,#47c4cb 0 36%,#52c7ce 0 37%,#5acad0 0 38%,#5fcbd2 0 39%,#61ccd2 0 40%,#60ccd2 0 41%,#5dcbd1 0 42%,#56c8cf 0 43%,#4dc5cd 0 44%,#40c1c9 0 45%,#45b7c3 0 46%,#54a7ba 0 47%,#6596b0 0 48%,#7685a5 0 49%,#89719a 0 50%,#83d7dc 0 51%,#90dbe0 0 52%,#9ddfe3 0 53%,#aae3e7 0 54%,#b6e7ea 0 55.01%,#c1ebed 0 56.01%,#caeef0 0 57.06%,#d3f1f3 0 58.16%,#daf3f5 0 59.31%,#e1f5f7 0 60.56%,#e7f7f8 0 61.91%,#ebf9f9 0 63.41%,#effafb 0 65.12%,#f3fbfc 0 67.12%,#f6fcfc 0 69.47%,#f8fdfd 0 72.17%,#f9fdfd 0 75.23%,#fafefe 0 78.63%,#fbfefe 0 82.33%,#fcfefe 0 90.69%,#fdfefe 0)"></i><i style="left:618px;width:13px;background:linear-gradient(#e8f8f9 5.02%,#eaf8f9 0 8.88%,#ebf9f9 0 15.8%,#e9f8f9 0 18.71%,#e4f6f7 0 21.22%,#daf3f5 0 23.33%,#caeef0 0 25.08%,#b3e6ea 0 26.64%,#94dce1 0 27.99%,#73d2d7 0 29%,#5dcbd1 0 30%,#946693 0 31%,#7982a3 0 32%,#5c9fb5 0 33%,#46b6c2 0 34%,#44c3ca 0 35%,#52c7ce 0 36%,#5bcad1 0 37%,#61ccd2 0 38%,#64cdd3 0 39%,#65cdd4 0 40%,#64cdd3 0 41%,#61ccd3 0 42%,#5dcbd1 0 43%,#55c8cf 0 44%,#4bc5cc 0 45%,#3dbfc8 0 46%,#4eaebd 0 47%,#6695af 0 48%,#84769c 0 49%,#a1588b 0 50%,#63cdd3 0 51%,#79d4d9 0 52%,#95dde1 0 53%,#ade5e8 0 54%,#c0ebed 0 55.01%,#ceeff1 0 56.01%,#d9f3f4 0 57.06%,#e1f5f7 0 58.16%,#e8f7f8 0 59.31%,#edf9fa 0 60.56%,#f0fafb 0 61.91%,#f3fbfc 0 63.41%,#f6fcfc 0 65.12%,#f7fdfd 0 67.12%,#f9fdfd 0 69.47%,#fafdfd 0 72.17%,#fafdfe 0 75.23%,#fbfefe 0 82.33%,#fcfefe 0 90.69%,#fdfefe 0 95.35%,#fdfeff 0)"></i><i style="left:631px;width:15px;background:linear-gradient(#e8f8f9 5.02%,#eaf8f9 0 8.88%,#ebf8f9 0 12.54%,#ecf9fa 0 15.8%,#edf9fa 0 18.71%,#eef9fa 0 23.33%,#ecf9fa 0 25.08%,#e5f7f8 0 26.64%,#d5f2f3 0 27.99%,#b4e7ea 0 29%,#65cdd4 0 30%,#a45589 0 31%,#6b90ac 0 32%,#5ba0b5 0 33%,#58a3b7 0 34%,#5aa1b6 0 35%,#5e9eb4 0 36%,#619ab2 0 37%,#6497b0 0 38%,#6695af 0 39%,#6893ae 0 40%,#6992ad 0 42%,#6893ae 0 43%,#6695af 0 44%,#6497b0 0 45%,#6299b1 0 47%,#6695af 0 48%,#7783a4 0 49%,#b24781 0 50%,#6acfd5 0 51%,#b9e8eb 0 52%,#d8f2f4 0 53%,#e7f7f8 0 54%,#eefafa 0 55.01%,#f2fbfb 0 56.01%,#f5fcfc 0 57.06%,#f6fcfd 0 58.16%,#f7fcfd 0 59.31%,#f8fdfd 0 65.12%,#f9fdfd 0 72.17%,#fafdfe 0 78.63%,#fbfefe 0 82.33%,#fcfefe 0 90.69%,#fdfefe 0 95.35%,#fdfeff 0)"></i></u></div>
<div class="tw" style="left:117.0px;top:22.6px;width:664.9px;height:271.2px"><span class="tk" style="left:4.2px;top:263.8px">0</span><span class="tk" style="left:134.3px;top:263.8px">10</span><span class="tk" style="left:264.4px;top:263.8px">20</span><span class="tk" style="left:394.5px;top:263.8px">30</span><span class="tk" style="left:524.6px;top:263.8px">40</span><span class="tk" style="left:654.7px;top:263.8px">50</span><span class="tk tky" style="left:-3.3px;top:259.6px">0</span><span class="tk tky" style="left:-3.3px;top:194.5px">5</span><span class="tk tky" style="left:-3.3px;top:129.4px">10</span><span class="tk tky" style="left:-3.3px;top:64.4px">15</span><span class="tk tky" style="left:-3.3px;top:-0.7px">20</span><span class="tk tx" style="left:304.5px;top:266.8px;width:60px">horizontal [nm]</span><span class="tk tx tv" style="left:-28.3px;top:129.4px;width:60px">vertical [nm]</span></div><b class="tm" style="left:255.8px;top:283.6px;width:1px;height:1.6px"></b><b class="tm" style="left:255.8px;top:24.9px;width:1px;height:1.6px"></b><b class="tm" style="left:385.9px;top:283.6px;width:1px;height:1.6px"></b><b class="tm" style="left:385.9px;top:24.9px;width:1px;height:1.6px"></b><b class="tm" style="left:516.0px;top:283.6px;width:1px;height:1.6px"></b><b class="tm" style="left:516.0px;top:24.9px;width:1px;height:1.6px"></b><b class="tm" style="left:646.1px;top:283.6px;width:1px;height:1.6px"></b><b class="tm" style="left:646.1px;top:24.9px;width:1px;height:1.6px"></b><b class="tm" style="left:126.2px;top:219.6px;width:1.6px;height:1px"></b><b class="tm" style="left:775.1px;top:219.6px;width:1.6px;height:1px"></b><b class="tm" style="left:126.2px;top:154.5px;width:1.6px;height:1px"></b><b class="tm" style="left:775.1px;top:154.5px;width:1.6px;height:1px"></b><b class="tm" style="left:126.2px;top:89.5px;width:1.6px;height:1px"></b><b class="tm" style="left:775.1px;top:89.5px;width:1.6px;height:1px"></b>
<div class="tw" style="left:901.4px;top:33.2px;width:666.1px;height:270.4px"><span class="tk" style="left:8.4px;top:265.2px">0</span><span class="tk" style="left:138.5px;top:265.2px">10</span><span class="tk" style="left:268.6px;top:265.2px">20</span><span class="tk" style="left:398.6px;top:265.2px">30</span><span class="tk" style="left:528.7px;top:265.2px">40</span><span class="tk" style="left:658.8px;top:265.2px">50</span><span class="tk tky" style="left:0.9px;top:261.0px">0</span><span class="tk tky" style="left:0.9px;top:195.8px">5</span><span class="tk tky" style="left:0.9px;top:130.6px">10</span><span class="tk tky" style="left:0.9px;top:65.4px">15</span><span class="tk tky" style="left:0.9px;top:0.2px">20</span><span class="tk tx" style="left:308.6px;top:268.2px;width:60px">horizontal [nm]</span><span class="tk tx tv" style="left:-24.1px;top:130.6px;width:60px">vertical [nm]</span></div><b class="tm" style="left:1044.4px;top:295.6px;width:1px;height:1.6px"></b><b class="tm" style="left:1044.4px;top:36.4px;width:1px;height:1.6px"></b><b class="tm" style="left:1174.5px;top:295.6px;width:1px;height:1.6px"></b><b class="tm" style="left:1174.5px;top:36.4px;width:1px;height:1.6px"></b><b class="tm" style="left:1304.5px;top:295.6px;width:1px;height:1.6px"></b><b class="tm" style="left:1304.5px;top:36.4px;width:1px;height:1.6px"></b><b class="tm" style="left:1434.6px;top:295.6px;width:1px;height:1.6px"></b><b class="tm" style="left:1434.6px;top:36.4px;width:1px;height:1.6px"></b><b class="tm" style="left:914.8px;top:231.5px;width:1.6px;height:1px"></b><b class="tm" style="left:1563.6px;top:231.5px;width:1.6px;height:1px"></b><b class="tm" style="left:914.8px;top:166.3px;width:1.6px;height:1px"></b><b class="tm" style="left:1563.6px;top:166.3px;width:1.6px;height:1px"></b><b class="tm" style="left:914.8px;top:101.1px;width:1.6px;height:1px"></b><b class="tm" style="left:1563.6px;top:101.1px;width:1.6px;height:1px"></b>
<div class="tw" style="left:104.3px;top:319.6px;width:662.6px;height:270.9px"><span class="tk" style="left:6.0px;top:263.6px">0</span><span class="tk" style="left:136.0px;top:263.6px">10</span><span class="tk" style="left:266.0px;top:263.6px">20</span><span class="tk" style="left:396.0px;top:263.6px">30</span><span class="tk" style="left:526.0px;top:263.6px">40</span><span class="tk" style="left:656.0px;top:263.6px">50</span><span class="tk tky" style="left:-1.5px;top:259.4px">0</span><span class="tk tky" style="left:-1.5px;top:194.3px">5</span><span class="tk tky" style="left:-1.5px;top:129.2px">10</span><span class="tk tky" style="left:-1.5px;top:64.2px">15</span><span class="tk tky" style="left:-1.5px;top:-0.9px">20</span><span class="tk tx" style="left:306.0px;top:266.6px;width:60px">horizontal [nm]</span><span class="tk tx tv" style="left:-26.5px;top:129.2px;width:60px">vertical [nm]</span></div><b class="tm" style="left:244.8px;top:580.4px;width:1px;height:1.6px"></b><b class="tm" style="left:244.8px;top:321.7px;width:1px;height:1.6px"></b><b class="tm" style="left:374.8px;top:580.4px;width:1px;height:1.6px"></b><b class="tm" style="left:374.8px;top:321.7px;width:1px;height:1.6px"></b><b class="tm" style="left:504.8px;top:580.4px;width:1px;height:1.6px"></b><b class="tm" style="left:504.8px;top:321.7px;width:1px;height:1.6px"></b><b class="tm" style="left:634.8px;top:580.4px;width:1px;height:1.6px"></b><b class="tm" style="left:634.8px;top:321.7px;width:1px;height:1.6px"></b><b class="tm" style="left:115.3px;top:516.4px;width:1.6px;height:1px"></b><b class="tm" style="left:763.7px;top:516.4px;width:1.6px;height:1px"></b><b class="tm" style="left:115.3px;top:451.4px;width:1.6px;height:1px"></b><b class="tm" style="left:763.7px;top:451.4px;width:1.6px;height:1px"></b><b class="tm" style="left:115.3px;top:386.3px;width:1.6px;height:1px"></b><b class="tm" style="left:763.7px;top:386.3px;width:1.6px;height:1px"></b>
<div class="tw" style="left:893.8px;top:322.0px;width:662.7px;height:268.7px"><span class="tk" style="left:5.4px;top:261.8px">0</span><span class="tk" style="left:135.7px;top:261.8px">10</span><span class="tk" style="left:266.0px;top:261.8px">20</span><span class="tk" style="left:396.2px;top:261.8px">30</span><span class="tk" style="left:526.5px;top:261.8px">40</span><span class="tk" style="left:656.8px;top:261.8px">50</span><span class="tk tky" style="left:-2.1px;top:257.6px">0</span><span class="tk tky" style="left:-2.1px;top:192.6px">5</span><span class="tk tky" style="left:-2.1px;top:127.6px">10</span><span class="tk tky" style="left:-2.1px;top:62.5px">15</span><span class="tk tky" style="left:-2.1px;top:-2.5px">20</span><span class="tk tx" style="left:306.1px;top:264.8px;width:60px">horizontal [nm]</span><span class="tk tx tv" style="left:-27.1px;top:127.6px;width:60px">vertical [nm]</span></div><b class="tm" style="left:1034.0px;top:581.0px;width:1px;height:1.6px"></b><b class="tm" style="left:1034.0px;top:322.5px;width:1px;height:1.6px"></b><b class="tm" style="left:1164.3px;top:581.0px;width:1px;height:1.6px"></b><b class="tm" style="left:1164.3px;top:322.5px;width:1px;height:1.6px"></b><b class="tm" style="left:1294.5px;top:581.0px;width:1px;height:1.6px"></b><b class="tm" style="left:1294.5px;top:322.5px;width:1px;height:1.6px"></b><b class="tm" style="left:1424.8px;top:581.0px;width:1px;height:1.6px"></b><b class="tm" style="left:1424.8px;top:322.5px;width:1px;height:1.6px"></b><b class="tm" style="left:904.2px;top:517.1px;width:1.6px;height:1px"></b><b class="tm" style="left:1554.0px;top:517.1px;width:1.6px;height:1px"></b><b class="tm" style="left:904.2px;top:452.1px;width:1.6px;height:1px"></b><b class="tm" style="left:1554.0px;top:452.1px;width:1.6px;height:1px"></b><b class="tm" style="left:904.2px;top:387.0px;width:1.6px;height:1px"></b><b class="tm" style="left:1554.0px;top:387.0px;width:1.6px;height:1px"></b>
<div class="tw" style="left:101.1px;top:614.9px;width:656.9px;height:270.9px"><span class="tk" style="left:4.9px;top:260.1px">0</span><span class="tk" style="left:133.2px;top:260.1px">10</span><span class="tk" style="left:261.5px;top:260.1px">20</span><span class="tk" style="left:389.9px;top:260.1px">30</span><span class="tk" style="left:518.2px;top:260.1px">40</span><span class="tk" style="left:646.5px;top:260.1px">50</span><span class="tk tky" style="left:-2.6px;top:255.9px">0</span><span class="tk tky" style="left:-2.6px;top:191.6px">5</span><span class="tk tky" style="left:-2.6px;top:127.4px">10</span><span class="tk tky" style="left:-2.6px;top:63.1px">15</span><span class="tk tky" style="left:-2.6px;top:-1.1px">20</span><span class="tk tx" style="left:300.7px;top:263.1px;width:60px">vertical [nm]</span></div><b class="tm" style="left:238.8px;top:872.2px;width:1px;height:1.6px"></b><b class="tm" style="left:238.8px;top:616.8px;width:1px;height:1.6px"></b><b class="tm" style="left:367.1px;top:872.2px;width:1px;height:1.6px"></b><b class="tm" style="left:367.1px;top:616.8px;width:1px;height:1.6px"></b><b class="tm" style="left:495.5px;top:872.2px;width:1px;height:1.6px"></b><b class="tm" style="left:495.5px;top:616.8px;width:1px;height:1.6px"></b><b class="tm" style="left:623.8px;top:872.2px;width:1px;height:1.6px"></b><b class="tm" style="left:623.8px;top:616.8px;width:1px;height:1.6px"></b><b class="tm" style="left:111.0px;top:809.0px;width:1.6px;height:1px"></b><b class="tm" style="left:751.0px;top:809.0px;width:1.6px;height:1px"></b><b class="tm" style="left:111.0px;top:744.8px;width:1.6px;height:1px"></b><b class="tm" style="left:751.0px;top:744.8px;width:1.6px;height:1px"></b><b class="tm" style="left:111.0px;top:680.5px;width:1.6px;height:1px"></b><b class="tm" style="left:751.0px;top:680.5px;width:1.6px;height:1px"></b><span class="tt" style="left:371.8px;top:612.6px;width:120px;font-size:3.4px">Intensity</span>
<div class="tw" style="left:904.9px;top:614.9px;width:659.3px;height:267.1px"><span class="tk" style="left:7.9px;top:261.0px">0</span><span class="tk" style="left:136.3px;top:261.0px">10</span><span class="tk" style="left:264.6px;top:261.0px">20</span><span class="tk" style="left:393.0px;top:261.0px">30</span><span class="tk" style="left:521.3px;top:261.0px">40</span><span class="tk" style="left:649.7px;top:261.0px">50</span><span class="tk tky" style="left:0.4px;top:256.8px">0</span><span class="tk tky" style="left:0.4px;top:192.3px">5</span><span class="tk tky" style="left:0.4px;top:127.8px">10</span><span class="tk tky" style="left:0.4px;top:63.3px">15</span><span class="tk tky" style="left:0.4px;top:-1.2px">20</span><span class="tk tx" style="left:303.8px;top:264.0px;width:60px">vertical [nm]</span></div><b class="tm" style="left:1045.7px;top:873.1px;width:1px;height:1.6px"></b><b class="tm" style="left:1045.7px;top:616.7px;width:1px;height:1.6px"></b><b class="tm" style="left:1174.0px;top:873.1px;width:1px;height:1.6px"></b><b class="tm" style="left:1174.0px;top:616.7px;width:1px;height:1.6px"></b><b class="tm" style="left:1302.4px;top:873.1px;width:1px;height:1.6px"></b><b class="tm" style="left:1302.4px;top:616.7px;width:1px;height:1.6px"></b><b class="tm" style="left:1430.7px;top:873.1px;width:1px;height:1.6px"></b><b class="tm" style="left:1430.7px;top:616.7px;width:1px;height:1.6px"></b><b class="tm" style="left:917.8px;top:809.7px;width:1.6px;height:1px"></b><b class="tm" style="left:1558.0px;top:809.7px;width:1.6px;height:1px"></b><b class="tm" style="left:917.8px;top:745.2px;width:1.6px;height:1px"></b><b class="tm" style="left:1558.0px;top:745.2px;width:1.6px;height:1px"></b><b class="tm" style="left:917.8px;top:680.7px;width:1.6px;height:1px"></b><b class="tm" style="left:1558.0px;top:680.7px;width:1.6px;height:1px"></b><span class="tt" style="left:1178.7px;top:612.5px;width:120px;font-size:4px">elastic_energy_density[eV/nm^3]</span>
<div class="lb" style="left:141.0px;top:40.1px;font-size:36.5px;line-height:36.5px;letter-spacing:-1.26px">a) exx</div>
<div class="lb" style="left:935.0px;top:46.1px;font-size:36.5px;line-height:36.5px;letter-spacing:-1.34px">b) eyy</div>
<div class="lb" style="left:144.2px;top:333.9px;font-size:36.5px;line-height:36.5px;letter-spacing:-1.68px">c) ezz</div>
<div class="lb" style="left:934.8px;top:338.1px;font-size:36.5px;line-height:36.5px;letter-spacing:-1px">d) eyz</div>
<div class="lb" style="left:128.4px;top:631.0px;font-size:36.5px;line-height:36.5px;letter-spacing:-1.07px">e) exx+ezz+eyy</div>
<div class="lb" style="left:948.0px;top:629.6px;font-size:36.5px;line-height:36.5px;letter-spacing:0px">f) energy</div>
</body></html>
